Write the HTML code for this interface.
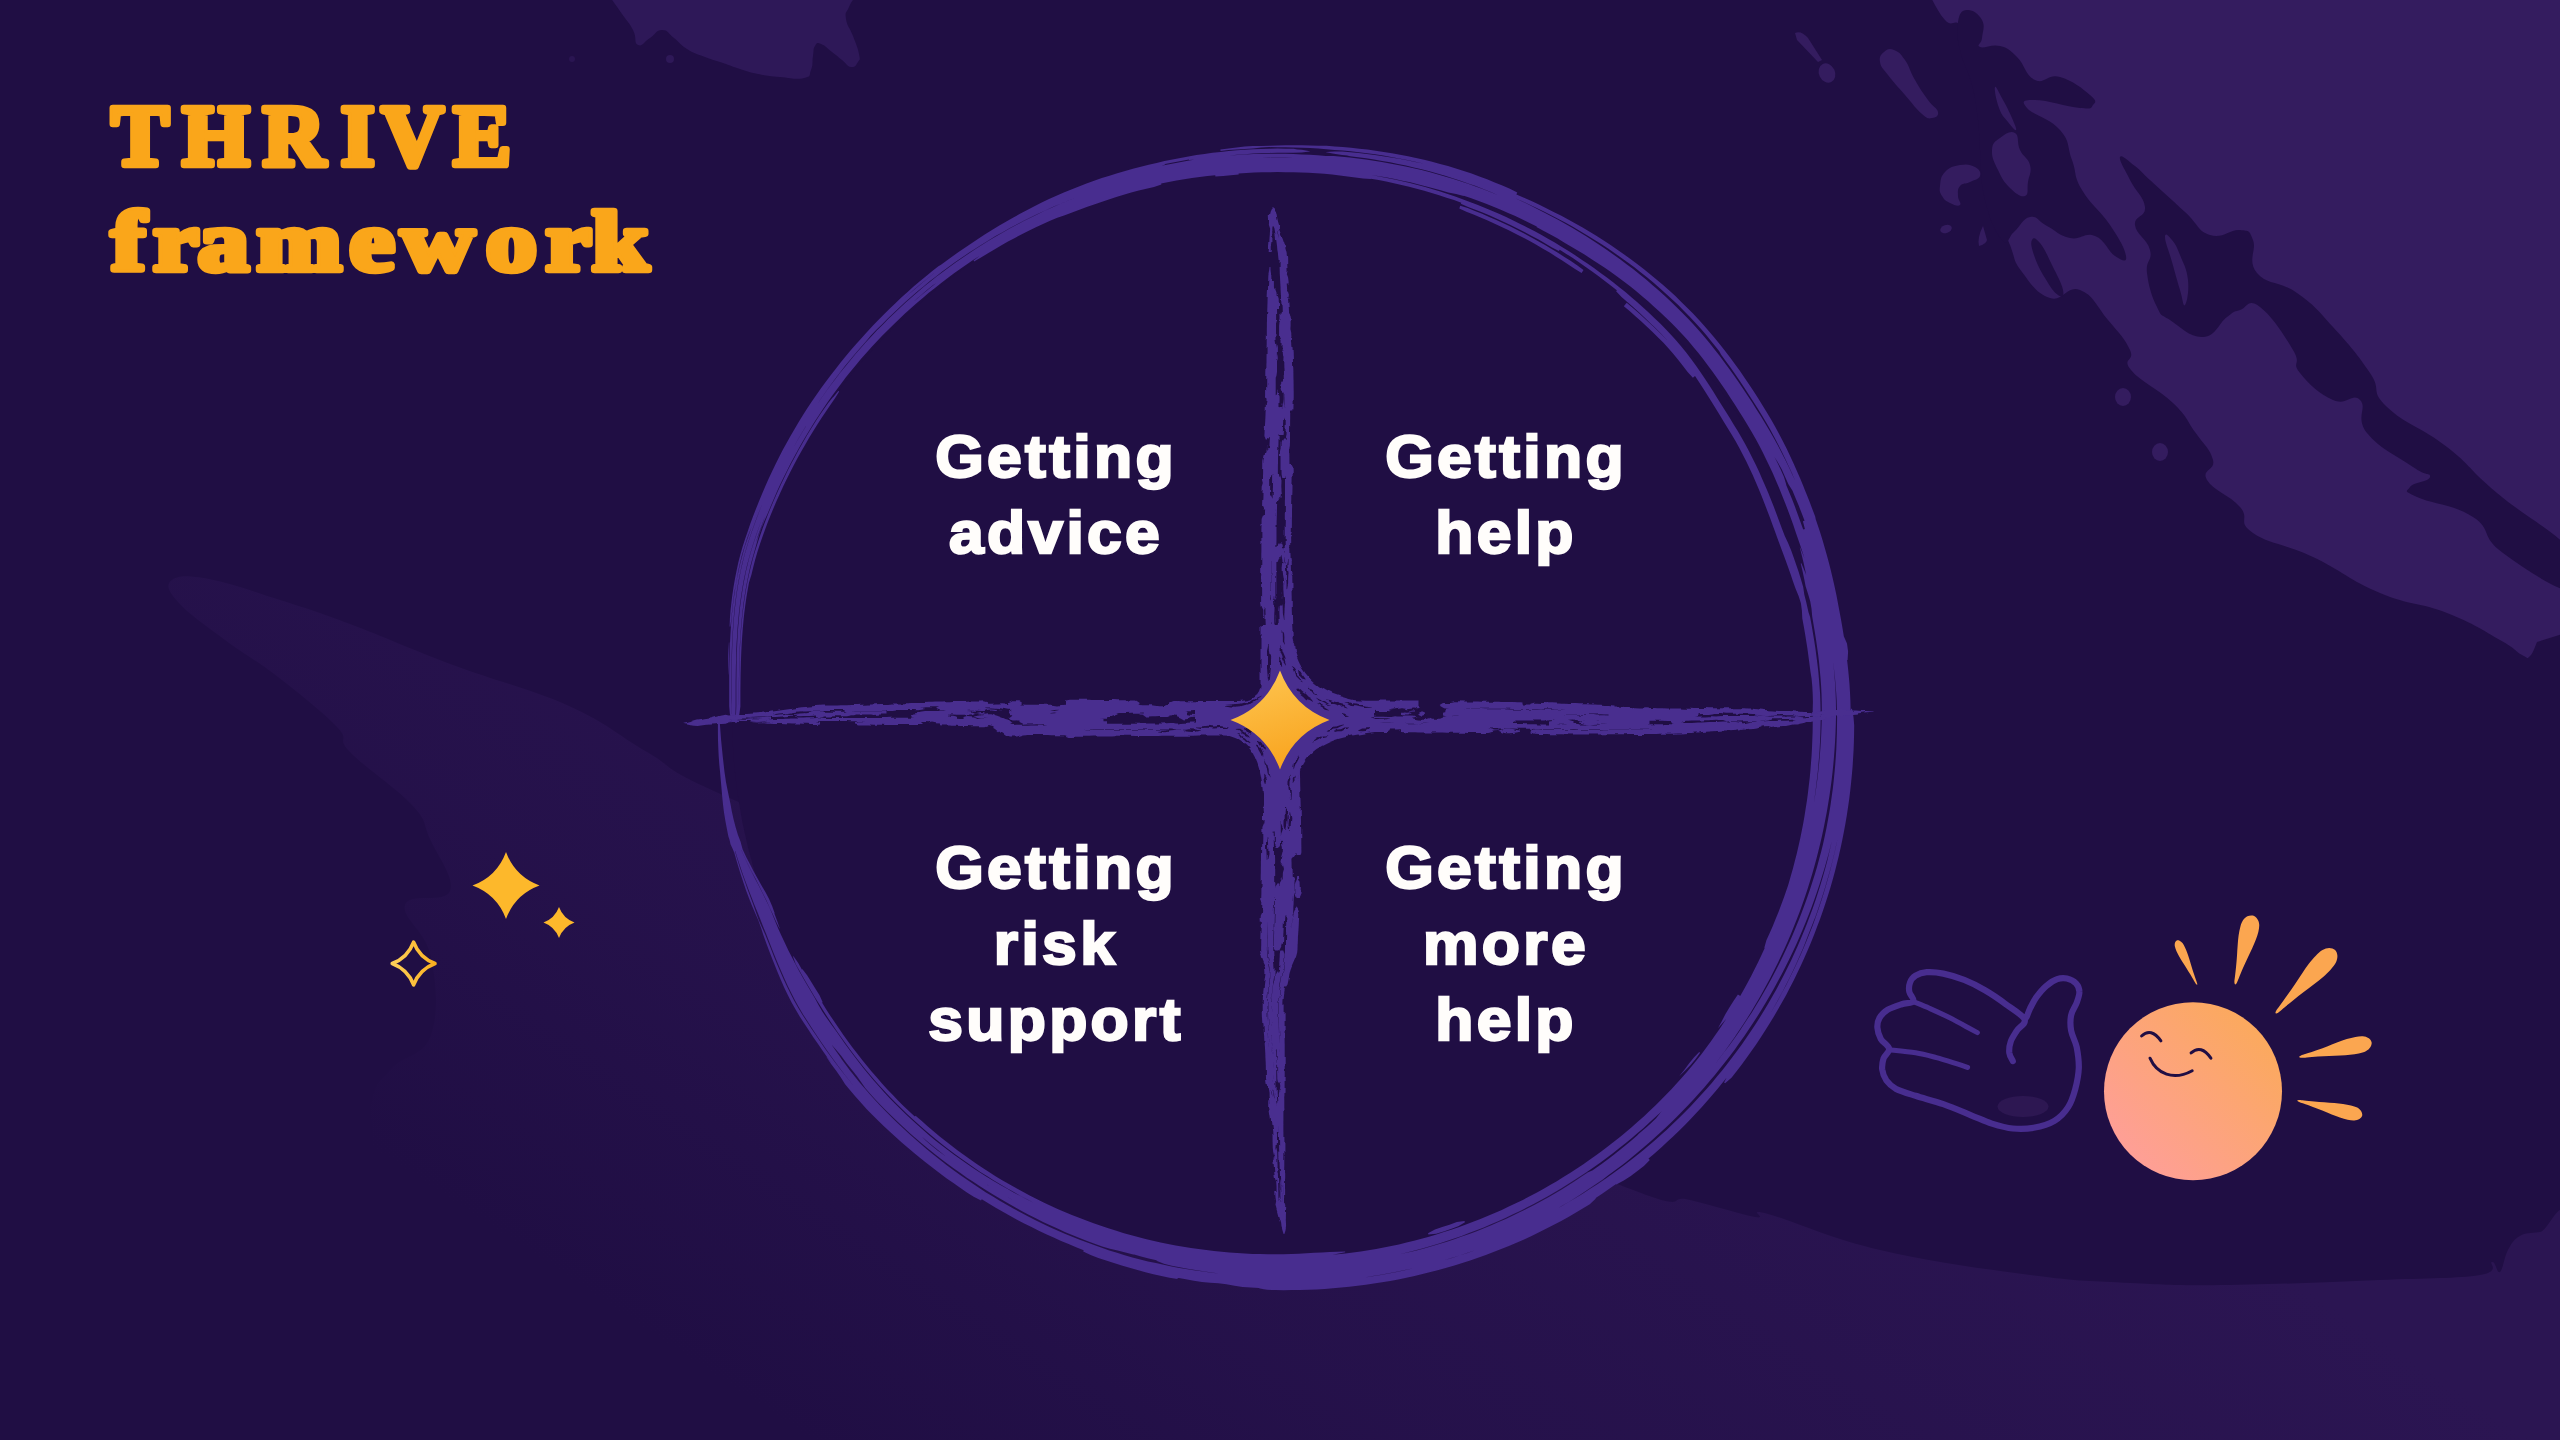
<!DOCTYPE html>
<html lang="en"><head><meta charset="utf-8"><title>THRIVE framework</title>
<style>
html,body{margin:0;padding:0;background:#200e44;}
body{width:2560px;height:1440px;position:relative;overflow:hidden;font-family:"Liberation Sans",sans-serif;}
svg{position:absolute;left:0;top:0;}
.q{position:absolute;width:500px;text-align:center;color:#fffdfb;font-weight:700;font-size:60px;line-height:76px;letter-spacing:3.2px;-webkit-text-stroke:2.4px #fffdfb;transform:scaleX(1.04);}
</style></head><body>
<svg width="2560" height="1440" viewBox="0 0 2560 1440">
<defs>
<filter id="rough" x="660" y="190" width="1240" height="1060" filterUnits="userSpaceOnUse"><feTurbulence type="fractalNoise" baseFrequency="0.09" numOctaves="2" seed="4" result="n"/><feDisplacementMap in="SourceGraphic" in2="n" scale="5" xChannelSelector="R" yChannelSelector="G"/></filter>
<linearGradient id="gbot" gradientUnits="userSpaceOnUse" x1="0" y1="900" x2="531" y2="104"><stop offset="0" stop-color="#2b1552" stop-opacity="0"/><stop offset="0.362" stop-color="#2b1552" stop-opacity="0.47"/><stop offset="1" stop-color="#2b1552" stop-opacity="1"/></linearGradient>
<linearGradient id="gstar" x1="0.3" y1="0" x2="0.6" y2="1"><stop offset="0" stop-color="#fdc44f"/><stop offset="1" stop-color="#f9a31d"/></linearGradient>
<linearGradient id="gspk" x1="0" y1="0" x2="1" y2="0"><stop offset="0" stop-color="#fdd05a"/><stop offset="1" stop-color="#fbb020"/></linearGradient>
<linearGradient id="gsun" x1="0.85" y1="0.15" x2="0.15" y2="0.85"><stop offset="0" stop-color="#fba95e"/><stop offset="1" stop-color="#fe9f96"/></linearGradient>
</defs>
<path d="M608,-6C611.7,-0.7 615.3,4.4 622,14C628.7,23.6 628.7,21.7 633,30C637.3,38.3 633.5,42.9 638,45C642.5,47.1 643.6,42 650,38C656.4,34 655.6,30 662,30C668.4,30 667.3,32.9 674,38C680.7,43.1 678.7,43.9 687,49C695.3,54.1 695.4,53.3 705,57C714.6,60.7 713.7,59.8 723,63C732.3,66.2 730.7,66.1 740,69C749.3,71.9 747.3,71.9 758,74C768.7,76.1 767.7,75.9 780,77C792.3,78.1 795.7,79.9 804,78C812.3,76.1 808.6,75.9 811,70C813.4,64.1 811.9,62.4 813,56C814.1,49.6 812.9,49.2 815,46C817.1,42.8 816.5,42.4 821,44C825.5,45.6 826.4,47.7 832,52C837.6,56.3 836.9,56 842,60C847.1,64 846.7,66.5 851,67C855.3,67.5 855.9,65.5 858,62C860.1,58.5 860.3,60.9 859,54C857.7,47.1 856.5,45.3 853,36C849.5,26.7 847.1,26.7 846,19C844.9,11.3 846.1,13.7 849,7C851.9,0.3 854.9,-2.5 857,-6 L860,-10 L606,-10 Z" fill="#2e1858"/>
<circle cx="670" cy="59" r="4" fill="#2e1858"/><circle cx="572" cy="59" r="3" fill="#2a1552"/>
<path d="M172,580C178.2,575.4 187.4,575 209,579C230.6,583 251.8,591 280,600C308.2,609 315.4,611 350,624C384.6,637 409.2,648.6 453,665C496.8,681.4 530.2,688.6 569,706C607.8,723.4 615.8,734 647,752C678.2,770 654.4,764.4 725,796C795.6,827.6 885,860.2 1000,910C1115,959.8 1176,990 1300,1045C1424,1100 1542,1154 1620,1185C1698,1216 1663,1193.6 1690,1200C1717,1206.4 1739.4,1214.2 1755,1217C1770.6,1219.8 1743,1207.4 1768,1214C1793,1220.6 1827.6,1237.8 1880,1250C1932.4,1262.2 1980,1268.4 2030,1275C2080,1281.6 2090,1281 2130,1283C2170,1285 2180,1285.6 2230,1285C2280,1284.4 2330,1282 2380,1280C2430,1278 2457.6,1278.6 2480,1275C2502.4,1271.4 2488,1262.6 2492,1262C2496,1261.4 2496.8,1274.4 2500,1272C2503.2,1269.6 2504,1257.2 2508,1250C2512,1242.8 2513.6,1239.6 2520,1236C2526.4,1232.4 2530,1233.6 2540,1232C2550,1230.4 2564,1184.4 2570,1228C2576,1271.6 3009.6,1405.6 2570,1450C2130.4,1494.4 811.6,1508.2 372,1450C-67.6,1391.8 372,1229 372,1159C372,1089 368,1118.2 372,1100C376,1081.8 380.2,1081 392,1068C403.8,1055 423.2,1057.2 431,1035C438.8,1012.8 436.2,983 431,957C425.8,931 401.2,918.2 405,905C408.8,891.8 445,904.2 450,891C455,877.8 437.6,856.2 430,839C422.4,821.8 428,822.4 412,805C396,787.6 365,767.6 350,752C335,736.4 351.4,742 337,727C322.6,712 300.4,694.4 278,677C255.6,659.6 245,655 225,640C205,625 188.6,614 178,602C167.4,590 165.8,584.6 172,580Z" fill="url(#gbot)"/>
<path d="M1927,-10C1931.2,-3 1937.3,11.8 1945,20C1952.7,28.2 1953.7,18 1960,25C1966.3,32 1966.2,36 1972,50C1977.8,64 1980.8,68.7 1985,85C1989.2,101.3 1988.4,104.8 1990,120C1991.6,135.2 1990.8,131.3 1992,150C1993.2,168.7 1990.8,177.8 1995,200C1999.2,222.2 2003.7,228.2 2010,245C2016.3,261.8 2012.7,259.6 2022,272C2031.3,284.4 2036.5,293.8 2050,298C2063.5,302.2 2066.5,284.9 2080,290C2093.5,295.1 2096.3,306 2108,320C2119.7,334 2124.6,338.3 2130,350C2135.4,361.7 2121,357.6 2131,370C2141,382.4 2158.1,388.5 2173,403C2187.9,417.5 2185.7,418.7 2195,432C2204.3,445.3 2210.2,448.8 2213,460C2215.8,471.2 2200.7,469 2207,480C2213.3,491 2229.3,494.6 2240,507C2250.7,519.4 2236,521.3 2253,533C2270,544.7 2283.4,543 2313,557C2342.6,571 2348.7,579.9 2380,593C2411.3,606.1 2419,602 2447,613C2475,624 2482.5,630.2 2500,640C2517.5,649.8 2515,651.3 2522,655C2529,658.7 2526.5,659 2530,656C2533.5,653 2535.4,645.3 2537,642 L2575,630 L2575,-10 L1927,-10 Z" fill="#341c5f"/>
<path d="M1958,22C1959.6,12.7 1961.4,10.5 1967,10C1972.6,9.5 1978.5,13.5 1982,20C1985.5,26.5 1982.5,31.7 1982,38C1981.5,44.3 1975.8,45.1 1980,47C1984.2,48.9 1991.4,43.7 2000,46C2008.6,48.3 2008.8,49.1 2017,57C2025.2,64.9 2025,75.3 2035,80C2045,84.7 2047.2,73.5 2060,77C2072.8,80.5 2082.3,88.5 2090,95C2097.7,101.5 2095.3,102 2093,105C2090.7,108 2093.5,109.2 2080,108C2066.5,106.8 2047.4,100 2035,100C2022.6,100 2021.2,101 2027,108C2032.8,115 2049.5,117.9 2060,130C2070.5,142.1 2066.9,146 2072,160C2077.1,174 2073.1,174.8 2082,190C2090.9,205.2 2099.7,209.6 2110,225C2120.3,240.4 2124.8,248.8 2126,256C2127.2,263.2 2122.2,260.7 2115,256C2107.8,251.3 2105.5,240.2 2095,236C2084.5,231.8 2081.2,240.3 2070,238C2058.8,235.7 2056.3,230.9 2047,226C2037.7,221.1 2037.7,215.6 2030,217C2022.3,218.4 2020.5,226.6 2014,232C2007.5,237.4 2008.8,247.5 2002,240C1995.2,232.5 1990.1,221 1985,200C1979.9,179 1981.6,168.7 1980,150C1978.4,131.3 1979.9,135.2 1978,120C1976.1,104.8 1976.2,101.3 1972,85C1967.8,68.7 1963.3,64.7 1960,50C1956.7,35.3 1956.4,31.3 1958,22Z" fill="#200e44"/>
<path d="M1995,87C1995.9,85.1 1999,92.8 2003,100C2007,107.2 2009,111 2012,118C2015,125 2016.9,129.1 2016,130C2015.1,130.9 2012,127.1 2008,122C2004,116.9 2002,116.2 1999,108C1996,99.8 1994.1,88.9 1995,87Z" fill="#341c5f"/>
<path d="M2015,133C2019.7,135.8 2016.5,142.5 2020,150C2023.5,157.5 2028.1,157.5 2030,165C2031.9,172.5 2029.2,174.8 2028,182C2026.8,189.2 2029.2,194.6 2025,196C2020.8,197.4 2016.3,194.1 2010,188C2003.7,181.9 2002.2,178.9 1998,170C1993.8,161.1 1991.5,157.5 1992,150C1992.5,142.5 1994.6,142 2000,138C2005.4,134 2010.3,130.2 2015,133Z" fill="#341c5f"/>
<path d="M2032,240C2033.4,237.2 2035.3,237.2 2040,243C2044.7,248.8 2046.6,254 2052,265C2057.4,276 2061.6,283 2063,290C2064.4,297 2062.2,297.8 2058,295C2053.8,292.2 2050.6,287.3 2045,278C2039.4,268.7 2037,263.9 2034,255C2031,246.1 2030.6,242.8 2032,240Z" fill="#200e44"/>
<path d="M1940,186C1940.7,180.4 1940.3,176.9 1945,172C1949.7,167.1 1953,166.2 1960,165C1967,163.8 1970.3,164.4 1975,167C1979.7,169.6 1981.2,172.5 1980,176C1978.8,179.5 1974.7,179.7 1970,182C1965.3,184.3 1962.8,182.7 1960,186C1957.2,189.3 1958,191.6 1958,196C1958,200.4 1961.9,203.4 1960,205C1958.1,206.6 1954.2,205.1 1950,203C1945.8,200.9 1944.3,200 1942,196C1939.7,192 1939.3,191.6 1940,186Z" fill="#341c5f"/>
<ellipse cx="1946" cy="229" rx="6" ry="4" fill="#341c5f" transform="rotate(-20 1946 229)"/>
<path d="M1983,226 Q1977,238 1979,246 Q1986,244 1987,240 Z" fill="#341c5f"/>
<path d="M1880,62C1879.1,56.6 1880.7,54.8 1884,52C1887.3,49.2 1889.1,48.1 1894,50C1898.9,51.9 1900.1,53 1905,60C1909.9,67 1909.6,70.7 1915,80C1920.4,89.3 1922.6,92.5 1928,100C1933.4,107.5 1937.1,107.8 1938,112C1938.9,116.2 1935.7,117.5 1932,118C1928.3,118.5 1928.3,119.4 1922,114C1915.7,108.6 1912.9,104.1 1905,95C1897.1,85.9 1893.8,82.7 1888,75C1882.2,67.3 1880.9,67.4 1880,62Z" fill="#341c5f"/>
<path d="M1795,33 Q1801,30 1808,38 L1822,60 L1818,62 L1797,40 Z" fill="#341c5f"/>
<ellipse cx="1827" cy="73" rx="8" ry="10" fill="#341c5f" transform="rotate(-25 1827 73)"/>
<path d="M2120,157C2121.2,153.7 2128,160.6 2135,166C2142,171.4 2138.3,169.3 2150,180C2161.7,190.7 2171,199.2 2185,212C2199,224.8 2197.2,230.8 2210,235C2222.8,239.2 2230,228.8 2240,230C2250,231.2 2249,230 2253,240C2257,250 2246.7,260.6 2257,273C2267.3,285.4 2279.3,280.4 2297,293C2314.7,305.6 2316,308.3 2333,327C2350,345.7 2357.4,354.3 2370,373C2382.6,391.7 2369,389.7 2387,407C2405,424.3 2421.3,426.9 2447,447C2472.7,467.1 2467.1,467.8 2497,493C2526.9,518.2 2556.8,531.9 2575,555C2593.2,578.1 2591.8,592.5 2575,592C2558.2,591.5 2526.8,570.5 2503,553C2479.2,535.5 2493.1,530.1 2473,517C2452.9,503.9 2431.7,504 2417,497C2402.3,490 2407,491.7 2410,487C2413,482.3 2429.3,481.7 2430,477C2430.7,472.3 2427.7,477.3 2413,467C2398.3,456.7 2379.4,448.6 2367,433C2354.6,417.4 2367.9,407.7 2360,400C2352.1,392.3 2347,406.3 2333,400C2319,393.7 2309.3,384.7 2300,373C2290.7,361.3 2302.3,365.4 2293,350C2283.7,334.6 2272.4,316.3 2260,307C2247.6,297.7 2247.7,307.7 2240,310C2232.3,312.3 2235.6,310.7 2227,317C2218.4,323.3 2216.3,336.3 2203,337C2189.7,337.7 2180.7,327 2170,320C2159.3,313 2162.4,318 2157,307C2151.6,296 2148.6,286.3 2147,273C2145.4,259.7 2152.8,261.2 2150,250C2147.2,238.8 2136.2,235 2135,225C2133.8,215 2146.2,217.5 2145,207C2143.8,196.5 2135.8,191.7 2130,180C2124.2,168.3 2118.8,160.3 2120,157Z" fill="#200e44"/>
<path d="M2165,237C2165,231.9 2168.5,235.8 2172,240C2175.5,244.2 2176.3,245.7 2180,255C2183.7,264.3 2186.8,268.3 2188,280C2189.2,291.7 2186.9,302.7 2185,305C2183.1,307.3 2183,300 2180,290C2177,280 2175.5,274.4 2172,262C2168.5,249.6 2165,242.1 2165,237Z" fill="#341c5f"/>
<ellipse cx="2123" cy="397" rx="8" ry="9" fill="#341c5f"/><ellipse cx="2160" cy="452" rx="8" ry="9" fill="#341c5f"/>
<circle cx="1280" cy="716" r="548" fill="#200e44"/>
<path d="M720,732.1L720.1,740.1L720.6,748.1L721.3,756.1L722.1,764.1L723,772.1L724,780L725.8,787.9L726.7,787.8L725.7,779.9L724.5,771.9L723.6,764L722.7,756L721.9,748L721.1,740.1L720.2,732.1ZM735.8,834.9L737.8,842.6L741.8,849.8L745.1,857.2L748.6,864.4L752.4,871.6L756.2,878.6L760,885.7L763.6,892.7L767.2,899.8L770.9,906.7L774.6,913.6L774.8,913.6L772.2,906.2L769.1,899.1L765.4,892.1L761.4,885.2L757.5,878.3L753.6,871.2L749.9,864.1L746.2,856.9L742.7,849.6L740.6,842L737.1,834.6ZM801.7,969.6L804.7,976.8L808.7,983.5L812.7,990.1L816.7,996.7L821.6,1002.8L822.7,1002.2L819.4,995.1L815.3,988.6L811.3,982L807.3,975.4L802.5,969.2ZM913.6,1117.8L919.2,1123.3L925,1128.5L931,1133.6L936.9,1138.6L943,1143.5L949.1,1148.3L955.4,1153L961.6,1157.7L968,1162.2L974.4,1166.7L980.9,1171L987.4,1175.3L994,1179.5L1000.7,1183.5L1007.4,1187.5L1014.2,1191.4L1021,1195.1L1027.9,1198.8L1034.9,1202.4L1041.9,1205.8L1048.9,1209.2L1056,1212.4L1063.2,1215.6L1070.4,1218.6L1077.6,1221.5L1084.9,1224.4L1092.2,1227.1L1099.6,1229.7L1107,1232.2L1114.4,1234.6L1121.8,1236.9L1129.3,1239L1136.9,1241.1L1144.4,1243L1152,1244.9L1159.6,1246.6L1167.2,1248.2L1174.9,1249.7L1182.6,1251.1L1190.3,1252.3L1198,1253.5L1205.7,1254.5L1213.4,1255.5L1221.2,1256.3L1229,1257L1236.7,1257.6L1244.5,1258L1252.3,1258.4L1260.1,1258.7L1267.8,1258.8L1275.6,1258.8L1283.4,1258.8L1291.2,1258.6L1299,1258.3L1306.7,1257.8L1314.5,1257.3L1322.2,1256.4L1329.9,1255.2L1337.6,1253.8L1345.2,1252.2L1345.1,1251.4L1337.3,1251.7L1329.6,1252.1L1321.9,1252.4L1314.2,1252.8L1306.5,1253.3L1298.8,1253.7L1291.1,1254L1283.4,1254.2L1275.7,1254.3L1267.9,1254.3L1260.2,1254.1L1252.5,1253.9L1244.8,1253.5L1237.1,1253.1L1229.4,1252.5L1221.7,1251.8L1214,1251L1206.3,1250.1L1198.6,1249.1L1191,1248L1183.4,1246.8L1175.7,1245.4L1168.1,1244L1160.6,1242.4L1153,1240.7L1145.5,1238.9L1138,1237L1130.5,1235L1123.1,1232.9L1115.6,1230.6L1108.3,1228.3L1100.9,1225.8L1093.6,1223.3L1086.3,1220.6L1079.1,1217.8L1071.9,1214.9L1064.7,1212L1057.6,1208.9L1050.6,1205.7L1043.6,1202.4L1036.6,1198.9L1029.7,1195.4L1022.8,1191.8L1016,1188.1L1009.3,1184.3L1002.6,1180.4L995.9,1176.4L989.4,1172.2L982.8,1168L976.4,1163.7L970,1159.3L963.7,1154.8L957.4,1150.2L951.3,1145.5L945.2,1140.8L939.1,1135.9L933.2,1130.9L927.3,1125.9L921.5,1120.7L915.6,1115.7ZM1428.4,1234.6L1436.2,1233.7L1443.6,1231.4L1450.9,1228.9L1458.3,1226.3L1465,1222.2L1464.5,1220.9L1456.8,1222.1L1449.5,1224.7L1442.2,1227.1L1434.9,1229.5L1428,1233.2ZM1679.7,1075.8L1685.2,1070.4L1690.6,1064.9L1695.6,1059L1700.1,1052.7L1699.2,1051.9L1693.9,1057.6L1689,1063.5L1684.4,1069.7L1679.5,1075.7ZM1718.4,1027.8L1723.5,1022L1728.6,1016.1L1733.2,1009.9L1737.4,1003.3L1741.1,996.5L1737.9,994.6L1733.5,1000.9L1729.4,1007.4L1725.5,1014L1721.9,1020.9L1718.2,1027.7ZM1766.2,948.6L1770.7,942.1L1773.9,935.1L1777,928L1780,920.9L1782.9,913.7L1785.7,906.5L1788.4,899.2L1791,891.9L1793.4,884.5L1795.8,877.2L1798.1,869.8L1800.3,862.3L1802.3,854.9L1804.3,847.4L1805.5,839.7L1805.9,831.8L1805,831.7L1801.9,838.9L1799.6,846.2L1797.6,853.6L1795.6,861L1793.5,868.4L1791.2,875.7L1788.9,883.1L1786.4,890.3L1783.9,897.6L1781.2,904.8L1778.5,911.9L1775.6,919.1L1772.7,926.2L1769.6,933.2L1766.4,940.2L1764.3,947.7ZM1812.9,801.7L1814.9,794.2L1816,786.5L1816.9,778.8L1817.8,771.1L1818.5,763.4L1819.2,755.7L1819.7,747.9L1820.1,740.2L1820.4,732.5L1820.6,724.7L1820.7,717L1820.6,709.2L1820.4,701.5L1820.1,693.7L1819.5,686L1818.9,678.3L1818.1,670.6L1817.2,662.9L1816.1,655.2L1815,647.5L1813.8,639.9L1812.4,632.3L1811,624.7L1809.5,617.1L1807.9,609.6L1806.2,602L1804.3,594.6L1802,587.2L1798.9,580L1795.8,580.8L1797.4,588.3L1799.5,595.7L1801.4,603.1L1803.1,610.5L1804.7,618L1806.2,625.5L1807.6,633.1L1808.9,640.6L1810.1,648.2L1811.3,655.8L1812.3,663.4L1813.2,671L1813.9,678.6L1814.6,686.3L1815.1,693.9L1815.4,701.6L1815.7,709.3L1815.7,716.9L1815.6,724.6L1815.4,732.3L1815.1,740L1814.7,747.6L1814.2,755.3L1813.6,763L1812.9,770.6L1812,778.2L1811.1,785.9L1810,793.5L1809.6,801.2ZM1695,376L1691.2,369.1L1686.6,362.9L1681.8,356.9L1676.8,350.9L1671.7,345.1L1666.4,339.5L1661,334L1655.4,328.6L1649.8,323.3L1644.1,318L1638.4,312.8L1632.6,307.8L1626.7,302.7L1623.8,306.2L1629.6,311.1L1635.4,316.2L1641.1,321.3L1646.7,326.6L1652.3,331.8L1657.8,337.2L1663.2,342.6L1668.4,348.3L1673.4,354L1678.3,360L1683,366L1687.6,372.1L1692.9,377.7ZM1583.5,270.1L1577.4,265.4L1570.9,261.1L1564.4,256.9L1557.9,252.8L1551.2,248.8L1544.6,244.8L1537.8,241L1531,237.2L1524.2,233.6L1517.3,230L1510.4,226.6L1503.4,223.3L1496.3,220L1489.2,216.9L1482.1,213.8L1474.9,210.9L1467.7,208.1L1460.2,205.8L1459.3,208.6L1466.3,211.8L1473.5,214.6L1480.6,217.5L1487.7,220.5L1494.7,223.7L1501.7,226.9L1508.7,230.2L1515.5,233.7L1522.4,237.2L1529.2,240.8L1535.9,244.6L1542.5,248.4L1549.2,252.3L1555.7,256.4L1562.2,260.5L1568.6,264.7L1575,268.9L1581.6,273ZM1238.6,173.2L1230.7,173.4L1222.9,173.9L1215.2,174.8L1215.4,176.5L1223.2,176L1230.9,175.2L1238.7,174.5ZM1161.1,183.3L1153.3,184L1145.6,185.8L1138,187.7L1130.4,189.8L1122.9,191.9L1115.4,194.2L1107.9,196.6L1100.5,199.1L1093.1,201.7L1085.7,204.3L1078.3,207.1L1071,210L1063.9,213.1L1056.9,216.8L1057.3,217.7L1064.8,215.3L1072.1,212.6L1079.4,209.8L1086.7,207.1L1094.1,204.4L1101.4,201.9L1108.8,199.4L1116.3,197L1123.7,194.7L1131.2,192.6L1138.8,190.6L1146.4,188.7L1154,187L1161.4,184.5ZM838.3,391L833.4,397.1L828.9,403.6L824.5,410.1L820.1,416.7L815.9,423.3L811.7,430L807.7,436.7L803.7,443.5L799.8,450.3L796,457.2L792.3,464.2L788.7,471.1L785.2,478.2L781.8,485.3L778.5,492.4L775.3,499.6L772.2,506.9L769.2,514.2L766.3,521.5L763.5,528.9L760.9,536.3L758.3,543.7L755.9,551.2L753.7,558.8L751.7,566.4L749.9,574.1L748.9,581.9L749.2,582L751.5,574.5L753.3,566.9L755.3,559.3L757.5,551.7L759.9,544.3L762.5,536.8L765.1,529.4L767.9,522.1L770.8,514.8L773.8,507.5L776.9,500.3L780.1,493.2L783.4,486L786.8,479L790.3,472L793.9,465L797.6,458.1L801.4,451.2L805.3,444.4L809.3,437.6L813.3,430.9L817.5,424.3L821.7,417.7L826.1,411.2L830.5,404.7L835,398.3L839.2,391.6ZM719.5,716L719.6,724L719.6,732.1L720,740.1L720.6,748.1L721.3,756.1L722,764.1L722.9,772.1L723.9,780.1L725.1,788L726.4,795.9L727.8,803.8L729.6,811.6L731,819.5L732.4,827.4L734.5,835.1L737,842.8L741.4,849.9L744.6,857.3L748.1,864.6L751.7,871.8L755.6,878.8L759.2,885.9L762.7,893.1L766.2,900.1L769.5,907.2L772.8,914.3L776,921.5L779.5,928.4L779.8,928.4L777.2,921L774.5,913.7L771.5,906.5L768.1,899.4L764.5,892.4L760.6,885.5L756.6,878.5L753,871.4L749.3,864.2L745.7,857L742.3,849.7L740.7,841.9L737.8,834.4L735.5,826.8L733.5,819L731.8,811.3L730.4,803.4L728.7,795.6L727.1,787.7L725.6,779.9L724.4,771.9L723.5,764L722.6,756L721.8,748L721.1,740.1L720.5,732L719.9,724L719.8,716ZM793,956.6L795.7,963.9L799.5,970.8L803.3,977.5L807.2,984.3L811.2,991L815.2,997.7L819.3,1004.3L823.5,1010.9L827.7,1017.4L832,1023.9L836.4,1030.4L840.8,1036.8L845.3,1043.1L850,1049.4L854.7,1055.7L859.4,1061.8L864.3,1067.9L869.3,1073.9L874.4,1079.9L879.5,1085.8L884.8,1091.5L890.2,1097.2L895.6,1102.8L901.2,1108.3L906.8,1113.7L912.5,1119.1L918.3,1124.3L924.2,1129.5L930.1,1134.5L936.2,1139.5L942.3,1144.4L948.4,1149.2L954.7,1153.9L961,1158.6L967.4,1163.1L973.8,1167.5L980.3,1171.9L986.9,1176.1L993.5,1180.3L1000.2,1184.3L1007,1188.3L1013.8,1192.1L1020.6,1195.9L1027.5,1199.5L1034.5,1203.1L1041.5,1206.6L1048.6,1209.9L1055.7,1213.2L1062.8,1216.3L1070,1219.4L1077.3,1222.3L1084.6,1225.2L1091.9,1227.9L1099.3,1230.5L1106.7,1233.1L1114.1,1235.5L1121.6,1237.8L1129.1,1240L1136.6,1242.1L1144.1,1244.1L1151.7,1246L1159.3,1247.8L1167,1249.5L1174.6,1251.1L1182.3,1252.5L1190,1253.9L1197.7,1255.1L1205.5,1256.3L1213.2,1257.3L1221,1258.2L1228.8,1259L1236.6,1259.7L1244.3,1260.3L1252.2,1260.8L1260,1261.2L1267.8,1261.4L1275.6,1261.6L1283.4,1261.6L1291.3,1261.6L1299.1,1261.4L1306.9,1261.1L1314.7,1260.7L1322.5,1260.2L1330.3,1259.6L1338.1,1258.8L1345.9,1258L1353.7,1257L1361.4,1255.9L1369.1,1254.7L1376.9,1253.4L1384.6,1252L1392.3,1250.5L1399.9,1248.9L1407.5,1247.1L1415.1,1245.3L1422.7,1243.3L1430.3,1241.2L1437.8,1239L1445.3,1236.7L1452.7,1234.3L1460.2,1231.8L1467.5,1229.2L1474.9,1226.4L1482.2,1223.6L1489.4,1220.7L1496.7,1217.6L1503.8,1214.5L1511,1211.2L1517.5,1206.8L1524.2,1202.7L1531.1,1199.1L1538.1,1195.6L1545.1,1192L1552.3,1188.9L1559.4,1185.5L1566.1,1181.4L1572.7,1177.3L1579.3,1173L1585.8,1168.6L1592.2,1164.2L1598.6,1159.6L1604.9,1155L1611.1,1150.2L1617.3,1145.4L1623.4,1140.5L1629.4,1135.5L1635.3,1130.4L1641.2,1125.2L1647,1119.9L1652.7,1114.6L1658.3,1109.2L1663.8,1103.6L1669.3,1098L1674.7,1092.4L1680,1086.6L1685.2,1080.8L1690.3,1074.8L1695.3,1068.8L1700.2,1062.8L1705,1056.6L1709.8,1050.4L1714.4,1044.1L1718.9,1037.8L1723.4,1031.4L1727.7,1024.9L1732,1018.4L1736.1,1011.8L1740.2,1005.1L1744.1,998.4L1748,991.6L1751.7,984.8L1755.3,977.9L1758.9,971L1762.3,964L1765.7,957L1768.9,949.9L1772,942.8L1775.1,935.6L1778,928.4L1780.8,921.2L1783.5,913.9L1786.1,906.6L1788.6,899.3L1791,891.9L1793.3,884.5L1795.5,877.1L1797.6,869.6L1799.6,862.1L1801.5,854.6L1803.2,847.1L1804.9,839.5L1806.5,832L1807.9,824.4L1809.3,816.8L1810.6,809.2L1811.7,801.5L1812.8,793.9L1813.7,786.2L1814.6,778.5L1815.3,770.9L1816,763.2L1816.5,755.5L1817,747.8L1817.3,740.1L1817.6,732.4L1817.7,724.7L1817.7,717L1817.7,709.2L1817,701.5L1816.4,693.9L1815.9,686.2L1815.3,678.5L1815.1,670.8L1814.3,663.2L1813.3,655.5L1812.2,647.9L1811.1,640.3L1809.8,632.7L1808.5,625.1L1807.1,617.6L1804.5,610.2L1802.3,602.9L1800.9,595.3L1799.8,587.7L1797.9,580.3L1795.5,573L1793,565.7L1790.5,558.5L1787.9,551.3L1785.2,544.1L1782.6,536.9L1780,529.7L1777.4,522.5L1774.7,515.3L1772,508.2L1769.2,501L1766.4,493.9L1763.4,486.8L1760.4,479.8L1757.3,472.7L1754,465.8L1750.7,458.8L1747.2,452L1743.6,445.2L1739.8,438.5L1735.9,431.8L1731.9,425.2L1727.9,418.7L1723.8,412.1L1719.8,405.5L1715.7,399L1711.6,392.4L1707.4,385.9L1703.1,379.4L1698.7,372.9L1694.2,366.6L1689.6,360.3L1684.9,354.1L1680,348L1674.9,342.1L1669.7,336.3L1664.3,330.6L1658.8,325.1L1653.2,319.6L1647.6,314.2L1641.8,308.9L1636,303.7L1630.2,298.6L1624.1,293.7L1617.5,289.4L1616.1,291.2L1621.5,296.9L1627.3,302L1633.1,307.1L1638.9,312.3L1644.5,317.6L1650.1,322.9L1655.7,328.3L1661.1,333.8L1666.5,339.4L1671.6,345.2L1676.6,351.1L1681.4,357.2L1686.1,363.4L1690.6,369.6L1695,376L1699.3,382.4L1703.5,388.9L1707.6,395.4L1711.7,401.9L1715.7,408.4L1719.7,415L1723.6,421.5L1727.6,428L1731.6,434.5L1735.5,441.1L1739.2,447.8L1742.7,454.5L1746.2,461.3L1749.5,468.2L1752.7,475.1L1755.7,482.1L1758.7,489.1L1761.6,496.1L1764.4,503.2L1767.1,510.2L1769.8,517.3L1772.4,524.4L1775,531.6L1777.6,538.7L1780.2,545.8L1782.9,552.9L1785.5,560L1788.1,567.2L1790.6,574.3L1793,581.6L1795.6,588.8L1798.6,595.9L1800.9,603.2L1801.9,610.8L1802.3,618.5L1803.7,626L1805,633.5L1806.2,641L1807.4,648.5L1808.4,656.1L1809.4,663.6L1810.4,671.2L1811.6,678.8L1812.3,686.4L1812.7,694L1812.9,701.7L1812.7,709.3L1812.8,716.9L1812.7,724.6L1812.6,732.2L1812.3,739.9L1812,747.5L1811.6,755.1L1811,762.7L1810.4,770.4L1809.7,778L1808.8,785.6L1807.9,793.2L1806.9,800.7L1805.7,808.3L1804.5,815.9L1803.2,823.4L1801.7,830.9L1800.2,838.4L1798.5,845.9L1796.8,853.4L1794.9,860.8L1793,868.3L1790.9,875.6L1788.8,883L1786.5,890.4L1784.2,897.7L1781.7,904.9L1779.1,912.2L1776.4,919.4L1773.7,926.6L1770.8,933.7L1767.8,940.8L1764.7,947.9L1761.5,954.9L1758.2,961.9L1754.8,968.8L1751.3,975.7L1747.7,982.5L1744,989.3L1740.2,996L1736.3,1002.7L1732.3,1009.3L1728.2,1015.8L1724,1022.3L1719.7,1028.8L1715.3,1035.1L1710.8,1041.4L1706.2,1047.7L1701.6,1053.9L1696.8,1059.9L1691.9,1066L1686.9,1071.9L1681.9,1077.8L1676.7,1083.6L1671.5,1089.3L1666.2,1094.9L1660.7,1100.5L1655.2,1106L1649.7,1111.4L1644,1116.7L1638.2,1121.9L1632.4,1127L1626.5,1132.1L1620.6,1137L1614.5,1141.9L1608.4,1146.7L1602.2,1151.4L1596,1156L1589.7,1160.5L1583.3,1164.9L1576.8,1169.3L1570.3,1173.5L1563.7,1177.6L1557.1,1181.7L1550.7,1186.2L1544.4,1190.8L1537.7,1194.7L1530.9,1198.6L1523.9,1202.1L1516.6,1204.8L1509.1,1207.1L1502,1210.4L1494.9,1213.5L1487.7,1216.5L1480.5,1219.4L1473.3,1222.3L1466,1225L1458.7,1227.6L1451.3,1230.1L1443.9,1232.4L1436.5,1234.7L1429,1236.9L1421.6,1238.9L1414,1240.9L1406.5,1242.7L1398.9,1244.5L1391.3,1246.1L1383.7,1247.6L1376.1,1249L1368.4,1250.3L1360.7,1251.5L1353,1252.5L1345.3,1253.5L1337.6,1254.3L1329.9,1255L1322.2,1255.7L1314.4,1256.2L1306.7,1256.6L1298.9,1256.9L1291.2,1257L1283.4,1257.1L1275.6,1257.1L1267.9,1256.9L1260.1,1256.6L1252.4,1256.3L1244.6,1255.8L1236.9,1255.2L1229.2,1254.6L1221.5,1253.8L1213.8,1252.9L1206.1,1251.9L1198.4,1250.7L1190.7,1249.5L1183.1,1248.2L1175.5,1246.8L1167.9,1245.2L1160.3,1243.6L1152.7,1241.9L1145.2,1240L1137.7,1238L1130.2,1236L1122.8,1233.8L1115.4,1231.5L1108,1229.2L1100.6,1226.7L1093.3,1224.1L1086,1221.4L1078.8,1218.6L1071.6,1215.7L1064.4,1212.7L1057.3,1209.6L1050.2,1206.4L1043.2,1203.1L1036.2,1199.7L1029.3,1196.2L1022.4,1192.6L1015.6,1188.9L1008.8,1185.1L1002.1,1181.2L995.4,1177.2L988.8,1173.1L982.3,1168.9L975.8,1164.6L969.4,1160.2L963.1,1155.7L956.8,1151.1L950.6,1146.5L944.4,1141.7L938.3,1136.9L932.4,1131.9L926.4,1126.9L920.6,1121.8L914.8,1116.5L909.1,1111.2L903.5,1105.9L898,1100.4L892.6,1094.8L887.2,1089.2L882,1083.5L876.9,1077.6L871.8,1071.7L866.9,1065.8L862,1059.7L857.2,1053.6L852.5,1047.4L847.9,1041.2L843.4,1034.9L839,1028.5L834.6,1022.1L830.3,1015.7L826.1,1009.2L822,1002.6L817.9,996L813.8,989.4L809.8,982.8L805.8,976.2L801.9,969.4L798.1,962.7L793.5,956.3ZM1560.6,248.2L1554.1,243.8L1547.3,239.9L1540.5,236L1533.7,232.3L1526.7,228.6L1519.7,225.1L1512.7,221.6L1505.6,218.3L1498.5,215L1491.3,211.9L1484.1,208.9L1476.8,206L1469.5,203.1L1462,200.8L1460.9,203.8L1468.1,206.9L1475.4,209.7L1482.6,212.6L1489.8,215.6L1496.9,218.7L1504,221.9L1511,225.2L1518,228.7L1524.9,232.2L1531.8,235.9L1538.6,239.6L1545.3,243.4L1552,247.4L1558.9,251.1ZM1371.1,177.4L1363.5,175.1L1355.8,173.9L1348,172.9L1340.2,171.9L1332.4,171.1L1324.6,170.4L1316.7,169.8L1308.9,169.3L1301.1,169L1293.2,168.7L1285.4,168.6L1277.5,168.9L1269.7,169.6L1261.9,170.3L1261.9,170.8L1269.7,171.1L1277.5,171.7L1285.3,172L1293.1,172.1L1300.9,172.4L1308.7,172.7L1316.5,173.2L1324.3,173.8L1332.1,174.6L1339.8,175.4L1347.5,176.4L1355.3,177.5L1363,178.6L1370.8,178.9ZM1153.2,183.9L1145.3,184.6L1137.7,186.6L1130.1,188.6L1122.6,190.8L1115,193.1L1107.6,195.5L1100.3,198.6L1092.8,201L1085.4,203.5L1078,206.4L1070.8,209.3L1063.4,212.2L1056.2,215.1L1049,218.3L1041.8,221.6L1034.7,225L1027.6,228.4L1020.6,232L1013.7,235.7L1006.8,239.5L999.9,243.4L993.1,247.4L986.4,251.5L979.7,255.7L973.5,260.5L974.1,261.4L981,257.6L987.6,253.5L994.4,249.4L1001.1,245.5L1008,241.6L1014.9,237.9L1021.8,234.3L1028.8,230.7L1035.9,227.3L1043,224L1050.1,220.8L1057.3,217.7L1064.5,214.5L1071.6,211.4L1079,208.7L1086.3,206L1093.6,203.1L1100.9,200.4L1108.5,198.3L1115.9,195.9L1123.4,193.6L1130.9,191.5L1138.5,189.4L1146,187.5L1153.4,184.5ZM833.1,396.9L828.2,403.1L823.6,409.5L819.1,416L814.9,422.6L810.7,429.3L806.6,436.1L802.6,442.9L798.7,449.7L795,456.7L791.3,463.6L787.7,470.6L784.2,477.7L780.8,484.8L777.5,492L774.3,499.2L771.2,506.5L768.2,513.8L765.4,521.1L762.6,528.5L760,536L757.5,543.4L755.1,551L752.9,558.5L750.9,566.2L749.1,573.9L747.5,581.6L746.1,589.3L744.8,597.1L743.7,604.9L742.7,612.7L741.9,620.5L741.2,628.4L740.6,636.2L740.2,644L739.8,651.8L739.5,659.6L739.3,667.4L739.1,675.2L739,683L738.9,690.8L738.9,698.6L738.9,706.3L738.2,714.1L734.8,721.9L736.9,721.9L739.4,714.1L740.4,706.4L740.4,698.6L740.4,690.9L740.5,683.1L740.6,675.3L740.8,667.6L741,659.8L741.3,652L741.7,644.2L742.2,636.4L742.8,628.6L743.5,620.8L744.3,613L745.3,605.2L746.4,597.5L747.7,589.7L749.1,582L750.7,574.3L752.5,566.6L754.5,559L756.7,551.5L759.1,544L761.6,536.5L764.2,529.1L767,521.7L769.8,514.4L772.8,507.1L775.9,499.9L779.1,492.7L782.4,485.6L785.8,478.5L789.3,471.4L792.9,464.5L796.6,457.5L800.4,450.6L804.3,443.8L808.2,437L812.3,430.3L816.5,423.7L820.7,417L824.9,410.4L829.1,403.8L833.3,397.1ZM719,716L719.1,724L719.3,732.1L719.7,740.1L720.2,748.1L720.8,756.2L721.6,764.2L722.4,772.1L723.4,780.1L724.5,788.1L725.7,796L727,803.9L728.3,811.9L729.8,819.8L731.4,827.6L733.4,835.4L735.7,843.1L739.9,850.3L742.9,857.8L746.1,865.1L749.4,872.4L752.9,879.7L756.3,886.9L759.7,894.1L763.1,901.2L766.3,908.4L769.4,915.7L772.3,923L775.3,930.2L778.4,937.5L781.6,944.6L784.9,951.8L788.3,958.9L791.8,965.9L795.4,972.9L799.1,979.9L802.9,986.7L806.8,993.6L810.8,1000.3L814.9,1007L819.1,1013.7L823.4,1020.3L827.7,1026.9L832.1,1033.4L836.6,1039.8L841.2,1046.2L845.9,1052.6L850.6,1058.9L855.4,1065.1L860.4,1071.3L865.4,1077.3L870.5,1083.3L875.8,1089.2L881.1,1095L886.5,1100.7L892.1,1106.4L897.7,1111.9L903.5,1117.3L909.3,1122.6L915.1,1127.9L921.1,1133.1L927.1,1138.2L933.2,1143.1L939.4,1148L945.7,1152.9L952,1157.6L958.4,1162.2L964.8,1166.7L971.4,1171.1L978,1175.5L984.6,1179.7L991.3,1183.8L998.1,1187.9L1004.9,1191.8L1011.8,1195.6L1018.7,1199.4L1025.7,1203L1032.8,1206.5L1039.9,1210L1047,1213.3L1054.2,1216.5L1061.4,1219.6L1068.7,1222.6L1076,1225.5L1083.4,1228.3L1090.8,1231L1098.2,1233.6L1105.7,1236L1113.2,1238.4L1120.7,1240.6L1128.3,1242.8L1135.8,1244.8L1143.5,1246.8L1151.1,1248.6L1158.8,1250.3L1166.5,1251.9L1174.2,1253.4L1181.9,1254.7L1189.7,1256L1197.4,1257.2L1205.2,1258.2L1213,1259.2L1220.8,1260L1228.6,1260.7L1236.4,1261.3L1244.3,1261.8L1252.1,1262.2L1259.9,1262.5L1267.8,1262.7L1275.6,1262.7L1283.4,1262.7L1291.3,1262.5L1299.1,1262.3L1306.9,1261.9L1314.8,1261.4L1322.6,1260.8L1330.4,1260.1L1338.2,1259.3L1345.9,1258.4L1353.7,1257.3L1361.4,1256.2L1369.2,1254.9L1376.9,1253.6L1384.6,1252.1L1392.3,1250.5L1399.9,1248.8L1407.5,1247L1415.1,1245.1L1422.7,1243.1L1430.2,1241L1437.7,1238.8L1445.2,1236.4L1452.6,1234L1460,1231.4L1467.4,1228.8L1474.7,1226L1482,1223.2L1489.3,1220.2L1496.5,1217.1L1503.6,1214L1510.7,1210.7L1517.8,1207.3L1524.8,1203.8L1531.8,1200.3L1538.7,1196.6L1545.5,1192.8L1552.3,1189L1559.1,1185L1565.7,1180.9L1572.4,1176.8L1578.9,1172.5L1585.4,1168.2L1591.9,1163.7L1598.3,1159.2L1604.6,1154.6L1610.8,1149.8L1617,1145L1623.1,1140.1L1629.1,1135.2L1635.1,1130.1L1640.9,1124.9L1646.7,1119.7L1652.5,1114.4L1658.1,1109L1663.7,1103.5L1669.2,1097.9L1674.6,1092.3L1679.9,1086.5L1685.1,1080.7L1690.3,1074.8L1695.3,1068.9L1700.3,1062.8L1705.1,1056.7L1709.9,1050.5L1714.6,1044.3L1719.2,1038L1723.7,1031.6L1728,1025.1L1732.3,1018.6L1736.5,1012L1740.6,1005.4L1744.6,998.7L1748.5,991.9L1752.4,985.1L1756.1,978.3L1759.7,971.4L1763.2,964.4L1766.6,957.4L1769.9,950.3L1773,943.2L1776.1,936.1L1779.1,928.9L1782,921.7L1784.8,914.4L1787.5,907.1L1790,899.8L1792.5,892.4L1794.9,885L1797.1,877.6L1799.3,870.1L1801.4,862.6L1803.3,855.1L1805.1,847.6L1806.9,840L1808.5,832.4L1810.1,824.8L1811.5,817.2L1812.8,809.6L1814,801.9L1815.1,794.2L1816.1,786.5L1817,778.8L1817.9,771.1L1818.5,763.4L1819.1,755.7L1819.6,747.9L1820,740.2L1820.3,732.5L1820.5,724.7L1820.6,717L1820.5,709.2L1820.3,701.5L1820,693.7L1819.5,686L1818.9,678.3L1818.2,670.6L1817.3,662.9L1816.3,655.2L1815.3,647.5L1814.1,639.9L1812.8,632.2L1811.5,624.6L1810.1,617L1807.6,609.6L1805.2,602.2L1804.3,594.6L1803.2,586.9L1801,579.5L1798.7,572.1L1796.2,564.8L1793.7,557.5L1791.1,550.2L1788.1,543.1L1784.8,536.1L1782.1,528.9L1779.4,521.7L1776.7,514.5L1774,507.3L1771.2,500.2L1768.3,493.1L1765.3,485.9L1762.2,478.9L1759.1,471.8L1755.8,464.8L1752.4,457.9L1748.9,451L1745.3,444.2L1741.5,437.5L1737.6,430.8L1733.5,424.2L1729.5,417.6L1725.4,411L1721.3,404.4L1717.2,397.9L1713.1,391.3L1708.9,384.7L1704.6,378.2L1700.2,371.7L1695.7,365.3L1691.1,359L1686.4,352.8L1681.5,346.7L1676.4,340.7L1671.2,334.9L1665.8,329.2L1660.2,323.6L1654.6,318.2L1648.9,312.8L1643.1,307.5L1637.3,302.3L1631.4,297.2L1625.4,292.1L1619.3,287.2L1613.1,282.3L1606.9,277.5L1600.6,272.9L1594.3,268.3L1587.8,263.8L1581.3,259.4L1574.8,255L1568.2,250.8L1561.5,246.7L1554.8,242.6L1548,238.7L1541.2,234.8L1534.3,231.1L1527.3,227.4L1520.3,223.9L1513.3,220.4L1506.2,217.1L1499,213.8L1491.8,210.7L1484.6,207.7L1477.3,204.8L1469.9,201.9L1462.6,199.2L1455.2,196.6L1447.7,194L1440.3,191.6L1432.7,189.3L1425.2,187.1L1417.6,185L1410,183.1L1402.3,181.2L1394.7,179.5L1387,177.9L1379.2,176.4L1371.5,175L1363.7,173.7L1356,172.5L1348.2,171.4L1340.4,170.5L1332.5,169.7L1324.7,168.9L1316.8,168.3L1309,167.8L1301.1,167.4L1293.3,167.2L1285.4,167L1277.5,167L1269.7,167L1261.8,167.2L1253.9,167.5L1246.1,168.2L1238.2,169.1L1230.4,170.2L1222.6,171.1L1222.7,171.4L1230.5,170.9L1238.4,170.8L1246.2,170.8L1254.1,170.8L1261.9,170.6L1269.7,170.4L1277.5,170.4L1285.4,170.4L1293.2,170.6L1301,170.9L1308.8,171.3L1316.6,171.8L1324.4,172.4L1332.2,173.1L1340,174L1347.7,175L1355.5,176L1363.2,177.2L1370.9,178.6L1378.6,180L1386.2,181.5L1393.9,183.2L1401.5,184.9L1409.1,186.8L1416.6,188.8L1424.2,190.8L1431.7,193L1439.1,195.3L1446.5,197.7L1454,200.1L1461.3,202.7L1468.7,205.3L1476,208.1L1483.2,211L1490.4,214L1497.6,217.1L1504.7,220.4L1511.7,223.7L1518.7,227.1L1525.7,230.6L1532.6,234.2L1539.5,238L1546.3,241.8L1553,245.7L1559.7,249.8L1566.3,253.9L1572.8,258.1L1579.3,262.5L1585.7,266.9L1592.1,271.4L1598.3,276L1604.5,280.7L1610.7,285.5L1616.8,290.3L1622.8,295.3L1628.7,300.3L1634.6,305.4L1640.4,310.6L1646.1,315.9L1651.8,321.2L1657.4,326.6L1662.9,332.1L1668.3,337.6L1673.5,343.4L1678.6,349.3L1683.5,355.3L1688.3,361.4L1693,367.6L1697.5,373.9L1701.9,380.3L1706.2,386.7L1710.5,393.2L1714.7,399.7L1718.8,406.2L1722.9,412.7L1727,419.3L1731,425.8L1735.1,432.3L1739,438.9L1742.8,445.6L1746.5,452.4L1750,459.2L1753.3,466.1L1756.6,473.1L1759.7,480.1L1762.8,487.1L1765.7,494.2L1768.6,501.3L1771.4,508.4L1774.1,515.6L1776.8,522.8L1779.4,529.9L1781.8,537.2L1783.8,544.6L1786.1,551.9L1788.7,559L1791.3,566.2L1793.8,573.5L1796.1,580.7L1798.4,588.1L1801.4,595.2L1804,602.5L1804.8,610.2L1805.3,617.9L1806.7,625.4L1808,633L1809.2,640.6L1810.4,648.1L1811.4,655.7L1812.4,663.3L1813.2,671L1814,678.6L1814.6,686.3L1815,693.9L1815.4,701.6L1815.6,709.3L1815.6,716.9L1815.5,724.6L1815.3,732.3L1815.1,740L1814.7,747.6L1814.2,755.3L1813.6,763L1812.9,770.6L1812.1,778.3L1811.2,785.9L1810.2,793.5L1809.2,801.1L1808,808.7L1806.7,816.3L1805.3,823.8L1803.8,831.4L1802.1,838.9L1800.4,846.4L1798.6,853.9L1796.7,861.3L1794.7,868.8L1792.6,876.2L1790.3,883.5L1788,890.9L1785.6,898.2L1783,905.5L1780.4,912.7L1777.7,919.9L1774.8,927.1L1771.9,934.2L1768.8,941.3L1765.7,948.3L1762.4,955.3L1759.1,962.3L1755.6,969.2L1752,976.1L1748.4,982.9L1744.6,989.6L1740.8,996.3L1736.8,1003L1732.7,1009.6L1728.6,1016.1L1724.3,1022.6L1720,1029L1715.6,1035.3L1711,1041.6L1706.4,1047.8L1701.7,1053.9L1696.8,1060L1691.9,1066L1686.9,1071.9L1681.8,1077.8L1676.6,1083.5L1671.4,1089.2L1666,1094.8L1660.6,1100.3L1655.1,1105.8L1649.5,1111.1L1643.8,1116.4L1638,1121.6L1632.2,1126.7L1626.3,1131.8L1620.3,1136.7L1614.2,1141.6L1608.1,1146.3L1601.9,1151L1595.7,1155.6L1589.3,1160.1L1583,1164.5L1576.5,1168.8L1570,1173L1563.4,1177.1L1556.8,1181.2L1550.1,1185.1L1543.3,1188.9L1536.5,1192.7L1529.7,1196.3L1522.8,1199.9L1515.8,1203.3L1508.8,1206.6L1501.8,1209.9L1494.7,1213L1487.5,1216.1L1480.4,1219L1473.1,1221.8L1465.9,1224.6L1458.6,1227.2L1451.2,1229.7L1443.8,1232.1L1436.4,1234.4L1429,1236.7L1421.5,1238.8L1414,1240.8L1406.5,1242.6L1398.9,1244.4L1391.3,1246.1L1383.7,1247.7L1376.1,1249.1L1368.4,1250.5L1360.8,1251.7L1353.1,1252.8L1345.4,1253.9L1337.7,1254.8L1329.9,1255.6L1322.2,1256.3L1314.5,1256.9L1306.7,1257.4L1298.9,1257.7L1291.2,1258L1283.4,1258.1L1275.6,1258.2L1267.9,1258.1L1260.1,1258L1252.3,1257.7L1244.5,1257.3L1236.8,1256.8L1229,1256.2L1221.3,1255.5L1213.5,1254.7L1205.8,1253.8L1198.1,1252.8L1190.4,1251.7L1182.7,1250.4L1175,1249.1L1167.4,1247.6L1159.7,1246.1L1152.1,1244.4L1144.5,1242.6L1137,1240.7L1129.4,1238.8L1121.9,1236.7L1114.4,1234.4L1107,1232.1L1099.5,1229.7L1092.2,1227.2L1084.8,1224.5L1077.5,1221.8L1070.2,1219L1063,1216L1055.8,1212.9L1048.6,1209.8L1041.5,1206.5L1034.5,1203.1L1027.5,1199.7L1020.5,1196.1L1013.6,1192.4L1006.8,1188.6L1000,1184.7L993.2,1180.7L986.6,1176.7L979.9,1172.5L973.4,1168.2L966.9,1163.8L960.5,1159.3L954.1,1154.8L947.8,1150.1L941.6,1145.3L935.4,1140.5L929.3,1135.5L923.3,1130.5L917.4,1125.3L911.6,1120.1L905.8,1114.8L900.1,1109.4L894.5,1103.9L889,1098.4L883.6,1092.7L878.2,1086.9L873,1081.1L867.9,1075.1L862.9,1069.1L858,1063L853.2,1056.8L848.4,1050.6L843.8,1044.3L839.2,1037.9L834.8,1031.5L830.4,1025L826,1018.5L821.8,1012L817.6,1005.4L813.5,998.7L809.4,992L805.5,985.3L801.6,978.5L797.8,971.6L794.2,964.7L790.6,957.7L787.1,950.7L783.7,943.7L780.5,936.6L777.3,929.4L774.3,922.2L771.4,914.9L768.3,907.7L765,900.5L761.6,893.4L758,886.3L754.4,879.2L750.8,872L747.3,864.8L744,857.5L740.8,850.1L739.4,842.2L736.7,834.7L734.4,827L732.7,819.2L731.2,811.4L729.6,803.5L728,795.7L726.4,787.8L725.1,779.9L723.9,772L723,764L722.2,756.1L721.4,748.1L720.8,740.1L720.3,732.1L719.9,724L719.8,716ZM1168.1,178.6L1160.2,179.2L1152.5,180.9L1144.8,182.7L1137.2,184.6L1129.5,186.7L1122,188.8L1114.4,191.1L1106.9,193.5L1099.4,196L1091.9,198.6L1084.5,201.3L1077.1,204.1L1069.8,206.9L1062.5,210L1055.2,213.1L1048.1,216.4L1040.9,219.8L1033.8,223.1L1026.6,226.4L1019.5,230L1012.5,233.7L1005.6,237.5L998.7,241.4L991.9,245.4L985.2,249.5L978.5,253.7L971.8,258.1L965.3,262.5L958.8,267L952.4,271.7L946,276.4L939.8,281.2L933.6,286.1L927.4,291.1L921.3,296.2L915.3,301.4L909.4,306.6L903.6,311.9L897.8,317.4L892.1,322.9L886.5,328.4L880.9,334.1L875.5,339.8L870.1,345.7L864.8,351.6L859.6,357.5L854.5,363.6L849.5,369.7L844.6,375.9L839.8,382.2L835,388.6L830.4,395L825.8,401.5L821.4,408L817,414.6L812.7,421.3L808.6,428L804.5,434.8L800.5,441.7L796.6,448.6L792.8,455.5L789.1,462.5L785.5,469.6L782,476.7L778.6,483.8L775.3,491L772.2,498.3L769.1,505.6L766.2,513L763.7,520.5L761.2,528L758.4,535.4L755.6,542.8L753,550.3L750.8,557.9L748.8,565.6L747,573.3L745.5,581.1L744.1,588.9L742.8,596.7L741.7,604.5L740.8,612.3L740,620.2L739.4,628.1L738.8,635.9L738.4,643.8L738,651.6L737.8,659.5L737.6,667.3L737.5,675.1L737.4,682.9L737.4,690.7L737.4,698.5L737.4,706.3L736.9,714.1L734.3,721.9L736.4,721.9L738.2,714.1L738.9,706.3L738.8,698.6L738.8,690.8L738.9,683L739,675.2L739.1,667.4L739.3,659.6L739.6,651.8L739.9,644L740.4,636.1L740.9,628.3L741.6,620.5L742.4,612.7L743.3,604.8L744.4,597L745.7,589.2L747.1,581.5L748.7,573.7L750.4,566L752.4,558.4L754.6,550.8L756.7,543.2L758.9,535.6L761.5,528.1L764.4,520.8L767.7,513.6L770.7,506.3L773.8,499L776.9,491.8L780.2,484.6L783.6,477.5L787.1,470.4L790.7,463.3L794.4,456.4L798.2,449.4L802.1,442.6L806.1,435.8L810.2,429L814.3,422.3L818.6,415.7L823,409.1L827.4,402.6L832,396.1L836.6,389.7L841.3,383.4L846.1,377.1L851,371L856,364.9L861.1,358.8L866.3,352.9L871.6,347L877,341.2L882.4,335.5L888,329.9L893.6,324.4L899.3,318.9L905,313.5L910.9,308.2L916.8,303L922.8,297.9L928.8,292.8L935,287.9L941.2,283L947.4,278.2L953.7,273.5L960.1,268.9L966.6,264.4L973.1,260L979.7,255.7L986.4,251.5L993.1,247.4L1000,243.5L1006.8,239.6L1013.7,235.8L1020.7,232.2L1027.8,228.7L1034.7,225L1041.8,221.6L1049,218.5L1056.3,215.4L1063.5,212.4L1070.9,209.6L1078.2,206.7L1085.6,204L1092.9,201.3L1100.4,198.8L1107.8,196.3L1115.3,193.9L1122.8,191.6L1130.4,189.5L1137.9,187.5L1145.6,185.6L1153.2,183.8L1160.9,182.1L1168.3,179.6ZM719.1,716L719.1,724L719.4,732.1L719.7,740.1L720.2,748.1L720.9,756.1L721.6,764.1L722.5,772.1L723.5,780.1L724.6,788.1L725.8,796L727.2,803.9L728.6,811.8L730,819.7L731.7,827.6L733.7,835.3L736.1,843L740.3,850.2L743.4,857.6L746.7,865L750.1,872.2L753.6,879.4L757.2,886.6L760.7,893.7L764.1,900.9L767.4,908L770.4,915.3L773.4,922.5L776.4,929.8L779.5,937L782.7,944.1L786.1,951.2L789.5,958.3L793,965.3L796.7,972.2L800.4,979.1L804.2,986L808.1,992.8L812.1,999.5L816.6,1005.9L821.1,1012.4L825.2,1019.1L829.1,1025.9L833.3,1032.6L837.7,1039L842.2,1045.5L846.8,1051.8L851.5,1058.1L856.3,1064.4L861.2,1070.6L866.2,1076.7L871.2,1082.7L876.4,1088.6L881.7,1094.5L887.1,1100.2L892.5,1105.9L898.1,1111.5L903.8,1117L909.5,1122.4L915.3,1127.7L921.2,1132.9L927.2,1138.1L933.3,1143.1L939.4,1148.1L945.6,1153L951.8,1157.8L958.2,1162.5L964.6,1167.1L971.1,1171.6L977.6,1176L984.2,1180.3L990.9,1184.6L997.6,1188.7L1004.4,1192.7L1011.2,1196.7L1018.1,1200.5L1025.2,1204L1032.4,1207.3L1039.5,1210.7L1046.6,1214.2L1053.6,1217.9L1060.6,1221.4L1067.9,1224.5L1075.2,1227.5L1082.6,1230.4L1089.9,1233.2L1097.4,1235.9L1104.8,1238.5L1112.3,1241L1119.9,1243.3L1127.5,1245.6L1135.1,1247.7L1142.7,1249.7L1150.4,1251.6L1158.1,1253.4L1165.8,1255.1L1173.5,1256.7L1181.3,1258.2L1189.1,1259.5L1196.9,1260.7L1204.7,1261.9L1212.5,1262.9L1220.4,1263.7L1228.2,1264.5L1236.1,1265.2L1244,1265.7L1251.9,1266.1L1259.8,1266.4L1267.7,1266.6L1275.6,1266.7L1283.5,1266.7L1291.4,1266.5L1299.2,1266.3L1307.1,1265.9L1315,1265.4L1322.9,1264.8L1330.7,1264L1338.6,1263.2L1346.4,1262.3L1354.2,1261.2L1362,1260L1369.8,1258.7L1377.6,1257.3L1385.3,1255.8L1393,1254.2L1400.7,1252.4L1408.4,1250.6L1416,1248.6L1423.6,1246.5L1431.2,1244.3L1438.7,1242.1L1446.2,1239.7L1453.7,1237.1L1461.1,1234.5L1468.5,1231.8L1475.9,1229L1483.2,1226.1L1490.4,1223L1497.6,1219.9L1504.8,1216.6L1511.9,1213.3L1519,1209.9L1526,1206.3L1533,1202.7L1539.9,1198.9L1546.8,1195.1L1553.6,1191.2L1560.3,1187.1L1567,1183L1573.7,1178.8L1580.2,1174.5L1586.7,1170.1L1593.2,1165.6L1599.5,1161L1605.9,1156.3L1612.1,1151.5L1618.3,1146.7L1624.4,1141.7L1630.4,1136.7L1636.4,1131.6L1642.3,1126.4L1648.1,1121.2L1653.8,1115.8L1659.5,1110.4L1665,1104.8L1670.5,1099.3L1676,1093.6L1681.3,1087.8L1686.5,1082L1691.7,1076.1L1696.8,1070.1L1701.8,1064.1L1706.7,1057.9L1711.5,1051.7L1716.2,1045.5L1720.8,1039.2L1725.3,1032.8L1729.8,1026.3L1734.1,1019.8L1738.4,1013.2L1742.6,1006.6L1746.6,999.9L1750.6,993.1L1754.5,986.3L1758.2,979.5L1761.9,972.6L1765.5,965.6L1769,958.6L1772.4,951.6L1775.7,944.4L1778.8,937.3L1781.9,930.1L1784.9,922.9L1787.8,915.6L1790.6,908.3L1793.3,901L1795.9,893.6L1798.4,886.2L1800.7,878.7L1803,871.2L1805.2,863.7L1807.3,856.2L1809.2,848.6L1811.1,841L1812.9,833.4L1814.5,825.7L1816.1,818.1L1817.5,810.4L1818.9,802.7L1820.1,795L1821.3,787.2L1822.3,779.4L1823.2,771.7L1824.1,763.9L1824.8,756.1L1825.4,748.3L1825.9,740.5L1826.3,732.6L1826.6,724.8L1826.7,717L1826.8,709.1L1826.7,701.3L1826.4,693.5L1826,685.6L1825.5,677.8L1824.8,670L1824,662.2L1823,654.4L1822,646.6L1820.9,638.9L1819.7,631.2L1818.4,623.4L1817,615.7L1814.8,608.2L1812.9,600.6L1811.6,592.9L1810,585.2L1807.3,577.8L1804.4,570.5L1801.4,563.3L1800.7,563.5L1802.5,571L1804.1,578.6L1805.6,586.3L1808,593.7L1810.2,601.2L1811.5,608.8L1812.2,616.6L1813.5,624.3L1814.8,631.9L1816,639.6L1817.1,647.3L1818.2,655L1819.1,662.7L1819.8,670.4L1820.5,678.1L1821.1,685.9L1821.5,693.7L1821.7,701.4L1821.8,709.2L1821.8,717L1821.6,724.7L1821.3,732.5L1820.9,740.2L1820.4,748L1819.8,755.7L1819.1,763.5L1818.3,771.2L1817.4,778.9L1816.4,786.6L1815.3,794.2L1814,801.9L1812.7,809.5L1811.3,817.2L1809.7,824.8L1808.1,832.3L1806.4,839.9L1804.5,847.4L1802.6,854.9L1800.6,862.4L1798.4,869.9L1796.2,877.3L1793.8,884.7L1791.4,892L1788.8,899.3L1786.2,906.6L1783.4,913.9L1780.6,921.1L1777.6,928.3L1774.6,935.4L1771.4,942.5L1768.2,949.5L1764.8,956.5L1761.4,963.5L1757.9,970.4L1754.2,977.3L1750.5,984.1L1746.7,990.8L1742.7,997.5L1738.7,1004.2L1734.6,1010.8L1730.4,1017.3L1726.1,1023.8L1721.7,1030.2L1717.2,1036.5L1712.6,1042.8L1708,1049L1703.2,1055.2L1698.3,1061.2L1693.4,1067.2L1688.4,1073.2L1683.3,1079L1678.1,1084.8L1672.8,1090.5L1667.4,1096.2L1661.9,1101.7L1656.4,1107.2L1650.8,1112.6L1645.1,1117.9L1639.3,1123.1L1633.5,1128.3L1627.6,1133.3L1621.6,1138.3L1615.5,1143.2L1609.4,1148L1603.2,1152.7L1597,1157.4L1590.6,1161.9L1584.2,1166.4L1577.8,1170.8L1571.3,1175L1564.7,1179.2L1558.1,1183.3L1551.4,1187.3L1544.6,1191.2L1537.8,1195L1530.9,1198.7L1524,1202.3L1517.1,1205.8L1510,1209.3L1503,1212.6L1495.9,1215.8L1488.7,1218.9L1481.5,1221.9L1474.3,1224.8L1467,1227.6L1459.6,1230.3L1452.3,1232.9L1444.9,1235.4L1437.4,1237.7L1429.9,1240L1422.4,1242.2L1414.9,1244.2L1407.3,1246.2L1399.7,1248L1392.1,1249.7L1384.4,1251.4L1376.8,1252.9L1369.1,1254.3L1361.4,1255.5L1353.6,1256.7L1345.9,1257.8L1338.1,1258.7L1330.3,1259.5L1322.5,1260.3L1314.7,1260.9L1306.9,1261.3L1299.1,1261.7L1291.3,1262L1283.4,1262.1L1275.6,1262.2L1267.8,1262.1L1259.9,1261.9L1252.1,1261.6L1244.3,1261.2L1236.5,1260.7L1228.7,1260L1220.9,1259.3L1213.1,1258.4L1205.3,1257.5L1197.5,1256.4L1189.8,1255.2L1182.1,1253.9L1174.4,1252.4L1166.7,1250.9L1159,1249.2L1151.4,1247.5L1143.8,1245.6L1136.2,1243.6L1128.6,1241.5L1121.1,1239.3L1113.6,1237L1106.1,1234.6L1098.7,1232.1L1091.3,1229.4L1084,1226.7L1076.7,1223.8L1069.4,1220.9L1062.2,1217.8L1054.9,1214.9L1047.6,1212L1040.5,1208.7L1033.5,1205.1L1026.7,1201.2L1019.9,1197.2L1013,1193.4L1006.2,1189.6L999.5,1185.6L992.8,1181.5L986.1,1177.3L979.6,1173L973.1,1168.7L966.6,1164.2L960.2,1159.6L953.9,1155L947.7,1150.2L941.5,1145.4L935.4,1140.4L929.4,1135.4L923.5,1130.3L917.6,1125.1L911.8,1119.8L906.1,1114.5L900.5,1109L894.9,1103.5L889.5,1097.9L884.1,1092.2L878.9,1086.3L873.7,1080.4L868.7,1074.5L863.7,1068.4L858.9,1062.3L854.1,1056.1L849.4,1049.8L844.8,1043.5L840.3,1037.1L835.9,1030.7L831.3,1024.4L826.7,1018.1L822.3,1011.6L818.4,1004.8L814.8,997.9L810.8,991.2L806.8,984.5L802.9,977.7L799.1,970.9L795.4,964.1L791.8,957.1L788.3,950.2L784.9,943.1L781.6,936.1L778.4,928.9L775.4,921.7L772.5,914.5L769.4,907.3L766,900.2L762.5,893.1L758.9,886L755.2,879L751.5,871.8L747.9,864.6L744.5,857.3L741.3,850L739.7,842.2L737,834.6L734.7,826.9L733,819.2L731.4,811.3L729.8,803.5L728.1,795.7L726.6,787.8L725.2,779.9L724,772L723.1,764L722.3,756L721.5,748.1L720.8,740.1L720.3,732.1L719.9,724L719.8,716ZM1394,182.4L1386.4,180.7L1378.7,179.1L1371,177.6L1363.3,176.2L1355.6,175L1347.9,173.8L1340.1,172.8L1332.3,171.8L1324.5,171L1316.7,170.3L1308.9,169.7L1301.1,169.2L1293.2,168.9L1285.4,168.7L1277.5,168.7L1269.7,168.8L1261.8,169L1254,169.2L1246.2,169.6L1238.3,170L1230.5,170.6L1222.7,171.3L1214.8,172L1207,172.9L1199.2,173.9L1191.5,175L1183.7,176.2L1175.9,177.5L1168.2,178.9L1160.5,180.5L1152.8,182.1L1145.1,183.9L1137.5,185.7L1129.9,187.7L1122.3,189.8L1114.7,192.1L1107.2,194.4L1099.7,196.8L1092.2,199.4L1084.8,202L1077.4,204.7L1070,207.5L1062.7,210.4L1055.4,213.5L1048.1,216.6L1040.9,219.8L1033.8,223.1L1026.7,226.5L1019.6,230.1L1012.6,233.7L1005.6,237.5L998.7,241.3L991.8,245.3L985.1,249.4L978.3,253.5L971.7,257.8L965.1,262.2L958.6,266.7L952.1,271.3L945.7,276L939.4,280.8L933.1,285.6L927,290.6L920.8,295.6L914.8,300.8L908.8,306L902.9,311.3L897.1,316.7L891.4,322.2L885.7,327.7L880.2,333.4L874.7,339.1L869.3,344.9L864,350.8L858.7,356.8L853.6,362.8L848.5,369L843.6,375.2L838.7,381.4L834,387.8L829.3,394.2L824.7,400.7L820.2,407.2L815.8,413.9L811.5,420.5L807.3,427.3L803.2,434.1L799.2,440.9L795.3,447.8L791.5,454.8L787.8,461.8L784.2,468.9L780.7,476L777.3,483.2L774,490.5L770.8,497.7L767.7,505L764.8,512.4L761.9,519.8L759.2,527.3L756.5,534.8L754,542.3L751.6,549.9L749.4,557.5L747.5,565.2L745.7,572.9L744.1,580.7L742.7,588.5L741.5,596.4L740.5,604.2L739.6,612.1L738.8,620L738.1,627.9L737.6,635.7L737.2,643.6L736.9,651.5L736.7,659.3L736.5,667.2L736.4,675L736.3,682.9L736.3,690.7L736.4,698.5L736.4,706.3L736.1,714.1L734,721.9L736.1,721.9L737.3,714.1L737.9,706.3L737.8,698.5L737.8,690.7L737.8,682.9L737.9,675.1L738,667.3L738.2,659.5L738.4,651.7L738.7,643.8L739.2,636L739.7,628.1L740.4,620.3L741.1,612.4L742.1,604.6L743.1,596.7L744.4,588.9L745.8,581.1L747.3,573.4L749.1,565.7L751.1,558L753.2,550.4L755.6,542.8L758.1,535.3L760.8,527.9L763.5,520.4L766.4,513.1L769.3,505.7L772.4,498.4L775.6,491.2L778.9,484L782.3,476.8L785.8,469.7L789.4,462.7L793.1,455.7L796.9,448.7L800.8,441.9L804.8,435L808.9,428.3L813.1,421.5L817.4,414.9L821.8,408.3L826.3,401.8L830.9,395.3L835.5,388.9L840.3,382.6L845.1,376.4L850.1,370.2L855.1,364.1L860.2,358.1L865.5,352.1L870.8,346.3L876.2,340.5L881.7,334.8L887.2,329.2L892.9,323.7L898.6,318.2L904.4,312.9L910.3,307.6L916.3,302.4L922.3,297.3L928.4,292.3L934.5,287.4L940.8,282.5L947.1,277.8L953.4,273.1L959.9,268.5L966.4,264.1L972.9,259.7L979.6,255.5L986.3,251.3L993.1,247.3L999.9,243.4L1006.8,239.6L1013.8,235.9L1020.8,232.3L1027.8,228.8L1034.9,225.5L1042.1,222.2L1049.3,219L1056.5,216L1063.8,213L1071.1,210.2L1078.5,207.4L1085.8,204.7L1093.2,202.1L1100.7,199.6L1108.1,197.2L1115.6,194.9L1123.1,192.7L1130.7,190.6L1138.2,188.6L1145.9,186.8L1153.5,185L1161.1,183.4L1168.8,181.9L1176.5,180.5L1184.2,179.3L1192,178.1L1199.7,177.1L1207.5,176.1L1215.2,175.3L1223,174.5L1230.8,173.9L1238.6,173.4L1246.4,172.9L1254.2,172.6L1262,172.3L1269.7,172.2L1277.5,172.1L1285.3,172.2L1293.1,172.3L1300.9,172.5L1308.7,172.7L1316.5,173.1L1324.3,173.6L1332.1,174.2L1339.9,174.8L1347.6,175.6L1355.4,176.5L1363.1,177.5L1370.9,178.7L1378.6,179.9L1386.3,181.2L1394,182.6ZM719,716L719,724L719.3,732.1L719.6,740.1L720.1,748.1L720.7,756.2L721.5,764.2L722.3,772.2L723.3,780.1L724.4,788.1L725.6,796L726.9,804L728.2,811.9L729.7,819.8L731.3,827.6L733.3,835.4L735.6,843.1L739.8,850.3L742.8,857.8L746,865.2L749.4,872.5L752.8,879.7L756.2,886.9L759.7,894.1L763,901.3L766.3,908.5L769.3,915.7L772.2,923L775.2,930.3L778.3,937.5L781.5,944.7L784.8,951.8L788.1,959L791.6,966L795.2,973L798.8,980L802.6,986.9L806.5,993.8L810.4,1000.6L814.5,1007.3L818.9,1013.8L823.8,1020L828.1,1026.6L831.5,1033.8L836,1040.3L840.5,1046.8L845.1,1053.2L849.8,1059.5L854.6,1065.8L859.5,1072L864.4,1078.2L869.5,1084.2L874.7,1090.2L880,1096.1L885.4,1101.9L890.9,1107.6L896.5,1113.2L902.1,1118.7L907.9,1124.1L913.7,1129.5L919.7,1134.7L925.7,1139.9L931.7,1145L937.9,1150L944.1,1154.9L950.4,1159.8L956.7,1164.5L963.2,1169.1L969.7,1173.7L976.2,1178.1L982.8,1182.5L989.9,1186.2L997.1,1189.5L1003.9,1193.5L1010.8,1197.5L1017.7,1201.3L1024.7,1205.1L1031.6,1208.8L1038.7,1212.4L1045.7,1216L1052.7,1219.8L1059.6,1223.8L1066.9,1226.9L1074.3,1229.9L1081.6,1232.8L1089.1,1235.6L1096.5,1238.3L1104,1240.9L1111.6,1243.4L1119.2,1245.7L1126.8,1248L1134.4,1250.1L1142.1,1252.1L1149.8,1254L1157.5,1255.8L1165.3,1257.5L1173.1,1259L1180.9,1260.5L1188.7,1261.8L1196.5,1263L1204.4,1264.1L1212.3,1265.1L1220.1,1265.9L1228,1266.7L1235.9,1267.3L1243.9,1267.8L1251.8,1268.2L1259.7,1268.5L1267.6,1268.6L1275.5,1268.7L1283.5,1268.6L1291.4,1268.4L1299.3,1268.1L1307.2,1267.7L1315.1,1267.2L1323,1266.5L1330.9,1265.8L1338.8,1264.9L1346.6,1263.9L1354.4,1262.8L1362.3,1261.6L1370.1,1260.3L1377.8,1258.9L1385.6,1257.3L1393.3,1255.7L1401,1253.9L1408.7,1252L1416.4,1250L1424,1247.9L1431.6,1245.7L1439.1,1243.4L1446.6,1241L1454.1,1238.5L1461.6,1235.9L1469,1233.1L1476.4,1230.3L1483.7,1227.4L1491,1224.3L1498.2,1221.2L1505.4,1217.9L1512.5,1214.6L1519.6,1211.2L1526.7,1207.6L1533.7,1204L1540.6,1200.2L1547.5,1196.4L1554.3,1192.5L1561.1,1188.5L1567.8,1184.3L1574.5,1180.1L1581.1,1175.8L1587.6,1171.4L1594.1,1166.9L1600.5,1162.4L1606.9,1157.7L1613.2,1152.9L1619.4,1148.1L1625.5,1143.2L1631.6,1138.2L1637.6,1133.1L1643.6,1127.9L1649.4,1122.6L1655.2,1117.3L1660.9,1111.9L1666.6,1106.4L1672.1,1100.8L1677.6,1095.1L1683,1089.4L1688.3,1083.6L1693.5,1077.7L1698.7,1071.7L1703.7,1065.7L1708.7,1059.6L1713.5,1053.4L1718.3,1047.1L1723,1040.8L1727.6,1034.4L1732.2,1027.9L1736.6,1021.4L1740.9,1014.9L1745.1,1008.2L1749.3,1001.5L1753.3,994.8L1757.3,987.9L1761.1,981.1L1764.9,974.1L1768.5,967.2L1772.1,960.1L1775.5,953.1L1778.9,945.9L1782.2,938.8L1785.3,931.6L1788.4,924.3L1791.3,917L1794.2,909.7L1796.9,902.3L1799.6,894.9L1802.1,887.4L1804.6,879.9L1806.9,872.4L1809.1,864.8L1811.2,857.2L1813.3,849.6L1815.2,842L1817,834.3L1818.7,826.6L1820.3,818.9L1821.7,811.1L1823.1,803.4L1824.4,795.6L1825.5,787.8L1826.5,779.9L1827.5,772.1L1828.3,764.3L1829,756.4L1829.1,748.5L1829.4,740.6L1830.5,732.8L1830.7,724.9L1830.9,717L1830.9,709.1L1830.8,701.2L1830.4,693.3L1830,685.4L1829.4,677.5L1828.6,669.7L1827.8,661.8L1826.8,654L1825.7,646.2L1824.5,638.4L1823.2,630.6L1821.8,622.8L1820.4,615.1L1818.9,607.4L1817.2,599.6L1813.1,592.5L1812.9,592.6L1812.4,600.7L1814.1,608.3L1815.6,616L1817,623.7L1818.4,631.4L1819.6,639.1L1820.8,646.8L1821.9,654.5L1822.9,662.3L1823.7,670.1L1824.4,677.9L1825,685.7L1825.5,693.5L1825.8,701.3L1825.9,709.1L1825.9,717L1825.7,724.8L1825.5,732.6L1825.8,740.5L1825.1,748.3L1824,756L1823.4,763.8L1822.5,771.6L1821.6,779.4L1820.6,787.1L1819.5,794.9L1818.2,802.6L1816.9,810.3L1815.4,817.9L1813.9,825.6L1812.2,833.2L1810.4,840.8L1808.6,848.4L1806.6,856L1804.5,863.5L1802.3,871L1800,878.5L1797.6,885.9L1795.1,893.3L1792.5,900.7L1789.8,908L1786.9,915.3L1784,922.5L1781,929.7L1777.9,936.9L1774.7,944L1771.4,951.1L1767.9,958.1L1764.4,965.1L1760.8,972L1757.1,978.9L1753.3,985.7L1749.4,992.4L1745.4,999.1L1741.3,1005.8L1737.1,1012.4L1732.8,1018.9L1728.4,1025.4L1724,1031.8L1719.4,1038.1L1714.8,1044.4L1710,1050.6L1705.2,1056.8L1700.3,1062.8L1695.3,1068.8L1690.2,1074.8L1685,1080.6L1679.7,1086.4L1674.4,1092.1L1669,1097.7L1663.4,1103.2L1657.9,1108.7L1652.2,1114.1L1646.4,1119.4L1640.6,1124.6L1634.7,1129.7L1628.8,1134.8L1622.8,1139.7L1616.7,1144.6L1610.5,1149.4L1604.3,1154.1L1598,1158.8L1591.6,1163.3L1585.2,1167.7L1578.7,1172.1L1572.1,1176.4L1565.5,1180.5L1558.8,1184.6L1552.1,1188.6L1545.3,1192.5L1538.5,1196.3L1531.6,1200L1524.7,1203.6L1517.7,1207.1L1510.6,1210.5L1503.6,1213.9L1496.4,1217.1L1489.2,1220.2L1482,1223.2L1474.8,1226.1L1467.4,1228.9L1460.1,1231.6L1452.7,1234.2L1445.3,1236.7L1437.8,1239.1L1430.3,1241.4L1422.8,1243.6L1415.3,1245.7L1407.7,1247.6L1400,1249.5L1392.4,1251.2L1384.7,1252.9L1377,1254.4L1369.3,1255.8L1361.6,1257.1L1353.8,1258.3L1346.1,1259.4L1338.3,1260.4L1330.5,1261.3L1322.7,1262L1314.8,1262.7L1307,1263.2L1299.2,1263.6L1291.3,1263.9L1283.4,1264.1L1275.6,1264.2L1267.7,1264.1L1259.9,1264L1252,1263.7L1244.2,1263.3L1236.3,1262.8L1228.5,1262.2L1220.6,1261.5L1212.8,1260.7L1205,1259.7L1197.2,1258.6L1189.4,1257.5L1181.7,1256.2L1173.9,1254.8L1166.2,1253.2L1158.5,1251.6L1150.8,1249.9L1143.1,1248L1135.5,1246L1127.9,1243.9L1120.4,1241.7L1112.8,1239.4L1105.3,1237L1097.9,1234.5L1090.5,1231.8L1083.1,1229.1L1075.7,1226.2L1068.4,1223.2L1061.2,1220.1L1053.7,1217.6L1046.3,1214.8L1039.1,1211.6L1032,1208.1L1024.9,1204.6L1017.9,1200.9L1011,1197.1L1004.1,1193.2L997.3,1189.1L991.1,1184.2L984.8,1179.4L978.2,1175.1L971.7,1170.7L965.2,1166.2L958.8,1161.6L952.5,1156.9L946.2,1152.2L940,1147.3L933.9,1142.3L927.9,1137.3L921.9,1132.1L916,1126.9L910.2,1121.6L904.5,1116.2L898.8,1110.7L893.3,1105.2L887.8,1099.5L882.4,1093.8L877.2,1087.9L872,1082L867,1076L862,1069.9L857.1,1063.7L852.4,1057.5L847.7,1051.2L843.1,1044.8L838.6,1038.4L834.2,1031.9L828.9,1026.1L824.6,1019.5L821,1012.4L817.2,1005.6L813.1,998.9L809.1,992.2L805.2,985.4L801.4,978.6L797.6,971.7L794,964.8L790.4,957.8L787,950.8L783.6,943.7L780.4,936.6L777.2,929.4L774.2,922.2L771.3,914.9L768.2,907.7L764.9,900.6L761.5,893.5L757.9,886.4L754.3,879.2L750.8,872.1L747.3,864.8L743.9,857.5L740.8,850.1L739.3,842.3L736.6,834.7L734.4,827L732.6,819.2L731.1,811.4L729.5,803.6L727.9,795.7L726.3,787.8L725,779.9L723.9,772L723,764L722.1,756.1L721.4,748.1L720.7,740.1L720.2,732.1L719.8,724L719.7,716ZM1348,172.5L1340.2,171.5L1332.4,170.6L1324.6,169.8L1316.8,169.1L1309,168.4L1301.1,167.9L1293.3,167.6L1285.4,166.2L1277.5,166.1L1269.6,166.1L1261.7,166.3L1253.9,166.5L1246,166.8L1238.1,167.2L1230.2,167.8L1222.4,168.4L1214.5,169.2L1206.7,170L1198.8,171L1191,172.1L1183.2,173.3L1175.4,174.6L1167.6,176L1159.8,177.6L1152.1,179.2L1144.4,181L1136.7,182.9L1129,184.9L1121.4,187L1113.8,189.2L1106.3,191.6L1098.7,194L1091.2,196.6L1083.7,199.2L1076.3,202L1068.9,204.8L1061.6,207.8L1054.3,210.9L1047,214.1L1039.8,217.4L1032.6,220.8L1025.5,224.3L1018.4,227.9L1011.4,231.6L1004.4,235.4L997.5,239.3L990.7,243.3L983.9,247.5L977.1,251.7L970.5,256L963.9,260.5L957.4,265L950.9,269.7L944.5,274.4L938.2,279.2L932.4,284.8L926.4,289.9L920.3,295L914,299.9L907.7,304.7L901.8,310.1L896,315.6L890.3,321.1L884.7,326.7L879.2,332.4L873.7,338.2L868.3,344.1L863,350L857.8,356L852.7,362.1L847.7,368.3L842.8,374.5L837.9,380.8L833.2,387.2L828.6,393.7L824,400.2L819.5,406.8L815.2,413.4L810.9,420.2L806.7,426.9L802.7,433.7L798.7,440.6L794.8,447.6L791,454.6L787.4,461.6L783.8,468.7L780.3,475.9L777,483.1L773.7,490.3L770.5,497.6L767.5,504.9L764.6,512.3L761.7,519.8L759,527.2L756.4,534.7L753.9,542.3L751.5,549.8L749.3,557.5L747.4,565.2L745.6,572.9L744.1,580.7L742.7,588.5L741.5,596.4L740.4,604.2L739.5,612.1L738.8,620L738.1,627.9L737.6,635.7L737.2,643.6L736.9,651.5L736.6,659.3L736.5,667.2L736.4,675L736.3,682.9L736.3,690.7L736.3,698.5L736.3,706.3L736,714.1L734,721.9L736.1,721.9L737.3,714.1L737.8,706.3L737.8,698.5L737.8,690.7L737.8,682.9L737.9,675.1L738,667.3L738.2,659.5L738.4,651.7L738.7,643.8L739.2,636L739.7,628.1L740.3,620.3L741.1,612.4L742,604.6L743.1,596.7L744.3,588.9L745.7,581.1L747.3,573.4L749,565.6L751,558L753.1,550.3L755.5,542.8L758,535.3L760.6,527.8L763.3,520.4L766.2,513L769.1,505.6L772.2,498.3L775.3,491L778.6,483.8L781.9,476.6L785.4,469.5L789,462.5L792.7,455.4L796.4,448.5L800.3,441.6L804.3,434.7L808.4,427.9L812.5,421.2L816.8,414.5L821.1,407.9L825.6,401.3L830.1,394.8L834.8,388.4L839.5,382L844.3,375.7L849.2,369.5L854.2,363.4L859.3,357.3L864.5,351.3L869.8,345.4L875.2,339.6L880.7,333.8L886.2,328.2L891.8,322.6L897.5,317.1L903.3,311.7L909.2,306.3L914.7,300.7L920.5,295.2L926.6,290.1L932.9,285.3L939.6,281L945.9,276.2L952.3,271.5L958.7,266.9L965.2,262.4L971.8,257.9L978.4,253.6L985.1,249.5L991.9,245.4L998.7,241.4L1005.6,237.5L1012.6,233.8L1019.6,230.1L1026.7,226.5L1033.8,223.1L1040.9,219.8L1048.1,216.5L1055.4,213.4L1062.7,210.4L1070,207.5L1077.4,204.7L1084.8,201.9L1092.2,199.3L1099.7,196.8L1107.2,194.4L1114.7,192L1122.3,189.8L1129.9,187.7L1137.5,185.8L1145.1,183.9L1152.8,182.2L1160.5,180.6L1168.2,179.1L1176,177.7L1183.7,176.4L1191.5,175.2L1199.3,174.2L1207.1,173.2L1214.9,172.4L1222.7,171.7L1230.5,171.1L1238.4,170.6L1246.2,170.2L1254,169.9L1261.9,169.6L1269.7,169.5L1277.5,169.5L1285.4,169.6L1293.2,168.7L1301.1,168.9L1308.9,169.2L1316.8,169.7L1324.6,170.3L1332.4,170.9L1340.2,171.8L1348,172.7ZM718.8,716L718.8,724L719,732.1L719.3,740.1L719.8,748.2L720.4,756.2L721.1,764.2L722,772.2L722.9,780.2L723.9,788.2L725.5,796L727.4,803.9L727.7,803.8L726.8,795.9L725.9,787.9L724.6,780L723.5,772L722.6,764.1L721.8,756.1L721,748.1L720.4,740.1L719.9,732.1L719.6,724L719.5,716ZM732,827.5L733.6,835.3L735.3,843.2L738.9,850.6L741.8,858.1L744.9,865.5L748.1,872.8L751.5,880.1L754.8,887.4L758.2,894.6L761.5,901.8L764.8,909L767.8,916.3L770.8,923.6L773.8,930.9L776.9,938.1L780.1,945.3L783.4,952.5L786.8,959.6L790.3,966.7L793.9,973.7L797.6,980.7L801.8,987.4L805.8,994.1L809.5,1001.1L813.5,1007.9L817.7,1014.6L822.2,1021.1L826.6,1027.6L830.8,1034.3L835.3,1040.8L839.9,1047.2L844.6,1053.6L849.3,1059.9L854.2,1066.1L859.1,1072.3L864.1,1078.4L869.3,1084.5L874.5,1090.4L879.8,1096.2L885.3,1102L890.8,1107.6L896.5,1113.2L902.2,1118.7L908.4,1123.6L909.8,1122.1L904.5,1116.2L898.8,1110.7L893.2,1105.2L887.7,1099.6L882.3,1093.9L877,1088.1L871.8,1082.2L866.7,1076.2L861.7,1070.2L856.7,1064L851.9,1057.8L847.2,1051.6L842.5,1045.3L837.9,1038.9L833.4,1032.5L828.7,1026.2L824.5,1019.5L820.4,1012.9L816.1,1006.3L811.8,999.7L807.4,993.2L803.6,986.3L800.1,979.3L796.4,972.4L792.7,965.5L789.1,958.5L785.6,951.4L782.3,944.3L779,937.2L775.9,930L772.8,922.8L769.8,915.5L766.7,908.3L763.4,901.1L760,894L756.5,886.8L753,879.6L749.5,872.4L746.1,865.1L742.9,857.8L739.9,850.3L738,842.6L734.8,835.1L732.3,827.4ZM964.3,1167.5L970.2,1172.9L976.4,1177.8L983.1,1182.1L989.7,1186.4L996.5,1190.6L1003.3,1194.6L1010.2,1198.6L1017.1,1202.4L1024,1206.2L1031.1,1209.9L1038.1,1213.5L1045.3,1217L1052.5,1220.3L1059.7,1223.6L1066.9,1226.8L1074.3,1229.9L1081.6,1232.8L1089,1235.7L1096.5,1238.5L1104,1241.1L1111.5,1243.7L1119,1246.1L1126.6,1248.5L1134.3,1250.7L1141.9,1252.8L1149.6,1254.8L1157.3,1256.7L1165.1,1258.5L1172.8,1260.2L1180.6,1261.7L1188.5,1263.2L1196.3,1264.5L1204.2,1265.8L1212,1266.9L1219.9,1267.9L1227.8,1268.7L1235.8,1269.5L1243.7,1270.1L1251.7,1270.7L1259.6,1271.1L1267.6,1271.4L1275.5,1271.6L1283.5,1271.6L1291.5,1271.6L1299.4,1271.4L1307.4,1271.1L1315.3,1270.7L1323.3,1270.2L1331.2,1269.5L1339.2,1268.8L1347.1,1267.9L1355,1266.9L1362.9,1265.8L1370.8,1264.6L1378.6,1263.2L1386.5,1261.8L1394.3,1260.2L1402.1,1258.5L1409.8,1256.7L1417.6,1254.8L1425.3,1252.7L1433,1250.6L1440.6,1248.3L1448.2,1246L1455.8,1243.5L1463.3,1240.9L1470.8,1238.2L1478.3,1235.3L1485.7,1232.4L1493.1,1229.4L1500.4,1226.2L1507.7,1223L1514.9,1219.6L1522.1,1216.2L1529.2,1212.6L1536.2,1208.9L1543.3,1205.1L1550.2,1201.2L1557.1,1197.3L1563.9,1193.2L1570.7,1189L1577.4,1184.7L1584.1,1180.3L1590.6,1175.8L1596.3,1170.1L1595.5,1168.9L1588.2,1172.2L1581.6,1176.6L1575,1181L1568.4,1185.2L1561.7,1189.4L1554.9,1193.4L1548,1197.4L1541.1,1201.2L1534.2,1205L1527.2,1208.6L1520.1,1212.1L1513,1215.6L1505.8,1218.9L1498.6,1222.1L1491.3,1225.2L1484,1228.3L1476.7,1231.2L1469.3,1234L1461.8,1236.6L1454.4,1239.2L1446.9,1241.7L1439.3,1244L1431.7,1246.3L1424.1,1248.4L1416.5,1250.4L1408.8,1252.3L1401.1,1254.1L1393.4,1255.8L1385.6,1257.3L1377.8,1258.8L1370,1260.1L1362.2,1261.3L1354.4,1262.4L1346.5,1263.4L1338.7,1264.3L1330.8,1265L1322.9,1265.6L1315.1,1266.2L1307.2,1266.6L1299.3,1266.9L1291.4,1267L1283.5,1267.1L1275.6,1267L1267.7,1266.8L1259.8,1266.6L1251.9,1266.2L1244,1265.6L1236.1,1265L1228.3,1264.3L1220.4,1263.4L1212.6,1262.4L1204.8,1261.4L1197,1260.2L1189.2,1258.8L1181.4,1257.4L1173.7,1255.9L1166,1254.3L1158.3,1252.5L1150.6,1250.6L1143,1248.7L1135.4,1246.6L1127.8,1244.4L1120.2,1242.1L1112.7,1239.7L1105.3,1237.2L1097.8,1234.6L1090.4,1231.9L1083.1,1229.1L1075.7,1226.2L1068.5,1223.1L1061.2,1220L1054.1,1216.8L1046.9,1213.5L1039.8,1210L1032.8,1206.5L1025.8,1202.9L1018.8,1199.2L1012,1195.3L1005.1,1191.4L998.4,1187.4L991.7,1183.3L985,1179.1L978.4,1174.8L971.6,1170.9L964.5,1167.3ZM1633.4,1140.4L1640.1,1136L1646,1130.7L1651.6,1125L1657.5,1119.8L1664,1115L1669.6,1109.5L1675.1,1103.8L1680.6,1098L1685.9,1092.1L1691.2,1086.2L1696.4,1080.2L1701.5,1074.1L1706.5,1067.9L1711.4,1061.7L1716.2,1055.4L1720.9,1049L1725.5,1042.6L1730,1036.1L1734.5,1029.5L1738.8,1022.9L1743,1016.2L1747.2,1009.5L1751.2,1002.7L1755.2,995.8L1759,988.9L1762.8,982L1766.4,975L1770,967.9L1773.4,960.8L1776.8,953.6L1780,946.5L1783.2,939.2L1786.2,931.9L1788.9,924.5L1791.3,917L1793.5,909.4L1796.2,902L1799.3,894.7L1802.3,887.5L1804.7,879.9L1806.9,872.4L1809.1,864.8L1811.1,857.2L1813,849.5L1814.8,841.9L1816.6,834.2L1818.2,826.5L1819.7,818.8L1821.1,811L1822.4,803.2L1823.5,795.4L1823.4,787.5L1824,779.6L1824.5,771.8L1825.2,764L1825.8,756.2L1825.4,756.1L1824.6,763.9L1823.7,771.7L1822.5,779.5L1821.1,787.2L1818.8,794.8L1817.5,802.5L1816.3,810.2L1814.9,817.8L1813.4,825.5L1811.8,833.1L1810.1,840.8L1808.3,848.4L1806.4,855.9L1804.4,863.5L1802.3,871L1800.1,878.5L1797.8,886L1796.1,893.6L1794.1,901.3L1791.5,908.6L1788.3,915.8L1785,922.9L1781.9,930.1L1778.9,937.3L1775.8,944.5L1772.6,951.6L1769.3,958.7L1765.9,965.8L1762.3,972.8L1758.7,979.8L1755,986.7L1751.2,993.5L1747.3,1000.3L1743.3,1007.1L1739.2,1013.8L1735,1020.4L1730.8,1027L1726.4,1033.5L1721.9,1040L1717.3,1046.3L1712.6,1052.7L1707.9,1058.9L1703,1065.1L1698.1,1071.2L1693,1077.3L1687.9,1083.2L1682.7,1089.1L1677.4,1094.9L1672,1100.7L1666.5,1106.3L1661,1112L1656.1,1118.2L1650.5,1123.9L1644.4,1128.9L1638.5,1134.1L1633.2,1140.1ZM1827.7,724.8L1828.2,717L1828.6,709.1L1829.2,701.2L1829.5,693.3L1828.3,685.5L1825.2,685.7L1824.7,693.5L1825.6,701.3L1826.5,709.1L1826.7,717L1826.9,724.8ZM1825,662.1L1826.1,654.1L1825.2,646.2L1824.1,638.4L1822.9,630.7L1821.6,622.9L1820.2,615.1L1818.8,607.4L1817.3,599.6L1815.6,591.9L1813.7,584.3L1811.6,576.7L1808.9,569.3L1806,561.9L1803,554.6L1800,547.3L1799.8,547.4L1801.7,555L1803.5,562.6L1805.2,570.3L1806.8,577.9L1808.9,585.5L1810.8,593.1L1812.5,600.7L1814,608.3L1815.4,616L1816.8,623.7L1818,631.4L1819.2,639.1L1820.3,646.9L1821.4,654.6L1824.3,662.2ZM1623.9,281.3L1617.7,276.4L1611.3,271.6L1604.9,266.9L1598.5,262.2L1592,257.7L1585.4,253.3L1578.7,248.9L1572,244.7L1565.1,240.7L1558.1,237L1551.2,233L1544.2,229.2L1537,225.9L1536.5,226.9L1543.3,230.8L1550.4,234.5L1557.3,238.3L1564.1,242.4L1570.9,246.4L1577.7,250.5L1584.5,254.6L1591.2,258.9L1597.8,263.2L1604.4,267.6L1610.9,272.1L1617.4,276.8L1623.8,281.5ZM1463.9,195.4L1456.5,192.6L1449.3,189.2L1441.7,186.8L1434.1,184.6L1426.4,182.5L1418.7,180.6L1411,179L1403.3,177.1L1395.5,175.5L1387.7,174L1379.9,172.6L1372.1,171.4L1364.3,170.2L1356.4,169.2L1348.6,168.2L1340.7,167.4L1332.8,166.7L1324.9,166L1317,165.5L1309.1,165.1L1301.2,164.8L1293.3,164.7L1285.4,164.6L1277.5,164.6L1269.6,164.7L1261.7,165L1253.8,165.3L1245.9,165.8L1238,166.3L1230.2,167L1222.3,167.7L1214.4,168.6L1206.6,169.6L1198.8,170.6L1190.9,171.8L1183.1,173.1L1175.4,174.5L1167.6,176L1159.9,177.6L1152.1,179.4L1144.4,181.2L1136.8,183.1L1129.1,185.2L1121.5,187.4L1113.9,189.6L1106.4,192L1098.9,194.5L1091.4,197.1L1084,199.8L1076.5,202.6L1069.2,205.5L1061.8,208.4L1054.5,211.5L1047.3,214.7L1040.1,218L1032.9,221.4L1025.8,224.9L1018.7,228.5L1011.7,232.1L1004.7,235.9L997.8,239.8L991,243.9L984.2,248L977.4,252.2L970.8,256.5L964.2,260.9L957.6,265.4L951.2,270.1L945.1,275.2L945.7,276L952.5,271.8L959,267.3L965.5,262.8L972.1,258.4L978.7,254.1L985.4,249.9L992.2,245.9L999,241.9L1005.9,238.1L1012.9,234.3L1019.9,230.7L1027,227.2L1034.1,223.7L1041.2,220.4L1048.4,217.2L1055.7,214L1062.9,211L1070.3,208.1L1077.6,205.2L1085,202.5L1092.4,199.9L1099.9,197.3L1107.3,194.8L1114.8,192.5L1122.4,190.2L1129.9,188L1137.5,186L1145.2,184.1L1152.8,182.3L1160.5,180.6L1168.2,179L1175.9,177.6L1183.7,176.2L1191.5,174.9L1199.2,173.8L1207,172.8L1214.8,171.8L1222.6,171L1230.5,170.3L1238.3,169.6L1246.1,169.1L1254,168.7L1261.8,168.4L1269.7,168.1L1277.5,168L1285.4,168L1293.2,168.1L1301.1,168.3L1309,168.6L1316.8,169L1324.6,169.5L1332.5,170.1L1340.3,170.9L1348.1,171.7L1355.9,172.7L1363.7,173.8L1371.5,174.9L1379.3,176.2L1387,177.6L1394.7,179.1L1402.4,180.8L1410.2,182.3L1417.8,184.3L1425.4,186.2L1433,188.3L1440.6,190.3L1448.2,192.4L1456.1,193.9L1463.7,196ZM908.4,305.5L902,310.3L896.1,315.6L890.3,321.1L884.6,326.6L879.1,332.3L873.5,338.1L868.1,343.9L862.8,349.8L857.5,355.8L852.4,361.8L847.3,368L842.3,374.2L837.4,380.5L832.6,386.8L827.9,393.2L823.3,399.7L818.8,406.3L814.4,412.9L810,419.6L805.8,426.4L801.7,433.2L797.7,440L793.7,447L789.9,453.9L786.2,461L782.5,468.1L779,475.2L775.6,482.4L772.3,489.7L769.1,497L766,504.3L763,511.7L760.1,519.1L757.3,526.6L754.6,534.1L752.1,541.7L749.7,549.3L747.5,556.9L745.5,564.6L743.7,572.4L742.1,580.2L740.7,588.1L739.4,595.9L738.4,603.8L737.5,611.7L736.7,619.6L736,627.5L735.5,635.4L735.1,643.3L734.8,651.2L734.6,659.1L734.4,667L734.3,674.9L734.2,682.7L734.2,690.6L734.2,698.4L734.3,706.2L734.3,714.1L733.3,721.9L735.4,721.9L735.5,714.1L735.7,706.3L735.7,698.5L735.7,690.6L735.7,682.8L735.8,675L735.9,667.1L736.1,659.3L736.3,651.4L736.6,643.5L737.1,635.7L737.6,627.8L738.3,619.9L739,612L740,604.1L741.1,596.3L742.3,588.4L743.7,580.6L745.3,572.8L747.1,565.1L749.1,557.4L751.3,549.8L753.7,542.2L756.2,534.7L758.9,527.2L761.7,519.7L764.6,512.3L767.6,505L770.7,497.7L773.9,490.4L777.2,483.2L780.6,476L784.1,468.9L787.8,461.8L791.5,454.8L795.3,447.9L799.3,441L803.3,434.1L807.4,427.3L811.7,420.6L816,414L820.4,407.4L824.9,400.8L829.5,394.4L834.2,388L839,381.6L843.9,375.4L848.8,369.2L853.9,363.1L859.1,357.1L864.3,351.1L869.6,345.2L875,339.4L880.5,333.7L886.1,328.1L891.8,322.6L897.5,317.1L903.3,311.6L908.6,305.7ZM718.8,716L718.8,724L719,732.1L719.3,740.1L719.8,748.2L720.4,756.2L721.1,764.2L722,772.2L722.9,780.2L723.9,788.2L725.4,796.1L727.4,803.9L727.6,803.8L726.9,795.8L725.9,787.9L724.6,780L723.5,772L722.6,764.1L721.8,756.1L721,748.1L720.4,740.1L719.9,732.1L719.6,724L719.5,716ZM732,827.5L733.3,835.4L734.7,843.3L738.7,850.6L741.6,858.1L744.6,865.6L747.8,872.9L751.1,880.2L754.4,887.5L757.7,894.8L760.9,902L764.1,909.3L767.1,916.5L770.1,923.9L773,931.2L776.1,938.5L779.2,945.7L782.4,953L785.7,960.1L789.1,967.3L792.6,974.4L796.2,981.4L800,988.4L803.8,995.3L807.7,1002.2L811.8,1009L816,1015.7L820.3,1022.4L824.6,1029L829,1035.6L833.5,1042.2L838,1048.6L842.6,1055.1L847.4,1061.5L852.2,1067.8L857.1,1074.1L862.1,1080.2L867.2,1086.3L872.4,1092.4L877.7,1098.3L883.1,1104.1L888.7,1109.8L894.3,1115.4L900,1121L905.8,1126.4L911.7,1131.8L917.8,1136.9L924.1,1141.7L930.3,1146.7L936.5,1151.8L942.6,1156.9L948.6,1162.1L954.9,1167L961.3,1171.7L967.9,1176.3L974.5,1180.8L981.1,1185.2L987.8,1189.5L994.6,1193.7L1001.4,1197.8L1008.3,1201.9L1015.3,1205.8L1022.3,1209.6L1029.4,1213.3L1036.5,1216.9L1043.7,1220.4L1050.9,1223.8L1058.1,1227.1L1065.5,1230.3L1072.8,1233.4L1080.2,1236.4L1087.7,1239.3L1095.2,1242.1L1102.7,1244.7L1110.3,1247.3L1117.9,1249.7L1125.6,1252.1L1133.3,1254.3L1141,1256.4L1148.7,1258.4L1156.5,1260.3L1164.3,1262L1172.2,1263.7L1180,1265.2L1187.9,1266.6L1195.8,1267.9L1203.7,1269.1L1211.6,1270.1L1219.6,1271.1L1227.5,1271.9L1235.5,1272.6L1243.5,1273.2L1251.5,1273.6L1259.5,1274L1267.5,1274.2L1275.5,1274.3L1283.5,1274.3L1291.5,1274.2L1299.5,1273.9L1307.5,1273.6L1315.5,1273.1L1323.5,1272.5L1331.4,1271.8L1339.4,1270.9L1347.4,1270L1355.3,1268.9L1363.2,1267.8L1371.1,1266.5L1379,1265.1L1386.8,1263.5L1394.6,1261.9L1402.4,1260.1L1410.2,1258.3L1418,1256.3L1425.7,1254.2L1433.4,1252L1441,1249.7L1448.6,1247.3L1456.2,1244.8L1463.8,1242.1L1471.3,1239.4L1478.7,1236.5L1486.1,1233.5L1493.5,1230.5L1500.8,1227.3L1508.1,1224L1515.3,1220.6L1522.5,1217.1L1529.6,1213.5L1536.7,1209.8L1543.7,1206L1550.7,1202.1L1557.6,1198.1L1564.5,1194L1571.2,1189.9L1578,1185.6L1584.6,1181.2L1591.2,1176.7L1597.7,1172.1L1604.2,1167.5L1610.6,1162.7L1616.9,1157.9L1623.2,1152.9L1629.4,1147.9L1635.5,1142.8L1641.5,1137.6L1647.5,1132.3L1653.3,1127L1659.2,1121.5L1664.9,1116L1670.5,1110.4L1676.1,1104.7L1681.6,1098.9L1687,1093.1L1692.3,1087.1L1697.5,1081.1L1702.6,1075.1L1707.6,1068.9L1712.6,1062.7L1717.5,1056.4L1722.2,1050.1L1726.9,1043.6L1731.5,1037.1L1736,1030.6L1740.4,1024L1744.7,1017.3L1748.9,1010.6L1753,1003.8L1757,996.9L1760.9,990L1764.7,983L1768.4,976L1772,969L1775.5,961.9L1779,954.7L1782.3,947.5L1785.5,940.3L1788.6,933L1791.6,925.6L1794.5,918.3L1797.3,910.8L1800,903.4L1802.6,895.9L1805.1,888.4L1807.5,880.8L1809.8,873.3L1812,865.6L1814.1,858L1816.1,850.3L1818,842.6L1819.7,834.9L1821.4,827.2L1823,819.4L1824.4,811.6L1825.8,803.8L1827,796L1828.2,788.1L1829.2,780.3L1830.1,772.4L1830.9,764.5L1831.7,756.6L1832.3,748.7L1832.7,740.8L1833.1,732.8L1833.4,724.9L1833.6,717L1833.7,709L1833.5,701.1L1833.3,693.2L1832.8,685.2L1830.9,677.4L1829.7,669.6L1830.3,661.6L1829.8,653.6L1828.7,645.8L1827.6,637.9L1826.4,630.1L1825.1,622.3L1823.7,614.5L1822.2,606.7L1820.7,598.9L1819,591.2L1817.1,583.5L1815.1,575.8L1812.9,568.2L1810.6,560.6L1808.3,553L1805.8,545.5L1803.3,537.9L1800.6,530.5L1797.9,523L1795.2,515.6L1792.4,508.2L1789.6,500.8L1786.6,493.4L1783.6,486L1780.5,478.7L1777.3,471.5L1773.9,464.3L1770.5,457.1L1766.9,450L1763.2,443L1759.3,436L1755.4,429.1L1751.2,422.3L1746.9,415.6L1742.7,408.8L1738.4,402.1L1734,395.5L1729.6,388.8L1725.2,382.2L1720.7,375.6L1716,369.1L1711.3,362.6L1706.5,356.2L1701.6,349.9L1696.6,343.6L1691.4,337.5L1686,331.6L1680.5,325.7L1674.9,320L1669.1,314.4L1663.3,308.9L1657.4,303.5L1651.4,298.2L1645.3,293L1639.1,287.9L1632.9,282.9L1626.6,277.9L1620.2,273.1L1613.7,268.4L1607.2,263.7L1600.6,259.2L1594,254.7L1587.2,250.4L1580.5,246.2L1573.6,242L1566.7,238L1559.8,234L1552.8,230.2L1545.7,226.5L1538.6,222.8L1531.5,219.3L1524.3,215.8L1517,212.5L1509.7,209.2L1502.4,206.1L1495,203L1487.6,200.1L1480.2,197.3L1472.7,194.5L1465.1,191.9L1457.6,189.4L1450,187.1L1442.3,184.8L1434.7,182.6L1427,180.6L1419.2,178.7L1411.5,176.9L1403.7,175.2L1395.9,173.6L1388.1,172.1L1380.3,170.7L1372.4,169.4L1364.6,168.3L1356.7,167.3L1348.8,166.3L1340.9,165.5L1333,164.8L1325.1,164.2L1317.2,163.7L1309.2,163.3L1301.3,163L1293.4,162.8L1285.4,162.7L1277.5,162.7L1269.6,162.9L1261.6,163.1L1253.7,163.5L1245.8,163.9L1237.9,164.5L1230,165.1L1222.1,165.9L1214.2,166.8L1206.3,167.8L1198.5,168.9L1190.7,170.1L1182.8,171.4L1175,172.8L1167.2,174.4L1159.5,176L1151.8,177.7L1144,179.6L1136.4,181.6L1128.7,183.6L1121.1,185.8L1113.5,188.1L1105.9,190.5L1098.4,193L1090.9,195.6L1083.4,198.4L1076,201.2L1068.6,204.1L1061.3,207.1L1054,210.2L1046.7,213.4L1039.5,216.7L1032.3,220.2L1025.2,223.7L1018.1,227.3L1011.1,231.1L1004.1,234.9L997.2,238.8L990.4,242.9L983.6,247L976.8,251.2L970.2,255.6L963.6,260L957,264.5L950.5,269.2L944.1,273.9L937.8,278.7L931.5,283.6L925.3,288.6L919.2,293.7L913.1,298.8L907.1,304.1L901.2,309.4L895.4,314.9L889.7,320.4L884,326L878.4,331.7L872.9,337.4L867.5,343.3L862.1,349.2L856.9,355.2L851.7,361.3L846.7,367.4L841.7,373.7L836.8,380L832,386.3L827.3,392.8L822.6,399.3L818.1,405.8L813.7,412.5L809.7,419.4L805.8,426.3L806,426.5L810.6,420L815.3,413.5L819.7,406.9L824.2,400.4L828.8,393.9L833.5,387.5L838.3,381.1L843.2,374.9L848.2,368.7L853.2,362.5L858.4,356.5L863.6,350.5L869,344.6L874.4,338.8L879.9,333.1L885.5,327.5L891.1,321.9L896.9,316.4L902.7,311L908.6,305.7L914.6,300.5L920.6,295.4L926.7,290.3L932.9,285.3L939.2,280.5L945.5,275.7L951.9,271L958.3,266.4L964.9,261.9L971.4,257.5L978.1,253.2L984.8,249L991.6,244.9L998.4,240.9L1005.3,237L1012.3,233.2L1019.3,229.6L1026.4,226L1033.5,222.5L1040.6,219.2L1047.8,215.9L1055.1,212.7L1062.4,209.7L1069.7,206.7L1077.1,203.8L1084.4,201.1L1091.9,198.4L1099.3,195.8L1106.8,193.3L1114.4,190.9L1121.9,188.7L1129.5,186.5L1137.1,184.4L1144.8,182.5L1152.5,180.7L1160.2,179L1167.9,177.4L1175.6,175.9L1183.4,174.5L1191.2,173.2L1199,172L1206.8,171L1214.6,170L1222.4,169.2L1230.3,168.4L1238.1,167.8L1246,167.3L1253.9,166.8L1261.8,166.5L1269.6,166.3L1277.5,166.1L1285.4,166.1L1293.3,166.2L1301.2,166.4L1309.1,166.7L1316.9,167.1L1324.8,167.6L1332.7,168.2L1340.5,169L1348.4,169.8L1356.2,170.8L1364,171.9L1371.8,173L1379.6,174.3L1387.4,175.7L1395.1,177.2L1402.9,178.8L1410.6,180.5L1418.3,182.4L1425.9,184.3L1433.6,186.4L1441.2,188.5L1448.8,190.8L1456.3,193.2L1463.8,195.7L1471.3,198.3L1478.7,201L1486.1,203.8L1493.5,206.7L1500.8,209.7L1508.1,212.9L1515.3,216.1L1522.5,219.4L1529.6,222.9L1536.7,226.4L1543.8,230L1550.8,233.8L1557.7,237.6L1564.6,241.6L1571.4,245.6L1578.2,249.7L1584.9,254L1591.6,258.3L1598.1,262.7L1604.7,267.2L1611.1,271.9L1617.5,276.6L1623.8,281.4L1630.1,286.3L1636.3,291.3L1642.4,296.4L1648.4,301.6L1654.3,306.9L1660.2,312.2L1666,317.7L1671.7,323.2L1677.3,328.9L1682.7,334.7L1688,340.6L1693.1,346.7L1698.2,352.8L1703.1,359.1L1707.9,365.4L1712.6,371.8L1717.2,378.2L1721.7,384.8L1726.2,391.3L1730.5,397.9L1734.8,404.6L1739,411.3L1743.3,417.9L1747.4,424.7L1751.4,431.5L1755.3,438.3L1759.1,445.3L1762.7,452.3L1766.2,459.4L1769.6,466.5L1772.9,473.6L1776,480.8L1779.1,488.1L1782.1,495.4L1785,502.7L1787.8,510L1790.6,517.4L1793.2,524.8L1795.7,532.2L1798.3,539.7L1800.8,547.1L1803.3,554.5L1805.7,562L1808,569.5L1810.2,577.1L1812.3,584.6L1814.2,592.3L1815.9,599.9L1817.5,607.6L1818.9,615.4L1820.3,623.1L1821.5,630.9L1822.8,638.6L1823.9,646.4L1824.9,654.2L1826.3,662L1828.4,669.7L1828.7,677.6L1827.9,685.5L1828.3,693.4L1828.6,701.2L1828.7,709.1L1828.6,717L1828.4,724.8L1828.2,732.7L1827.9,740.6L1827.3,748.4L1826.7,756.2L1826,764.1L1825.2,771.9L1824.3,779.7L1823.3,787.5L1822.1,795.2L1820.9,803L1819.6,810.7L1818.2,818.5L1816.6,826.2L1815,833.9L1813.2,841.5L1811.4,849.1L1809.4,856.7L1807.4,864.3L1805.2,871.9L1803,879.4L1800.6,886.9L1798.1,894.4L1795.6,901.8L1792.9,909.2L1790.1,916.5L1787.3,923.8L1784.3,931.1L1781.2,938.4L1778,945.6L1774.8,952.7L1771.4,959.8L1767.9,966.9L1764.4,973.9L1760.7,980.8L1756.9,987.7L1753,994.6L1749.1,1001.4L1745,1008.1L1740.9,1014.8L1736.6,1021.5L1732.3,1028L1727.8,1034.5L1723.3,1041L1718.7,1047.4L1713.9,1053.7L1709.1,1059.9L1704.2,1066.1L1699.2,1072.2L1694.1,1078.2L1689,1084.2L1683.7,1090.1L1678.4,1095.9L1672.9,1101.6L1667.4,1107.2L1661.8,1112.8L1656.1,1118.3L1650.4,1123.7L1644.5,1129L1638.6,1134.3L1632.6,1139.4L1626.6,1144.5L1620.4,1149.5L1614.2,1154.4L1608,1159.2L1601.6,1163.9L1595.2,1168.5L1588.7,1173L1582.2,1177.5L1575.6,1181.8L1568.9,1186.1L1562.2,1190.2L1555.4,1194.3L1548.5,1198.2L1541.6,1202.1L1534.7,1205.9L1527.6,1209.5L1520.6,1213.1L1513.5,1216.6L1506.3,1219.9L1499.1,1223.2L1491.8,1226.3L1484.5,1229.4L1477.1,1232.3L1469.7,1235.1L1462.3,1237.9L1454.8,1240.5L1447.3,1243L1439.7,1245.4L1432.1,1247.7L1424.5,1249.9L1416.9,1251.9L1409.2,1253.9L1401.5,1255.7L1393.7,1257.5L1386,1259.1L1378.2,1260.6L1370.4,1262L1362.5,1263.3L1354.7,1264.5L1346.8,1265.5L1338.9,1266.4L1331,1267.3L1323.1,1268L1315.2,1268.6L1307.3,1269L1299.4,1269.4L1291.4,1269.6L1283.5,1269.8L1275.5,1269.8L1267.6,1269.7L1259.7,1269.5L1251.7,1269.1L1243.8,1268.7L1235.9,1268.1L1228,1267.4L1220.1,1266.6L1212.2,1265.7L1204.3,1264.7L1196.5,1263.5L1188.6,1262.3L1180.8,1260.9L1173,1259.4L1165.2,1257.8L1157.5,1256L1149.7,1254.2L1142.1,1252.3L1134.4,1250.2L1126.7,1248L1119.1,1245.7L1111.6,1243.3L1104,1240.8L1096.6,1238.2L1089.1,1235.5L1081.7,1232.7L1074.3,1229.7L1067,1226.7L1059.7,1223.5L1052.5,1220.3L1045.3,1216.9L1038.2,1213.5L1031.1,1209.9L1024,1206.2L1017.1,1202.5L1010.1,1198.6L1003.3,1194.6L996.5,1190.6L989.7,1186.4L983,1182.2L976.4,1177.9L969.9,1173.4L963.4,1168.8L956.9,1164.2L950.5,1159.6L943.9,1155.1L937.6,1150.4L931.4,1145.4L925.4,1140.2L919.8,1134.6L914,1129.2L908.1,1123.9L902.4,1118.5L896.7,1113L891.1,1107.4L885.6,1101.7L880.2,1095.9L874.9,1090.1L869.7,1084.1L864.6,1078L859.6,1071.9L854.7,1065.7L849.9,1059.4L845.2,1053.1L840.6,1046.7L836.1,1040.3L831.6,1033.8L827.2,1027.2L822.9,1020.6L818.7,1014L814.5,1007.3L810.4,1000.6L806.4,993.8L802.5,987L798.8,980L795.1,973.1L791.5,966.1L788,959L784.6,951.9L781.4,944.8L778.2,937.6L775.1,930.3L772.1,923.1L769.1,915.8L766.1,908.5L762.9,901.3L759.5,894.1L756.1,887L752.6,879.8L749.2,872.5L745.9,865.2L742.7,857.8L739.7,850.4L738.4,842.5L734.9,835.1L732.2,827.5ZM789.7,453.9L785.4,460.6L781.8,467.7L778.3,474.9L774.8,482.1L771.5,489.3L768.3,496.6L765.2,504L762.2,511.4L759.3,518.8L756.5,526.3L753.8,533.8L751.3,541.4L748.8,549L746.6,556.7L744.6,564.4L742.8,572.2L741.2,580L739.8,587.8L738.6,595.7L737.5,603.6L736.6,611.5L735.8,619.4L735.1,627.4L734.6,635.3L734.2,643.2L733.9,651.1L733.6,659L733.5,666.9L733.3,674.8L733.3,682.7L733.3,690.5L733.3,698.4L733.3,706.2L733.4,714.1L733,721.9L735.1,721.9L734.7,714.1L734.8,706.3L734.7,698.4L734.7,690.6L734.8,682.8L734.8,674.9L735,667.1L735.1,659.2L735.4,651.3L735.7,643.4L736.2,635.5L736.7,627.6L737.4,619.7L738.1,611.8L739.1,603.9L740.2,596.1L741.4,588.2L742.8,580.4L744.4,572.6L746.2,564.9L748.2,557.1L750.4,549.5L752.9,541.9L755.4,534.4L758.1,526.9L760.9,519.4L763.8,512L766.8,504.7L769.9,497.3L773.1,490.1L776.4,482.8L779.9,475.6L783.4,468.5L787,461.4L790.2,454.1ZM718.7,716L718.7,724L718.9,732.1L719.2,740.1L719.6,748.2L720.2,756.2L720.9,764.2L721.7,772.2L722.6,780.2L723.6,788.2L724.7,796.2L725.8,804.1L727.1,812.1L728.5,820L730.1,827.9L732,835.7L734.2,843.5L738.1,850.7L740.9,858.3L743.9,865.8L747,873.2L750.1,880.5L753.4,887.8L756.6,895.1L759.8,902.4L763,909.7L766,917L769,924.3L771.9,931.7L775,939L778.1,946.3L781.3,953.5L784.5,960.7L787.9,967.9L791.4,975L794.9,982.1L798.6,989.1L802.5,996.1L806.4,1003L810.5,1009.8L814.7,1016.5L819,1023.2L823.4,1029.8L827.8,1036.4L832.3,1043L836.9,1049.5L841.5,1056L846.3,1062.4L851.1,1068.7L856,1075L861,1081.2L866.1,1087.3L871.4,1093.3L876.7,1099.2L882.1,1105L887.7,1110.8L893.4,1116.4L899.1,1121.9L904.9,1127.4L910.8,1132.8L916.8,1138.1L922.8,1143.3L928.9,1148.5L935.1,1153.5L941.4,1158.5L947.7,1163.4L954.1,1168.1L960.6,1172.8L967.1,1177.5L973.7,1182L980.3,1186.4L987.1,1190.7L993.9,1195L1000.7,1199.1L1007.6,1203.1L1014.6,1207.1L1021.6,1210.9L1028.7,1214.7L1035.8,1218.3L1043,1221.9L1050.2,1225.3L1057.5,1228.6L1064.8,1231.9L1072.2,1235L1079.6,1238L1087.1,1241L1094.6,1243.8L1102.2,1246.5L1109.9,1248.7L1117.7,1250.5L1125.4,1252.6L1133.2,1254.4L1133.4,1253.9L1125.8,1251.2L1118.3,1248.6L1110.9,1245.5L1103.5,1242.6L1096,1239.9L1088.5,1237.1L1081.1,1234.3L1073.7,1231.3L1066.4,1228.2L1059.1,1225L1051.8,1221.8L1044.6,1218.4L1037.5,1214.9L1030.4,1211.3L1023.3,1207.6L1016.4,1203.8L1009.4,1199.9L1002.6,1195.9L995.7,1191.8L989,1187.6L982.3,1183.3L975.7,1179L969.1,1174.5L962.6,1169.9L956.2,1165.3L949.8,1160.5L943.5,1155.7L937.3,1150.8L931.1,1145.8L925,1140.7L919,1135.5L913.1,1130.2L907.2,1124.9L901.4,1119.5L895.7,1113.9L890.1,1108.3L884.6,1102.7L879.2,1096.9L873.8,1091L868.6,1085L863.5,1079L858.5,1072.8L853.6,1066.6L848.8,1060.3L844.1,1054L839.5,1047.6L834.9,1041.1L830.4,1034.6L826,1028L821.7,1021.4L817.4,1014.8L813.2,1008.1L809.1,1001.4L805.1,994.5L801.2,987.7L797.5,980.7L793.8,973.7L790.3,966.7L786.8,959.6L783.5,952.5L780.2,945.3L777.1,938.1L774,930.8L771,923.5L768,916.2L765,908.9L761.8,901.7L758.4,894.5L755.1,887.3L751.7,880L748.4,872.8L745.1,865.4L742,858L739.1,850.5L737.8,842.6L735.3,835L733.1,827.3L731.5,819.4L729.9,811.6L728.4,803.7L726.9,795.8L725.6,787.9L724.3,780L723.2,772.1L722.3,764.1L721.5,756.1L720.8,748.1L720.2,740.1L719.8,732.1L719.5,724L719.4,716ZM1156.4,1260.8L1163.9,1263.8L1171.7,1265.7L1179.6,1267.3L1187.5,1268.8L1195.4,1270.1L1203.4,1271.3L1211.4,1272.4L1219.3,1273.4L1227.3,1274.2L1235.3,1275L1243.3,1275.6L1251.4,1276.1L1259.4,1276.5L1267.4,1276.7L1275.5,1276.9L1283.5,1276.9L1291.6,1276.8L1299.6,1276.5L1307.6,1276.2L1315.7,1275.7L1323.7,1275.2L1331.7,1274.5L1339.7,1273.6L1347.7,1272.7L1355.7,1271.7L1363.6,1270.5L1371.5,1269.2L1379.5,1267.8L1387.4,1266.3L1395.2,1264.7L1403.1,1262.9L1410.9,1261.1L1418.7,1259.1L1426.4,1257L1434.2,1254.8L1441.9,1252.5L1449.5,1250.1L1457.1,1247.5L1464.7,1244.9L1472.3,1242.1L1479.8,1239.3L1487.2,1236.3L1494.6,1233.2L1502,1230L1509.3,1226.7L1516.6,1223.3L1523.8,1219.8L1531,1216.2L1538.1,1212.5L1545.1,1208.7L1552.1,1204.7L1559.1,1200.7L1566,1196.6L1572.8,1192.4L1579.5,1188.1L1586.2,1183.7L1592.9,1179.1L1599.4,1174.5L1605.9,1169.8L1612.3,1165.1L1618.7,1160.2L1625,1155.2L1631.2,1150.2L1637.3,1145L1643.4,1139.8L1649.4,1134.5L1655.3,1129.1L1661.1,1123.6L1666.8,1118L1672.5,1112.4L1678.1,1106.6L1683.6,1100.8L1689,1094.9L1694.3,1089L1699.5,1082.9L1704.7,1076.8L1709.7,1070.6L1714.7,1064.4L1719.6,1058.1L1724.4,1051.7L1729,1045.2L1733.6,1038.7L1738.1,1032.1L1742.5,1025.4L1746.9,1018.7L1751.1,1011.9L1755.2,1005.1L1759.2,998.2L1763.1,991.3L1766.9,984.3L1770.7,977.2L1774.3,970.1L1777.8,963L1781.2,955.8L1784.6,948.6L1787.8,941.3L1790.9,933.9L1793.9,926.6L1796.8,919.2L1799.7,911.7L1802.4,904.2L1805,896.7L1807.5,889.2L1809.9,881.6L1812.2,873.9L1814.4,866.3L1816.5,858.6L1818.4,850.9L1820.3,843.2L1822.1,835.4L1823.8,827.6L1825.3,819.8L1826.8,812L1828.1,804.2L1829.4,796.3L1830.5,788.4L1831.6,780.5L1832.5,772.6L1833.3,764.7L1834,756.8L1834.6,748.8L1835.1,740.9L1835.5,732.9L1835.8,725L1836,717L1836,709L1835.9,701L1835.6,693.1L1835.2,685.1L1834.6,677.2L1833.9,669.2L1833.1,661.3L1832.1,653.4L1831.1,645.5L1829.9,637.6L1828.7,629.7L1827.4,621.9L1826,614L1824.5,606.2L1823,598.4L1821.3,590.6L1819.4,582.9L1817.4,575.2L1815.3,567.5L1813.1,559.8L1810.7,552.2L1808.3,544.7L1805.8,537.1L1803.2,529.6L1800.5,522.1L1797.8,514.6L1795.1,507.1L1792.2,499.6L1789.2,492.2L1786.2,484.9L1783.1,477.5L1779.8,470.2L1776.5,463L1773,455.8L1769.4,448.6L1765.7,441.5L1761.9,434.5L1757.9,427.6L1753.8,420.7L1749.5,413.9L1745.3,407.1L1740.9,400.4L1736.6,393.7L1732.1,387L1727.6,380.4L1723,373.8L1718.3,367.3L1713.5,360.8L1708.6,354.4L1703.6,348.1L1698.5,341.9L1693.2,335.8L1687.9,329.8L1682.4,323.9L1676.7,318.2L1670.9,312.6L1665.1,307.1L1659.1,301.6L1653.1,296.3L1647,291.1L1640.8,285.9L1634.5,280.9L1628.2,275.9L1621.7,271.1L1615.2,266.3L1608.7,261.7L1602.1,257.2L1595.4,252.7L1588.6,248.4L1581.8,244.1L1574.9,240L1568,235.9L1561,232L1553.9,228.1L1546.8,224.4L1539.7,220.7L1532.5,217.2L1525.3,213.7L1518,210.4L1510.7,207.1L1503.3,204L1495.9,200.9L1488.5,198L1481,195.1L1473.5,192.4L1465.9,189.8L1458.3,187.3L1450.7,184.9L1443,182.6L1435.3,180.5L1427.5,178.5L1419.8,176.6L1412,174.7L1404.2,173.1L1396.4,171.5L1388.5,170L1380.7,168.7L1372.8,167.4L1364.9,166.3L1357,165.2L1349.1,164.3L1341.1,163.5L1333.2,162.8L1325.2,162.2L1317.3,161.7L1309.3,161.3L1301.4,161.1L1293.4,160.9L1285.5,160.8L1277.5,160.8L1269.5,161L1261.6,161.2L1253.6,161.6L1245.7,162.1L1237.8,162.6L1229.8,163.3L1221.9,164.1L1214,165L1206.1,166L1198.2,167.1L1190.4,168.4L1182.5,169.7L1174.7,171.1L1166.9,172.7L1159.1,174.4L1151.4,176.1L1143.6,178L1135.9,180L1128.2,182.1L1120.6,184.3L1113,186.6L1105.4,189L1097.8,191.5L1090.3,194.1L1082.9,196.9L1075.4,199.7L1068,202.6L1060.6,205.7L1053.3,208.8L1046.1,212.1L1038.8,215.4L1031.7,218.9L1024.5,222.4L1017.4,226.1L1010.4,229.9L1003.4,233.7L996.5,237.7L989.7,241.7L982.9,245.9L976.1,250.2L969.4,254.5L962.8,259L956.3,263.5L949.8,268.1L943.4,272.9L937,277.7L930.7,282.6L924.5,287.6L918.4,292.7L912.3,297.9L906.3,303.2L900.4,308.6L894.6,314L888.8,319.5L883.1,325.2L877.6,330.9L872,336.7L866.6,342.5L861.3,348.5L856,354.5L850.9,360.6L845.8,366.7L840.8,373L835.9,379.3L831.1,385.7L826.4,392.1L821.7,398.6L817.2,405.2L812.8,411.9L808.4,418.6L804.2,425.4L800,432.2L796,439.1L792.1,446.1L788.2,453.1L784.5,460.1L780.9,467.3L777.3,474.4L773.9,481.7L770.6,488.9L767.4,496.3L764.3,503.6L761.3,511L758.4,518.5L755.6,526L752.9,533.5L750.4,541.1L747.9,548.7L745.7,556.4L743.7,564.1L741.9,571.9L740.3,579.8L738.9,587.6L737.7,595.5L736.6,603.4L735.7,611.4L734.9,619.3L734.3,627.2L733.8,635.2L733.3,643.1L733,651L732.8,658.9L732.6,666.8L732.5,674.7L732.5,682.6L732.5,690.5L732.5,698.4L732.5,706.2L732.7,714.1L732.8,721.9L734.9,721.9L734,714.1L734,706.2L734,698.4L734,690.6L734,682.7L734,674.9L734.1,667L734.3,659.1L734.6,651.2L734.9,643.3L735.3,635.4L735.8,627.5L736.5,619.6L737.3,611.7L738.2,603.8L739.3,595.9L740.5,588L741.9,580.2L743.5,572.4L745.3,564.6L747.3,556.9L749.5,549.2L752,541.6L754.5,534.1L757.2,526.6L760,519.1L762.9,511.7L765.9,504.3L769,496.9L772.2,489.7L775.5,482.4L779,475.2L782.5,468.1L786.1,461L789.9,453.9L793.7,446.9L797.6,440L801.7,433.1L805.8,426.3L810,419.6L814.4,412.9L818.8,406.3L823.3,399.7L827.9,393.2L832.6,386.8L837.4,380.5L842.3,374.2L847.3,368L852.4,361.8L857.5,355.8L862.8,349.8L868.1,343.9L873.5,338.1L879,332.3L884.6,326.6L890.3,321.1L896,315.5L901.9,310.1L907.8,304.8L913.7,299.6L919.8,294.4L925.9,289.3L932.1,284.4L938.4,279.5L944.7,274.7L951.1,270L957.6,265.4L964.1,260.8L970.7,256.4L977.4,252.1L984.1,247.9L990.9,243.8L997.8,239.8L1004.7,235.8L1011.6,232L1018.6,228.3L1025.7,224.7L1032.8,221.2L1040,217.8L1047.2,214.5L1054.5,211.3L1061.8,208.3L1069.1,205.3L1076.5,202.4L1083.9,199.6L1091.3,196.9L1098.8,194.3L1106.3,191.8L1113.9,189.4L1121.4,187.1L1129.1,184.9L1136.7,182.9L1144.4,180.9L1152.1,179.1L1159.8,177.3L1167.5,175.7L1175.3,174.2L1183.1,172.8L1190.9,171.5L1198.7,170.3L1206.5,169.2L1214.4,168.2L1222.3,167.4L1230.1,166.6L1238,166L1245.9,165.4L1253.8,165L1261.7,164.6L1269.6,164.4L1277.5,164.2L1285.4,164.2L1293.3,164.3L1301.2,164.5L1309.2,164.8L1317.1,165.2L1325,165.7L1332.9,166.3L1340.7,167L1348.6,167.8L1356.5,168.8L1364.3,169.8L1372.2,171L1380,172.3L1387.8,173.6L1395.6,175.1L1403.4,176.7L1411.1,178.4L1418.8,180.3L1426.5,182.2L1434.2,184.2L1441.8,186.4L1449.5,188.6L1457,191L1464.6,193.5L1472.1,196.1L1479.6,198.8L1487,201.7L1494.4,204.6L1501.7,207.6L1509,210.8L1516.3,214L1523.5,217.3L1530.7,220.8L1537.8,224.3L1544.9,228L1551.9,231.7L1558.9,235.5L1565.8,239.5L1572.7,243.5L1579.5,247.7L1586.3,251.9L1592.9,256.2L1599.6,260.7L1606.1,265.2L1612.6,269.9L1619.1,274.6L1625.4,279.4L1631.7,284.3L1637.9,289.3L1644,294.5L1650.1,299.7L1656.1,305L1662,310.4L1667.8,315.8L1673.5,321.4L1679.1,327.1L1684.6,333L1689.9,338.9L1695,345L1700.1,351.2L1705,357.5L1709.8,363.8L1714.5,370.3L1719.1,376.8L1723.6,383.3L1728.1,389.9L1732.4,396.6L1736.8,403.3L1741,409.9L1745.3,416.7L1749.5,423.4L1753.5,430.2L1757.4,437.1L1761.2,444.1L1764.9,451.1L1768.4,458.2L1771.8,465.3L1775.1,472.5L1778.3,479.8L1781.4,487L1784.4,494.4L1787.3,501.7L1790.1,509.1L1792.9,516.5L1795.6,523.9L1798.2,531.3L1800.8,538.8L1803.3,546.3L1805.7,553.8L1808.1,561.3L1810.4,568.8L1812.6,576.4L1814.6,584.1L1816.5,591.7L1818.2,599.4L1819.8,607.2L1821.2,614.9L1822.6,622.7L1823.9,630.5L1825.1,638.3L1826.2,646.1L1827.2,653.9L1828.2,661.8L1829,669.6L1829.7,677.5L1830.2,685.4L1830.6,693.3L1830.9,701.2L1831,709.1L1831,717L1830.8,724.9L1830.5,732.8L1830.2,740.7L1829.7,748.5L1829.1,756.4L1828.4,764.3L1827.6,772.1L1826.6,780L1825.6,787.8L1824.5,795.6L1823.3,803.4L1822,811.2L1820.5,818.9L1819,826.7L1817.3,834.4L1815.6,842.1L1813.7,849.7L1811.8,857.4L1809.7,865L1807.6,872.6L1805.3,880.1L1802.9,887.7L1800.5,895.2L1797.9,902.6L1795.2,910L1792.4,917.4L1789.6,924.8L1786.6,932.1L1783.5,939.4L1780.3,946.6L1777.1,953.8L1773.7,960.9L1770.2,968L1766.6,975.1L1762.9,982.1L1759.2,989L1755.3,995.9L1751.3,1002.7L1747.2,1009.5L1743.1,1016.3L1738.8,1022.9L1734.4,1029.5L1730,1036.1L1725.4,1042.6L1720.8,1049L1716.1,1055.3L1711.2,1061.6L1706.3,1067.8L1701.3,1074L1696.2,1080L1691,1086L1685.7,1091.9L1680.4,1097.8L1674.9,1103.5L1669.4,1109.2L1663.8,1114.8L1658.1,1120.3L1652.3,1125.8L1646.4,1131.1L1640.5,1136.4L1634.5,1141.6L1628.4,1146.7L1622.2,1151.7L1616,1156.7L1609.7,1161.5L1603.3,1166.2L1596.9,1170.9L1590.4,1175.5L1583.8,1179.9L1577.2,1184.3L1570.5,1188.6L1563.7,1192.8L1556.9,1196.9L1550,1200.8L1543,1204.7L1536,1208.5L1529,1212.2L1521.9,1215.8L1514.7,1219.3L1507.5,1222.6L1500.2,1225.9L1492.9,1229.1L1485.6,1232.1L1478.2,1235.1L1470.7,1237.9L1463.3,1240.7L1455.7,1243.3L1448.2,1245.8L1440.6,1248.2L1432.9,1250.5L1425.3,1252.7L1417.6,1254.7L1409.8,1256.7L1402.1,1258.5L1394.3,1260.3L1386.5,1261.9L1378.7,1263.4L1370.8,1264.8L1362.9,1266L1355,1267.2L1347.1,1268.2L1339.2,1269.1L1331.3,1269.9L1323.3,1270.6L1315.4,1271.2L1307.4,1271.7L1299.4,1272L1291.5,1272.2L1283.5,1272.3L1275.5,1272.3L1267.5,1272.2L1259.6,1271.9L1251.6,1271.6L1243.6,1271.1L1235.7,1270.5L1227.7,1269.8L1219.8,1268.9L1211.9,1268L1204,1266.9L1196.1,1265.7L1188.3,1264.4L1180.4,1263L1172.6,1261.5L1164.7,1260.1L1156.7,1259.5ZM718.6,716L718.6,724L718.8,732.1L719,740.1L719.4,748.2L720,756.2L720.7,764.2L721.5,772.2L722.4,780.2L723.3,788.2L724.4,796.2L725.5,804.2L726.7,812.1L728.1,820.1L729.7,828L731.6,835.8L733.6,843.6L737.5,850.9L740.2,858.5L743.1,866L746.1,873.4L749.2,880.8L752.3,888.2L755.5,895.5L758.6,902.8L761.7,910.2L764.7,917.5L767.7,924.9L770.7,932.2L773.7,939.5L776.8,946.9L779.9,954.2L783.1,961.4L786.5,968.6L789.9,975.8L793.4,982.9L797.1,990L800.9,997L804.9,1003.9L809,1010.7L813.3,1017.4L817.6,1024.1L822,1030.8L826.5,1037.4L831,1043.9L836.3,1050L841.3,1056.1L846,1062.6L851,1068.8L856.1,1074.9L860.7,1081.4L865.2,1088.1L870.4,1094.1L875.8,1100L881.3,1105.8L887,1111.5L892.7,1117.1L898.4,1122.6L904.3,1128.1L910.2,1133.4L916.3,1138.7L922.4,1143.9L928.5,1149L934.7,1154L941.1,1158.9L947.4,1163.7L953.9,1168.5L960.4,1173.1L966.9,1177.7L973.6,1182.1L980.3,1186.5L987,1190.8L993.9,1195L1000.7,1199.1L1007.7,1203L1014.7,1206.9L1021.7,1210.7L1028.8,1214.4L1036,1218L1043.2,1221.5L1050.4,1224.9L1057.7,1228.2L1065.1,1231.3L1072.4,1234.4L1079.9,1237.4L1087.4,1240.2L1094.9,1243L1102.4,1245.7L1110.4,1247.1L1110.9,1245.4L1103.7,1241.8L1096.2,1239.2L1088.8,1236.4L1081.3,1233.6L1073.9,1230.7L1066.6,1227.7L1059.3,1224.5L1052,1221.3L1044.8,1218L1037.6,1214.5L1030.5,1211L1023.5,1207.4L1016.4,1203.6L1009.5,1199.8L1002.6,1195.9L995.7,1191.8L988.9,1187.7L982.2,1183.5L975.5,1179.1L968.9,1174.7L962.4,1170.2L955.9,1165.6L949.5,1160.9L943.2,1156.1L936.9,1151.3L930.7,1146.3L924.6,1141.2L918.5,1136.1L912.5,1130.9L906.6,1125.6L900.8,1120.2L895,1114.7L889.3,1109.1L883.8,1103.5L878.3,1097.7L872.9,1091.8L867.7,1085.9L861.8,1080.5L856.3,1074.7L851.5,1068.4L846.8,1061.9L841.9,1055.6L837.6,1049L833.6,1042L829.1,1035.5L824.7,1029L820.3,1022.4L816,1015.7L811.7,1009L807.6,1002.3L803.6,995.4L799.7,988.5L796,981.5L792.4,974.5L788.8,967.4L785.4,960.3L782.1,953.1L778.9,945.9L775.8,938.6L772.7,931.3L769.7,924L766.7,916.7L763.7,909.4L760.5,902.1L757.3,894.9L754,887.6L750.7,880.4L747.5,873L744.3,865.6L741.3,858.2L738.5,850.7L737.3,842.7L734.8,835.1L732.7,827.3L731,819.5L729.5,811.7L728.1,803.8L726.6,795.9L725.3,788L724.1,780L723,772.1L722.2,764.1L721.4,756.1L720.7,748.1L720.1,740.1L719.7,732.1L719.4,724L719.3,716ZM1156.6,1259.8L1164.2,1262.8L1172,1264.6L1179.8,1266.2L1187.7,1267.6L1195.6,1269L1203.5,1270.2L1211.5,1271.3L1219.5,1272.3L1227.4,1273.2L1235.4,1273.9L1243.4,1274.6L1251.4,1275.1L1259.4,1275.5L1267.5,1275.8L1275.5,1276L1283.5,1276.1L1291.5,1276L1299.6,1275.8L1307.6,1275.6L1315.6,1275.2L1323.6,1274.7L1331.7,1274.1L1339.7,1273.3L1347.7,1272.5L1355.6,1271.5L1363.6,1270.5L1371.6,1269.3L1379.5,1268L1387.4,1266.6L1395.3,1265.1L1403.2,1263.4L1411,1261.7L1418.9,1259.8L1426.7,1257.9L1434.4,1255.8L1442.2,1253.6L1449.9,1251.3L1457.6,1248.9L1465.2,1246.3L1472.8,1243.7L1480.4,1241L1488,1238.1L1495.5,1235.1L1502.9,1232.1L1510.3,1228.9L1517.7,1225.6L1525,1222.2L1532.3,1218.7L1539.5,1215.1L1546.6,1211.4L1553.7,1207.6L1560.8,1203.7L1567.8,1199.7L1574.7,1195.6L1581.6,1191.3L1588.4,1187L1595.2,1182.6L1601.9,1178.1L1608.5,1173.5L1615.1,1168.8L1621.6,1164L1628,1159.1L1634.3,1154.1L1640.6,1149L1646.8,1143.8L1652.9,1138.5L1659,1133.2L1665,1127.7L1670.8,1122.2L1676.6,1116.6L1682.4,1110.9L1688,1105.1L1693.6,1099.2L1699,1093.2L1704.4,1087.2L1709.7,1081.1L1714.9,1074.9L1720,1068.6L1725,1062.3L1729.9,1055.9L1734.7,1049.4L1739.5,1042.8L1744.1,1036.2L1748.6,1029.5L1753.1,1022.7L1757.4,1015.9L1761.6,1009L1765.8,1002.1L1768.8,994.5L1772,987.1L1771.4,986.7L1766.8,993.4L1761.8,999.8L1757.7,1006.7L1753.6,1013.5L1749.3,1020.3L1744.9,1027L1740.4,1033.6L1735.8,1040.2L1731.1,1046.7L1726.4,1053.2L1721.5,1059.5L1716.5,1065.8L1711.5,1072.1L1706.3,1078.2L1701.1,1084.3L1695.7,1090.3L1690.3,1096.2L1684.8,1102L1679.2,1107.8L1673.5,1113.4L1667.8,1119L1661.9,1124.5L1656,1129.9L1650,1135.2L1643.9,1140.4L1637.8,1145.6L1631.5,1150.6L1625.2,1155.6L1618.9,1160.4L1612.4,1165.2L1605.9,1169.9L1599.4,1174.4L1592.7,1178.9L1586,1183.3L1579.2,1187.6L1572.4,1191.8L1565.5,1195.8L1558.6,1199.8L1551.6,1203.7L1544.5,1207.5L1537.4,1211.2L1530.3,1214.7L1523,1218.2L1515.8,1221.6L1508.5,1224.8L1501.1,1228L1493.7,1231L1486.3,1233.9L1478.8,1236.8L1471.3,1239.5L1463.8,1242.1L1456.2,1244.6L1448.5,1247L1440.9,1249.3L1433.2,1251.4L1425.5,1253.5L1417.8,1255.5L1410,1257.3L1402.2,1259L1394.4,1260.6L1386.5,1262.1L1378.7,1263.5L1370.8,1264.8L1362.9,1266L1355,1267.1L1347.1,1268L1339.2,1268.8L1331.2,1269.6L1323.3,1270.2L1315.3,1270.7L1307.4,1271L1299.4,1271.3L1291.5,1271.5L1283.5,1271.5L1275.5,1271.5L1267.6,1271.3L1259.6,1271L1251.7,1270.6L1243.7,1270.1L1235.8,1269.4L1227.9,1268.7L1219.9,1267.8L1212,1266.9L1204.2,1265.8L1196.3,1264.6L1188.4,1263.3L1180.6,1261.9L1172.8,1260.4L1165,1258.9L1156.9,1258.4ZM1783.5,965.8L1788.4,959.2L1791.8,951.9L1795.1,944.5L1798.2,937.1L1801.3,929.6L1804.3,922.1L1807.1,914.5L1809.9,906.9L1812.5,899.3L1815.1,891.6L1817.5,883.9L1819.8,876.2L1822,868.4L1824,860.6L1826,852.8L1827.9,845L1829.6,837.1L1831.2,829.2L1832.7,821.2L1834.1,813.3L1835.4,805.3L1836.6,797.4L1837.7,789.4L1838.6,781.4L1839.4,773.3L1840.1,765.3L1840.7,757.3L1841.2,749.2L1841.6,741.2L1841.9,733.1L1842,725.1L1842,717L1841.9,708.9L1841.7,700.9L1841.2,692.8L1840.6,684.8L1839.9,676.8L1839,668.8L1838,660.8L1836.8,652.8L1835.6,644.9L1834.3,637L1832.9,629.1L1831.4,621.2L1829.8,613.3L1828.2,605.5L1826.5,597.6L1824.6,589.8L1822.6,582.1L1820.5,574.4L1818.2,566.7L1815.9,559L1813.4,551.4L1810.8,543.8L1808.1,536.3L1804.8,529L1801,530.3L1803.1,538L1805.8,545.5L1808.4,552.9L1810.9,560.5L1813.3,568L1815.6,575.6L1817.8,583.3L1819.8,591L1821.7,598.7L1823.4,606.4L1825,614.2L1826.6,622L1828,629.8L1829.4,637.7L1830.7,645.5L1832,653.4L1833.1,661.3L1834,669.2L1834.9,677.1L1835.6,685.1L1836.2,693L1836.7,701L1836.9,709L1837.1,717L1837,725L1836.9,733L1836.6,740.9L1836.3,748.9L1835.8,756.9L1835.2,764.9L1834.5,772.8L1833.7,780.8L1832.8,788.7L1831.7,796.6L1830.6,804.6L1829.3,812.4L1827.9,820.3L1826.4,828.2L1824.8,836L1823.1,843.8L1821.3,851.6L1819.4,859.4L1817.3,867.1L1815.2,874.8L1812.9,882.5L1810.5,890.1L1808,897.8L1805.4,905.3L1802.7,912.9L1799.9,920.4L1797,927.8L1793.9,935.2L1790.8,942.6L1787.5,949.9L1784.2,957.2L1782.1,965.1ZM1786.3,484.8L1784,477.1L1780.8,469.7L1777.3,462.5L1773.7,455.4L1770,448.3L1766.2,441.3L1762.2,434.3L1758.2,427.4L1754,420.6L1749.6,413.8L1745.3,407.1L1740.8,400.5L1736.4,393.8L1731.9,387.2L1727.3,380.6L1722.6,374.1L1717.9,367.6L1713.1,361.2L1708.2,354.8L1703.1,348.6L1698,342.4L1692.7,336.3L1687.3,330.4L1681.8,324.5L1676.1,318.8L1670.3,313.2L1664.5,307.7L1658.5,302.3L1652.5,297L1646.4,291.8L1640.2,286.6L1633.9,281.6L1627.6,276.7L1621.2,271.8L1614.7,267.1L1608.2,262.4L1601.6,257.8L1594.9,253.4L1588.2,249L1581.4,244.7L1574.5,240.6L1567.6,236.5L1560.7,232.5L1553.7,228.6L1546.6,224.8L1539.5,221.1L1532.3,217.6L1525.1,214.1L1517.9,210.7L1510.6,207.4L1503.2,204.2L1495.8,201.1L1488.4,198.1L1481,195.2L1473.5,192.4L1465.9,189.7L1458.3,187.1L1450.7,184.7L1443.1,182.4L1435.4,180.2L1427.7,178.1L1419.9,176.1L1412.1,174.2L1404.3,172.5L1396.5,170.8L1388.7,169.3L1380.8,167.9L1372.9,166.6L1365,165.4L1357.1,164.3L1349.2,163.3L1341.2,162.5L1333.3,161.7L1325.3,161.1L1317.4,160.5L1309.4,160.1L1301.4,159.8L1293.4,159.5L1285.5,159.4L1277.5,159.4L1269.5,159.5L1261.5,159.7L1253.6,160L1245.6,160.5L1237.6,161L1229.7,161.7L1221.7,162.4L1213.8,163.3L1205.9,164.3L1198,165.4L1190.1,166.6L1182.2,168L1174.4,169.4L1166.5,171L1158.7,172.6L1151,174.4L1143.2,176.3L1135.5,178.3L1127.8,180.4L1120.1,182.6L1112.4,184.9L1104.8,187.3L1097.3,189.8L1089.7,192.5L1082.2,195.2L1074.8,198.1L1067.4,201L1060,204.1L1052.7,207.3L1045.4,210.6L1038.1,214L1031,217.5L1023.8,221.1L1016.8,224.8L1009.7,228.6L1002.8,232.5L995.8,236.5L989,240.6L982.2,244.8L975.5,249.1L968.8,253.5L962.2,258L955.6,262.6L949.1,267.2L942.7,272L936.3,276.8L930.1,281.8L923.8,286.8L917.7,292L911.7,297.2L905.7,302.5L899.8,307.9L894,313.4L888.2,319L882.7,324.8L877,330.3L871.5,336.2L866.1,342L860.8,348L855.5,354.1L850.4,360.2L845.3,366.4L840.3,372.6L835.4,378.9L830.6,385.3L825.9,391.8L821.3,398.3L816.8,404.9L812.4,411.6L808,418.3L803.8,425.1L799.7,432L795.6,438.9L791.7,445.8L787.9,452.9L784.1,459.9L780.5,467.1L777,474.3L773.6,481.5L770.3,488.8L767,496.1L763.9,503.5L760.9,510.9L758,518.4L755.3,525.9L752.6,533.4L750,541L747.5,548.6L745.3,556.3L743.3,564L741.5,571.8L739.9,579.7L738.5,587.5L737.2,595.4L736.1,603.3L735.2,611.3L734.4,619.2L733.8,627.1L733.2,635.1L732.8,643L732.5,651L732.2,658.9L732,666.8L731.9,674.7L731.9,682.6L731.8,690.5L731.8,698.3L731.8,706.2L732.1,714.1L732.5,721.9L734.6,721.9L733.4,714.1L733.3,706.2L733.3,698.4L733.3,690.5L733.3,682.7L733.4,674.8L733.5,666.9L733.7,659L734,651.1L734.3,643.2L734.8,635.3L735.3,627.4L736,619.5L736.8,611.6L737.7,603.7L738.8,595.8L740.1,587.9L741.5,580.1L743.1,572.3L744.9,564.5L746.9,556.8L749.2,549.1L751.6,541.5L754.2,534L756.9,526.4L759.6,519L762.5,511.5L765.5,504.1L768.7,496.8L771.9,489.5L775.2,482.2L778.6,475L782.1,467.9L785.8,460.8L789.5,453.7L793.3,446.7L797.2,439.8L801.3,432.9L805.4,426.1L809.6,419.3L814,412.6L818.4,406L822.9,399.4L827.5,392.9L832.2,386.5L837,380.1L841.9,373.8L846.8,367.6L851.9,361.4L857,355.3L862.3,349.3L867.6,343.4L873,337.5L878.5,331.8L883.9,325.9L889.7,320.4L895.4,314.9L901.2,309.5L907.1,304.1L913.1,298.8L919.2,293.6L925.3,288.5L931.5,283.5L937.7,278.6L944.1,273.8L950.5,269.1L956.9,264.4L963.5,259.9L970.1,255.4L976.7,251.1L983.4,246.8L990.2,242.6L997.1,238.6L1004,234.6L1010.9,230.8L1018,227L1025,223.4L1032.1,219.8L1039.3,216.4L1046.5,213.1L1053.8,209.8L1061.1,206.7L1068.4,203.7L1075.8,200.7L1083.3,197.9L1090.7,195.2L1098.2,192.6L1105.8,190.1L1113.3,187.7L1120.9,185.4L1128.6,183.2L1136.2,181.2L1143.9,179.2L1151.7,177.3L1159.4,175.6L1167.2,174L1175,172.5L1182.8,171.1L1190.6,169.8L1198.5,168.6L1206.3,167.5L1214.2,166.6L1222.1,165.7L1230,165L1237.9,164.3L1245.8,163.8L1253.7,163.4L1261.6,163.1L1269.6,162.9L1277.5,162.8L1285.4,162.8L1293.4,162.9L1301.3,163.2L1309.2,163.5L1317.1,164L1325.1,164.5L1333,165.2L1340.9,166L1348.7,166.9L1356.6,167.9L1364.5,169L1372.3,170.2L1380.1,171.5L1387.9,172.9L1395.7,174.5L1403.5,176.1L1411.2,177.9L1418.9,179.8L1426.6,181.8L1434.3,183.9L1441.9,186.1L1449.5,188.4L1457.1,190.9L1464.6,193.4L1472.1,196.1L1479.5,198.9L1486.9,201.7L1494.3,204.7L1501.6,207.8L1508.9,211L1516.2,214.3L1523.3,217.7L1530.5,221.2L1537.6,224.7L1544.6,228.4L1551.6,232.2L1558.6,236.1L1565.5,240.1L1572.3,244.1L1579.1,248.3L1585.8,252.6L1592.5,256.9L1599.1,261.4L1605.6,265.9L1612.1,270.6L1618.5,275.3L1624.9,280.1L1631.1,285L1637.3,290.1L1643.4,295.2L1649.5,300.4L1655.5,305.6L1661.4,311L1667.2,316.5L1672.9,322L1678.5,327.7L1684,333.5L1689.3,339.4L1694.5,345.5L1699.6,351.6L1704.5,357.9L1709.4,364.2L1714.1,370.6L1718.8,377.1L1723.3,383.6L1727.8,390.1L1732.3,396.7L1736.7,403.3L1741,410L1745.3,416.6L1749.6,423.3L1753.8,430L1757.8,436.9L1761.7,443.8L1765.5,450.8L1769.1,457.8L1772.7,464.9L1776.1,472L1779.6,479.2L1783.8,485.9ZM718.5,716L718.6,724L718.7,732.1L719,740.1L719.4,748.2L719.9,756.2L720.6,764.2L721.4,772.2L722.3,780.2L723.2,788.2L724.2,796.2L725.3,804.2L726.5,812.2L727.9,820.1L729.5,828L731.3,835.9L733.3,843.7L737.2,851L739.8,858.6L742.6,866.1L745.5,873.6L748.5,881.1L751.5,888.5L754.6,895.8L757.6,903.2L760.7,910.5L763.7,917.9L766.6,925.3L769.5,932.7L772.4,940.1L775.4,947.5L778.5,954.9L781.6,962.2L784.8,969.5L788.1,976.8L791.5,984L795.1,991.2L798.8,998.2L802.7,1005.2L806.7,1012.1L811,1018.9L815.2,1025.7L819.6,1032.4L824,1039.1L828.5,1045.8L833,1052.4L837.7,1058.9L842.8,1065.1L848.4,1070.9L848.6,1070.7L844.5,1063.7L840.2,1057L835.6,1050.4L831.1,1043.9L826.6,1037.3L822.2,1030.6L817.9,1023.9L813.6,1017.2L809.4,1010.5L805.4,1003.6L801.5,996.7L797.7,989.7L794.1,982.6L790.6,975.5L787.2,968.3L783.9,961.1L780.7,953.8L777.5,946.5L774.5,939.2L771.5,931.9L768.6,924.5L765.7,917.1L762.7,909.8L759.6,902.5L756.4,895.2L753.2,887.9L750,880.6L746.9,873.2L743.8,865.8L740.9,858.3L738.1,850.8L737,842.8L734.6,835.1L732.5,827.4L730.8,819.6L729.3,811.7L727.9,803.8L726.5,795.9L725.2,788L724,780.1L722.9,772.1L722.1,764.1L721.3,756.1L720.6,748.1L720.1,740.1L719.6,732.1L719.4,724L719.3,716ZM863.4,1089.7L868.2,1096.2L873,1102.7L878.4,1108.8L884,1114.5L889.7,1120.2L895.4,1125.8L901.3,1131.4L907.2,1136.8L913.2,1142.2L919.3,1147.5L925.5,1152.7L931.7,1157.8L938,1162.8L944.4,1167.8L950.9,1172.6L957.4,1177.4L964,1182.1L970.6,1186.6L977.3,1191.1L984.1,1195.5L991,1199.8L997.9,1204L1004.9,1208L1011.9,1212L1019,1215.9L1026.1,1219.7L1033.3,1223.4L1040.6,1227L1047.9,1230.4L1055.3,1233.8L1062.7,1237L1070.1,1240.2L1077.6,1243.2L1085.2,1246.1L1092.8,1249L1100.4,1251.6L1108.2,1254.1L1116.2,1255.6L1124,1257.4L1131.8,1259.6L1139.5,1262.1L1147.1,1265.2L1154.9,1267.3L1162.8,1269L1170.8,1270.7L1178.7,1272.2L1186.7,1273.6L1194.7,1274.9L1202.7,1276L1210.8,1277.1L1218.8,1278L1226.9,1278.8L1235,1279.4L1243.1,1280L1251.2,1280.4L1259.3,1280.7L1267.3,1280.9L1275.5,1280.9L1283.5,1280.8L1291.6,1280.7L1299.7,1280.3L1307.8,1279.9L1315.9,1279.4L1324,1278.6L1332,1277.4L1340.1,1277L1348.1,1276L1356.1,1274.9L1364.1,1273.7L1372.1,1272.3L1380,1270.9L1387.9,1269.3L1395.8,1267.6L1403.7,1265.8L1411.6,1263.9L1419.4,1261.8L1427.2,1259.7L1434.9,1257.4L1442.6,1255.1L1450.3,1252.6L1458,1250L1465.6,1247.4L1473.2,1244.6L1480.7,1241.7L1488.2,1238.7L1495.6,1235.6L1503,1232.4L1510.4,1229L1517.7,1225.6L1524.9,1222.1L1532.1,1218.5L1539.3,1214.8L1546.4,1211L1553.4,1207L1560.4,1203L1567.3,1198.9L1574.2,1194.7L1581,1190.4L1587.8,1186L1594.5,1181.5L1601.1,1176.9L1607.6,1172.2L1614.1,1167.5L1620.5,1162.6L1626.9,1157.7L1633.2,1152.6L1639.4,1147.5L1645.5,1142.3L1651.6,1137L1657.6,1131.6L1663.5,1126.2L1669.3,1120.6L1675.1,1115L1680.8,1109.3L1686.4,1103.5L1691.9,1097.6L1697.3,1091.7L1702.7,1085.7L1707.9,1079.6L1713.1,1073.4L1718.2,1067.2L1723.2,1060.9L1728.1,1054.5L1732.9,1048L1737.6,1041.5L1742.3,1034.9L1746.8,1028.3L1751.2,1021.6L1755.6,1014.8L1759.8,1007.9L1764,1001L1768.1,994.1L1772,987.1L1775.9,980L1779.7,972.9L1783.3,965.7L1786.9,958.5L1790.4,951.2L1793.7,943.9L1797,936.5L1800.1,929.1L1803.2,921.7L1806.1,914.2L1809,906.6L1811.7,899L1814.4,891.4L1816.9,883.8L1819.3,876.1L1821.6,868.3L1823.8,860.6L1825.9,852.8L1827.9,845L1829.8,837.1L1831.5,829.2L1833.2,821.3L1834.7,813.4L1836.1,805.4L1837.4,797.5L1838.6,789.5L1839.7,781.5L1840.7,773.5L1841.5,765.4L1842.3,757.4L1842.9,749.3L1843.4,741.2L1843.8,733.2L1844,725.1L1842.8,717L1843,708.9L1843.8,700.8L1843.8,692.7L1843.3,684.7L1842.7,676.6L1841.9,668.5L1841,660.5L1840,652.5L1838.8,644.5L1837.6,636.5L1836.3,628.5L1834.9,620.6L1833.4,612.7L1831.9,604.7L1830.2,596.8L1828.5,589L1826.6,581.1L1824.5,573.3L1822.4,565.5L1820.1,557.8L1817.7,550.1L1815.2,542.4L1812.6,534.8L1809.9,527.2L1806.4,519.9L1802.9,521.2L1804.9,528.9L1807.6,536.5L1810.2,544L1812.7,551.6L1815.2,559.2L1817.5,566.9L1819.7,574.6L1821.7,582.3L1823.7,590.1L1825.5,597.9L1827.1,605.7L1828.6,613.6L1830.1,621.4L1831.5,629.3L1832.8,637.2L1834,645.1L1835.1,653L1836.1,661L1837,669L1837.7,676.9L1838.4,684.9L1838.8,692.9L1839.5,700.9L1840.6,709L1840.7,717L1839.2,725L1838.8,733L1838.4,741L1837.9,749L1837.3,757L1836.6,765L1835.8,773L1834.8,780.9L1833.7,788.8L1832.5,796.8L1831.3,804.7L1829.9,812.5L1828.3,820.4L1826.7,828.2L1825,836.1L1823.1,843.8L1821.2,851.6L1819.1,859.3L1817,867L1814.7,874.7L1812.3,882.3L1809.8,889.9L1807.2,897.5L1804.5,905L1801.7,912.5L1798.8,919.9L1795.8,927.3L1792.7,934.7L1789.5,942L1786.1,949.3L1782.7,956.5L1779.2,963.7L1775.6,970.8L1771.8,977.9L1768,984.9L1764.1,991.8L1760.1,998.7L1756,1005.6L1751.8,1012.4L1747.4,1019.1L1743,1025.8L1738.6,1032.4L1734,1038.9L1729.3,1045.4L1724.5,1051.8L1719.7,1058.1L1714.7,1064.4L1709.7,1070.6L1704.5,1076.7L1699.3,1082.8L1694,1088.7L1688.6,1094.6L1683.2,1100.5L1677.6,1106.2L1672,1111.9L1666.3,1117.4L1660.5,1122.9L1654.6,1128.4L1648.7,1133.7L1642.6,1138.9L1636.6,1144.1L1630.4,1149.2L1624.2,1154.2L1617.9,1159.1L1611.5,1163.9L1605,1168.6L1598.5,1173.3L1592,1177.8L1585.3,1182.3L1578.6,1186.6L1571.9,1190.9L1565.1,1195.1L1558.2,1199.2L1551.3,1203.1L1544.3,1207L1537.2,1210.8L1530.1,1214.5L1523,1218.1L1515.8,1221.6L1508.6,1225L1501.3,1228.3L1493.9,1231.4L1486.5,1234.5L1479.1,1237.5L1471.6,1240.4L1464.1,1243.1L1456.6,1245.8L1449,1248.3L1441.3,1250.8L1433.7,1253.1L1426,1255.3L1418.3,1257.5L1410.5,1259.5L1402.7,1261.4L1394.9,1263.2L1387.1,1264.8L1379.2,1266.4L1371.3,1267.9L1363.4,1269.2L1355.5,1270.4L1347.5,1271.5L1339.6,1272.6L1331.7,1274L1323.6,1274.3L1315.6,1274.8L1307.6,1275.4L1299.6,1275.8L1291.6,1276.1L1283.5,1276.3L1275.5,1276.4L1267.5,1276.3L1259.4,1276.2L1251.4,1275.9L1243.4,1275.5L1235.3,1275L1227.3,1274.3L1219.3,1273.5L1211.3,1272.7L1203.3,1271.6L1195.4,1270.5L1187.4,1269.3L1179.5,1267.9L1171.6,1266.4L1163.7,1264.8L1155.9,1263.1L1148,1261.5L1139.9,1260.6L1132,1258.9L1124.3,1256.6L1116.7,1253.8L1109.3,1250.4L1101.7,1247.7L1094.1,1245.1L1086.6,1242.3L1079.1,1239.5L1071.6,1236.5L1064.2,1233.4L1056.8,1230.2L1049.5,1226.9L1042.2,1223.5L1035,1219.9L1027.8,1216.3L1020.7,1212.6L1013.7,1208.7L1006.7,1204.8L999.7,1200.8L992.9,1196.6L986,1192.4L979.3,1188.1L972.6,1183.6L966,1179.1L959.4,1174.5L952.9,1169.8L946.5,1165L940.1,1160.1L933.9,1155.1L927.7,1150L921.5,1144.9L915.5,1139.6L909.5,1134.3L903.6,1128.9L897.8,1123.4L892,1117.8L886.4,1112.1L880.8,1106.4L875.2,1100.7L869.3,1095.2L863.7,1089.5ZM1793,490.6L1790.9,482.7L1787.7,475.3L1784.2,468.1L1781.1,460.6L1778.1,453.1L1774.4,445.9L1770.5,438.8L1766.5,431.8L1762.4,424.9L1758.1,418L1753.7,411.2L1749.3,404.5L1744.8,397.7L1740.3,391.1L1735.7,384.4L1731,377.8L1726.2,371.3L1721.4,364.8L1716.4,358.4L1711.4,352.1L1706.3,345.8L1701,339.7L1695.7,333.6L1690.2,327.6L1684.6,321.8L1678.8,316.1L1673,310.5L1667,305L1661,299.6L1654.9,294.3L1648.7,289.1L1642.4,284L1636.1,279L1629.7,274L1623.2,269.2L1616.6,264.5L1610,259.9L1603.3,255.3L1596.6,250.9L1589.8,246.6L1582.9,242.3L1576,238.2L1569,234.2L1562,230.2L1554.9,226.4L1547.8,222.6L1540.6,219L1533.4,215.4L1526.2,211.9L1518.8,208.6L1511.5,205.3L1504.1,202.1L1496.7,199L1489.2,196L1481.7,193.1L1474.2,190.4L1466.6,187.7L1459,185.2L1451.4,182.7L1443.7,180.4L1435.9,178.2L1428.2,176.1L1420.4,174.2L1412.6,172.3L1404.8,170.6L1396.9,168.9L1389,167.4L1381.1,166L1373.2,164.7L1365.3,163.5L1357.4,162.4L1349.4,161.4L1341.4,160.6L1333.5,159.8L1325.5,159.1L1317.5,158.6L1309.5,158.1L1301.5,157.8L1293.5,157.5L1285.5,157.4L1277.5,157.3L1269.5,157.4L1261.5,157.5L1253.5,157.8L1245.5,158.2L1237.5,158.7L1229.5,159.4L1221.5,160.1L1213.5,161L1205.6,162L1197.6,163.1L1189.7,164.3L1181.8,165.6L1173.9,167L1166,168.5L1158.2,170.2L1150.4,171.9L1142.6,173.8L1134.8,175.7L1127,177.8L1119.3,180L1111.6,182.3L1104,184.6L1096.3,187.1L1088.7,189.8L1081.2,192.5L1073.7,195.3L1066.2,198.3L1058.8,201.4L1051.4,204.6L1044.1,207.9L1036.9,211.3L1029.7,214.9L1022.5,218.5L1015.4,222.2L1008.3,226.1L1001.3,230L994.4,234.1L987.5,238.2L980.7,242.4L973.9,246.8L967.2,251.2L960.6,255.7L954,260.3L947.4,265L941,269.7L934.6,274.6L928.3,279.6L922,284.7L915.9,289.8L909.8,295.1L903.8,300.4L897.9,305.9L892.1,311.4L886.3,317L880.7,322.8L875.3,328.7L869.8,334.6L864.2,340.4L858.9,346.4L853.7,352.5L848.5,358.6L843.5,364.9L838.5,371.2L833.6,377.6L828.8,384L824.1,390.5L819.5,397.1L815,403.7L810.6,410.4L806.2,417.2L802,424L797.9,430.9L793.9,437.9L790,444.9L786.3,452L782.6,459.1L779,466.3L775.5,473.5L772.1,480.8L768.9,488.2L765.7,495.5L762.6,502.9L759.7,510.4L756.8,517.9L754.1,525.4L751.4,533L748.9,540.6L746.5,548.3L744.3,556L742.4,563.8L740.6,571.6L739.1,579.4L737.7,587.3L736.5,595.3L735.5,603.2L734.6,611.2L733.9,619.1L733.3,627.1L732.8,635L732.4,643L732.1,650.9L731.9,658.9L731.8,666.8L731.8,674.7L731.7,682.6L731.7,690.5L731.8,698.3L731.8,706.2L732.2,714.1L732.5,721.9L734.6,721.9L733.4,714.1L733.3,706.2L733.3,698.4L733.2,690.5L733.2,682.7L733.3,674.8L733.3,666.9L733.5,659L733.7,651.1L734,643.2L734.3,635.3L734.8,627.3L735.4,619.4L736.2,611.5L737.1,603.5L738.1,595.6L739.3,587.7L740.7,579.9L742.2,572L744,564.2L745.9,556.5L748.1,548.8L750.5,541.1L753,533.6L755.7,526L758.4,518.5L761.3,511L764.2,503.6L767.3,496.2L770.5,488.9L773.7,481.6L777.1,474.3L780.6,467.1L784.2,460L787.9,452.9L791.7,445.8L795.6,438.8L799.6,431.9L803.7,425L807.9,418.2L812.2,411.5L816.6,404.8L821.1,398.2L825.7,391.6L830.4,385.1L835.1,378.7L840,372.4L845,366.1L850,359.9L855.2,353.8L860.4,347.7L865.7,341.7L870.9,335.6L876.4,329.8L882.2,324.2L887.8,318.5L893.6,313L899.4,307.5L905.3,302.1L911.3,296.7L917.3,291.5L923.5,286.4L929.7,281.3L936,276.4L942.3,271.5L948.8,266.8L955.3,262.1L961.9,257.6L968.5,253.1L975.2,248.7L981.9,244.4L988.8,240.2L995.6,236.1L1002.6,232.2L1009.5,228.3L1016.6,224.5L1023.7,220.8L1030.8,217.2L1038,213.8L1045.3,210.4L1052.6,207.1L1059.9,204L1067.3,200.9L1074.7,198L1082.2,195.2L1089.7,192.5L1097.3,189.9L1104.9,187.4L1112.5,185.1L1120.2,182.8L1127.8,180.7L1135.6,178.6L1143.3,176.7L1151.1,174.9L1158.9,173.1L1166.7,171.5L1174.5,170L1182.3,168.6L1190.2,167.4L1198.1,166.2L1206,165.2L1213.9,164.2L1221.8,163.4L1229.8,162.7L1237.7,162.1L1245.7,161.6L1253.6,161.2L1261.6,160.9L1269.5,160.8L1277.5,160.7L1285.5,160.8L1293.4,160.9L1301.4,161.2L1309.3,161.5L1317.3,162L1325.2,162.6L1333.1,163.3L1341.1,164.1L1349,165L1356.9,166L1364.8,167.1L1372.6,168.3L1380.5,169.6L1388.3,171L1396.1,172.6L1403.9,174.2L1411.7,176L1419.4,177.9L1427.2,179.9L1434.9,181.9L1442.5,184.2L1450.2,186.5L1457.7,188.9L1465.3,191.4L1472.8,194.1L1480.3,196.8L1487.8,199.7L1495.2,202.7L1502.5,205.8L1509.9,208.9L1517.1,212.2L1524.4,215.6L1531.6,219L1538.7,222.6L1545.9,226.2L1552.9,230L1559.9,233.8L1566.9,237.7L1573.8,241.8L1580.6,245.9L1587.4,250.1L1594.2,254.5L1600.8,258.9L1607.5,263.4L1614,268L1620.5,272.7L1626.9,277.5L1633.3,282.4L1639.6,287.4L1645.8,292.5L1651.9,297.7L1657.9,302.9L1663.9,308.3L1669.8,313.8L1675.6,319.3L1681.3,325L1686.9,330.8L1692.3,336.7L1697.6,342.7L1702.7,348.9L1707.8,355.1L1712.8,361.4L1717.6,367.8L1722.4,374.3L1727,380.8L1731.6,387.4L1736.2,394L1740.6,400.6L1745.1,407.3L1749.4,414L1753.8,420.7L1758,427.5L1762.1,434.4L1766,441.4L1769.8,448.4L1773.5,455.5L1777.8,462.3L1781.7,469.3L1784.9,476.6L1788.3,483.9L1792.5,490.8ZM718.3,716L718.3,724.1L718.5,732.1L718.7,740.2L719,748.2L719.5,756.2L720.2,764.3L721,772.3L721.9,780.3L722.7,788.3L723.6,796.3L724.6,804.3L725.8,812.3L727.2,820.2L728.8,828.1L730.6,836L732.5,843.8L736.3,851.2L738.8,858.8L741.5,866.4L744.3,873.9L747.3,881.4L750.3,888.9L753.3,896.3L756.4,903.6L759.4,911L762.4,918.4L765.4,925.8L768.4,933.2L771.4,940.6L774.4,948L777.5,955.3L780.6,962.7L783.9,970L787.2,977.2L790.7,984.5L794.3,991.6L798.1,998.7L802,1005.6L806.1,1012.5L810.4,1019.3L814.8,1026L819.2,1032.7L823.7,1039.4L828.2,1046L832.8,1052.6L837.5,1059.1L842.2,1065.6L847.1,1072L852,1078.3L857.1,1084.6L862.3,1090.7L867.5,1096.8L872.9,1102.8L878.4,1108.7L884,1114.5L889.7,1120.2L895.5,1125.8L901.4,1131.3L907.3,1136.7L913.3,1142.1L919.4,1147.4L925.6,1152.6L931.8,1157.7L938.1,1162.8L944.4,1167.7L950.9,1172.6L957.4,1177.4L964,1182.1L970.6,1186.7L977.3,1191.2L984,1195.6L990.9,1200L997.8,1204.2L1004.7,1208.3L1011.7,1212.4L1018.8,1216.3L1025.9,1220.2L1033.1,1223.9L1040.3,1227.6L1047.6,1231.1L1054.9,1234.5L1062.3,1237.9L1069.8,1241.1L1077.3,1244.2L1084.8,1247.2L1092.4,1250.2L1100,1252.9L1107.7,1255.6L1115.4,1258.2L1123.1,1260.7L1130.9,1263L1138.7,1265.2L1146.6,1267.3L1154.5,1269.3L1162.4,1271.2L1170.3,1272.9L1178.3,1274.5L1186.3,1276.1L1194.3,1277.4L1202.4,1278.7L1210.4,1279.8L1218.5,1280.8L1226.6,1281.7L1234.7,1282.4L1242.9,1283.1L1251,1283.6L1259.1,1283.9L1267.3,1284.2L1275.4,1284.3L1283.6,1284.3L1291.7,1284.1L1299.9,1283.9L1308,1283.5L1316.1,1283L1324.2,1282.3L1332.4,1281.6L1340.5,1280.7L1348.5,1279.7L1356.6,1278.6L1364.7,1277.4L1372.7,1276.1L1380.7,1274.6L1388.7,1273L1396.6,1271.3L1404.6,1269.5L1412.5,1267.6L1420.3,1265.5L1428.2,1263.4L1436,1261.1L1443.7,1258.7L1451.5,1256.2L1459.2,1253.6L1466.8,1250.9L1474.4,1248L1482,1245.1L1489.5,1242.1L1497,1238.9L1504.4,1235.6L1511.8,1232.3L1519.2,1228.8L1526.4,1225.2L1533.7,1221.5L1540.8,1217.8L1548,1213.9L1555,1209.9L1562,1205.8L1569,1201.7L1575.9,1197.4L1582.7,1193L1589.4,1188.6L1596.1,1184L1602.8,1179.4L1609.3,1174.6L1615.8,1169.8L1622.3,1164.9L1628.6,1159.9L1634.9,1154.8L1641.1,1149.6L1647.3,1144.3L1653.3,1139L1659.3,1133.6L1665.3,1128L1671.1,1122.5L1676.9,1116.8L1682.5,1111L1688.1,1105.2L1693.7,1099.3L1699.1,1093.3L1704.5,1087.2L1709.7,1081.1L1714.9,1074.9L1720,1068.6L1725,1062.3L1729.9,1055.9L1734.8,1049.4L1739.5,1042.8L1744.2,1036.2L1748.7,1029.6L1753.2,1022.8L1757.6,1016L1761.8,1009.2L1766,1002.2L1770.1,995.3L1774.1,988.2L1778,981.1L1781.8,974L1785.5,966.8L1789.1,959.6L1792.6,952.3L1796,944.9L1799.3,937.5L1802.5,930.1L1805.6,922.6L1808.6,915.1L1811.5,907.5L1814.2,899.9L1816.9,892.3L1819.5,884.6L1821.9,876.8L1824.3,869.1L1826.5,861.3L1828.7,853.5L1830.7,845.6L1832.6,837.7L1834.4,829.8L1836.1,821.9L1837.6,813.9L1839.1,805.9L1840.4,797.9L1841.7,789.9L1842.8,781.8L1843.8,773.8L1844.6,765.7L1845.4,757.6L1846,749.5L1846.6,741.4L1847,733.3L1847.2,725.1L1847.4,717L1847.4,708.9L1847.3,700.7L1846.9,692.6L1846.4,684.5L1845.8,676.4L1845,668.3L1844,660.2L1843,652.2L1841.8,644.1L1840.5,636.1L1839.2,628.1L1837.7,620.1L1836.2,612.1L1834.6,604.2L1832.9,596.2L1831.1,588.3L1829.2,580.5L1827.2,572.6L1825,564.8L1822.7,557L1820.3,549.3L1817.8,541.6L1815.1,533.9L1812.4,526.3L1809.5,518.7L1806.6,511.2L1803.6,503.6L1800.5,496.1L1797.3,488.7L1794,481.3L1790.6,473.9L1787.1,466.6L1783.5,459.4L1779.8,452.2L1776,445L1772,438L1768,430.9L1763.8,424L1759.5,417.2L1755,410.4L1750.5,403.6L1746,396.9L1741.4,390.3L1736.7,383.7L1732,377.1L1727.2,370.6L1722.3,364.1L1717.3,357.7L1712.2,351.4L1707,345.2L1701.7,339L1696.3,333L1690.8,327L1685.2,321.2L1679.4,315.5L1673.5,309.9L1667.6,304.4L1661.6,299L1655.4,293.7L1649.2,288.4L1643,283.3L1636.6,278.3L1630.2,273.4L1623.7,268.5L1617.2,263.8L1610.6,259.1L1603.9,254.6L1597.1,250.1L1590.3,245.7L1583.5,241.5L1576.6,237.3L1569.6,233.2L1562.6,229.2L1555.5,225.3L1548.4,221.5L1541.2,217.8L1534,214.2L1526.8,210.6L1519.5,207.2L1512.2,203.9L1504.8,200.6L1497.4,197.4L1489.9,194.4L1482.4,191.4L1474.9,188.5L1467.3,185.8L1459.7,183.1L1452,180.6L1444.3,178.2L1436.6,175.9L1428.8,173.8L1421,171.7L1413.2,169.8L1405.4,168L1397.5,166.3L1389.6,164.7L1381.7,163.2L1373.7,161.8L1365.8,160.6L1357.8,159.4L1349.8,158.4L1341.8,157.4L1333.8,156.6L1325.8,155.9L1317.7,155.3L1309.7,154.8L1301.6,154.4L1293.6,154L1285.5,153.8L1277.5,153.7L1269.4,153.7L1261.3,153.9L1253.3,154.1L1245.2,154.5L1237.2,155L1229.1,155.6L1221.1,156.4L1213.1,157.2L1205.1,158.2L1197.1,159.3L1189.1,160.6L1181.1,161.9L1173.2,163.4L1165.3,164.9L1157.4,166.6L1149.5,168.4L1141.7,170.3L1133.9,172.3L1126.1,174.4L1118.3,176.7L1110.6,179L1102.9,181.4L1095.2,184L1087.6,186.6L1080,189.4L1072.5,192.4L1065,195.4L1057.6,198.6L1050.3,201.9L1042.9,205.4L1035.7,208.9L1028.5,212.5L1021.3,216.3L1014.2,220.1L1007.2,224.1L1000.2,228.1L993.3,232.3L986.5,236.5L979.7,240.8L972.9,245.3L966.3,249.8L959.6,254.4L953.1,259L946.6,263.8L940.1,268.6L933.8,273.6L927.5,278.6L921.3,283.8L915.2,289L909.2,294.4L903.2,299.8L897.4,305.3L891.6,310.9L885.9,316.6L880.3,322.4L874.8,328.2L869.3,334.1L864,340.1L858.7,346.2L853.5,352.3L848.4,358.5L843.4,364.8L838.5,371.2L833.6,377.6L828.9,384L824.2,390.6L819.6,397.2L815.2,403.9L810.8,410.6L806.5,417.4L802.4,424.2L798.3,431.2L794.3,438.1L790.5,445.2L786.7,452.2L783,459.4L779.5,466.6L776,473.8L772.6,481.1L769.4,488.4L766.2,495.8L763.2,503.2L760.2,510.6L757.4,518.1L754.6,525.6L752,533.2L749.4,540.8L747,548.4L744.8,556.1L742.8,563.9L741.1,571.7L739.5,579.6L738.1,587.4L736.9,595.3L735.8,603.3L734.9,611.2L734.1,619.2L733.5,627.1L733,635.1L732.6,643L732.2,650.9L732,658.9L731.8,666.8L731.7,674.7L731.6,682.6L731.6,690.5L731.6,698.3L731.5,706.2L731.9,714.1L732.4,721.9L734.5,721.9L733.1,714.1L733,706.2L733,698.4L733.1,690.5L733.1,682.7L733.2,674.8L733.3,666.9L733.5,659L733.8,651.1L734.1,643.2L734.5,635.3L735.1,627.4L735.7,619.4L736.5,611.5L737.4,603.6L738.5,595.7L739.7,587.8L741.1,580L742.7,572.1L744.5,564.4L746.4,556.6L748.6,548.9L751,541.3L753.6,533.7L756.2,526.2L759,518.7L761.8,511.2L764.8,503.8L767.8,496.4L771,489.1L774.2,481.8L777.6,474.6L781.1,467.4L784.6,460.2L788.3,453.1L792.1,446.1L795.9,439.1L799.9,432.1L804,425.2L808.1,418.4L812.4,411.6L816.8,404.9L821.2,398.3L825.8,391.7L830.4,385.2L835.2,378.7L840,372.4L844.9,366L849.9,359.8L855,353.6L860.2,347.5L865.5,341.5L870.8,335.5L876.3,329.6L881.8,323.8L887.4,318.1L893.1,312.4L898.8,306.9L904.7,301.4L910.6,296L916.6,290.7L922.7,285.5L928.9,280.4L935.2,275.4L941.5,270.4L947.9,265.6L954.4,260.9L960.9,256.2L967.5,251.7L974.2,247.2L980.9,242.8L987.7,238.5L994.6,234.4L1001.5,230.3L1008.4,226.3L1015.4,222.4L1022.5,218.6L1029.7,214.9L1036.8,211.3L1044.1,207.8L1051.4,204.5L1058.7,201.2L1066.1,198.1L1073.6,195.1L1081.1,192.2L1088.6,189.4L1096.2,186.7L1103.8,184.2L1111.5,181.8L1119.2,179.5L1126.9,177.3L1134.6,175.2L1142.4,173.2L1150.2,171.3L1158.1,169.6L1165.9,167.9L1173.8,166.4L1181.7,165L1189.6,163.7L1197.5,162.5L1205.5,161.4L1213.5,160.5L1221.4,159.6L1229.4,158.9L1237.4,158.3L1245.4,157.8L1253.4,157.5L1261.5,157.2L1269.5,157.1L1277.5,157.1L1285.5,157.2L1293.5,157.5L1301.5,157.8L1309.5,158.2L1317.5,158.7L1325.5,159.4L1333.4,160.1L1341.4,160.9L1349.4,161.9L1357.3,163L1365.2,164.1L1373.1,165.4L1381,166.8L1388.9,168.3L1396.7,169.9L1404.5,171.6L1412.3,173.5L1420.1,175.4L1427.8,177.5L1435.5,179.7L1443.2,182L1450.8,184.4L1458.4,186.9L1466,189.5L1473.5,192.2L1481,195.1L1488.4,198L1495.8,201.1L1503.2,204.2L1510.5,207.5L1517.8,210.8L1525,214.2L1532.2,217.8L1539.4,221.4L1546.5,225.1L1553.5,228.9L1560.5,232.8L1567.5,236.8L1574.4,240.8L1581.2,245L1588,249.3L1594.7,253.6L1601.4,258.1L1608,262.6L1614.6,267.3L1621,272L1627.5,276.8L1633.8,281.7L1640.1,286.7L1646.3,291.8L1652.4,297L1658.5,302.3L1664.5,307.7L1670.4,313.1L1676.2,318.7L1681.9,324.4L1687.5,330.2L1693,336.1L1698.3,342.1L1703.5,348.2L1708.6,354.5L1713.6,360.8L1718.5,367.1L1723.3,373.6L1728,380.1L1732.7,386.6L1737.3,393.2L1741.8,399.8L1746.3,406.5L1750.7,413.1L1755.1,419.9L1759.4,426.7L1763.5,433.5L1767.6,440.5L1771.4,447.5L1775.2,454.6L1778.9,461.7L1782.4,468.9L1785.9,476.2L1789.2,483.5L1792.5,490.8L1795.6,498.2L1798.7,505.6L1801.6,513.1L1804.5,520.6L1807.4,528.1L1810.1,535.6L1812.8,543.2L1815.3,550.8L1817.8,558.5L1820.1,566.2L1822.3,573.9L1824.4,581.6L1826.4,589.4L1828.2,597.3L1829.8,605.1L1831.4,613L1832.9,620.9L1834.3,628.9L1835.7,636.8L1836.9,644.7L1838.1,652.7L1839.1,660.7L1840,668.7L1840.8,676.7L1841.5,684.8L1842,692.8L1842.3,700.9L1842.4,708.9L1842.4,717L1842.3,725.1L1842,733.1L1841.6,741.2L1841.1,749.2L1840.4,757.2L1839.7,765.3L1838.8,773.3L1837.8,781.3L1836.8,789.2L1835.5,797.2L1834.2,805.1L1832.8,813.1L1831.2,821L1829.6,828.8L1827.8,836.7L1825.9,844.5L1823.9,852.3L1821.8,860L1819.6,867.8L1817.3,875.5L1814.9,883.1L1812.4,890.8L1809.7,898.3L1807,905.9L1804.1,913.4L1801.2,920.9L1798.1,928.3L1795,935.7L1791.7,943L1788.4,950.3L1784.9,957.6L1781.4,964.7L1777.7,971.9L1773.9,979L1770.1,986L1766.1,993L1762.1,999.9L1758,1006.8L1753.7,1013.6L1749.4,1020.4L1745,1027.1L1740.5,1033.7L1735.9,1040.2L1731.2,1046.7L1726.4,1053.2L1721.5,1059.6L1716.5,1065.9L1711.5,1072.1L1706.3,1078.2L1701.1,1084.3L1695.8,1090.3L1690.4,1096.3L1684.9,1102.1L1679.4,1107.9L1673.8,1113.6L1668,1119.3L1662.2,1124.8L1656.4,1130.3L1650.4,1135.7L1644.4,1141L1638.3,1146.2L1632.1,1151.3L1625.9,1156.4L1619.6,1161.4L1613.2,1166.2L1606.8,1171L1600.2,1175.7L1593.7,1180.3L1587,1184.8L1580.3,1189.3L1573.5,1193.6L1566.7,1197.8L1559.8,1202L1552.9,1206L1545.9,1210L1538.8,1213.8L1531.7,1217.6L1524.5,1221.2L1517.3,1224.7L1510,1228.2L1502.7,1231.5L1495.3,1234.8L1487.9,1237.9L1480.4,1240.9L1472.9,1243.8L1465.3,1246.6L1457.7,1249.3L1450.1,1251.9L1442.4,1254.4L1434.7,1256.8L1427,1259L1419.2,1261.2L1411.4,1263.2L1403.6,1265.1L1395.7,1266.9L1387.8,1268.6L1379.9,1270.2L1371.9,1271.6L1364,1272.9L1356,1274.2L1348,1275.3L1340,1276.2L1331.9,1277.1L1323.9,1277.8L1315.8,1278.4L1307.8,1279L1299.7,1279.3L1291.6,1279.6L1283.5,1279.7L1275.5,1279.7L1267.4,1279.6L1259.3,1279.4L1251.2,1279.1L1243.2,1278.6L1235.1,1278L1227,1277.2L1219,1276.4L1211,1275.4L1203,1274.3L1195,1273.1L1187,1271.7L1179.1,1270.2L1171.2,1268.6L1163.3,1266.9L1155.4,1265.1L1147.6,1263.2L1139.8,1261.1L1132,1258.9L1124.3,1256.6L1116.6,1254.2L1108.9,1251.7L1101.3,1249L1093.7,1246.3L1086.2,1243.4L1078.7,1240.5L1071.2,1237.4L1063.9,1234.2L1056.5,1230.9L1049.2,1227.6L1042,1224.1L1034.8,1220.5L1027.6,1216.8L1020.5,1213L1013.5,1209.1L1006.5,1205.1L999.6,1201L992.8,1196.8L986,1192.5L979.2,1188.2L972.6,1183.7L966,1179.1L959.4,1174.5L952.9,1169.7L946.5,1164.9L940.2,1160L933.9,1155L927.7,1149.9L921.6,1144.8L915.6,1139.5L909.6,1134.2L903.7,1128.8L897.8,1123.3L892.1,1117.7L886.4,1112.1L880.8,1106.3L875.4,1100.5L870,1094.5L864.8,1088.5L859.6,1082.4L854.6,1076.2L849.6,1069.9L844.8,1063.5L840,1057.1L835.4,1050.6L830.8,1044.1L826.3,1037.5L821.8,1030.9L817.4,1024.3L813.1,1017.6L808.8,1010.8L804.7,1004L800.7,997.1L796.9,990.1L793.2,983.1L789.7,975.9L786.2,968.8L782.9,961.5L779.7,954.3L776.5,947L773.4,939.7L770.4,932.3L767.4,925L764.4,917.6L761.4,910.3L758.3,903L755.1,895.6L752,888.3L748.8,880.9L745.7,873.5L742.8,866.1L739.9,858.6L737.3,851L736.2,843L733.9,835.3L731.8,827.5L730.1,819.7L728.7,811.8L727.2,803.9L725.9,796L724.7,788.1L723.5,780.1L722.5,772.1L721.7,764.1L720.9,756.1L720.3,748.1L719.7,740.1L719.4,732.1L719.1,724L719.1,716ZM718.2,716L718.3,724.1L718.4,732.1L718.6,740.2L718.9,748.2L719.4,756.3L720,764.3L720.9,772.3L721.7,780.3L722.5,788.3L723.4,796.4L724.3,804.4L725.5,812.4L726.8,820.3L728.4,828.2L730.2,836.1L732.1,843.9L735.7,851.3L738.2,859L740.8,866.6L743.5,874.2L746.3,881.7L749.2,889.2L752.1,896.7L755.1,904.1L758.1,911.5L761.1,918.9L764,926.3L767,933.8L769.9,941.2L772.9,948.6L775.9,956.1L779,963.5L782.2,970.8L785.5,978.2L788.9,985.4L792.5,992.6L796.2,999.8L800.2,1006.8L804.3,1013.7L808.6,1020.5L813,1027.2L817.4,1033.9L821.9,1040.6L826.5,1047.2L831.2,1053.8L835.9,1060.3L840.7,1066.8L845.6,1073.2L850.6,1079.5L855.7,1085.8L860.9,1091.9L866.2,1098L871.7,1104L877.3,1109.8L882.9,1115.6L888.7,1121.2L894.6,1126.8L900.5,1132.3L906.5,1137.7L912.6,1143L918.7,1148.2L924.9,1153.4L931.2,1158.4L937.6,1163.4L944,1168.3L950.5,1173.1L957.1,1177.8L963.7,1182.4L970.4,1187L977.2,1191.4L984,1195.7L990.9,1200L997.8,1204.1L1004.8,1208.2L1011.8,1212.1L1018.9,1216L1026.1,1219.8L1033.3,1223.4L1040.6,1227L1047.9,1230.4L1055.3,1233.8L1062.7,1237L1070.1,1240.2L1077.6,1243.2L1085.2,1246.1L1092.8,1249L1100.4,1251.7L1108.1,1254.3L1115.8,1256.8L1123.5,1259.2L1131.3,1261.5L1139.1,1263.6L1147,1265.7L1154.8,1267.6L1162.7,1269.5L1170.7,1271.2L1178.6,1272.8L1186.6,1274.3L1194.6,1275.6L1202.6,1276.9L1210.7,1278L1218.7,1279.1L1226.8,1280L1234.9,1280.7L1243,1281.4L1251.1,1281.9L1259.2,1282.4L1267.3,1282.7L1275.4,1282.9L1283.6,1282.9L1291.7,1282.9L1299.8,1282.7L1307.9,1282.4L1316.1,1282L1324.2,1281.5L1332.3,1280.9L1340.4,1280.2L1348.5,1279.3L1356.6,1278.3L1364.6,1277.3L1372.7,1276.1L1380.7,1274.8L1388.7,1273.3L1396.7,1271.8L1404.7,1270.1L1412.6,1268.4L1420.6,1266.5L1428.5,1264.5L1436.3,1262.4L1444.2,1260.2L1452,1257.8L1459.8,1255.4L1467.5,1252.8L1475.2,1250.2L1482.9,1247.4L1490.5,1244.5L1498.1,1241.5L1505.6,1238.4L1513.1,1235.2L1520.6,1231.9L1528,1228.5L1535.4,1224.9L1542.7,1221.3L1549.9,1217.5L1557.1,1213.7L1564.3,1209.7L1571.4,1205.7L1578.4,1201.5L1585.4,1197.2L1592.3,1192.9L1599.1,1188.4L1605.9,1183.8L1612.6,1179.2L1619.2,1174.4L1625.8,1169.5L1632.3,1164.6L1638.8,1159.5L1645.1,1154.4L1651.4,1149.1L1657.6,1143.8L1663.7,1138.4L1669.8,1132.9L1675.7,1127.3L1681.6,1121.6L1687.4,1115.8L1693.2,1110L1698.8,1104L1704.3,1098L1709.8,1091.9L1715.2,1085.7L1720.4,1079.5L1725.6,1073.1L1730.7,1066.7L1735.7,1060.2L1740.6,1053.7L1745.4,1047.1L1750.1,1040.4L1754.7,1033.6L1759.3,1026.8L1763.7,1019.9L1768,1012.9L1772.2,1005.9L1776.3,998.8L1780.3,991.6L1784.2,984.4L1788,977.2L1791.7,969.9L1795.3,962.5L1798.7,955.1L1802.1,947.6L1805.3,940.1L1808.5,932.5L1811.5,924.9L1814.5,917.3L1817.3,909.6L1820,901.9L1822.6,894.1L1825,886.3L1827.4,878.5L1829.6,870.6L1831.8,862.7L1833.8,854.8L1835.7,846.8L1837.5,838.8L1839.1,830.8L1840.7,822.8L1842.1,814.7L1843.5,806.6L1844.7,798.5L1845.8,790.4L1846.7,782.3L1847.6,774.2L1848.3,766L1848.9,757.9L1849.4,749.7L1849.8,741.5L1850.1,733.4L1850.2,725.2L1850.2,717L1850.1,708.8L1849.8,700.7L1849.4,692.5L1848.7,684.4L1848,676.2L1847.1,668.1L1846,660L1844.9,651.9L1843.6,643.9L1842.2,635.9L1840.8,627.8L1839.2,619.8L1837.6,611.9L1836,603.9L1834.3,596L1832.4,588L1830.5,580.1L1828.4,572.3L1826.2,564.5L1823.9,556.7L1821.4,548.9L1818.9,541.2L1816.3,533.5L1813.5,525.9L1810.7,518.3L1807.7,510.7L1804.7,503.2L1801.6,495.7L1798.4,488.2L1795.2,480.8L1791.8,473.4L1788.3,466L1784.7,458.8L1781,451.5L1777.2,444.3L1773.3,437.2L1769.3,430.2L1765.1,423.2L1760.9,416.3L1756.5,409.5L1752,402.7L1747.5,395.9L1742.9,389.2L1738.3,382.5L1733.6,375.9L1728.8,369.3L1723.9,362.8L1718.9,356.4L1713.9,350L1708.7,343.7L1703.4,337.5L1698,331.4L1692.5,325.4L1686.9,319.5L1681.2,313.7L1675.3,308.1L1669.4,302.5L1663.3,297L1657.2,291.7L1651,286.4L1644.7,281.2L1638.4,276.2L1631.9,271.2L1625.4,266.3L1618.8,261.5L1612.2,256.8L1605.5,252.3L1598.7,247.8L1591.9,243.4L1585,239.1L1578,234.9L1571,230.8L1564,226.8L1556.8,223L1549.7,219.2L1542.5,215.5L1535.2,211.8L1527.9,208.3L1520.6,204.9L1513.2,201.6L1505.8,198.4L1498.3,195.2L1490.8,192.2L1483.2,189.3L1475.7,186.4L1468,183.7L1460.4,181.2L1452.6,178.7L1444.9,176.4L1437.1,174.2L1429.3,172.1L1421.5,170.1L1413.6,168.3L1405.7,166.5L1397.8,164.9L1389.8,163.4L1381.9,162L1373.9,160.8L1365.9,159.6L1357.9,158.5L1349.9,157.6L1341.9,156.7L1333.8,156L1325.7,156.1L1317.7,156L1309.6,155.6L1301.6,154.7L1293.6,153.9L1285.5,153.8L1277.5,153.7L1269.4,153.8L1261.3,154L1253.3,154.4L1245.2,154.8L1237.2,155.4L1229.2,156.1L1221.2,156.9L1213.1,157.8L1205.2,158.9L1197.2,160.1L1189.2,161.3L1181.3,162.7L1173.4,164.2L1165.5,165.8L1157.6,167.5L1149.7,169.3L1141.9,171.3L1134.1,173.3L1126.4,175.4L1118.6,177.6L1110.9,180L1103.2,182.4L1095.6,185L1088,187.6L1080.4,190.4L1072.9,193.3L1065.4,196.4L1058,199.5L1050.6,202.8L1043.3,206.2L1036.1,209.7L1028.9,213.3L1021.7,217L1014.6,220.8L1007.5,224.7L1000.6,228.7L993.6,232.8L986.7,237L979.9,241.2L973.1,245.6L966.4,250L959.8,254.6L953.2,259.2L946.6,263.9L940.2,268.7L933.8,273.6L927.5,278.6L921.2,283.7L915.1,288.9L909,294.1L903,299.5L897.1,305L891.2,310.5L885.5,316.2L879.8,321.9L874.2,327.7L868.7,333.6L863.3,339.5L858,345.6L852.7,351.7L847.5,357.8L842.5,364.1L837.5,370.4L832.6,376.8L827.7,383.2L823,389.7L818.3,396.3L813.8,402.9L809.3,409.6L805,416.4L800.8,423.3L796.6,430.2L792.6,437.1L788.7,444.2L784.8,451.2L781.1,458.4L777.5,465.6L774,472.8L770.6,480.1L767.3,487.4L764.1,494.8L761,502.3L758,509.7L755.1,517.2L752.3,524.8L749.6,532.4L747,540L744.5,547.6L742.3,555.4L740.3,563.2L738.5,571L736.9,578.9L735.5,586.8L734.3,594.8L733.2,602.7L732.3,610.7L731.5,618.7L730.9,626.7L730.4,634.7L730,642.7L729.7,650.6L729.5,658.6L729.3,666.5L729.2,674.5L729.2,682.4L729.2,690.3L729.2,698.2L729.2,706.2L729.9,714.1L731.7,721.9L733.8,721.9L731.1,714.1L730.7,706.2L730.7,698.3L730.7,690.4L730.7,682.5L730.7,674.6L730.8,666.7L731,658.8L731.2,650.8L731.6,642.9L732,634.9L732.5,626.9L733.1,619L733.9,611L734.8,603.1L735.9,595.1L737.1,587.2L738.5,579.3L740.1,571.5L741.9,563.6L743.9,555.9L746.2,548.2L748.6,540.5L751.2,532.9L753.9,525.4L756.7,517.8L759.6,510.4L762.6,502.9L765.7,495.5L768.9,488.2L772.2,480.9L775.6,473.6L779.1,466.4L782.7,459.2L786.5,452.1L790.3,445.1L794.2,438.1L798.2,431.1L802.4,424.2L806.6,417.4L810.9,410.7L815.4,404L819.9,397.4L824.5,390.8L829.3,384.3L834.1,377.9L839,371.6L844,365.3L849.1,359.1L854.2,352.9L859.5,346.9L864.8,340.9L870.2,335L875.7,329.1L881.3,323.3L887,317.7L892.7,312.1L898.5,306.6L904.4,301.1L910.4,295.8L916.5,290.5L922.6,285.4L928.9,280.3L935.2,275.4L941.5,270.5L948,265.7L954.5,261L961.1,256.4L967.7,251.9L974.4,247.5L981.2,243.2L988,239L994.8,234.8L1001.8,230.8L1008.8,226.9L1015.8,223L1022.9,219.3L1030,215.6L1037.2,212.1L1044.5,208.7L1051.8,205.3L1059.1,202.1L1066.5,199L1074,196L1081.4,193.1L1089,190.4L1096.5,187.7L1104.1,185.2L1111.8,182.8L1119.5,180.5L1127.2,178.3L1134.9,176.2L1142.7,174.2L1150.4,172.3L1158.3,170.5L1166.1,168.8L1174,167.2L1181.8,165.8L1189.7,164.4L1197.7,163.2L1205.6,162.1L1213.5,161.1L1221.5,160.2L1229.5,159.4L1237.5,158.7L1245.4,158.2L1253.4,157.7L1261.5,157.4L1269.5,157.2L1277.5,157.1L1285.5,157.2L1293.5,157.3L1301.5,157L1309.6,156.7L1317.6,157.2L1325.6,158.2L1333.5,159.5L1341.5,160.2L1349.5,161.1L1357.4,162.1L1365.4,163.2L1373.3,164.3L1381.2,165.6L1389.1,167.1L1397,168.6L1404.8,170.2L1412.7,172L1420.5,173.8L1428.3,175.8L1436,177.9L1443.8,180.1L1451.4,182.5L1459.1,184.9L1466.7,187.5L1474.3,190.2L1481.8,193L1489.3,195.9L1496.8,198.9L1504.2,202L1511.5,205.2L1518.9,208.5L1526.1,212L1533.4,215.5L1540.6,219L1547.7,222.7L1554.8,226.5L1561.9,230.4L1568.9,234.4L1575.8,238.5L1582.7,242.7L1589.5,246.9L1596.3,251.3L1603,255.8L1609.6,260.4L1616.2,265L1622.7,269.8L1629.2,274.7L1635.6,279.6L1641.8,284.7L1648.1,289.8L1654.2,295L1660.3,300.4L1666.3,305.8L1672.1,311.3L1678,317L1683.7,322.7L1689.2,328.5L1694.7,334.5L1700,340.6L1705.2,346.8L1710.3,353L1715.2,359.4L1720.1,365.8L1724.9,372.3L1729.6,378.9L1734.2,385.5L1738.8,392.1L1743.3,398.8L1747.8,405.5L1752.2,412.2L1756.5,419L1760.8,425.8L1764.9,432.8L1768.9,439.7L1772.7,446.8L1776.5,453.9L1780.1,461.1L1783.6,468.4L1787,475.6L1790.4,483L1793.6,490.3L1796.7,497.7L1799.8,505.2L1802.8,512.6L1805.7,520.1L1808.5,527.7L1811.2,535.2L1813.9,542.8L1816.5,550.5L1818.9,558.1L1821.3,565.8L1823.5,573.6L1825.6,581.3L1827.6,589.1L1829.5,597L1831.2,604.9L1832.9,612.8L1834.4,620.7L1835.9,628.6L1837.4,636.5L1838.7,644.5L1840,652.5L1841.1,660.5L1842.1,668.5L1843,676.6L1843.8,684.6L1844.4,692.7L1844.9,700.8L1845.2,708.9L1845.3,717L1845.2,725.1L1845.1,733.2L1844.8,741.3L1844.5,749.4L1844,757.5L1843.4,765.6L1842.6,773.7L1841.8,781.7L1840.8,789.8L1839.8,797.8L1838.6,805.8L1837.3,813.9L1835.9,821.8L1834.4,829.8L1832.7,837.8L1830.9,845.7L1829.1,853.6L1827.1,861.4L1825,869.3L1822.8,877.1L1820.4,884.9L1818,892.6L1815.5,900.3L1812.8,908L1810,915.6L1807.1,923.2L1804.1,930.8L1801,938.3L1797.8,945.7L1794.5,953.1L1791.1,960.5L1787.5,967.8L1783.9,975.1L1780.1,982.3L1776.3,989.4L1772.3,996.5L1768.3,1003.6L1764.1,1010.5L1759.8,1017.4L1755.5,1024.3L1751,1031.1L1746.4,1037.8L1741.8,1044.5L1737,1051L1732.1,1057.5L1727.2,1064L1722.1,1070.4L1717,1076.6L1711.8,1082.9L1706.5,1089L1701,1095.1L1695.5,1101L1690,1106.9L1684.3,1112.7L1678.5,1118.5L1672.7,1124.1L1666.8,1129.7L1660.8,1135.1L1654.7,1140.5L1648.5,1145.8L1642.3,1151L1636,1156.1L1629.6,1161.1L1623.1,1166L1616.6,1170.8L1610,1175.6L1603.3,1180.2L1596.6,1184.7L1589.8,1189.1L1583,1193.5L1576.1,1197.7L1569.1,1201.8L1562,1205.9L1555,1209.8L1547.8,1213.6L1540.6,1217.3L1533.4,1220.9L1526.1,1224.4L1518.7,1227.8L1511.3,1231.1L1503.9,1234.3L1496.4,1237.4L1488.9,1240.4L1481.3,1243.2L1473.7,1246L1466,1248.6L1458.3,1251.1L1450.6,1253.6L1442.9,1255.9L1435.1,1258.1L1427.3,1260.2L1419.5,1262.1L1411.6,1264L1403.7,1265.7L1395.8,1267.4L1387.9,1268.9L1379.9,1270.3L1371.9,1271.6L1364,1272.8L1356,1273.9L1347.9,1274.8L1339.9,1275.7L1331.9,1276.4L1323.8,1277L1315.8,1277.5L1307.7,1277.9L1299.7,1278.2L1291.6,1278.3L1283.5,1278.4L1275.5,1278.3L1267.4,1278.1L1259.4,1277.8L1251.3,1277.4L1243.3,1276.9L1235.2,1276.2L1227.2,1275.5L1219.2,1274.6L1211.2,1273.6L1203.2,1272.5L1195.3,1271.3L1187.3,1269.9L1179.4,1268.5L1171.5,1266.9L1163.6,1265.2L1155.8,1263.4L1148,1261.5L1140.2,1259.5L1132.4,1257.4L1124.7,1255.2L1117,1252.8L1109.3,1250.4L1101.7,1247.8L1094.1,1245.1L1086.6,1242.3L1079.1,1239.5L1071.6,1236.5L1064.2,1233.4L1056.8,1230.2L1049.5,1226.9L1042.2,1223.5L1035,1220L1027.8,1216.4L1020.7,1212.7L1013.6,1208.9L1006.6,1204.9L999.6,1200.9L992.7,1196.8L985.9,1192.6L979.1,1188.4L972.4,1184L965.7,1179.5L959.1,1174.9L952.6,1170.2L946.1,1165.5L939.7,1160.6L933.4,1155.7L927.1,1150.7L920.9,1145.6L914.8,1140.4L908.8,1135.1L902.8,1129.7L896.9,1124.3L891.1,1118.8L885.3,1113.2L879.7,1107.5L874.1,1101.6L868.7,1095.7L863.4,1089.7L858.2,1083.6L853.1,1077.4L848.1,1071.1L843.3,1064.8L838.5,1058.3L833.7,1051.9L829.1,1045.3L824.6,1038.7L820.1,1032.1L815.7,1025.4L811.3,1018.7L807,1012L802.8,1005.1L798.9,998.2L795.1,991.2L791.5,984L787.9,976.9L784.6,969.6L781.3,962.3L778.1,955L775,947.7L772,940.3L769,932.9L766,925.5L763.1,918.1L760.1,910.8L757,903.4L753.9,896L750.9,888.7L747.8,881.3L744.9,873.8L742,866.3L739.3,858.7L736.7,851.1L735.8,843.1L733.4,835.4L731.4,827.6L729.8,819.8L728.3,811.9L726.9,804L725.6,796L724.5,788.1L723.4,780.1L722.4,772.2L721.5,764.2L720.8,756.2L720.1,748.1L719.6,740.1L719.3,732.1L719.1,724L719,716ZM718.2,716L718.2,724.1L718.3,732.1L718.5,740.2L718.8,748.2L719.2,756.3L719.9,764.3L720.7,772.3L721.5,780.3L722.3,788.4L723.2,796.4L724.1,804.4L725.2,812.4L726.6,820.4L728.1,828.3L729.9,836.2L731.7,844L735.4,851.4L737.7,859.1L740.3,866.8L742.9,874.4L745.7,881.9L748.5,889.4L751.4,896.9L754.3,904.4L757.3,911.8L760.3,919.2L763.2,926.7L766.2,934.1L769.1,941.6L772,949L775,956.5L778.1,963.9L781.2,971.3L784.5,978.7L787.8,986L791.4,993.3L795.1,1000.4L799,1007.5L803.1,1014.4L807.5,1021.2L811.8,1028L816.3,1034.7L820.8,1041.4L825.3,1048.1L830,1054.7L834.7,1061.3L839.5,1067.8L844.4,1074.2L849.4,1080.6L854.5,1086.9L859.7,1093.1L865,1099.2L870.4,1105.2L876,1111.1L881.7,1116.8L887.4,1122.5L893.3,1128.1L899.2,1133.7L905.2,1139.1L911.3,1144.5L917.4,1149.7L923.7,1154.9L929.9,1160.1L936.3,1165.1L942.7,1170L949.2,1174.9L955.8,1179.7L962.4,1184.3L969.1,1188.9L975.9,1193.4L982.7,1197.8L989.6,1202.1L996.5,1206.4L1003.5,1210.5L1010.6,1214.5L1017.7,1218.4L1024.8,1222.3L1032.1,1226L1039.3,1229.6L1046.7,1233.2L1054,1236.6L1061.5,1239.9L1069,1243.1L1076.5,1246.2L1084,1249.3L1091.7,1252.2L1099.3,1255L1107,1257.6L1114.8,1260.2L1122.5,1262.7L1130.3,1265L1138.2,1267.3L1146.1,1269.4L1154,1271.4L1161.9,1273.3L1169.9,1275.1L1177.9,1276.8L1185.9,1278.3L1194,1279.8L1202,1281.1L1210.1,1282.3L1218.3,1283.3L1226.4,1284.3L1234.5,1285.1L1242.7,1285.8L1250.8,1286.4L1259,1286.9L1267.2,1287.2L1275.4,1287.4L1283.6,1287.5L1291.8,1287.5L1300,1287.3L1308.2,1287L1316.4,1286.7L1324.5,1286.2L1332.7,1285.5L1340.9,1284.8L1349,1283.9L1357.2,1283L1365.3,1281.9L1373.4,1280.7L1381.5,1279.4L1389.6,1277.9L1397.7,1276.4L1405.7,1274.7L1413.7,1272.9L1421.7,1271L1429.7,1269L1437.6,1266.8L1445.5,1264.6L1453.4,1262.2L1461.2,1259.7L1469,1257.1L1476.8,1254.4L1484.5,1251.6L1492.1,1248.6L1499.8,1245.6L1507.4,1242.4L1514.9,1239.1L1522.4,1235.8L1529.9,1232.3L1537.2,1228.7L1544.6,1225L1551.9,1221.1L1559.1,1217.2L1566.3,1213.2L1573.4,1209.1L1580.4,1204.8L1587.4,1200.5L1594.3,1196L1601.2,1191.5L1608,1186.8L1614.7,1182.1L1621.4,1177.3L1627.9,1172.3L1634.4,1167.3L1640.9,1162.1L1647.2,1156.9L1653.5,1151.6L1659.7,1146.2L1665.8,1140.7L1671.8,1135.1L1677.8,1129.4L1683.7,1123.6L1689.4,1117.8L1695.1,1111.9L1700.7,1105.8L1706.3,1099.7L1711.7,1093.6L1717,1087.3L1722.3,1081L1727.4,1074.6L1732.5,1068.1L1737.4,1061.5L1742.3,1054.9L1747,1048.2L1751.7,1041.4L1756.3,1034.6L1760.7,1027.7L1765.1,1020.7L1769.3,1013.7L1773.5,1006.6L1777.5,999.5L1781.5,992.3L1785.3,985L1789,977.7L1792.7,970.4L1796.2,962.9L1799.6,955.5L1802.9,948L1806.1,940.4L1809.1,932.8L1812.1,925.2L1815,917.5L1817.7,909.8L1820.3,902L1822.8,894.2L1825.3,886.4L1827.5,878.5L1829.7,870.6L1831.8,862.7L1833.7,854.7L1835.6,846.8L1837.3,838.8L1838.9,830.7L1840.4,822.7L1841.7,814.6L1843,806.6L1844.1,798.5L1845.2,790.4L1846.1,782.2L1846.9,774.1L1847.6,766L1848.1,757.8L1848.6,749.7L1848.9,741.5L1849.2,733.3L1849.3,725.2L1849.3,717L1849.1,708.8L1848.8,700.7L1848.3,692.5L1847.6,684.4L1846.9,676.3L1845.9,668.2L1844.9,660.1L1843.7,652.1L1842.4,644L1841.1,636L1839.6,628L1838.1,620L1836.5,612.1L1834.9,604.1L1833.2,596.2L1831.3,588.3L1829.4,580.4L1827.3,572.6L1825.1,564.8L1822.8,557L1820.4,549.2L1817.9,541.5L1815.3,533.9L1812.6,526.2L1809.8,518.6L1806.9,511L1803.9,503.5L1800.9,496L1797.8,488.5L1794.5,481.1L1791.2,473.6L1787.8,466.3L1784.3,459L1780.7,451.7L1777,444.5L1773.1,437.3L1769.2,430.2L1765.1,423.2L1760.9,416.3L1756.5,409.4L1752.2,402.6L1747.7,395.7L1743.2,389L1738.7,382.2L1734,375.6L1729.3,368.9L1724.5,362.4L1719.6,355.8L1714.6,349.4L1709.5,343L1704.3,336.8L1698.9,330.6L1693.5,324.5L1687.9,318.5L1682.2,312.7L1676.4,306.9L1670.5,301.3L1664.6,295.7L1658.5,290.2L1652.3,284.9L1646.1,279.6L1639.8,274.4L1633.4,269.3L1626.9,264.4L1620.4,259.5L1613.7,254.7L1607,250L1600.3,245.5L1593.5,241L1586.6,236.6L1579.6,232.3L1572.6,228.1L1565.6,224L1558.5,220L1551.3,216.2L1544.1,212.4L1536.8,208.7L1529.5,205L1522.2,201.5L1514.8,198.1L1507.3,194.8L1499.8,191.6L1492.3,188.4L1484.8,185.4L1477.1,182.4L1469.5,179.6L1461.8,177L1454,174.4L1446.2,172L1438.4,169.8L1430.5,167.6L1422.6,165.6L1414.7,163.7L1406.8,161.9L1398.8,160.2L1390.8,158.7L1382.8,157.2L1374.7,155.9L1366.7,154.7L1358.6,153.7L1350.5,152.7L1342.3,152.9L1342.1,154.3L1350.1,156.2L1358.1,157.2L1366.1,158.3L1374.1,159.5L1382.1,160.9L1390.1,162.3L1398,163.9L1405.9,165.6L1413.8,167.4L1421.7,169.3L1429.5,171.3L1437.3,173.5L1445.1,175.8L1452.8,178.2L1460.5,180.7L1468.2,183.4L1475.8,186.1L1483.3,189.1L1490.8,192.1L1498.3,195.2L1505.7,198.4L1513.1,201.7L1520.5,205.2L1527.8,208.7L1535,212.3L1542.2,216L1549.4,219.7L1556.5,223.6L1563.5,227.6L1570.5,231.7L1577.4,235.9L1584.3,240.2L1591.1,244.5L1597.9,249L1604.6,253.6L1611.2,258.2L1617.7,263L1624.2,267.9L1630.6,272.8L1637,277.9L1643.2,283L1649.4,288.3L1655.5,293.6L1661.5,299L1667.4,304.6L1673.3,310.2L1679,315.9L1684.7,321.7L1690.2,327.6L1695.6,333.7L1700.8,339.8L1705.9,346.1L1711,352.4L1715.9,358.9L1720.7,365.4L1725.4,371.9L1730.1,378.5L1734.6,385.2L1739.1,391.9L1743.6,398.6L1747.9,405.4L1752.3,412.2L1756.5,419L1760.7,425.9L1764.7,432.8L1768.7,439.9L1772.4,447L1776.1,454.1L1779.7,461.3L1783.1,468.6L1786.5,475.9L1789.8,483.2L1792.9,490.6L1796,498L1799,505.5L1801.9,513L1804.8,520.5L1807.6,528L1810.3,535.6L1812.9,543.2L1815.4,550.8L1817.9,558.4L1820.2,566.1L1822.4,573.8L1824.5,581.6L1826.5,589.4L1828.4,597.2L1830.1,605.1L1831.7,613L1833.3,620.9L1834.8,628.8L1836.2,636.7L1837.6,644.7L1838.8,652.6L1840,660.6L1841,668.6L1841.9,676.7L1842.7,684.7L1843.3,692.8L1843.8,700.8L1844.1,708.9L1844.3,717L1844.3,725.1L1844.2,733.2L1844,741.3L1843.6,749.4L1843.2,757.4L1842.6,765.5L1842,773.6L1841.2,781.7L1840.3,789.7L1839.3,797.7L1838.1,805.8L1836.9,813.8L1835.6,821.8L1834.1,829.8L1832.5,837.7L1830.8,845.6L1829,853.6L1827.1,861.4L1825.1,869.3L1822.9,877.1L1820.7,884.9L1818.3,892.7L1815.8,900.4L1813.2,908.1L1810.5,915.8L1807.7,923.4L1804.8,931L1801.8,938.6L1798.6,946.1L1795.4,953.5L1792,960.9L1788.5,968.3L1784.9,975.6L1781.2,982.9L1777.5,990.1L1773.6,997.2L1769.6,1004.3L1765.4,1011.4L1761.2,1018.3L1756.9,1025.2L1752.5,1032.1L1748,1038.9L1743.4,1045.6L1738.7,1052.2L1733.8,1058.8L1728.9,1065.3L1723.9,1071.8L1718.8,1078.1L1713.6,1084.4L1708.3,1090.6L1703,1096.8L1697.5,1102.8L1691.9,1108.8L1686.3,1114.7L1680.6,1120.5L1674.7,1126.2L1668.8,1131.9L1662.8,1137.4L1656.8,1142.9L1650.6,1148.2L1644.4,1153.5L1638.1,1158.7L1631.7,1163.8L1625.3,1168.8L1618.7,1173.7L1612.1,1178.5L1605.5,1183.2L1598.7,1187.8L1591.9,1192.3L1585,1196.7L1578.1,1201L1571.1,1205.2L1564,1209.3L1556.9,1213.3L1549.8,1217.2L1542.5,1221L1535.2,1224.7L1527.9,1228.2L1520.5,1231.7L1513.1,1235.1L1505.6,1238.3L1498.1,1241.4L1490.5,1244.5L1482.9,1247.4L1475.2,1250.2L1467.5,1252.9L1459.8,1255.4L1452,1257.9L1444.2,1260.3L1436.4,1262.5L1428.5,1264.6L1420.6,1266.6L1412.7,1268.5L1404.7,1270.3L1396.8,1271.9L1388.8,1273.5L1380.7,1274.9L1372.7,1276.2L1364.7,1277.4L1356.6,1278.5L1348.5,1279.5L1340.4,1280.3L1332.3,1281L1324.2,1281.6L1316.1,1282.1L1307.9,1282.5L1299.8,1282.8L1291.7,1282.9L1283.6,1283L1275.4,1282.9L1267.3,1282.7L1259.2,1282.3L1251.1,1281.9L1243,1281.3L1234.9,1280.6L1226.8,1279.8L1218.7,1278.9L1210.7,1277.8L1202.7,1276.7L1194.6,1275.4L1186.7,1274L1178.7,1272.5L1170.7,1270.8L1162.8,1269.1L1154.9,1267.2L1147.1,1265.2L1139.2,1263.2L1131.5,1261L1123.7,1258.6L1116,1256.2L1108.3,1253.7L1100.6,1251.1L1093,1248.3L1085.4,1245.5L1077.9,1242.5L1070.4,1239.4L1063,1236.3L1055.6,1233L1048.3,1229.6L1041,1226.1L1033.7,1222.5L1026.6,1218.9L1019.4,1215.1L1012.3,1211.2L1005.3,1207.2L998.4,1203.2L991.4,1199L984.6,1194.7L977.8,1190.4L971.1,1185.9L964.4,1181.4L957.8,1176.8L951.3,1172L944.8,1167.2L938.4,1162.3L932.1,1157.3L925.8,1152.3L919.6,1147.1L913.5,1141.9L907.5,1136.5L901.5,1131.1L895.6,1125.6L889.8,1120.1L884.1,1114.4L878.4,1108.7L872.9,1102.8L867.5,1096.9L862.2,1090.8L857,1084.7L851.9,1078.4L846.9,1072.1L842,1065.7L837.2,1059.3L832.5,1052.8L827.9,1046.2L823.4,1039.6L818.9,1032.9L814.5,1026.2L810.1,1019.5L805.8,1012.7L801.7,1005.8L797.8,998.9L794,991.8L790.4,984.6L786.9,977.4L783.6,970.1L780.4,962.8L777.2,955.4L774.2,948.1L771.2,940.7L768.2,933.3L765.2,925.9L762.3,918.5L759.3,911.1L756.2,903.7L753.2,896.3L750.2,888.9L747.2,881.4L744.3,874L741.5,866.4L738.8,858.8L736.3,851.2L735.4,843.2L733.1,835.5L731.2,827.7L729.5,819.8L728.1,811.9L726.7,804L725.4,796.1L724.3,788.1L723.2,780.1L722.2,772.2L721.4,764.2L720.6,756.2L720,748.1L719.5,740.1L719.2,732.1L719,724L718.9,716ZM1301.8,150.5L1293.7,148.8L1285.6,148.7L1277.4,148.6L1269.3,148.7L1261.2,148.9L1253,149.2L1244.9,149.7L1236.8,150.3L1228.7,151L1220.6,151.9L1212.5,152.8L1204.5,153.9L1196.4,155.1L1188.4,156.4L1180.4,157.9L1172.4,159.4L1164.5,161.1L1156.6,162.9L1148.7,164.8L1140.8,166.7L1132.9,168.8L1125.1,171L1117.3,173.3L1109.5,175.7L1101.8,178.1L1094.1,180.8L1086.5,183.5L1078.9,186.4L1071.3,189.4L1063.8,192.5L1056.4,195.8L1049,199.1L1041.7,202.6L1034.4,206.2L1027.2,210L1020,213.8L1012.9,217.7L1005.9,221.7L998.9,225.8L992,230L985.1,234.3L978.3,238.7L971.6,243.2L964.9,247.7L958.2,252.3L951.6,257L945.1,261.8L938.6,266.6L932.2,271.6L925.9,276.7L919.7,281.8L913.6,287.1L907.5,292.5L901.5,297.9L895.6,303.4L889.8,309.1L884.1,314.8L878.5,320.6L872.9,326.5L867.5,332.4L862.1,338.4L856.8,344.5L851.6,350.7L846.5,356.9L841.4,363.2L836.5,369.6L831.6,376L826.8,382.5L822.1,389.1L817.5,395.7L813,402.4L808.6,409.1L804.3,416L800.1,422.9L796,429.8L792,436.8L788.1,443.9L784.4,451L780.7,458.2L777.1,465.4L773.7,472.7L770.3,480L767,487.3L763.9,494.7L760.8,502.2L757.9,509.7L755,517.2L752.3,524.8L749.6,532.4L747.1,540L744.7,547.7L742.5,555.4L740.5,563.2L738.7,571.1L737.2,579L735.8,586.9L734.6,594.8L733.6,602.8L732.7,610.8L732,618.8L731.4,626.8L730.9,634.7L730.6,642.7L730.3,650.7L730.1,658.7L730,666.6L729.9,674.5L729.9,682.5L729.9,690.4L729.9,698.3L729.9,706.2L730.5,714.1L731.9,721.9L734,721.9L731.8,714.1L731.4,706.2L731.3,698.3L731.3,690.4L731.3,682.6L731.4,674.7L731.5,666.7L731.6,658.8L731.8,650.9L732.1,642.9L732.5,635L733,627L733.6,619.1L734.3,611.1L735.2,603.1L736.2,595.2L737.4,587.3L738.8,579.4L740.4,571.5L742.1,563.7L744.1,555.9L746.3,548.2L748.7,540.5L751.2,532.9L753.9,525.4L756.6,517.8L759.5,510.3L762.4,502.9L765.5,495.4L768.6,488.1L771.9,480.7L775.3,473.4L778.7,466.2L782.3,459L786,451.9L789.8,444.8L793.6,437.7L797.6,430.8L801.7,423.8L805.9,417L810.2,410.2L814.6,403.5L819.1,396.8L823.7,390.2L828.4,383.7L833.1,377.2L838,370.8L842.9,364.5L848,358.2L853.1,352L858.3,345.8L863.6,339.8L869,333.8L874.4,327.9L880,322L885.6,316.3L891.3,310.6L897.1,305L903,299.5L908.9,294.1L915,288.8L921.1,283.5L927.3,278.4L933.6,273.4L940,268.4L946.4,263.6L952.9,258.8L959.5,254.2L966.1,249.6L972.8,245.1L979.6,240.7L986.4,236.3L993.2,232.1L1000.1,228L1007.1,223.9L1014.1,219.9L1021.2,216.1L1028.4,212.3L1035.6,208.7L1042.8,205.1L1050.1,201.7L1057.5,198.4L1064.9,195.1L1072.4,192.1L1079.9,189.1L1087.5,186.2L1095.1,183.5L1102.7,180.9L1110.4,178.5L1118.2,176.1L1125.9,173.9L1133.7,171.7L1141.5,169.7L1149.4,167.7L1157.2,165.9L1165.1,164.1L1173,162.5L1181,161L1188.9,159.6L1196.9,158.3L1204.9,157.1L1212.9,156.1L1221,155.1L1229,154.3L1237.1,153.6L1245.1,153L1253.2,152.6L1261.3,152.3L1269.4,152.1L1277.5,152L1285.5,152.1L1293.6,152.2L1301.8,151.1ZM718,716L718,724.1L718,732.1L718.2,740.2L718.4,748.2L718.9,756.3L719.5,764.3L720.3,772.4L721,780.4L721.7,788.4L722.5,796.5L723.3,804.5L724.3,812.6L725.6,820.5L727.2,828.5L728.8,836.4L730.5,844.3L734,851.8L736.2,859.5L738.5,867.3L740.9,875L743.4,882.6L746,890.2L748.8,897.8L751.8,905.3L755,912.7L758.2,920.1L760.9,927.6L763.4,935.3L766.2,942.9L769,950.4L771.9,958L774.9,965.5L777.9,973L781.1,980.5L784.4,987.9L787.9,995.2L791.6,1002.4L795.6,1009.6L799.7,1016.5L804.1,1023.3L808.6,1030.1L813.1,1036.9L817.7,1043.6L822.3,1050.3L827,1056.9L831.8,1063.5L836.7,1070L841.7,1076.4L846.8,1082.8L851.9,1089.1L857.2,1095.2L862.6,1101.3L868.2,1107.3L873.8,1113.2L879.6,1118.9L885.5,1124.6L891.4,1130.1L897.4,1135.6L903.5,1141L909.7,1146.3L915.9,1151.6L922.2,1156.7L928.6,1161.8L935,1166.8L941.5,1171.7L948.1,1176.5L954.7,1181.2L961.4,1185.9L968.1,1190.4L974.9,1194.9L981.8,1199.2L988.7,1203.5L995.7,1207.7L1002.8,1211.8L1009.9,1215.8L1017,1219.7L1024.2,1223.5L1031.5,1227.1L1038.8,1230.7L1046.2,1234.2L1053.6,1237.6L1061.1,1240.9L1068.6,1244.1L1076.1,1247.2L1083.7,1250.2L1091.3,1253.1L1099,1255.9L1106.7,1258.6L1114.5,1261.1L1122.3,1263.6L1130.1,1265.9L1138,1268.2L1145.8,1270.3L1153.8,1272.3L1161.7,1274.2L1169.7,1276L1177.7,1277.7L1185.8,1279.3L1193.8,1280.8L1201.9,1282.1L1210.1,1282.8L1218.3,1283.2L1226.4,1284.3L1234.5,1285.7L1242.6,1287L1250.8,1287.6L1259,1288.1L1267.2,1288.5L1275.4,1288.8L1283.6,1288.9L1291.8,1288.9L1300,1288.8L1308.2,1288.6L1316.5,1288.2L1324.7,1287.8L1332.9,1287.2L1341.1,1286.5L1349.3,1285.7L1357.4,1284.8L1365.6,1283.7L1373.8,1282.6L1381.9,1281.3L1390,1279.9L1398.1,1278.4L1406.2,1276.7L1414.2,1275L1422.3,1273.1L1430.3,1271.1L1438.2,1269L1446.2,1266.8L1454.1,1264.4L1461.9,1261.9L1469.8,1259.4L1477.6,1256.7L1485.3,1253.8L1493.1,1250.9L1500.7,1247.9L1508.4,1244.7L1515.9,1241.4L1523.3,1237.7L1530.4,1233.5L1537.9,1230L1545.7,1227.2L1553.1,1223.3L1560.3,1219.4L1567.5,1215.3L1574.6,1211.2L1581.7,1206.9L1588.7,1202.5L1595.7,1198L1602.5,1193.4L1609.3,1188.8L1616.1,1184L1622.7,1179.1L1629.3,1174.1L1635.8,1169L1642.2,1163.8L1648.6,1158.5L1654.8,1153.2L1661,1147.7L1667.1,1142.1L1673.1,1136.5L1679.1,1130.7L1684.9,1124.9L1690.7,1119L1696.3,1113L1701.9,1106.9L1707.4,1100.8L1712.8,1094.5L1718.1,1088.2L1723.3,1081.8L1728.4,1075.4L1733.4,1068.8L1738.3,1062.2L1743.2,1055.6L1747.9,1048.8L1752.5,1042L1757,1035.1L1761.4,1028.2L1765.8,1021.2L1770,1014.1L1774.1,1007L1778.1,999.8L1782,992.6L1785.8,985.3L1789.5,977.9L1793.1,970.6L1796.6,963.1L1799.9,955.6L1803.2,948.1L1806.1,940.4L1808.5,932.5L1811.8,925.1L1815.2,917.6L1817.9,909.8L1820.5,902.1L1823,894.3L1825.4,886.4L1827.7,878.6L1829.9,870.7L1832,862.7L1834,854.8L1835.8,846.8L1837.6,838.8L1839.2,830.8L1840.7,822.8L1842.2,814.7L1843.5,806.6L1844.7,798.5L1845.8,790.4L1846.7,782.3L1847.6,774.2L1848.4,766L1849,757.9L1849.6,749.7L1850,741.5L1850.3,733.4L1850.5,725.2L1850.6,717L1850.6,708.8L1850.4,700.7L1850,692.5L1849.5,684.3L1848.8,676.2L1848,668L1847.1,659.9L1846.1,651.8L1844.9,643.7L1843.7,635.6L1842.4,627.6L1841,619.5L1839.5,611.5L1838,603.5L1836.5,595.5L1834.8,587.5L1833,579.5L1831.1,571.6L1829.1,563.6L1827,555.7L1824.8,547.9L1822.5,540L1820.1,532.2L1817.5,524.5L1814.9,516.7L1812.1,509L1809.3,501.3L1806.3,493.7L1803.3,486.1L1800.2,478.5L1796.9,470.9L1793.6,463.5L1790.1,456L1786.6,448.6L1782.9,441.3L1779.1,434L1775.2,426.7L1771.1,419.6L1766.9,412.5L1762.6,405.5L1758.3,398.5L1753.8,391.6L1749.3,384.7L1744.7,377.9L1740,371.1L1735.2,364.4L1730.3,357.8L1725.3,351.2L1720.2,344.7L1714.9,338.3L1709.6,332L1704.2,325.7L1698.6,319.6L1693,313.6L1687.2,307.7L1681.3,301.9L1675.4,296.1L1669.3,290.6L1663.1,285.1L1656.8,279.7L1650.4,274.4L1644,269.2L1637.5,264.2L1630.8,259.2L1624.2,254.4L1617.4,249.7L1610.6,245L1603.7,240.5L1596.7,236.1L1589.7,231.8L1582.6,227.6L1575.4,223.5L1568.2,219.5L1560.9,215.6L1553.6,211.9L1546.3,208.2L1538.9,204.6L1531.5,201.1L1524,197.7L1516.4,194.4L1508.9,191.2L1501.3,188.1L1493.7,185.1L1486,182.2L1478.3,179.4L1470.5,176.7L1462.7,174.2L1454.9,171.8L1447,169.6L1439.1,167.5L1431.1,165.5L1423.1,163.6L1415.1,161.9L1407.1,160.3L1399.1,158.8L1391,157.4L1383,156.2L1374.9,155L1366.8,154L1358.7,153L1350.6,152.2L1342.5,151.5L1334.3,151.4L1326.1,152L1326.1,152.3L1334,153.8L1342.1,155L1350.1,155.7L1358.2,156.6L1366.2,157.5L1374.3,158.6L1382.3,159.8L1390.3,161L1398.3,162.4L1406.3,164L1414.2,165.6L1422.2,167.3L1430.1,169.2L1438,171.2L1445.8,173.3L1453.7,175.6L1461.4,178L1469.2,180.5L1476.9,183.1L1484.6,185.9L1492.2,188.8L1499.8,191.8L1507.3,194.8L1514.8,198L1522.3,201.3L1529.7,204.7L1537.1,208.2L1544.4,211.8L1551.7,215.4L1558.9,219.2L1566.1,223.1L1573.3,227.1L1580.3,231.2L1587.4,235.4L1594.3,239.7L1601.2,244.1L1608.1,248.6L1614.8,253.2L1621.5,257.9L1628.2,262.7L1634.7,267.6L1641.2,272.7L1647.6,277.8L1653.9,283.1L1660.1,288.4L1666.2,293.9L1672.2,299.4L1678.2,305.1L1684,310.9L1689.7,316.8L1695.3,322.7L1700.8,328.8L1706.2,335.1L1711.4,341.4L1716.5,347.7L1721.6,354.2L1726.5,360.8L1731.3,367.4L1736,374.1L1740.6,380.8L1745.2,387.6L1749.6,394.4L1754,401.3L1758.4,408.2L1762.6,415.2L1766.7,422.2L1770.7,429.3L1774.6,436.5L1778.4,443.7L1782,451L1785.5,458.4L1788.9,465.8L1792.2,473.2L1795.4,480.7L1798.5,488.2L1801.4,495.7L1804.3,503.3L1807.1,510.9L1809.9,518.6L1812.5,526.2L1815.1,533.9L1817.5,541.7L1819.9,549.4L1822.1,557.2L1824.3,565L1826.3,572.8L1828.2,580.7L1830,588.6L1831.7,596.5L1833.3,604.5L1834.8,612.4L1836.2,620.4L1837.6,628.3L1838.8,636.3L1840.1,644.3L1841.2,652.4L1842.2,660.4L1843.1,668.4L1843.9,676.5L1844.5,684.6L1845.1,692.7L1845.4,700.8L1845.6,708.9L1845.7,717L1845.6,725.1L1845.3,733.2L1845,741.3L1844.6,749.4L1844.1,757.5L1843.4,765.6L1842.7,773.7L1841.8,781.7L1840.9,789.8L1839.8,797.8L1838.6,805.8L1837.3,813.9L1835.9,821.8L1834.4,829.8L1832.8,837.8L1831.1,845.7L1829.3,853.6L1827.3,861.5L1825.3,869.4L1823.1,877.2L1820.9,885L1818.5,892.8L1816,900.5L1813.4,908.2L1810.8,915.9L1808.5,923.7L1806,931.5L1802.3,938.8L1798.9,946.2L1795.7,953.7L1792.4,961.1L1788.9,968.5L1785.4,975.8L1781.7,983.1L1778,990.4L1774.1,997.5L1770.2,1004.7L1766.1,1011.7L1761.9,1018.8L1757.7,1025.7L1753.3,1032.6L1748.8,1039.4L1744.2,1046.2L1739.6,1052.9L1734.8,1059.5L1729.9,1066.1L1724.9,1072.6L1719.9,1079L1714.7,1085.4L1709.5,1091.6L1704.1,1097.8L1698.7,1103.9L1693.1,1110L1687.5,1115.9L1681.8,1121.8L1676,1127.6L1670.1,1133.3L1664.2,1138.9L1658.1,1144.4L1652,1149.8L1645.7,1155.1L1639.4,1160.4L1633.1,1165.5L1626.6,1170.6L1620.1,1175.5L1613.5,1180.4L1606.8,1185.1L1600,1189.8L1593.2,1194.3L1586.3,1198.8L1579.4,1203.1L1572.4,1207.3L1565.3,1211.5L1558.1,1215.5L1550.9,1219.4L1543.7,1223.2L1536.8,1227.8L1529.5,1231.5L1521.7,1234.3L1514.1,1237.3L1506.6,1240.6L1499,1243.7L1491.4,1246.7L1483.7,1249.6L1476,1252.4L1468.3,1255.1L1460.5,1257.7L1452.7,1260.1L1444.9,1262.4L1437,1264.7L1429.1,1266.8L1421.1,1268.7L1413.2,1270.6L1405.2,1272.3L1397.2,1274L1389.1,1275.5L1381.1,1276.8L1373,1278.1L1364.9,1279.3L1356.8,1280.3L1348.7,1281.2L1340.6,1282L1332.5,1282.7L1324.3,1283.3L1316.2,1283.7L1308,1284.1L1299.9,1284.3L1291.7,1284.4L1283.6,1284.4L1275.4,1284.2L1267.3,1284L1259.1,1283.6L1251,1283.1L1242.9,1282.5L1234.7,1282.4L1226.6,1282L1218.5,1281.2L1210.5,1279.4L1202.5,1277.7L1194.5,1276.4L1186.5,1275L1178.5,1273.4L1170.6,1271.8L1162.6,1270L1154.7,1268.1L1146.9,1266.1L1139,1264.1L1131.2,1261.9L1123.4,1259.5L1115.7,1257.1L1108,1254.6L1100.3,1252L1092.7,1249.2L1085.1,1246.4L1077.5,1243.5L1070,1240.4L1062.6,1237.3L1055.2,1234L1047.8,1230.7L1040.5,1227.2L1033.2,1223.7L1026,1220.1L1018.8,1216.3L1011.7,1212.5L1004.6,1208.5L997.6,1204.5L990.6,1200.4L983.7,1196.2L976.9,1191.8L970.1,1187.4L963.4,1182.9L956.7,1178.3L950.1,1173.7L943.6,1168.9L937.1,1164L930.7,1159.1L924.4,1154.1L918.1,1148.9L911.9,1143.7L905.8,1138.5L899.7,1133.1L893.8,1127.6L887.8,1122.1L882,1116.5L876.3,1110.8L870.6,1105L865.1,1099L859.7,1093L854.5,1086.9L849.3,1080.6L844.2,1074.3L839.3,1067.9L834.4,1061.5L829.6,1054.9L824.9,1048.4L820.3,1041.7L815.8,1035.1L811.3,1028.4L806.8,1021.6L802.4,1014.8L798.3,1007.9L794.3,1000.9L790.6,993.7L787,986.5L783.6,979.2L780.3,971.8L777.2,964.4L774.1,956.9L771.2,949.4L768.2,942L765.2,934.5L761.9,927.2L758.7,919.9L755.9,912.3L753.3,904.8L750.5,897.2L747.7,889.7L745,882.1L742.3,874.6L739.7,866.9L737.3,859.3L735,851.5L734.2,843.4L732.1,835.7L730.2,827.9L728.6,820L727.2,812.1L725.9,804.1L724.7,796.2L723.7,788.2L722.7,780.2L721.8,772.2L721,764.2L720.2,756.2L719.7,748.2L719.3,740.1L719,732.1L718.8,724L718.7,716ZM1309.9,151.2L1301.8,149.7L1293.7,149.3L1285.6,149.3L1277.4,149.3L1269.3,149.5L1261.2,149.8L1253.1,150.3L1245,150.8L1236.9,151.5L1228.8,152.3L1220.8,153.2L1212.7,154.2L1204.7,155.4L1196.7,157L1188.8,159L1189,160.1L1197.1,159.5L1205.1,158.6L1213.1,157.5L1221.1,156.5L1229.1,155.6L1237.2,154.8L1245.2,154.2L1253.3,153.6L1261.3,153.2L1269.4,152.9L1277.5,152.7L1285.5,152.7L1293.6,152.7L1301.7,152.6L1309.9,151.5ZM1165.1,164L1157,164.9L1149.1,166.4L1141.2,168.4L1133.4,170.5L1125.6,172.7L1117.8,175L1110.1,177.3L1102.4,179.8L1094.7,182.4L1087,185.1L1079.5,187.9L1071.9,190.9L1064.4,194L1057,197.2L1049.6,200.5L1042.3,203.9L1035,207.5L1027.8,211.1L1020.6,214.9L1013.5,218.7L1006.4,222.7L999.4,226.7L992.5,230.8L985.6,235L978.7,239.3L971.9,243.7L965.2,248.2L958.5,252.7L951.9,257.4L945.3,262.1L938.8,266.9L932.4,271.8L926,276.8L919.7,281.9L913.5,287.1L907.4,292.4L901.4,297.8L895.5,303.3L889.6,308.8L883.8,314.5L878.1,320.2L872.5,326.1L867,332L861.6,337.9L856.2,344L850.9,350.1L845.7,356.3L840.6,362.6L835.6,368.9L830.7,375.3L825.8,381.8L821,388.3L816.3,394.9L811.8,401.6L807.3,408.3L803,415.1L798.7,422L794.6,428.9L790.5,435.9L786.6,443L782.7,450.1L779,457.3L775.4,464.5L771.9,471.8L768.5,479.1L765.2,486.5L762,493.9L758.9,501.4L755.9,508.9L753,516.5L750.2,524L747.6,531.7L745,539.3L742.5,547L740.3,554.8L738.3,562.6L736.6,570.5L735,578.4L733.6,586.4L732.4,594.4L731.4,602.4L730.5,610.4L729.9,618.4L729.6,626.5L730.4,626.6L731.3,618.7L732.1,610.7L733,602.7L734,594.7L735.2,586.8L736.6,578.8L738.2,570.9L740,563.1L741.9,555.3L744.2,547.5L746.6,539.9L749.2,532.2L751.9,524.6L754.6,517.1L757.5,509.5L760.5,502.1L763.6,494.6L766.8,487.2L770.1,479.9L773.5,472.6L777,465.3L780.6,458.1L784.4,451L788.2,443.9L792.1,436.9L796.2,429.9L800.3,423L804.6,416.1L808.9,409.4L813.4,402.6L817.9,396L822.6,389.4L827.4,382.9L832.2,376.5L837.1,370.1L842.1,363.8L847.2,357.6L852.4,351.4L857.7,345.3L863.1,339.3L868.5,333.4L874,327.5L879.6,321.7L885.3,316L891.1,310.4L896.9,304.8L902.9,299.4L908.9,294L915,288.8L921.2,283.6L927.4,278.5L933.7,273.5L940.2,268.7L946.6,263.9L953.2,259.2L959.8,254.6L966.5,250.1L973.2,245.7L980,241.3L986.8,237.1L993.7,232.9L1000.6,228.8L1007.6,224.8L1014.7,221L1021.8,217.2L1029,213.5L1036.2,209.9L1043.4,206.4L1050.7,203L1058.1,199.8L1065.5,196.6L1073,193.6L1080.5,190.7L1088,187.9L1095.6,185.2L1103.3,182.6L1111,180.2L1118.7,177.8L1126.4,175.5L1134.2,173.4L1141.9,171.3L1149.8,169.4L1157.5,167.1L1165.2,164.5ZM717.9,716L717.9,724.1L717.9,732.1L718,740.2L718.3,748.2L718.7,756.3L719.3,764.4L720.1,772.4L720.8,780.4L721.5,788.5L722.2,796.5L723,804.6L724,812.6L725.3,820.6L726.8,828.6L728.4,836.5L731,844.2L733.8,851.8L734.1,851.8L732.8,843.8L731.7,835.8L729.8,827.9L728.2,820L726.8,812.1L725.6,804.2L724.5,796.2L723.4,788.2L722.5,780.2L721.6,772.2L720.8,764.2L720.1,756.2L719.5,748.2L719.1,740.1L718.8,732.1L718.7,724L718.6,716ZM826.6,1057.3L831.1,1064L836,1070.6L840.7,1077.2L845.1,1084.2L850.3,1090.5L855.6,1096.7L861,1102.8L866.5,1108.9L872.2,1114.8L878,1120.5L883.9,1126.2L889.9,1131.8L895.9,1137.3L902,1142.7L908.2,1148.1L914.4,1153.3L920.8,1158.5L927.1,1163.6L933.6,1168.6L940.1,1173.6L946.7,1178.4L953.4,1183.1L960.1,1187.8L966.9,1192.4L973.7,1196.8L981,1200.6L982.1,1198.8L975.6,1193.8L968.8,1189.4L962.1,1184.8L955.4,1180.2L948.8,1175.5L942.2,1170.7L935.7,1165.9L929.3,1160.9L922.9,1155.8L916.6,1150.7L910.4,1145.5L904.3,1140.2L898.2,1134.8L892.2,1129.3L886.3,1123.7L880.4,1118.1L874.6,1112.4L869,1106.5L863.5,1100.6L858.1,1094.5L852.8,1088.3L847.6,1082L841.9,1076.2L836.7,1070L831.8,1063.5L826.8,1057.1ZM1083.2,1251.5L1090.6,1255.1L1098.3,1257.9L1106.1,1260.5L1113.9,1263.1L1121.7,1265.5L1129.6,1267.8L1137.5,1270.1L1145.4,1272.2L1153.4,1274.2L1161.4,1276L1169.4,1277.8L1177.5,1279.1L1178.1,1275.5L1170.2,1273.5L1162.2,1271.8L1154.3,1270L1146.4,1268L1138.5,1265.9L1130.7,1263.8L1122.9,1261.5L1115.1,1259.1L1107.4,1256.6L1099.7,1254L1092,1251.2L1084.1,1249.1ZM1259,1288.5L1267.1,1289.8L1275.4,1290.1L1283.6,1290.2L1291.8,1290.1L1300.1,1290L1308.3,1289.8L1316.5,1289.4L1324.8,1288.9L1333,1288.3L1341.2,1287.6L1349.4,1286.8L1357.6,1285.8L1365.8,1284.8L1373.9,1283.6L1382.1,1282.3L1390.2,1280.9L1398.3,1279.4L1406.4,1277.7L1414.5,1276L1422.5,1274.1L1430.5,1272.1L1438.5,1270L1446.5,1267.8L1454.4,1265.5L1462.3,1263L1470.2,1260.5L1478,1257.8L1485.8,1255L1493.5,1252.1L1501.2,1249.1L1508.9,1246L1516.5,1242.7L1524.1,1239.4L1531.6,1235.9L1539.1,1232.3L1546.5,1228.6L1553.9,1224.8L1561.2,1220.9L1568.4,1216.9L1575.6,1212.8L1582.7,1208.6L1589.8,1204.2L1595.9,1198.4L1595.3,1197.5L1587.4,1200.5L1580.4,1204.8L1573.3,1209L1566.2,1213.1L1559,1217L1551.8,1220.9L1544.4,1224.7L1537.1,1228.3L1529.7,1231.9L1522.2,1235.3L1514.7,1238.6L1507.1,1241.9L1499.5,1245L1491.9,1247.9L1484.2,1250.8L1476.5,1253.6L1468.7,1256.2L1460.9,1258.8L1453.1,1261.2L1445.2,1263.5L1437.3,1265.7L1429.4,1267.8L1421.4,1269.8L1413.4,1271.6L1405.4,1273.3L1397.4,1275L1389.3,1276.5L1381.3,1277.9L1373.2,1279.1L1365.1,1280.3L1357,1281.3L1348.8,1282.3L1340.7,1283.1L1332.6,1283.8L1324.4,1284.4L1316.2,1284.9L1308.1,1285.2L1299.9,1285.5L1291.7,1285.6L1283.6,1285.6L1275.4,1285.5L1267.3,1285.3L1259.1,1286ZM1616.3,1184.4L1623.8,1180.6L1630.8,1176.1L1637.4,1171L1643.9,1165.9L1649.8,1160L1648.1,1157.9L1641.1,1162.5L1634.7,1167.6L1628.1,1172.6L1621.8,1177.9L1615.9,1183.8ZM1725.1,1083.3L1731.5,1077.8L1736.6,1071.3L1741.6,1064.7L1746.5,1058L1751.3,1051.3L1756.1,1044.4L1760.7,1037.5L1765.2,1030.6L1769.6,1023.6L1773.9,1016.5L1778.1,1009.3L1782.2,1002.1L1786.2,994.9L1790,987.5L1793.8,980.2L1797.4,972.7L1801,965.2L1804.4,957.7L1807.8,950.1L1811,942.5L1814.1,934.8L1817,927.1L1819.9,919.4L1822.7,911.6L1825.3,903.7L1827.9,895.8L1830.3,887.9L1832.6,880L1834.8,872L1836.8,864L1838.8,856L1840.6,848L1842.3,839.9L1843.9,831.8L1845.4,823.7L1846.8,815.5L1848,807.4L1849.2,799.2L1850.2,791L1851.1,782.8L1851.9,774.6L1852.6,766.4L1853.1,758.2L1853.6,749.9L1853.9,741.7L1854.1,733.5L1854.2,725.3L1853.5,717L1852,708.8L1851.1,708.8L1849.9,717L1849.2,725.2L1849.1,733.3L1848.9,741.5L1848.6,749.7L1848.2,757.8L1847.6,766L1847,774.1L1846.2,782.2L1845.3,790.4L1844.3,798.5L1843.2,806.6L1841.9,814.7L1840.6,822.7L1839.1,830.8L1837.6,838.8L1835.9,846.8L1834.1,854.8L1832.1,862.8L1830.1,870.7L1828,878.6L1825.7,886.5L1823.3,894.4L1820.8,902.2L1818.2,909.9L1815.5,917.7L1812.7,925.4L1809.7,933L1806.6,940.7L1803.5,948.2L1800.2,955.8L1796.8,963.2L1793.3,970.7L1789.7,978.1L1786,985.4L1782.1,992.6L1778.2,999.9L1774.2,1007L1770,1014.1L1765.7,1021.2L1761.4,1028.1L1756.9,1035L1752.4,1041.9L1747.7,1048.7L1742.9,1055.4L1738,1062L1733.1,1068.6L1728,1075L1724.1,1082.5ZM1847.6,659.9L1848.1,651.6L1847,643.4L1843.6,635.7L1843.3,635.7L1842.6,644L1844.1,652L1846.9,659.9ZM1816.8,524.7L1815.2,516.6L1812.3,508.9L1809.4,501.3L1806.4,493.7L1803.2,486.1L1800,478.6L1796.7,471.1L1793.3,463.6L1789.8,456.2L1786.2,448.8L1782.4,441.5L1778.6,434.3L1774.6,427.1L1770.5,419.9L1766.3,412.9L1762,405.9L1757.6,398.9L1753.2,392L1748.7,385.1L1744,378.3L1739.4,371.6L1734.6,364.8L1729.7,358.2L1724.7,351.6L1718.5,346.1L1717.2,347.2L1721,354.6L1725.9,361.2L1730.7,367.8L1735.4,374.5L1740,381.3L1744.5,388L1749,394.9L1753.4,401.7L1757.7,408.6L1762,415.6L1766.2,422.6L1770.2,429.6L1774.1,436.8L1777.9,444L1781.6,451.2L1785.1,458.5L1788.6,465.9L1792,473.3L1795.2,480.7L1798.4,488.2L1801.5,495.7L1804.5,503.3L1807.4,510.9L1810.2,518.5L1814.1,525.7ZM1629.9,260.5L1623.3,255.5L1616.8,250.5L1610,245.8L1609.6,246.4L1616.3,251.1L1623.2,255.7L1629.8,260.7ZM1517.3,192.6L1509.9,188.8L1502.4,185.5L1494.7,182.4L1487.1,179.3L1479.4,176.4L1471.6,173.6L1463.8,171L1455.9,168.5L1448,166.1L1440.1,163.9L1432.1,161.8L1424.1,159.8L1416.1,158L1408,156.3L1400,154.7L1391.9,153.3L1383.7,151.9L1375.6,150.7L1367.4,149.6L1359.3,148.7L1351.1,147.8L1342.9,147L1334.8,146.4L1326.6,145.8L1318.4,145.7L1310.2,145.4L1302,145.2L1293.8,145.2L1285.6,145.3L1277.4,145.4L1269.3,145.8L1261.1,146L1252.9,146L1244.7,146.6L1236.6,147.6L1228.5,148.5L1220.4,149.6L1220.5,150.9L1228.6,150.1L1236.7,149.4L1244.9,149L1253,148.4L1261.1,147.5L1269.3,147.1L1277.4,147.2L1285.6,147.3L1293.7,147.5L1301.9,147.8L1310,148.1L1318.2,148.6L1326.3,149.3L1334.4,149.9L1342.6,150.5L1350.7,151.3L1358.8,152.2L1366.9,153.2L1375,154.3L1383.1,155.5L1391.1,156.9L1399.2,158.4L1407.2,160L1415.2,161.7L1423.2,163.5L1431.1,165.5L1439,167.6L1446.9,169.8L1454.7,172.2L1462.5,174.7L1470.3,177.3L1478,180.1L1485.7,183L1493.3,186.1L1500.8,189.2L1508.3,192.4L1516,195.3ZM945.4,262.2L938.4,266.3L932,271.3L925.7,276.4L919.5,281.6L913.3,286.8L907.3,292.2L901.3,297.6L895.4,303.2L889.6,308.8L883.9,314.5L878.2,320.3L872.7,326.2L867.2,332.1L861.8,338.2L856.5,344.2L851.3,350.4L846.1,356.6L841,362.9L836.1,369.3L831.1,375.7L826.3,382.2L821.6,388.7L816.9,395.3L812.4,402L808,408.7L803.6,415.5L799.4,422.4L795.2,429.4L791.2,436.3L787.3,443.4L783.5,450.5L779.7,457.7L776.1,464.9L772.6,472.2L769.2,479.5L765.9,486.8L762.7,494.2L759.5,501.7L756.5,509.2L753.6,516.7L750.8,524.3L748.4,532L746,539.7L743.6,547.3L741.2,555.1L739.2,562.9L737.2,570.7L735.4,578.5L734,586.5L732.9,594.5L732.2,602.5L732.5,602.6L733.9,594.7L735.4,586.8L736.8,578.9L738.2,570.9L739.9,563.1L741.9,555.3L744.1,547.5L746.6,539.8L749.4,532.3L752.4,524.8L755.2,517.3L758.1,509.8L761.1,502.3L764.3,494.9L767.5,487.5L770.8,480.2L774.2,472.9L777.7,465.7L781.3,458.5L785.1,451.4L788.9,444.3L792.8,437.3L796.9,430.3L801,423.4L805.2,416.6L809.6,409.8L814,403.1L818.5,396.4L823.1,389.8L827.9,383.3L832.7,376.9L837.6,370.5L842.6,364.1L847.6,357.9L852.8,351.7L858,345.6L863.3,339.5L868.7,333.5L874.2,327.6L879.7,321.8L885.3,316L891.1,310.4L896.9,304.8L902.8,299.3L908.7,293.8L914.8,288.5L920.9,283.3L927.1,278.1L933.4,273.1L939.7,268.1L945.6,262.5ZM728.9,642.5L728.4,650.5L728.1,658.4L728,666.4L728.1,674.4L728.3,674.4L728.6,666.5L728.9,658.5L729.1,650.6L729.3,642.6Z" fill="#482d8f"/>
<g filter="url(#rough)">
<path d="M690.5,722.9L694,722.5L697.5,721.9L701,721.4L704.5,720.9L708,720.3L711.5,719.7L715,719.2L718.5,718.6L722,718.1L725.5,717.6L729,715.9L732.5,715.6L736,715.4L739.5,715.4L743,715.3L746.5,715.2L750,715.1L753.5,714.9L757,714.6L760.5,714.4L764,714.1L767.5,713.6L771,712.7L771,712.2L767.5,712.1L764,712.4L760.5,712.8L757,713.2L753.5,713.4L750,713.7L746.5,713.9L743,714L739.5,714.1L736,714.1L732.5,714.3L729,714.6L725.5,713.8L722,714.5L718.5,715.3L715,716.1L711.5,716.9L708,717.7L704.5,718.3L701,718.9L697.5,719.5L694,720.5L690.5,721.9ZM778,711.7L781.5,711.3L785,711L788.5,711.4L792,711L795.5,710.6L799,710.3L802.5,709.9L806,709.6L809.5,709.3L813,709.1L816.5,708.8L820,708.7L823.5,708.5L827,708.4L830.5,708.4L834,708.1L837.5,708.2L841,708.3L844.5,707.5L848,707.2L851.5,708.1L855,708L858.5,707.9L862,707.8L865.5,707.7L869,707.6L872.5,707.5L876,707.4L879.5,707.3L883,707.2L886.5,707.1L890,707L893.5,706.9L897,706.8L900.5,706.7L904,706.6L907.5,706.5L911,706.4L914.5,706.4L918,706.3L921.5,706.3L925,706.2L928.5,706.1L932,706.1L935.5,706L939,705.9L942.5,705.9L946,705.8L949.5,705.7L953,705.6L956.5,705.5L960,705.5L963.5,705.4L967,705.3L970.5,705.3L974,705.2L977.5,705.1L981,705.1L984.5,705L988,704.1L988,702.2L984.5,701.3L981,701.4L977.5,701.5L974,701.5L970.5,701.6L967,701.7L963.5,701.8L960,701.9L956.5,702L953,702.1L949.5,702.2L946,702.3L942.5,702.4L939,702.5L935.5,702.6L932,702.7L928.5,702.8L925,702.9L921.5,702.9L918,703L914.5,703L911,703.1L907.5,703.2L904,703.3L900.5,703.4L897,703.5L893.5,703.6L890,703.7L886.5,703.9L883,704L879.5,704.1L876,704.3L872.5,704.4L869,704.5L865.5,704.7L862,704.8L858.5,704.9L855,705L851.5,705.1L848,706.2L844.5,706L841,705.3L837.5,705.5L834,705.7L830.5,705.5L827,705.6L823.5,705.6L820,705.8L816.5,706L813,706.2L809.5,706.6L806,706.9L802.5,707.3L799,707.7L795.5,708.2L792,708.7L788.5,709.2L785,710.4L781.5,711L778,711.5ZM1009,703.6L1012.5,705.8L1016,705.8L1019.5,705.8L1023,703.2L1023,702.7L1019.5,700.2L1016,700.2L1012.5,700.2L1009,702ZM1065,704.9L1068.5,705.5L1072,705.5L1075.5,705.5L1079,705.5L1082.5,705.5L1086,705.5L1089.5,705.6L1093,705.6L1096.5,705.6L1100,705.7L1103.5,705.7L1107,705.8L1110.5,705.8L1114,705.9L1117.5,705.9L1121,706L1124.5,706.1L1128,706.2L1131.5,706.3L1135,706.3L1138.5,704.3L1138.5,702.7L1135,700.5L1131.5,700.5L1128,700.4L1124.5,700.3L1121,700.2L1117.5,700.2L1114,700.1L1110.5,700L1107,700L1103.5,699.9L1100,699.9L1096.5,699.9L1093,699.9L1089.5,699.8L1086,699.8L1082.5,699.8L1079,699.8L1075.5,699.8L1072,699.8L1068.5,699.8L1065,700.5ZM1170,705.5L1173.5,706.9L1177,707L1180.5,707L1184,707L1187.5,707.1L1191,707.1L1194.5,707.1L1198,707.1L1201.5,707.1L1205,707.1L1208.5,707.2L1212,707.2L1215.5,707.2L1219,707.2L1222.5,707.2L1226,707.2L1229.5,707.1L1233,707.1L1236.5,707.1L1240,707.1L1243.5,707.1L1247,707.1L1250.5,707.1L1254,707L1257.5,707L1261,707L1264.5,707L1268,706.9L1271.5,706.9L1275,706.9L1278.5,706.8L1282,706.8L1285.5,706.7L1289,706.7L1292.5,706.6L1296,706.5L1299.5,706.4L1303,706.3L1306.5,706.2L1310,706L1313.5,705.9L1317,705.8L1320.5,705.8L1324,705.7L1327.5,705.6L1331,705.6L1334.5,705.6L1338,703.4L1341.5,703L1341.5,702.8L1338,702.2L1334.5,700L1331,700L1327.5,699.9L1324,699.9L1320.5,699.9L1317,700L1313.5,700.1L1310,700.2L1306.5,700.3L1303,700.4L1299.5,700.5L1296,700.6L1292.5,700.7L1289,700.8L1285.5,700.9L1282,700.9L1278.5,701L1275,701L1271.5,701L1268,701.1L1264.5,701.1L1261,701.1L1257.5,701.1L1254,701.2L1250.5,701.2L1247,701.2L1243.5,701.2L1240,701.2L1236.5,701.3L1233,701.3L1229.5,701.3L1226,701.3L1222.5,701.3L1219,701.3L1215.5,701.3L1212,701.3L1208.5,701.3L1205,701.3L1201.5,701.3L1198,701.3L1194.5,701.3L1191,701.2L1187.5,701.2L1184,701.2L1180.5,701.2L1177,701.1L1173.5,701.1L1170,702.5ZM1348.5,703.7L1352,705.6L1355.5,705.6L1359,705.7L1362.5,705.7L1366,705.7L1369.5,705.6L1373,705.6L1376.5,705.6L1380,705.5L1383.5,705.4L1387,705.4L1390.5,705.3L1394,705.3L1397.5,705.3L1401,705.3L1404.5,705.3L1408,705.3L1411.5,705.3L1415,705.3L1418.5,705.4L1418.5,700.6L1415,700.5L1411.5,700.5L1408,700.5L1404.5,700.4L1401,700.4L1397.5,700.4L1394,700.4L1390.5,700.5L1387,700.5L1383.5,700.5L1380,700.6L1376.5,700.7L1373,700.7L1369.5,700.7L1366,700.7L1362.5,700.6L1359,700.6L1355.5,700.5L1352,700.4L1348.5,702.2ZM1450,705L1453.5,705.8L1457,705.9L1460.5,705.9L1464,706L1467.5,706L1471,706.1L1474.5,706.1L1478,706.2L1481.5,706.2L1485,706.3L1488.5,706.3L1492,706.3L1495.5,706.3L1499,706.4L1502.5,706.4L1506,706.5L1509.5,706.5L1513,706.6L1516.5,706.7L1520,706.8L1523.5,706.9L1523.5,702.4L1520,702.3L1516.5,702.2L1513,702.1L1509.5,702L1506,701.9L1502.5,701.9L1499,701.8L1495.5,701.8L1492,701.7L1488.5,701.7L1485,701.7L1481.5,701.7L1478,701.6L1474.5,701.6L1471,701.5L1467.5,701.5L1464,701.4L1460.5,701.3L1457,701.3L1453.5,701.2L1450,701.9ZM1530.5,706.1L1534,707.3L1537.5,707.4L1541,707.5L1544.5,707.6L1548,707.8L1551.5,707.9L1555,708L1558.5,708.1L1562,708.2L1565.5,708.3L1569,708.5L1572.5,708.5L1576,708.6L1579.5,708.7L1583,708.8L1586.5,708.9L1590,709L1593.5,709.1L1597,709.2L1600.5,709.3L1604,709.5L1607.5,709.6L1611,709.8L1614.5,709.9L1614.5,705.5L1611,705.3L1607.5,705.1L1604,705L1600.5,704.8L1597,704.7L1593.5,704.5L1590,704.4L1586.5,704.3L1583,704.2L1579.5,704.2L1576,704.1L1572.5,704L1569,703.9L1565.5,703.8L1562,703.7L1558.5,703.6L1555,703.5L1551.5,703.3L1548,703.2L1544.5,703.1L1541,703L1537.5,702.8L1534,702.7L1530.5,703.7ZM1639,709.2L1642.5,710.5L1646,711.1L1649.5,710.8L1653,709.8L1653,709L1649.5,707.8L1646,707.2L1642.5,707.6L1639,708.6ZM1695,712L1698.5,712L1702,712L1705.5,712L1709,712L1712.5,712L1716,712L1719.5,712L1723,711.9L1726.5,711.9L1730,711.9L1733.5,711.9L1737,711.9L1740.5,711.8L1744,711.8L1747.5,711.9L1751,712L1754.5,712.2L1758,712.4L1761.5,712.6L1765,712.8L1768.5,713L1772,713.2L1775.5,713.4L1779,713.5L1782.5,713.6L1786,713.6L1789.5,713.5L1793,713.6L1796.5,713.7L1800,713.7L1803.5,713.8L1807,713.8L1810.5,713.7L1814,713L1817.5,713.2L1821,712.9L1824.5,713.8L1828,713.2L1831.5,712.7L1835,712.3L1838.5,712L1842,711.9L1845.5,711.8L1849,711.8L1852.5,711.8L1856,711.7L1859.5,711.7L1863,711.6L1866.5,711.6L1870,711.5L1873.5,711.6L1873.5,711.3L1870,711.3L1866.5,711.1L1863,710.9L1859.5,710.7L1856,710.5L1852.5,710.4L1849,710.2L1845.5,710.1L1842,710.1L1838.5,710.1L1835,710.1L1831.5,710.1L1828,710.1L1824.5,710.1L1821,711.6L1817.5,711.8L1814,712.5L1810.5,712.1L1807,712.1L1803.5,712L1800,711.8L1796.5,711.5L1793,711.3L1789.5,711.1L1786,711.1L1782.5,711.1L1779,710.9L1775.5,710.7L1772,710.5L1768.5,710.2L1765,709.9L1761.5,709.5L1758,709.2L1754.5,708.9L1751,708.6L1747.5,708.4L1744,708.3L1740.5,708.3L1737,708.3L1733.5,708.3L1730,708.3L1726.5,708.3L1723,708.3L1719.5,708.3L1716,708.2L1712.5,708.2L1709,708.2L1705.5,708.1L1702,708.1L1698.5,708L1695,708ZM683.5,723.9L687,723.7L690.5,723.3L694,722.8L697.5,722.3L701,721.8L704.5,720.9L708,719.8L711.5,719.1L715,718.6L718.5,719L722,718.5L725.5,718L729,716.3L732.5,715.9L736,715.7L739.5,715.7L743,715.6L746.5,715.5L750,715.3L753.5,715.1L757,714.9L760.5,714.6L764,714.2L767.5,713.9L771,713.5L774.5,713.1L778,712.7L781.5,712.3L785,711.9L788.5,711.5L792,711.1L795.5,710.7L799,710.3L802.5,709.9L806,709.6L809.5,709.3L813,709L816.5,708.8L820,708.6L823.5,708.5L827,708.4L830.5,708.4L834,708.4L837.5,708.3L841,708.3L844.5,708.2L848,708.2L851.5,708.1L855,708.1L858.5,708L862,708L865.5,707.9L869,707.8L872.5,707.8L876,707.7L879.5,707.6L883,707.6L886.5,707.5L890,707.5L893.5,707.4L897,707.4L900.5,707.3L904,707.3L907.5,707.3L911,707.3L914.5,707.3L918,707.3L921.5,707.3L925,707.3L928.5,707.3L932,707.3L935.5,707.3L939,707.3L942.5,707.3L946,707.3L949.5,707.3L953,707.3L956.5,707.3L960,707.3L963.5,707.4L967,707.4L970.5,707.4L974,707.4L977.5,707.4L981,707.4L984.5,707.5L988,707.5L991.5,707.5L995,707.7L998.5,707.9L1002,708.4L1005.5,709L1009,709.8L1012.5,710.1L1016,710.1L1019.5,710.2L1023,710.2L1026.5,710.3L1030,710.3L1033.5,710.3L1037,710.3L1040.5,710.4L1044,710.4L1047.5,710.4L1051,710.4L1054.5,710.1L1058,709.7L1061.5,710.4L1065,710.5L1068.5,710.5L1072,710.5L1075.5,710.5L1079,710.5L1082.5,710.6L1086,710.6L1089.5,710.6L1093,710.6L1096.5,710.6L1100,710.6L1103.5,710.7L1107,710.7L1110.5,710.7L1114,710.7L1117.5,710.8L1121,710.8L1124.5,710.8L1128,710.9L1131.5,710.9L1135,710.9L1138.5,710.9L1142,710.9L1145.5,711L1149,711L1152.5,711L1156,710.3L1159.5,709.8L1163,709.6L1166.5,710.9L1170,710.9L1173.5,710.9L1177,710.9L1180.5,710.8L1184,710.8L1187.5,710.8L1191,710.8L1194.5,710.7L1198,710.7L1201.5,710.6L1205,710.6L1208.5,710.6L1212,710.5L1215.5,710.5L1219,710.4L1222.5,710.1L1226,710.3L1229.5,710.3L1233,710.2L1236.5,710.2L1240,710.1L1243.5,710.1L1247,710L1250.5,710L1254,709.9L1257.5,709.9L1261,709.8L1264.5,709.8L1268,709.8L1271.5,709.7L1275,709.7L1278.5,709.6L1282,709.6L1285.5,709.5L1289,709.5L1292.5,709.4L1296,709.3L1299.5,709.2L1303,709.1L1306.5,709L1310,708.9L1313.5,708.8L1317,708.7L1320.5,708.6L1324,708.6L1327.5,708.5L1331,708.5L1334.5,708.4L1338,708.2L1341.5,708.4L1345,708.4L1348.5,708.4L1352,708.4L1355.5,708.4L1359,708.4L1362.5,708.4L1366,708.1L1369.5,708.4L1373,708.3L1376.5,708.3L1380,708.3L1383.5,708.2L1387,708.2L1390.5,708.2L1394,708.2L1397.5,708.2L1401,708.2L1404.5,708.2L1408,708.2L1411.5,708.2L1415,708.2L1418.5,708.2L1418.5,703.4L1415,703.4L1411.5,703.4L1408,703.3L1404.5,703.3L1401,703.3L1397.5,703.3L1394,703.3L1390.5,703.3L1387,703.3L1383.5,703.3L1380,703.4L1376.5,703.4L1373,703.4L1369.5,703.4L1366,703.6L1362.5,703.4L1359,703.3L1355.5,703.2L1352,703.2L1348.5,703.1L1345,703L1341.5,703L1338,703.1L1334.5,702.9L1331,702.8L1327.5,702.8L1324,702.8L1320.5,702.8L1317,702.8L1313.5,702.9L1310,703L1306.5,703.1L1303,703.2L1299.5,703.3L1296,703.4L1292.5,703.5L1289,703.6L1285.5,703.7L1282,703.7L1278.5,703.8L1275,703.8L1271.5,703.8L1268,703.9L1264.5,703.9L1261,704L1257.5,704L1254,704.1L1250.5,704.1L1247,704.2L1243.5,704.2L1240,704.3L1236.5,704.3L1233,704.4L1229.5,704.4L1226,704.5L1222.5,704.8L1219,704.6L1215.5,704.6L1212,704.7L1208.5,704.7L1205,704.8L1201.5,704.8L1198,704.8L1194.5,704.9L1191,704.9L1187.5,705L1184,705L1180.5,705L1177,705.1L1173.5,705.1L1170,705.1L1166.5,705.1L1163,706.5L1159.5,706.3L1156,705.8L1152.5,705.2L1149,705.2L1145.5,705.2L1142,705.2L1138.5,705.1L1135,705.1L1131.5,705.1L1128,705.1L1124.5,705.1L1121,705L1117.5,705L1114,705L1110.5,704.9L1107,704.9L1103.5,704.9L1100,704.9L1096.5,704.9L1093,704.9L1089.5,704.8L1086,704.8L1082.5,704.8L1079,704.8L1075.5,704.8L1072,704.8L1068.5,704.8L1065,704.8L1061.5,704.9L1058,705.6L1054.5,705.1L1051,704.8L1047.5,704.8L1044,704.8L1040.5,704.8L1037,704.7L1033.5,704.7L1030,704.7L1026.5,704.7L1023,704.6L1019.5,704.6L1016,704.6L1012.5,704.5L1009,704.2L1005.5,703.5L1002,703.3L998.5,703.4L995,703.6L991.5,703.8L988,703.8L984.5,703.8L981,703.7L977.5,703.7L974,703.7L970.5,703.7L967,703.7L963.5,703.8L960,703.8L956.5,703.8L953,703.8L949.5,703.8L946,703.9L942.5,703.9L939,703.9L935.5,703.9L932,703.9L928.5,703.9L925,703.9L921.5,703.9L918,703.9L914.5,703.9L911,703.9L907.5,704L904,704L900.5,704L897,704.1L893.5,704.2L890,704.2L886.5,704.3L883,704.4L879.5,704.5L876,704.6L872.5,704.6L869,704.7L865.5,704.8L862,704.9L858.5,705L855,705.1L851.5,705.1L848,705.2L844.5,705.3L841,705.3L837.5,705.4L834,705.4L830.5,705.4L827,705.5L823.5,705.5L820,705.7L816.5,705.9L813,706.2L809.5,706.5L806,706.9L802.5,707.3L799,707.8L795.5,708.2L792,708.7L788.5,709.2L785,709.7L781.5,710.2L778,710.7L774.5,711.2L771,711.7L767.5,712.2L764,712.6L760.5,713L757,713.4L753.5,713.7L750,713.9L746.5,714.2L743,714.3L739.5,714.4L736,714.4L732.5,714.6L729,715L725.5,714.2L722,714.9L718.5,715.6L715,717.3L711.5,718.2L708,718.8L704.5,719.1L701,719.3L697.5,719.9L694,720.9L690.5,721.9L687,722.9L683.5,723.7ZM1439.5,706.3L1443,708.2L1446.5,708.5L1450,708.6L1453.5,708.6L1457,708.6L1460.5,708.7L1464,708.7L1467.5,708.7L1471,708.8L1474.5,708.8L1478,708.8L1481.5,708.8L1485,708.8L1488.5,708.8L1492,708.8L1495.5,708.8L1499,708.8L1502.5,708.8L1506,708.8L1509.5,708.8L1513,708.9L1516.5,708.9L1520,709L1523.5,709L1527,709.1L1530.5,709.2L1534,709.3L1537.5,709.3L1541,709.4L1544.5,709.5L1548,709.5L1551.5,709.6L1555,709.7L1558.5,709.8L1562,709.8L1565.5,709.9L1569,709.9L1572.5,710L1576,710L1579.5,710L1583,710.1L1586.5,710.1L1590,710.2L1593.5,710.2L1597,710.3L1600.5,710.4L1604,710.5L1607.5,710.6L1611,710.7L1614.5,710.8L1618,711L1621.5,711.1L1625,711.2L1628.5,711.4L1632,711.5L1635.5,711.6L1639,711.8L1642.5,711.9L1646,712L1649.5,712.1L1653,712.3L1656.5,712.4L1660,712.4L1663.5,712.5L1667,712.6L1670.5,712.6L1674,712.7L1677.5,712.7L1681,712.8L1684.5,712.8L1688,712.8L1691.5,712.9L1695,712.9L1698.5,712.9L1702,713L1705.5,713L1709,713L1712.5,713.1L1716,713.1L1719.5,713.1L1723,713.1L1726.5,713.2L1730,713.2L1733.5,713.2L1737,713.3L1740.5,713.3L1744,713.3L1747.5,713.5L1751,713.6L1754.5,713.8L1758,714L1761.5,714.2L1765,714.4L1768.5,714.6L1772,714.8L1775.5,714.9L1779,715.1L1782.5,715.1L1786,715.2L1789.5,715.2L1793,715.2L1796.5,715.2L1800,715.2L1803.5,715.1L1807,715.1L1810.5,715.1L1814,714.9L1817.5,714.5L1821,714.1L1824.5,714.8L1828,714.1L1831.5,713.4L1835,712.9L1838.5,712.5L1842,712.4L1845.5,712.4L1849,712.3L1852.5,712.2L1856,712.1L1859.5,712L1863,711.9L1866.5,711.7L1870,711.6L1873.5,711.6L1873.5,711.4L1870,711.4L1866.5,711.3L1863,711.2L1859.5,711L1856,710.9L1852.5,710.8L1849,710.7L1845.5,710.6L1842,710.6L1838.5,710.7L1835,710.7L1831.5,710.8L1828,711L1824.5,711.1L1821,712.7L1817.5,713L1814,713.3L1810.5,713.4L1807,713.4L1803.5,713.4L1800,713.2L1796.5,713.1L1793,712.9L1789.5,712.8L1786,712.7L1782.5,712.7L1779,712.5L1775.5,712.3L1772,712.1L1768.5,711.8L1765,711.4L1761.5,711.1L1758,710.8L1754.5,710.5L1751,710.2L1747.5,710L1744,709.8L1740.5,709.7L1737,709.7L1733.5,709.7L1730,709.6L1726.5,709.5L1723,709.5L1719.5,709.4L1716,709.4L1712.5,709.3L1709,709.2L1705.5,709.1L1702,709.1L1698.5,709L1695,708.9L1691.5,708.8L1688,708.8L1684.5,708.7L1681,708.6L1677.5,708.6L1674,708.5L1670.5,708.5L1667,708.4L1663.5,708.3L1660,708.3L1656.5,708.2L1653,708L1649.5,707.9L1646,707.8L1642.5,707.6L1639,707.5L1635.5,707.3L1632,707.2L1628.5,707L1625,706.9L1621.5,706.7L1618,706.6L1614.5,706.4L1611,706.3L1607.5,706.1L1604,706L1600.5,705.9L1597,705.8L1593.5,705.7L1590,705.6L1586.5,705.6L1583,705.5L1579.5,705.5L1576,705.5L1572.5,705.4L1569,705.4L1565.5,705.3L1562,705.3L1558.5,705.2L1555,705.1L1551.5,705.1L1548,705L1544.5,704.9L1541,704.8L1537.5,704.8L1534,704.7L1530.5,704.6L1527,704.6L1523.5,704.5L1520,704.4L1516.5,704.4L1513,704.3L1509.5,704.3L1506,704.3L1502.5,704.2L1499,704.2L1495.5,704.2L1492,704.2L1488.5,704.2L1485,704.2L1481.5,704.2L1478,704.2L1474.5,704.2L1471,704.2L1467.5,704.1L1464,704.1L1460.5,704.1L1457,704L1453.5,704L1450,703.9L1446.5,703.9L1443,704.1L1439.5,705.9ZM683.5,724L687,723.7L690.5,723.4L694,723L697.5,722.6L701,722.1L704.5,721.6L708,721L711.5,720.4L715,719.9L718.5,719.4L722,718.9L725.5,718.5L729,716.7L732.5,716.4L736,716.2L739.5,716.2L743,716.1L746.5,716L750,715.9L753.5,715.7L757,715.5L760.5,715.2L764,714.9L767.5,714.6L771,714.3L774.5,713.9L778,713.6L781.5,713.2L785,712.9L788.5,712.5L792,712.2L795.5,711.8L799,711.5L802.5,711.2L806,711L809.5,710.7L813,710.5L816.5,710.3L820,710.2L823.5,710.1L827,710.1L830.5,710.1L834,710.1L837.5,710.1L841,710.1L844.5,710.1L848,710.1L851.5,710.1L855,710.1L858.5,710.1L862,710.1L865.5,710.1L869,710.1L872.5,710.1L876,710L879.5,710L883,710L886.5,710L890,710L893.5,710L897,710L900.5,710L904,710.1L907.5,710.1L911,710.1L914.5,710.1L918,710.2L921.5,709.7L925,709L925,708.1L921.5,707.4L918,706.8L914.5,706.8L911,706.8L907.5,706.7L904,706.7L900.5,706.7L897,706.7L893.5,706.8L890,706.8L886.5,706.8L883,706.8L879.5,706.9L876,706.9L872.5,706.9L869,707L865.5,707L862,707L858.5,707.1L855,707.1L851.5,707.1L848,707.2L844.5,707.2L841,707.2L837.5,707.2L834,707.2L830.5,707.2L827,707.1L823.5,707.2L820,707.3L816.5,707.5L813,707.7L809.5,708L806,708.3L802.5,708.6L799,709L795.5,709.4L792,709.8L788.5,710.3L785,710.7L781.5,711.2L778,711.6L774.5,712.1L771,712.5L767.5,712.9L764,713.3L760.5,713.6L757,714L753.5,714.3L750,714.5L746.5,714.7L743,714.8L739.5,714.9L736,714.9L732.5,715.1L729,715.5L725.5,714.6L722,715.3L718.5,716L715,716.8L711.5,717.6L708,718.3L704.5,719L701,719.6L697.5,720.2L694,721.1L690.5,722.1L687,723L683.5,723.7ZM935.5,709.1L939,710.4L942.5,710.5L946,710.5L949.5,710.5L953,710.6L956.5,710.6L960,710.7L963.5,710.7L967,710.7L970.5,710.8L974,710.8L977.5,710.8L981,710.9L984.5,710.9L988,709.8L991.5,709.6L995,709.9L998.5,709.9L1002,710.5L1002,710.3L998.5,709.7L995,708.8L991.5,708.6L988,708.3L984.5,707.2L981,707.2L977.5,707.1L974,707.1L970.5,707.1L967,707.1L963.5,707.1L960,707.1L956.5,707.1L953,707.1L949.5,707.1L946,707L942.5,707L939,707L935.5,708.3ZM1009,712.3L1012.5,715L1016,715L1019.5,715L1023,715L1026.5,715L1030,714.9L1033.5,714.9L1037,714.9L1040.5,714.8L1044,714.8L1047.5,714.7L1051,712.9L1054.5,712.6L1058,713.2L1061.5,714.5L1065,714.4L1068.5,714.3L1072,714.3L1075.5,714.2L1079,714.1L1082.5,714L1086,713.9L1089.5,713.8L1093,713.7L1096.5,713.7L1100,713.6L1103.5,713.5L1107,713.4L1110.5,713.3L1114,713.2L1117.5,713.2L1121,713.1L1124.5,713L1128,712.9L1131.5,712.8L1135,712.8L1138.5,712.7L1142,712.6L1145.5,712.5L1149,712.4L1152.5,712.3L1156,712.2L1159.5,712.1L1163,712L1166.5,711.9L1170,711.8L1173.5,711.7L1177,711.6L1180.5,711.5L1184,711.4L1187.5,711.3L1191,711.2L1194.5,711.1L1198,711L1201.5,710.9L1205,710.8L1208.5,710.7L1212,710.6L1215.5,710.5L1219,710.4L1222.5,710.4L1226,710.3L1229.5,710.2L1233,710.1L1236.5,710.1L1240,710L1243.5,710L1247,709.9L1250.5,709.9L1254,709.9L1257.5,709.9L1261,709.8L1264.5,709.8L1268,709.8L1271.5,709.8L1275,709.8L1278.5,708.8L1282,707.5L1285.5,707.4L1289,707.7L1292.5,709L1296,709.7L1299.5,709.7L1303,709.7L1306.5,709.8L1310,709.7L1313.5,709.4L1317,708.2L1320.5,709.6L1324,709.8L1327.5,709.8L1331,708.5L1331,705.6L1327.5,704.1L1324,704L1320.5,704.1L1317,705.4L1313.5,704.2L1310,703.9L1306.5,703.9L1303,704L1299.5,704.1L1296,704.1L1292.5,704.8L1289,706.1L1285.5,706.4L1282,706.3L1278.5,704.9L1275,703.9L1271.5,703.9L1268,703.9L1264.5,703.9L1261,704L1257.5,704L1254,704L1250.5,704L1247,704.1L1243.5,704.1L1240,704.2L1236.5,704.2L1233,704.3L1229.5,704.3L1226,704.4L1222.5,704.5L1219,704.6L1215.5,704.7L1212,704.7L1208.5,704.8L1205,704.9L1201.5,705L1198,705.1L1194.5,705.2L1191,705.3L1187.5,705.4L1184,705.5L1180.5,705.6L1177,705.7L1173.5,705.9L1170,706L1166.5,706.1L1163,706.2L1159.5,706.3L1156,706.4L1152.5,706.5L1149,706.6L1145.5,706.7L1142,706.8L1138.5,706.9L1135,707L1131.5,707.1L1128,707.1L1124.5,707.2L1121,707.3L1117.5,707.4L1114,707.5L1110.5,707.5L1107,707.6L1103.5,707.7L1100,707.8L1096.5,707.9L1093,708L1089.5,708.1L1086,708.2L1082.5,708.3L1079,708.4L1075.5,708.5L1072,708.6L1068.5,708.6L1065,708.7L1061.5,708.8L1058,710.2L1054.5,711L1051,710.8L1047.5,709.1L1044,709.2L1040.5,709.2L1037,709.3L1033.5,709.3L1030,709.3L1026.5,709.4L1023,709.4L1019.5,709.4L1016,709.4L1012.5,709.4L1009,711.5ZM1345,708.1L1348.5,710.3L1352,710.3L1355.5,710.4L1359,710.5L1362.5,710.6L1366,710.7L1369.5,710.8L1373,710.8L1376.5,710.9L1380,711L1383.5,711L1387,711.1L1390.5,711.2L1394,710.1L1397.5,709.6L1401,710L1404.5,711.6L1408,711.7L1411.5,711.8L1415,711.5L1415,707.6L1411.5,707L1408,706.9L1404.5,706.8L1401,708.2L1397.5,708.3L1394,707.6L1390.5,706.3L1387,706.2L1383.5,706.1L1380,706.1L1376.5,706L1373,705.9L1369.5,705.8L1366,705.7L1362.5,705.6L1359,705.4L1355.5,705.3L1352,705.1L1348.5,705L1345,706.8ZM1446.5,712.4L1450,713.1L1453.5,713.1L1457,713.2L1460.5,713.3L1464,713.4L1467.5,713.5L1471,713.5L1474.5,713.6L1478,713.7L1481.5,713.7L1485,713.7L1488.5,713.8L1492,713.8L1495.5,713.8L1499,713.8L1502.5,713.9L1506,713.9L1509.5,713.9L1513,714L1516.5,714L1520,714.1L1523.5,714.1L1527,714.2L1530.5,714.2L1534,714.3L1537.5,714.3L1541,714.4L1544.5,714.4L1548,714.5L1551.5,714.5L1555,714.5L1558.5,714.6L1562,714.6L1565.5,714.6L1569,714.6L1572.5,714.6L1576,714.5L1579.5,714.5L1583,714.5L1586.5,714.4L1590,714.4L1593.5,714.4L1597,714.4L1600.5,714.3L1604,714.4L1607.5,714.4L1611,714.4L1614.5,714.4L1618,714.4L1621.5,714.5L1625,714.5L1628.5,714.5L1632,714.5L1635.5,714.6L1639,714.6L1642.5,714.6L1646,714.6L1649.5,714.7L1653,714.7L1656.5,714.7L1660,714.7L1663.5,714.6L1667,714.6L1670.5,714.6L1674,714.5L1677.5,714.5L1681,714.4L1684.5,714.4L1688,714.3L1691.5,714.3L1695,714.2L1698.5,714.2L1702,714.1L1705.5,714.1L1709,714L1712.5,713.5L1716,712.6L1719.5,712.5L1723,713.4L1726.5,713.8L1730,713.8L1733.5,713.8L1737,713.8L1740.5,713.7L1744,713.8L1747.5,713.8L1751,713.9L1754.5,714.1L1758,714.2L1761.5,714.4L1765,714.6L1768.5,714.8L1772,714.9L1775.5,715.1L1779,715.2L1782.5,714.6L1786,714.2L1789.5,714.3L1793,714.8L1796.5,715.3L1800,715.3L1803.5,715.2L1807,715.2L1810.5,715.2L1814,715L1817.5,714.6L1821,714.2L1824.5,714.9L1828,714.2L1831.5,713.5L1835,713L1838.5,712.6L1842,712.4L1845.5,712.4L1849,711.7L1849,711.4L1845.5,710.7L1842,710.7L1838.5,710.7L1835,710.8L1831.5,710.9L1828,711.1L1824.5,711.2L1821,712.8L1817.5,713.1L1814,713.4L1810.5,713.5L1807,713.5L1803.5,713.5L1800,713.3L1796.5,713.2L1793,713.5L1789.5,713.9L1786,713.9L1782.5,713.4L1779,712.6L1775.5,712.5L1772,712.2L1768.5,711.9L1765,711.7L1761.5,711.4L1758,711.1L1754.5,710.8L1751,710.5L1747.5,710.4L1744,710.2L1740.5,710.2L1737,710.2L1733.5,710.2L1730,710.2L1726.5,710.2L1723,710.6L1719.5,711.6L1716,711.5L1712.5,710.6L1709,710.2L1705.5,710.2L1702,710.2L1698.5,710.2L1695,710.2L1691.5,710.2L1688,710.2L1684.5,710.3L1681,710.3L1677.5,710.3L1674,710.4L1670.5,710.4L1667,710.4L1663.5,710.5L1660,710.5L1656.5,710.5L1653,710.5L1649.5,710.4L1646,710.4L1642.5,710.4L1639,710.3L1635.5,710.3L1632,710.2L1628.5,710.2L1625,710.1L1621.5,710.1L1618,710L1614.5,710L1611,709.9L1607.5,709.9L1604,709.9L1600.5,709.8L1597,709.8L1593.5,709.8L1590,709.8L1586.5,709.9L1583,709.9L1579.5,710L1576,710L1572.5,710L1569,710L1565.5,710L1562,710L1558.5,710L1555,710L1551.5,710L1548,709.9L1544.5,709.9L1541,709.8L1537.5,709.8L1534,709.7L1530.5,709.7L1527,709.6L1523.5,709.6L1520,709.5L1516.5,709.5L1513,709.4L1509.5,709.4L1506,709.3L1502.5,709.3L1499,709.3L1495.5,709.2L1492,709.2L1488.5,709.2L1485,709.2L1481.5,709.1L1478,709.1L1474.5,709L1471,709L1467.5,708.9L1464,708.8L1460.5,708.7L1457,708.6L1453.5,708.5L1450,708.4L1446.5,708.9ZM1856,711.7L1859.5,711.7L1863,711.8L1866.5,711.8L1870,711.6L1873.5,711.6L1873.5,711.4L1870,711.4L1866.5,711.3L1863,711.3L1859.5,711.4L1856,711.4ZM683.5,724L687,723.8L690.5,723.8L694,723.5L697.5,723.2L701,722.1L704.5,722.1L708,721.7L711.5,721.1L715,720.6L718.5,718.8L718.5,718.1L715,717.6L711.5,718.3L708,719L704.5,719.6L701,720.8L697.5,720.8L694,721.6L690.5,722.4L687,723.3L683.5,723.8ZM725.5,718.7L729,717.6L732.5,717.4L736,717.2L739.5,717.2L743,717.1L746.5,717L750,716.9L753.5,716.7L757,716.5L760.5,716.3L764,716L767.5,715.7L771,715.4L774.5,714.4L774.5,714L771,713.6L767.5,714L764,714.4L760.5,714.7L757,715L753.5,715.3L750,715.5L746.5,715.6L743,715.8L739.5,715.8L736,715.9L732.5,716.1L729,716.4L725.5,716.2ZM785,713.4L788.5,712.9L792,712.5L792,712.2L788.5,712.6L785,712.8ZM802.5,711.5L806,711.4L809.5,711.3L813,711.8L816.5,711.8L820,711.6L823.5,711.5L823.5,708.6L820,708.7L816.5,708.9L813,709.3L809.5,710.2L806,710.7L802.5,711.2ZM844.5,711L848,711.4L851.5,711.4L855,711.3L858.5,711.3L862,711.3L865.5,711.3L869,711.2L872.5,711.2L876,711.2L879.5,711.2L883,711.2L886.5,711.1L890,711.1L893.5,711.1L897,710.5L897,708.5L893.5,707.9L890,707.9L886.5,707.9L883,708L879.5,708L876,708L872.5,708.1L869,708.1L865.5,708.2L862,708.2L858.5,708.3L855,708.3L851.5,708.4L848,708.4L844.5,708.8ZM942.5,710.2L946,711.1L949.5,711.1L953,711.1L956.5,711.9L960,711.9L963.5,712L967,710.9L970.5,710.6L974,710.7L974,710L970.5,710L967,709.5L963.5,708.4L960,708.4L956.5,708.3L953,709L949.5,708.9L946,708.8L942.5,709.5ZM1012.5,717.5L1016,717.6L1019.5,717.6L1023,717.7L1026.5,717.7L1030,717.7L1033.5,717.7L1037,717.8L1040.5,717.8L1044,717.8L1047.5,717.8L1051,716.5L1054.5,716.6L1058,717.1L1061.5,717.7L1065,717.7L1068.5,717.7L1072,717.6L1075.5,717.6L1079,717.6L1082.5,717.5L1086,717.5L1089.5,717.5L1093,717.4L1096.5,717.4L1100,717.3L1103.5,717.3L1107,717.2L1110.5,716.9L1114,715.8L1117.5,714.5L1117.5,713.8L1114,712.6L1110.5,711.7L1107,711.4L1103.5,711.5L1100,711.6L1096.5,711.6L1093,711.7L1089.5,711.7L1086,711.8L1082.5,711.8L1079,711.9L1075.5,711.9L1072,712L1068.5,712L1065,712L1061.5,712.1L1058,712.7L1054.5,713.3L1051,713.4L1047.5,712.1L1044,712.2L1040.5,712.2L1037,712.2L1033.5,712.1L1030,712.1L1026.5,712.1L1023,712.1L1019.5,712L1016,712L1012.5,712ZM1138.5,713.9L1142,714.1L1145.5,716.4L1149,716.4L1152.5,716.3L1156,716.2L1159.5,716.1L1163,716L1166.5,715.9L1170,714.5L1173.5,714.3L1177,714.7L1180.5,714.6L1184,714.5L1187.5,712.7L1187.5,711.9L1184,710.3L1180.5,710.5L1177,710.6L1173.5,711.2L1170,711.3L1166.5,710.1L1163,710.2L1159.5,710.3L1156,710.4L1152.5,710.5L1149,710.6L1145.5,710.8L1142,713.3L1138.5,713.6ZM1222.5,712.2L1226,714L1229.5,713.9L1233,713.7L1236.5,712.6L1240,712.3L1243.5,712.9L1247,713.5L1250.5,713.4L1254,713.3L1257.5,713.2L1261,713.2L1264.5,713.1L1268,711.7L1268,708.6L1264.5,707.3L1261,707.3L1257.5,707.4L1254,707.4L1250.5,707.5L1247,707.6L1243.5,708.3L1240,709.1L1236.5,709L1233,708L1229.5,708L1226,708.1L1222.5,710.1ZM1303,710.4L1306.5,712.7L1310,712.6L1313.5,712.6L1317,712.5L1320.5,712.5L1324,712.5L1327.5,712.4L1331,710.4L1331,708.9L1327.5,706.8L1324,706.7L1320.5,706.7L1317,706.7L1313.5,706.7L1310,706.7L1306.5,706.8L1303,709.2ZM1450,714.6L1453.5,715.3L1457,715.4L1460.5,715.5L1464,715.6L1467.5,715.7L1471,715.7L1474.5,715.8L1478,715.9L1481.5,715.3L1481.5,712L1478,711.3L1474.5,711.2L1471,711.2L1467.5,711.1L1464,711L1460.5,710.9L1457,710.8L1453.5,710.6L1450,711.1ZM1523.5,716.1L1527,716.7L1530.5,716.7L1534,716L1537.5,715.1L1537.5,714.1L1534,713L1530.5,712.2L1527,712.1L1523.5,712.5ZM1558.5,715.3L1562,715.8L1565.5,715.2L1565.5,714.6L1562,714L1558.5,714.4ZM1607.5,715.5L1611,716.7L1614.5,717L1618,717L1621.5,717.1L1625,717.1L1628.5,717.1L1632,717.1L1635.5,717.1L1639,717.1L1642.5,717.1L1646,717.1L1649.5,717.1L1653,717.1L1656.5,717.1L1660,717.1L1663.5,717.1L1667,717.1L1670.5,717L1674,717L1677.5,716.9L1681,716.8L1684.5,716.7L1688,716.7L1691.5,716.6L1695,716.5L1698.5,716.1L1698.5,712.8L1695,712.5L1691.5,712.5L1688,712.6L1684.5,712.6L1681,712.7L1677.5,712.7L1674,712.8L1670.5,712.8L1667,712.9L1663.5,712.9L1660,712.9L1656.5,712.9L1653,712.9L1649.5,712.9L1646,712.9L1642.5,712.9L1639,712.8L1635.5,712.8L1632,712.8L1628.5,712.7L1625,712.7L1621.5,712.7L1618,712.6L1614.5,712.6L1611,712.9L1607.5,714.1ZM1754.5,715.5L1758,715.9L1761.5,716.1L1765,716.2L1768.5,716.3L1772,715.7L1775.5,715.4L1775.5,714.9L1772,714.3L1768.5,713.4L1765,713.2L1761.5,713L1758,712.8L1754.5,712.9ZM1793,715.5L1796.5,716.4L1800,716.3L1803.5,716.2L1807,716.1L1810.5,716.1L1814,715.7L1817.5,715.4L1821,714.8L1824.5,715L1828,714L1831.5,713.9L1835,713.3L1838.5,712.9L1842,712.7L1845.5,712.7L1849,712.6L1852.5,712.5L1856,712.4L1859.5,712.2L1863,712L1866.5,711.8L1870,711.7L1873.5,711.6L1873.5,711.4L1870,711.4L1866.5,711.4L1863,711.3L1859.5,711.2L1856,711.2L1852.5,711.1L1849,711L1845.5,711L1842,711L1838.5,711L1835,711.1L1831.5,711.3L1828,712.2L1824.5,712.4L1821,713.5L1817.5,713.9L1814,714.4L1810.5,714.4L1807,714.4L1803.5,714.4L1800,714.3L1796.5,714.3L1793,715.2ZM722,718.7L725.5,720L729,718.4L732.5,718.2L736,718L739.5,718L743,718L746.5,718L750,717.9L753.5,717.8L757,717.6L760.5,717.5L764,717.3L767.5,717.2L771,717L774.5,716.8L778,716.6L781.5,716.4L785,716.2L788.5,715.9L792,715L795.5,714.7L799,714.9L802.5,714.6L806,714L809.5,714.6L813,714.8L816.5,714.7L820,714.7L823.5,714.6L827,714.6L830.5,714.6L834,714.6L837.5,714.6L841,714.6L844.5,714.6L848,714.6L851.5,714.6L855,714.6L858.5,714.6L862,714.6L865.5,714.6L869,714.6L872.5,714.6L876,714.6L879.5,714.6L883,714.6L886.5,714.5L886.5,711.3L883,711.4L879.5,711.4L876,711.4L872.5,711.5L869,711.5L865.5,711.5L862,711.6L858.5,711.6L855,711.6L851.5,711.6L848,711.6L844.5,711.7L841,711.7L837.5,711.7L834,711.7L830.5,711.7L827,711.7L823.5,711.7L820,711.8L816.5,711.9L813,712L809.5,712.6L806,713.5L802.5,713.3L799,713.4L795.5,714L792,714.2L788.5,713.7L785,714L781.5,714.3L778,714.6L774.5,714.9L771,715.2L767.5,715.4L764,715.7L760.5,715.9L757,716.2L753.5,716.3L750,716.5L746.5,716.6L743,716.7L739.5,716.7L736,716.7L732.5,716.9L729,717.2L725.5,716.2L722,718.4ZM918,713.4L921.5,714L925,714.5L928.5,714.5L932,714.5L935.5,714.5L939,714.5L942.5,714.6L946,714.6L949.5,714.6L953,714.6L956.5,714.7L960,714.7L963.5,714.7L967,714.7L970.5,714.5L974,713L977.5,713L981,713.7L984.5,713.5L984.5,712.3L981,712.1L977.5,712.8L974,712.8L970.5,711.3L967,711.1L963.5,711.1L960,711.1L956.5,711.1L953,711.1L949.5,711.1L946,711.1L942.5,711.1L939,711.1L935.5,711.1L932,711.1L928.5,711.1L925,711.1L921.5,711.5L918,712.2ZM1009,717.5L1012.5,720.4L1016,720.4L1019.5,720.3L1023,720.3L1026.5,720.2L1030,720.2L1033.5,720.1L1037,720.1L1040.5,720L1044,720L1047.5,719.9L1051,719.8L1054.5,719.8L1058,719.7L1061.5,719.6L1065,719.6L1068.5,719.5L1072,719.4L1075.5,719.4L1079,719.3L1082.5,719.2L1086,719.2L1089.5,719.1L1093,719L1096.5,719L1100,718.9L1103.5,718.8L1107,718.8L1107,713L1103.5,713.1L1100,713.1L1096.5,713.2L1093,713.3L1089.5,713.3L1086,713.4L1082.5,713.5L1079,713.6L1075.5,713.7L1072,713.7L1068.5,713.8L1065,713.9L1061.5,714L1058,714L1054.5,714.1L1051,714.2L1047.5,714.3L1044,714.3L1040.5,714.4L1037,714.5L1033.5,714.5L1030,714.6L1026.5,714.6L1023,714.7L1019.5,714.7L1016,714.8L1012.5,714.8L1009,717.2ZM1177,716.3L1180.5,717.5L1184,717.4L1187.5,716L1187.5,712.9L1184,711.6L1180.5,711.7L1177,712.9ZM1226,715.7L1229.5,716.6L1233,716.5L1236.5,716.5L1240,716.4L1243.5,716.4L1247,716.3L1250.5,716.3L1254,716.2L1257.5,716.2L1261,716.2L1264.5,716.2L1268,716.1L1271.5,716.1L1275,716.1L1278.5,716.1L1282,716.1L1285.5,716.1L1289,716L1292.5,716L1296,716L1299.5,715.9L1303,715.9L1306.5,715.8L1310,715.7L1313.5,715.7L1317,715.6L1320.5,715.6L1324,715.5L1327.5,715.5L1331,715.4L1334.5,715.4L1338,715.3L1341.5,715.3L1345,715.3L1348.5,715.2L1352,714.2L1355.5,712.8L1355.5,712.4L1352,711L1348.5,709.9L1345,709.9L1341.5,709.8L1338,709.8L1334.5,709.8L1331,709.8L1327.5,709.7L1324,709.7L1320.5,709.8L1317,709.8L1313.5,709.8L1310,709.9L1306.5,709.9L1303,710L1299.5,710L1296,710.1L1292.5,710.1L1289,710.2L1285.5,710.2L1282,710.2L1278.5,710.2L1275,710.2L1271.5,710.2L1268,710.3L1264.5,710.3L1261,710.3L1257.5,710.3L1254,710.4L1250.5,710.4L1247,710.4L1243.5,710.5L1240,710.5L1236.5,710.6L1233,710.6L1229.5,710.7L1226,711.7ZM1401,714.3L1404.5,714.6L1408,714.6L1411.5,713.4L1411.5,713.2L1408,711.8L1404.5,711.7L1401,711.8ZM1418.5,714L1422,715.8L1425.5,714.5L1425.5,712.8L1422,711.3L1418.5,712.9ZM1443,715.4L1446.5,716.5L1450,716.6L1453.5,716.7L1457,716.8L1460.5,716.8L1464,716.9L1467.5,717L1471,717L1474.5,717.1L1478,717.2L1481.5,717.2L1485,717.3L1488.5,717.3L1492,717.2L1495.5,717.4L1499,717.5L1502.5,717.5L1506,717.6L1509.5,717.7L1513,717.8L1516.5,717.8L1520,717.9L1523.5,718L1527,718.1L1530.5,718.2L1534,718.4L1537.5,718.5L1541,718.6L1544.5,718.7L1548,718.8L1551.5,718.9L1555,719L1558.5,719L1562,719.1L1565.5,719.2L1569,719.3L1572.5,719.3L1576,719.4L1579.5,719.4L1583,719.5L1586.5,719.5L1590,719.5L1593.5,719.6L1597,719.2L1600.5,719.7L1604,719.8L1607.5,719.8L1611,719.9L1614.5,720L1618,720L1621.5,720.1L1625,720.2L1628.5,720.3L1632,720.3L1635.5,720.4L1639,720.5L1642.5,720.6L1646,720.6L1649.5,720.7L1653,720.7L1656.5,720.8L1660,720.8L1663.5,720.8L1667,720.9L1670.5,720.9L1674,720.9L1677.5,720.9L1681,720.8L1684.5,720.8L1688,720.7L1691.5,720.6L1695,720.5L1698.5,720.5L1702,720.4L1705.5,720.3L1709,720.1L1712.5,720L1716,719.8L1719.5,719.9L1723,719.8L1726.5,719.7L1730,719.6L1733.5,719.6L1737,719.5L1740.5,719.5L1744,719.5L1747.5,719.5L1751,719.4L1754.5,719.4L1758,719.4L1761.5,719.3L1765,719.3L1768.5,719.2L1772,719.2L1775.5,719.2L1779,719.2L1782.5,719.1L1786,719.1L1789.5,719L1793,718.8L1796.5,718.3L1800,717.5L1803.5,717.1L1803.5,716.9L1800,716.8L1796.5,716.4L1793,716.5L1789.5,716.6L1786,716.6L1782.5,716.6L1779,716.6L1775.5,716.6L1772,716.5L1768.5,716.4L1765,716.3L1761.5,716.3L1758,716.2L1754.5,716.1L1751,716L1747.5,716L1744,716L1740.5,716L1737,716L1733.5,716L1730,716L1726.5,716.1L1723,716.1L1719.5,716.2L1716,716.4L1712.5,716.3L1709,716.3L1705.5,716.4L1702,716.4L1698.5,716.5L1695,716.5L1691.5,716.6L1688,716.6L1684.5,716.7L1681,716.7L1677.5,716.7L1674,716.7L1670.5,716.7L1667,716.7L1663.5,716.7L1660,716.6L1656.5,716.6L1653,716.5L1649.5,716.4L1646,716.4L1642.5,716.3L1639,716.2L1635.5,716.1L1632,716L1628.5,715.9L1625,715.8L1621.5,715.7L1618,715.6L1614.5,715.5L1611,715.4L1607.5,715.4L1604,715.3L1600.5,715.2L1597,715.5L1593.5,715L1590,715L1586.5,714.9L1583,714.9L1579.5,714.9L1576,714.8L1572.5,714.8L1569,714.7L1565.5,714.7L1562,714.6L1558.5,714.5L1555,714.4L1551.5,714.3L1548,714.2L1544.5,714.1L1541,714L1537.5,713.9L1534,713.8L1530.5,713.7L1527,713.6L1523.5,713.5L1520,713.4L1516.5,713.3L1513,713.2L1509.5,713.1L1506,713L1502.5,713L1499,712.9L1495.5,712.8L1492,713L1488.5,712.8L1485,712.7L1481.5,712.7L1478,712.6L1474.5,712.5L1471,712.5L1467.5,712.4L1464,712.3L1460.5,712.2L1457,712.1L1453.5,712L1450,711.9L1446.5,711.8L1443,712.8ZM1821,715.6L1824.5,715.3L1828,714.1L1828,713.8L1824.5,714L1821,715.1ZM1859.5,712.2L1863,712.1L1866.5,711.9L1870,711.7L1873.5,711.7L1873.5,711.4L1870,711.5L1866.5,711.5L1863,711.4L1859.5,711.6ZM722,719.3L725.5,718.7L729,718.2L732.5,718L736,718.1L736,717.2L732.5,717.6L729,717.9L725.5,718.1L722,718.4ZM767.5,716.6L771,717.1L774.5,717L778,716.8L781.5,716.6L785,716.3L788.5,715.2L788.5,714.9L785,714.3L781.5,714.5L778,714.8L774.5,715.1L771,715.5L767.5,716.4ZM816.5,714.1L820,715L823.5,715L827,715L830.5,715L834,715L837.5,715.1L841,715.1L844.5,715.1L848,715.2L851.5,715.2L855,715.2L858.5,713.9L858.5,713.6L855,712.2L851.5,712.2L848,712.2L844.5,712.2L841,712.2L837.5,712.1L834,712.1L830.5,712.1L827,712L823.5,712.1L820,712.1L816.5,713.2ZM869,714.3L872.5,714.9L876,714.7L879.5,714.5L879.5,713.3L876,713L872.5,712.8L869,713.3ZM981,715.2L984.5,716.5L988,716.9L991.5,717L995,717.1L995,714.7L991.5,713.3L988,713.2L984.5,713.7L981,714.9ZM1019.5,722L1023,723.7L1026.5,723.6L1030,723.6L1033.5,723.5L1037,723.3L1040.5,723.4L1044,723.3L1047.5,723.2L1051,723.2L1054.5,723.1L1058,723L1061.5,722.9L1065,722.8L1068.5,722.7L1072,722.6L1075.5,722.5L1079,722.4L1082.5,722.3L1086,722.2L1089.5,722.1L1093,722L1096.5,721.9L1100,721.9L1103.5,721.8L1103.5,716L1100,716.1L1096.5,716.2L1093,716.3L1089.5,716.4L1086,716.5L1082.5,716.6L1079,716.7L1075.5,716.8L1072,716.9L1068.5,717L1065,717.1L1061.5,717.2L1058,717.3L1054.5,717.4L1051,717.5L1047.5,717.6L1044,717.7L1040.5,717.8L1037,718L1033.5,717.9L1030,718L1026.5,718L1023,718.1L1019.5,719.9ZM1180.5,717.5L1184,719.6L1187.5,718.9L1191,718.1L1194.5,717.8L1198,717.3L1198,716.4L1194.5,716L1191,715.8L1187.5,715.1L1184,714.6L1180.5,716.8ZM1226,717.9L1229.5,719.5L1233,719.5L1236.5,719.5L1240,719.5L1243.5,719.5L1247,719.6L1250.5,719.6L1254,719.6L1257.5,719.6L1261,719.7L1264.5,719.7L1268,719.8L1271.5,719.8L1275,719.9L1278.5,719.9L1282,720L1285.5,720.1L1289,720.1L1292.5,720.2L1296,720.2L1299.5,720.2L1303,720.3L1306.5,720.3L1310,720.3L1313.5,720.3L1317,720.3L1320.5,720.3L1324,720.3L1327.5,718.8L1327.5,716L1324,714.5L1320.5,714.5L1317,714.5L1313.5,714.4L1310,714.4L1306.5,714.4L1303,714.4L1299.5,714.4L1296,714.3L1292.5,714.3L1289,714.3L1285.5,714.2L1282,714.1L1278.5,714.1L1275,714L1271.5,713.9L1268,713.9L1264.5,713.8L1261,713.8L1257.5,713.8L1254,713.7L1250.5,713.7L1247,713.7L1243.5,713.7L1240,713.7L1236.5,713.6L1233,713.6L1229.5,713.7L1226,715.3ZM1387,717.8L1390.5,719.5L1394,720.2L1397.5,720.3L1401,720.3L1404.5,720.4L1408,720.4L1411.5,720.5L1415,720.5L1418.5,719.6L1422,718.3L1425.5,718.7L1429,718.7L1429,717.9L1425.5,717.9L1422,718.1L1418.5,716.7L1415,715.7L1411.5,715.6L1408,715.6L1404.5,715.5L1401,715.4L1397.5,715.4L1394,715.3L1390.5,715.9L1387,717.5ZM1443,720.2L1446.5,720.9L1450,720.4L1453.5,720L1457,720.1L1460.5,720.9L1464,720.9L1467.5,720.9L1471,720.9L1474.5,720.9L1478,720.9L1481.5,720.8L1485,720.8L1488.5,720.8L1492,720.7L1495.5,720.7L1499,720.7L1502.5,720.6L1506,720.6L1509.5,720.6L1513,720.6L1516.5,720.6L1520,720.6L1523.5,720.6L1527,720.6L1530.5,720.6L1534,720.6L1537.5,720.6L1541,720.6L1544.5,720.6L1548,719.3L1551.5,719.3L1555,719.9L1558.5,720.6L1562,720.6L1565.5,720.6L1569,719.7L1572.5,719.5L1576,720L1579.5,720.4L1583,720.4L1586.5,720.3L1590,720.3L1593.5,720.2L1597,720.2L1600.5,720.2L1604,720.2L1607.5,720.2L1611,720L1614.5,720.2L1618,720.2L1621.5,720.2L1625,720.3L1628.5,720.3L1632,718.9L1635.5,719.2L1639,719.6L1642.5,718.4L1642.5,718.2L1639,717L1635.5,717.2L1632,717.4L1628.5,716L1625,715.9L1621.5,715.9L1618,715.8L1614.5,715.8L1611,715.9L1607.5,715.7L1604,715.7L1600.5,715.7L1597,715.7L1593.5,715.7L1590,715.7L1586.5,715.8L1583,715.8L1579.5,715.9L1576,716.4L1572.5,716.9L1569,716.8L1565.5,716L1562,716L1558.5,716L1555,716.8L1551.5,717.4L1548,717.3L1544.5,716.1L1541,716L1537.5,716L1534,716L1530.5,716L1527,716L1523.5,716L1520,716L1516.5,716L1513,716L1509.5,716L1506,716.1L1502.5,716.1L1499,716.1L1495.5,716.1L1492,716.2L1488.5,716.2L1485,716.2L1481.5,716.3L1478,716.3L1474.5,716.3L1471,716.3L1467.5,716.3L1464,716.3L1460.5,716.3L1457,717.1L1453.5,717.1L1450,716.6L1446.5,716.2L1443,716.8ZM1667,719.7L1670.5,720.6L1674,720.7L1677.5,720.7L1681,720.6L1684.5,720.6L1688,718.9L1691.5,720.5L1695,720.5L1698.5,720.4L1702,720.3L1705.5,720.3L1709,720.2L1712.5,719.7L1716,718.5L1719.5,719.7L1723,720L1726.5,720L1730,720L1733.5,720L1737,720L1740.5,720L1744,720L1747.5,720.1L1751,720.1L1754.5,720.1L1758,720.1L1761.5,720.1L1765,720.1L1768.5,720L1772,719.2L1772,718.2L1768.5,717.2L1765,717.1L1761.5,717L1758,716.9L1754.5,716.8L1751,716.7L1747.5,716.6L1744,716.5L1740.5,716.5L1737,716.4L1733.5,716.4L1730,716.4L1726.5,716.3L1723,716.3L1719.5,716.7L1716,717.9L1712.5,716.8L1709,716.4L1705.5,716.4L1702,716.4L1698.5,716.4L1695,716.5L1691.5,716.5L1688,718.1L1684.5,716.5L1681,716.5L1677.5,716.5L1674,716.5L1670.5,716.6L1667,717.5ZM1803.5,718L1807,718.6L1810.5,718.5L1814,718.1L1817.5,717.5L1821,716.8L1824.5,716.2L1824.5,714.5L1821,715.4L1817.5,716.1L1814,716.5L1810.5,716.8L1807,716.9L1803.5,717.7ZM1866.5,712L1870,711.8L1873.5,711.7L1873.5,711.4L1870,711.5L1866.5,711.6ZM683.5,724.1L687,724.3L690.5,724.5L694,724.4L697.5,724.5L701,724.1L704.5,723.4L708,722.5L711.5,722.7L715,722.3L718.5,722L722,721.7L725.5,721.4L729,719.9L732.5,719.7L736,719.5L739.5,719.5L743,719.1L746.5,719L750,719.1L753.5,718.7L753.5,718.4L750,718.2L746.5,718.4L743,718.5L739.5,718.2L736,718.2L732.5,718.4L729,718.6L725.5,717.6L722,718.1L718.5,718.7L715,719.2L711.5,719.8L708,721.1L704.5,721.2L701,721.6L697.5,722.1L694,722.8L690.5,723.1L687,723.6L683.5,723.9ZM795.5,717L799,717.3L802.5,717.1L806,717L809.5,716.9L813,716.7L816.5,716.6L820,716.5L823.5,716.4L827,716.4L830.5,716.4L834,716.3L837.5,716.3L841,716.3L844.5,716.3L848,716.2L851.5,715.4L851.5,714L848,713.3L844.5,713.3L841,713.3L837.5,713.4L834,713.4L830.5,713.4L827,713.5L823.5,713.5L820,713.6L816.5,713.8L813,713.9L809.5,714.1L806,714.3L802.5,714.5L799,714.8L795.5,715.5ZM911,714.9L914.5,715.6L918,716.2L921.5,716.3L925,716.3L928.5,716.4L932,716.4L935.5,716.5L939,716.6L942.5,716.7L946,716.7L949.5,716.8L949.5,713.4L946,713.3L942.5,713.2L939,713.2L935.5,713.1L932,713L928.5,713L925,713L921.5,712.9L918,712.9L914.5,713.5L911,714.2ZM974,715.8L977.5,716.9L981,717.5L984.5,717.6L988,717.8L991.5,718L995,719L998.5,720.8L1002,722.7L1005.5,724.4L1009,725.5L1012.5,723.2L1012.5,722.9L1009,719.9L1005.5,718.9L1002,717.6L998.5,716.2L995,715L991.5,714.3L988,714.1L984.5,714.2L981,714.2L977.5,714.7L974,715.6ZM1044,723.9L1047.5,724.4L1051,725.1L1054.5,725.8L1058,726.2L1061.5,726.6L1065,726.6L1068.5,726.6L1072,726.7L1075.5,726.7L1079,726.7L1082.5,726.7L1086,726.7L1089.5,726.7L1093,726.7L1096.5,726.7L1100,726.7L1103.5,726.7L1107,726.3L1107,721.3L1103.5,720.9L1100,720.9L1096.5,721L1093,721L1089.5,721L1086,721L1082.5,721L1079,721L1075.5,721L1072,721L1068.5,721L1065,721L1061.5,720.9L1058,721.3L1054.5,721.6L1051,722.3L1047.5,722.8L1044,723.3ZM1229.5,721.3L1233,722.8L1236.5,723.6L1240,723.5L1243.5,723.4L1247,723.3L1250.5,723.2L1254,723.1L1257.5,723L1261,722.9L1264.5,722.9L1268,722.8L1271.5,722.7L1275,722.7L1278.5,722.6L1282,722.6L1285.5,722.5L1289,722.5L1292.5,722.4L1296,722.3L1299.5,722.3L1303,722.2L1306.5,722.1L1310,722L1313.5,721.9L1317,721.8L1320.5,721.7L1324,721.6L1327.5,721.5L1331,721L1334.5,719.5L1338,719.2L1338,717.7L1334.5,717.5L1331,716.1L1327.5,715.8L1324,715.9L1320.5,715.9L1317,716L1313.5,716.1L1310,716.2L1306.5,716.2L1303,716.3L1299.5,716.4L1296,716.5L1292.5,716.5L1289,716.6L1285.5,716.7L1282,716.7L1278.5,716.8L1275,716.8L1271.5,716.9L1268,716.9L1264.5,717L1261,717.1L1257.5,717.2L1254,717.2L1250.5,717.3L1247,717.4L1243.5,717.5L1240,717.6L1236.5,717.7L1233,718.8L1229.5,720.4ZM1348.5,718.4L1352,719.2L1355.5,720L1359,720.6L1362.5,720.6L1366,720.6L1369.5,720.5L1373,720.6L1376.5,720.6L1380,720.6L1383.5,720.7L1387,720.8L1390.5,720.8L1394,720.9L1397.5,721L1401,721.1L1404.5,721.2L1408,721.3L1411.5,721.3L1415,721.4L1418.5,721.5L1422,721.6L1425.5,721.7L1429,721.8L1432.5,720L1432.5,719.1L1429,717.1L1425.5,717L1422,716.9L1418.5,716.7L1415,716.6L1411.5,716.5L1408,716.4L1404.5,716.3L1401,716.2L1397.5,716.1L1394,716L1390.5,715.9L1387,715.9L1383.5,715.8L1380,715.7L1376.5,715.7L1373,715.6L1369.5,715.6L1366,715.6L1362.5,715.6L1359,715.6L1355.5,716.3L1352,717.2L1348.5,718.1ZM1439.5,720.3L1443,722.2L1446.5,722.3L1450,721.8L1453.5,721.6L1457,721.5L1460.5,721.8L1464,722.1L1467.5,722.8L1471,722.9L1474.5,723L1478,723L1481.5,723.1L1485,723.2L1488.5,723.2L1492,723.3L1495.5,723.3L1499,723.4L1502.5,723.4L1506,723.5L1509.5,723.6L1513,723.6L1516.5,722L1516.5,720.8L1513,719.1L1509.5,719L1506,718.9L1502.5,718.9L1499,718.8L1495.5,718.7L1492,718.7L1488.5,718.7L1485,718.6L1481.5,718.5L1478,718.5L1474.5,718.4L1471,718.3L1467.5,718.2L1464,718.8L1460.5,718.9L1457,719L1453.5,718.8L1450,718.4L1446.5,717.6L1443,717.5L1439.5,719.2ZM1548,723.7L1551.5,724.4L1555,724.5L1558.5,724.5L1562,724.5L1565.5,724.5L1569,724.6L1572.5,723.5L1572.5,721.1L1569,720L1565.5,720L1562,720L1558.5,720L1555,719.9L1551.5,719.9L1548,720.4ZM1579.5,722.4L1583,723.3L1586.5,724.3L1590,724.4L1593.5,724.1L1597,723.7L1600.5,724.2L1604,724.3L1607.5,724.3L1611,724.3L1614.5,724.3L1618,724.2L1621.5,724.2L1625,724.2L1628.5,724.2L1632,724.2L1635.5,724.1L1639,724.1L1642.5,724.1L1646,724.1L1649.5,724L1649.5,719.8L1646,719.8L1642.5,719.8L1639,719.8L1635.5,719.8L1632,719.8L1628.5,719.8L1625,719.8L1621.5,719.8L1618,719.8L1614.5,719.8L1611,719.8L1607.5,719.8L1604,719.8L1600.5,720L1597,720.6L1593.5,720.1L1590,719.9L1586.5,720.1L1583,721.1L1579.5,722.1ZM1670.5,723L1674,723.7L1677.5,723.6L1681,723.3L1684.5,722.1L1684.5,720.6L1681,719.6L1677.5,719.5L1674,719.5L1670.5,720.4ZM1723,720L1726.5,721.3L1730,721.5L1733.5,721.5L1737,721.4L1740.5,721.4L1744,721.3L1747.5,721.3L1751,721.2L1754.5,721.1L1758,721.1L1761.5,721L1765,720.9L1768.5,720.4L1772,719.6L1772,719.1L1768.5,718.4L1765,717.9L1761.5,717.9L1758,717.9L1754.5,717.8L1751,717.8L1747.5,717.8L1744,717.8L1740.5,717.8L1737,717.8L1733.5,717.9L1730,717.9L1726.5,718.3L1723,719.8ZM1793,719.3L1796.5,719.4L1800,719.3L1803.5,719L1807,718.9L1810.5,718.8L1814,718.4L1817.5,717.8L1821,717L1824.5,717.4L1828,714.9L1831.5,714.1L1835,713.4L1838.5,713.2L1842,713.2L1845.5,712.8L1845.5,712.6L1842,712.3L1838.5,712.6L1835,713.2L1831.5,713.8L1828,714.5L1824.5,713.7L1821,715.7L1817.5,716.3L1814,716.8L1810.5,717.1L1807,717.2L1803.5,717.3L1800,717.5L1796.5,718L1793,718.8ZM1856,712.5L1859.5,712.3L1863,712.1L1863,711.9L1859.5,712.1L1856,712.2ZM683.5,724.1L687,724.3L690.5,724.6L694,724.7L697.5,724.6L701,724.2L704.5,722.9L704.5,722.1L701,721.7L697.5,722.2L694,722.8L690.5,723.2L687,723.6L683.5,723.9ZM715,722.2L718.5,721.8L722,721L725.5,720.9L729,719.8L729,719.3L725.5,718.7L722,719.3L718.5,719.3L715,719.8ZM746.5,719.2L750,719.5L753.5,719.3L757,719.3L760.5,719.5L764,719.4L767.5,719.3L771,719L771,717.6L767.5,717.6L764,717.7L760.5,717.9L757,718.3L753.5,718.5L750,718.5L746.5,718.9ZM816.5,717.3L820,717.8L823.5,717.3L823.5,715.3L820,714.9L816.5,715.6ZM911,717.7L914.5,718.4L918,718.4L921.5,718.5L925,718.5L928.5,718.6L932,718.7L935.5,718.8L939,718.9L942.5,719L946,719.1L949.5,719.2L953,719.3L956.5,718.8L956.5,716.4L953,715.8L949.5,715.7L946,715.6L942.5,715.5L939,715.5L935.5,715.4L932,715.3L928.5,715.2L925,715.2L921.5,715.1L918,715.1L914.5,715.1L911,715.7ZM963.5,718.7L967,719.7L970.5,719.8L974,719.6L977.5,718.4L977.5,718L974,716.6L970.5,716.2L967,716.1L963.5,717ZM1054.5,728L1058,729.3L1061.5,729.2L1065,728.9L1068.5,727.1L1068.5,726.8L1065,724.9L1061.5,724.6L1058,724.5L1054.5,725.8ZM1096.5,728.8L1100,729.3L1103.5,728.1L1103.5,725.7L1100,724.5L1096.5,725ZM1138.5,729.5L1142,729.5L1145.5,729.4L1149,729.4L1152.5,729.3L1156,729.2L1159.5,729.2L1163,728.8L1166.5,729L1170,729L1173.5,728.9L1177,728L1180.5,728.6L1184,728.6L1187.5,728.5L1191,728.5L1194.5,728.4L1198,727.2L1198,723.5L1194.5,722.5L1191,722.6L1187.5,722.7L1184,722.8L1180.5,723L1177,723.8L1173.5,723.1L1170,723.1L1166.5,723.2L1163,723.6L1159.5,723.4L1156,723.4L1152.5,723.5L1149,723.6L1145.5,723.6L1142,723.7L1138.5,723.7ZM1250.5,724.3L1254,726.1L1257.5,726L1261,725.8L1264.5,726.1L1268,726.5L1271.5,726.4L1275,726.3L1278.5,726.3L1282,725.8L1285.5,725.8L1289,726.1L1292.5,726L1296,725.9L1299.5,725.8L1303,725.4L1306.5,723.1L1306.5,722.2L1303,720.1L1299.5,719.9L1296,720L1292.5,720.1L1289,720.2L1285.5,720.6L1282,720.7L1278.5,720.4L1275,720.5L1271.5,720.5L1268,720.6L1264.5,721.1L1261,721.6L1257.5,721.5L1254,721.6L1250.5,723.6ZM1355.5,721.4L1359,722.3L1362.5,723L1366,722.9L1369.5,722.8L1373,722.8L1376.5,722.8L1380,722.8L1383.5,722.8L1387,722.8L1390.5,722.8L1394,722.9L1397.5,722.9L1401,722.9L1404.5,723L1408,723L1411.5,723.1L1415,723.1L1418.5,723.2L1422,723.2L1425.5,723.3L1429,723.4L1432.5,723.4L1436,723.5L1439.5,723.5L1443,723.6L1446.5,723.7L1450,723.7L1453.5,723.8L1457,723.9L1460.5,724L1464,724L1467.5,724.1L1471,724.2L1474.5,724.2L1478,724.3L1481.5,724.3L1485,724.4L1488.5,724.5L1492,724.5L1495.5,724.6L1499,724.6L1502.5,724.7L1506,724.8L1509.5,724.9L1513,723.9L1513,721.5L1509.5,720.3L1506,720.2L1502.5,720.2L1499,720.1L1495.5,720L1492,719.9L1488.5,719.9L1485,719.8L1481.5,719.8L1478,719.7L1474.5,719.6L1471,719.6L1467.5,719.5L1464,719.4L1460.5,719.3L1457,719.3L1453.5,719.2L1450,719.1L1446.5,719L1443,718.9L1439.5,718.8L1436,718.8L1432.5,718.7L1429,718.6L1425.5,718.5L1422,718.4L1418.5,718.4L1415,718.3L1411.5,718.2L1408,718.2L1404.5,718.1L1401,718.1L1397.5,718L1394,718L1390.5,717.9L1387,717.9L1383.5,717.9L1380,717.9L1376.5,717.9L1373,717.9L1369.5,717.9L1366,717.9L1362.5,718L1359,718.8L1355.5,720ZM1548,724.9L1551.5,725.3L1555,725.3L1558.5,724.7L1558.5,723.6L1555,722.8L1551.5,722.6L1548,722.8ZM1565.5,725.3L1569,726.7L1572.5,726.1L1576,725.3L1579.5,724.9L1579.5,724.3L1576,723.8L1572.5,722.9L1569,722.2L1565.5,723.4ZM1625,726.8L1628.5,727.4L1632,727.4L1635.5,727.4L1639,727.5L1642.5,727.5L1646,727.1L1649.5,725.6L1649.5,725.2L1646,723.6L1642.5,723.2L1639,723.2L1635.5,723.1L1632,723.1L1628.5,723L1625,723.5ZM1670.5,726.4L1674,727.5L1677.5,727.4L1681,727.3L1684.5,727.2L1688,727.1L1691.5,726.9L1695,726.7L1698.5,726.6L1702,726.4L1705.5,726.2L1709,726L1712.5,725.8L1716,725.5L1719.5,725.4L1723,725.2L1726.5,724.9L1730,724.1L1733.5,723.3L1733.5,722.8L1730,722.2L1726.5,721.6L1723,721.6L1719.5,721.7L1716,721.9L1712.5,722L1709,722.1L1705.5,722.3L1702,722.4L1698.5,722.6L1695,722.7L1691.5,722.9L1688,723L1684.5,723.1L1681,723.2L1677.5,723.3L1674,723.3L1670.5,724.4ZM1754.5,723.2L1758,723.9L1761.5,723L1761.5,721.2L1758,720.7L1754.5,721.8ZM1793,721.3L1796.5,721.3L1800,720.7L1803.5,720.3L1807,720L1810.5,719.9L1814,719.4L1817.5,718.7L1821,717.7L1824.5,718L1828,716.8L1831.5,715.7L1835,714.5L1838.5,713.8L1842,713.7L1845.5,713.1L1845.5,712.7L1842,712.2L1838.5,712.5L1835,712.8L1831.5,713.1L1828,713.7L1824.5,714.3L1821,716.4L1817.5,717.2L1814,717.8L1810.5,718.2L1807,718.3L1803.5,718.5L1800,718.8L1796.5,719.2L1793,720.1ZM1856,712.6L1859.5,712.5L1863,712.4L1866.5,712.1L1870,711.8L1873.5,711.7L1873.5,711.5L1870,711.6L1866.5,711.7L1863,711.8L1859.5,712.1L1856,712.4ZM683.5,724.2L687,724.5L690.5,724.9L694,725.2L697.5,725.2L701,724.9L704.5,724.4L708,724L711.5,723.7L715,723.4L718.5,723.2L722,723L725.5,722.8L729,721.3L732.5,721.2L736,721.1L739.5,721.1L743,721.1L746.5,721.1L750,721.1L753.5,721.1L757,721.1L760.5,721.1L764,721.1L767.5,721.1L771,721.1L774.5,721.1L778,720.8L781.5,721.1L785,721.1L788.5,721.1L792,721.1L795.5,721.1L799,721.1L802.5,721.1L806,721L809.5,721L813,721L816.5,721L820,721L823.5,721L827,721L830.5,721L834,721L837.5,721L841,721L844.5,721L848,721L851.5,721L855,721L858.5,721L862,721L865.5,721L869,721L872.5,721L876,721.1L879.5,721.1L883,721.1L886.5,721.1L890,721.1L893.5,721.1L897,721.1L900.5,721.1L904,721.1L907.5,721L911,721L914.5,721L918,721L921.5,721L925,720.9L928.5,721L932,721L935.5,721L939,721L942.5,721.1L946,721.1L949.5,721.2L953,720.7L956.5,720.2L960,720.1L963.5,720.1L967,720.7L970.5,721.4L974,721.5L977.5,721.5L981,721.5L984.5,721.5L988,721.5L991.5,721.6L995,722.9L998.5,725L1002,727.3L1005.5,729.2L1009,730.2L1012.5,730.4L1016,730.4L1019.5,730.4L1023,730.3L1026.5,730.3L1030,730.2L1033.5,730.2L1037,730.1L1040.5,730.1L1044,730.1L1047.5,730L1051,730L1054.5,729.9L1058,729.9L1061.5,729.9L1065,729.8L1068.5,729.8L1072,729.8L1075.5,729.7L1079,729.7L1082.5,729.7L1086,729.6L1089.5,729.6L1093,729.6L1096.5,729.6L1100,729.5L1103.5,729.5L1107,729.5L1110.5,729.5L1114,729.5L1117.5,729.5L1121,729.5L1124.5,729.5L1128,729.5L1131.5,729.5L1135,729.5L1138.5,729.4L1142,729.4L1145.5,729.4L1149,729.4L1152.5,729.4L1156,729.4L1159.5,729.4L1163,729.4L1166.5,729.4L1170,729.4L1173.5,729.4L1177,729.4L1180.5,729.4L1184,729.4L1187.5,729.4L1191,729.4L1194.5,729.4L1198,729.4L1201.5,729.4L1205,729.4L1208.5,729.4L1212,729.4L1215.5,729.4L1219,729.5L1222.5,729.5L1226,729.5L1229.5,729.5L1233,729.5L1236.5,729.5L1240,729.6L1243.5,729.6L1247,729.6L1250.5,729.6L1254,729.7L1257.5,729.7L1261,729.7L1264.5,729.8L1268,729.8L1271.5,729.9L1275,729.9L1278.5,730L1282,730L1285.5,730L1289,730.1L1292.5,730.1L1296,730.1L1299.5,730.1L1303,730.1L1306.5,730.1L1310,730.1L1313.5,730.1L1317,730L1320.5,729.9L1324,729.8L1327.5,729.7L1331,729.5L1334.5,729.3L1338,728.9L1341.5,728.9L1345,728.8L1348.5,728.6L1352,728.2L1355.5,728.2L1359,728.1L1362.5,727.9L1366,727.8L1369.5,727.7L1373,727.7L1376.5,727.7L1380,727.7L1383.5,727.8L1387,727.8L1390.5,727.8L1394,727.9L1397.5,727.9L1401,727.9L1404.5,728L1408,728L1411.5,728L1415,728.1L1418.5,728.1L1422,728.1L1425.5,728.2L1429,728.2L1432.5,728.2L1436,728.3L1439.5,728.3L1443,728.3L1446.5,728.3L1450,728.3L1453.5,728.4L1457,728.4L1460.5,728.4L1464,728.4L1467.5,728.4L1471,728.4L1474.5,728.4L1478,728.4L1481.5,728.4L1485,728.4L1488.5,728.4L1492,728.4L1495.5,728.4L1499,728.4L1502.5,728.4L1506,728.5L1509.5,728.5L1513,728.5L1516.5,728.6L1520,728.6L1523.5,728.7L1527,726.8L1527,726L1523.5,724.1L1520,724.1L1516.5,724L1513,724L1509.5,723.9L1506,723.9L1502.5,723.9L1499,723.9L1495.5,723.9L1492,723.9L1488.5,723.9L1485,723.9L1481.5,723.9L1478,723.9L1474.5,723.8L1471,723.8L1467.5,723.8L1464,723.8L1460.5,723.8L1457,723.7L1453.5,723.7L1450,723.7L1446.5,723.6L1443,723.6L1439.5,723.6L1436,723.5L1432.5,723.5L1429,723.4L1425.5,723.4L1422,723.4L1418.5,723.3L1415,723.3L1411.5,723.2L1408,723.2L1404.5,723.1L1401,723.1L1397.5,723L1394,723L1390.5,722.9L1387,722.9L1383.5,722.9L1380,722.8L1376.5,722.8L1373,722.8L1369.5,722.8L1366,722.8L1362.5,722.9L1359,723L1355.5,723.1L1352,723.3L1348.5,723.3L1345,723.4L1341.5,723.5L1338,723.9L1334.5,723.7L1331,723.8L1327.5,723.9L1324,724L1320.5,724.1L1317,724.2L1313.5,724.2L1310,724.2L1306.5,724.2L1303,724.3L1299.5,724.3L1296,724.2L1292.5,724.2L1289,724.2L1285.5,724.2L1282,724.2L1278.5,724.1L1275,724L1271.5,724L1268,723.9L1264.5,723.9L1261,723.9L1257.5,723.8L1254,723.8L1250.5,723.8L1247,723.7L1243.5,723.7L1240,723.7L1236.5,723.7L1233,723.7L1229.5,723.6L1226,723.6L1222.5,723.6L1219,723.6L1215.5,723.6L1212,723.6L1208.5,723.6L1205,723.6L1201.5,723.6L1198,723.6L1194.5,723.6L1191,723.6L1187.5,723.6L1184,723.6L1180.5,723.6L1177,723.6L1173.5,723.6L1170,723.6L1166.5,723.6L1163,723.6L1159.5,723.6L1156,723.6L1152.5,723.6L1149,723.6L1145.5,723.6L1142,723.7L1138.5,723.7L1135,723.7L1131.5,723.7L1128,723.7L1124.5,723.7L1121,723.7L1117.5,723.7L1114,723.7L1110.5,723.7L1107,723.7L1103.5,723.8L1100,723.8L1096.5,723.8L1093,723.8L1089.5,723.9L1086,723.9L1082.5,724L1079,724L1075.5,724L1072,724.1L1068.5,724.1L1065,724.2L1061.5,724.2L1058,724.3L1054.5,724.3L1051,724.3L1047.5,724.4L1044,724.4L1040.5,724.5L1037,724.5L1033.5,724.6L1030,724.6L1026.5,724.7L1023,724.7L1019.5,724.8L1016,724.8L1012.5,724.9L1009,724.6L1005.5,723.7L1002,722.2L998.5,720.4L995,718.8L991.5,717.9L988,717.8L984.5,717.8L981,717.8L977.5,717.9L974,717.8L970.5,717.9L967,718.6L963.5,719.1L960,719L956.5,718.8L953,718.2L949.5,717.7L946,717.7L942.5,717.6L939,717.6L935.5,717.6L932,717.6L928.5,717.6L925,717.6L921.5,717.6L918,717.6L914.5,717.7L911,717.7L907.5,717.7L904,717.8L900.5,717.8L897,717.8L893.5,717.8L890,717.8L886.5,717.9L883,717.9L879.5,717.9L876,717.9L872.5,717.9L869,717.9L865.5,717.9L862,718L858.5,718L855,718L851.5,718L848,718L844.5,718L841,718L837.5,718L834,718L830.5,718L827,718.1L823.5,718.1L820,718.1L816.5,718.2L813,718.2L809.5,718.3L806,718.4L802.5,718.5L799,718.5L795.5,718.6L792,718.7L788.5,718.8L785,718.9L781.5,719L778,719.5L774.5,719.2L771,719.3L767.5,719.4L764,719.5L760.5,719.6L757,719.6L753.5,719.7L750,719.7L746.5,719.8L743,719.8L739.5,719.8L736,719.8L732.5,719.9L729,720.1L725.5,719L722,719.4L718.5,719.8L715,720.3L711.5,720.8L708,721.3L704.5,721.9L701,722.4L697.5,722.8L694,723.2L690.5,723.6L687,723.8L683.5,723.9ZM1541,728.5L1544.5,728.9L1548,728.3L1551.5,728.1L1555,727.5L1555,726L1551.5,725.4L1548,725L1544.5,724.4L1541,724.7ZM1565.5,727.8L1569,729.1L1572.5,729.1L1576,729.1L1579.5,729.1L1583,729L1586.5,729L1590,729L1593.5,728.9L1597,728.9L1600.5,728.9L1604,728.8L1607.5,728.8L1611,728.8L1614.5,728.8L1618,728.7L1621.5,728.7L1625,728.7L1628.5,728.7L1632,728.6L1635.5,728.6L1639,728.6L1642.5,728.6L1646,728.6L1649.5,728.5L1653,728.5L1656.5,728.5L1660,728.4L1663.5,728.4L1667,728.4L1670.5,728.3L1674,728.3L1677.5,728.2L1681,728.1L1684.5,728L1688,727.8L1691.5,727.7L1695,727.5L1698.5,727.3L1702,727.1L1705.5,726.9L1709,726.6L1712.5,726.4L1716,726.2L1719.5,726.1L1723,725.9L1726.5,725.7L1730,725.6L1733.5,725.5L1737,725.4L1740.5,724.8L1744,723.8L1747.5,724.5L1751,725.1L1754.5,724.9L1758,724.6L1761.5,724.4L1765,724.1L1768.5,723.9L1772,723.7L1775.5,723.5L1779,723.4L1782.5,723.3L1786,723.2L1789.5,723L1793,722.6L1796.5,722L1800,721.4L1803.5,720.9L1807,720.6L1810.5,720.5L1814,720L1817.5,719.2L1821,718.3L1824.5,718.5L1828,717.2L1831.5,716L1835,715L1838.5,714.3L1842,714.1L1845.5,714L1849,713.8L1852.5,713.6L1856,713.3L1859.5,712.9L1863,712.5L1866.5,712.2L1870,711.9L1873.5,711.7L1873.5,711.5L1870,711.6L1866.5,711.7L1863,711.8L1859.5,712L1856,712.1L1852.5,712.2L1849,712.3L1845.5,712.3L1842,712.3L1838.5,712.5L1835,712.8L1831.5,713.4L1828,714L1824.5,714.8L1821,716.9L1817.5,717.7L1814,718.4L1810.5,718.8L1807,718.9L1803.5,719.1L1800,719.4L1796.5,719.9L1793,720.3L1789.5,720.6L1786,720.7L1782.5,720.8L1779,720.8L1775.5,720.9L1772,721L1768.5,721.1L1765,721.2L1761.5,721.3L1758,721.4L1754.5,721.6L1751,721.7L1747.5,722.5L1744,723.3L1740.5,722.5L1737,721.9L1733.5,721.9L1730,722L1726.5,722.1L1723,722.2L1719.5,722.4L1716,722.5L1712.5,722.7L1709,722.8L1705.5,723L1702,723.1L1698.5,723.3L1695,723.5L1691.5,723.6L1688,723.7L1684.5,723.9L1681,724L1677.5,724.1L1674,724.1L1670.5,724.2L1667,724.2L1663.5,724.2L1660,724.3L1656.5,724.3L1653,724.3L1649.5,724.3L1646,724.3L1642.5,724.3L1639,724.3L1635.5,724.3L1632,724.3L1628.5,724.3L1625,724.3L1621.5,724.3L1618,724.3L1614.5,724.3L1611,724.3L1607.5,724.3L1604,724.4L1600.5,724.4L1597,724.4L1593.5,724.4L1590,724.4L1586.5,724.4L1583,724.5L1579.5,724.5L1576,724.5L1572.5,724.5L1569,724.5L1565.5,725.8ZM683.5,724.2L687,724.5L690.5,724.9L694,725.2L697.5,725.3L701,724.9L704.5,724.5L708,724.1L711.5,723.7L715,723.4L718.5,723.2L722,723L725.5,722.8L729,721.3L732.5,721.2L736,721.1L739.5,721.1L743,721.1L746.5,721.1L750,721.1L753.5,721.1L757,721.1L760.5,721.1L764,721L767.5,721L771,721L774.5,721L778,721L781.5,721L785,721L788.5,721L792,721L795.5,721L799,721L802.5,721L806,721L809.5,721L813,721L816.5,721L820,721L823.5,721L827,721L830.5,721L834,721L837.5,721L841,721.1L844.5,721.1L848,721.1L851.5,721.2L855,721.2L858.5,721.3L862,721.3L865.5,721.4L869,721.4L872.5,721.5L876,721.5L879.5,721.6L883,721.6L886.5,721.7L890,721.7L893.5,721.8L897,721.8L900.5,721.9L904,721.9L907.5,721.9L911,722L914.5,722L918,722L921.5,722.1L925,722.1L928.5,722.2L932,721.4L935.5,722.3L939,722.5L942.5,722.6L946,722.7L949.5,722.8L953,722.9L956.5,723.1L960,723.2L963.5,723.3L967,723.4L970.5,723.5L974,723.6L977.5,723.7L981,723.8L984.5,723.9L988,723.9L991.5,724.1L995,725.7L998.5,728.2L1002,730.9L1005.5,733.2L1009,734.4L1012.5,734.7L1016,734.7L1019.5,734.8L1023,734.8L1026.5,734.9L1030,734.9L1033.5,735L1037,735L1040.5,735L1044,735.1L1047.5,735.1L1051,735.2L1054.5,735.2L1058,735.2L1061.5,735.3L1065,735.3L1068.5,735.4L1072,735.4L1075.5,735.4L1079,735.5L1082.5,735.5L1086,735.5L1089.5,735.6L1093,735.6L1096.5,735.6L1100,735.7L1103.5,735.7L1107,735.7L1110.5,735.7L1114,735.8L1117.5,735.8L1121,735.8L1124.5,735.8L1128,735.8L1131.5,735.8L1135,735.9L1138.5,735.9L1142,735.9L1145.5,735.9L1149,735.9L1152.5,735.9L1156,735.9L1159.5,735.9L1163,735.8L1166.5,735.8L1170,735.8L1173.5,735.8L1177,735.8L1180.5,735.8L1184,735.7L1187.5,735.7L1191,735.7L1194.5,735.7L1198,735.6L1201.5,735.6L1205,735.6L1208.5,735.6L1212,735.5L1215.5,735.5L1219,735.4L1222.5,735.4L1226,735.4L1229.5,735.3L1233,735.3L1236.5,735.3L1240,735.2L1243.5,735.2L1247,735.1L1250.5,735.1L1254,735L1257.5,735L1261,735L1264.5,734.9L1268,734.9L1271.5,734.8L1275,734.8L1278.5,734.8L1282,734.7L1285.5,734.7L1289,734.6L1292.5,734.6L1296,734.5L1299.5,734.4L1303,734.3L1306.5,734.2L1310,734.1L1313.5,734L1317,733.8L1320.5,733.6L1324,733.4L1327.5,733.1L1331,732.8L1334.5,732.5L1338,732.2L1341.5,731.9L1345,731.6L1348.5,731.3L1352,731L1355.5,730.7L1359,730.4L1362.5,730.2L1366,730L1369.5,729.8L1373,729.7L1376.5,729.6L1380,729.5L1383.5,729.5L1387,729.5L1390.5,729.4L1394,729.4L1397.5,729.4L1401,729.3L1404.5,729.3L1408,729.3L1411.5,729.2L1415,729.2L1418.5,729.2L1422,729.1L1425.5,729.1L1429,729.1L1432.5,729L1436,729L1439.5,729L1443,729L1446.5,728.9L1450,728.9L1453.5,728.9L1457,728.9L1460.5,728.8L1464,728.8L1467.5,728.8L1471,728.8L1474.5,728.7L1478,728.7L1481.5,728.7L1485,728.7L1488.5,728.6L1492,728.6L1495.5,728.6L1499,728.6L1502.5,728.6L1506,728.6L1509.5,728.6L1513,728.6L1516.5,728.7L1520,728.7L1523.5,728.7L1527,728.8L1530.5,728.8L1534,728.9L1537.5,728.9L1541,729L1544.5,729L1548,729.1L1551.5,729.1L1555,729.2L1558.5,729.2L1562,729.3L1565.5,729.3L1569,729.3L1572.5,729.3L1576,729.4L1579.5,729.4L1583,729.4L1586.5,729.4L1590,729.4L1593.5,729.4L1597,729.4L1600.5,729.4L1604,729.4L1607.5,729.4L1611,729.4L1614.5,729.4L1618,729.4L1621.5,729.5L1625,729.5L1628.5,729.5L1632,729.5L1635.5,729.5L1639,729.6L1642.5,729.6L1646,729.6L1649.5,729.6L1653,729.7L1656.5,729.7L1660,729.7L1663.5,729.7L1667,729.7L1670.5,729.8L1674,729.8L1677.5,729.7L1681,729.7L1684.5,729.6L1688,729.5L1691.5,729.3L1695,729.2L1698.5,729L1702,728.9L1705.5,728.7L1709,728.5L1712.5,728.3L1716,728.2L1719.5,728L1723,727.9L1726.5,727.7L1730,727.6L1733.5,727.6L1737,727.6L1740.5,727.6L1744,727.5L1747.5,727.4L1751,727.2L1754.5,727L1758,726.8L1761.5,726.5L1765,726.2L1768.5,725.9L1772,725.6L1775.5,725.4L1779,725.2L1782.5,725.1L1786,725.1L1789.5,724.9L1793,724.4L1796.5,723.7L1800,722.9L1803.5,722.3L1807,722L1810.5,721.9L1814,721.3L1817.5,720.5L1821,719.4L1824.5,719.5L1828,718L1831.5,716.7L1835,715.6L1838.5,714.8L1842,714.6L1845.5,714.5L1849,714.3L1852.5,714L1856,713.6L1859.5,713.2L1863,712.7L1866.5,712.3L1870,712L1873.5,711.8L1873.5,711.5L1870,711.7L1866.5,711.9L1863,712L1859.5,712.2L1856,712.4L1852.5,712.6L1849,712.7L1845.5,712.8L1842,712.8L1838.5,713L1835,713.4L1831.5,714.1L1828,714.9L1824.5,715.7L1821,718.1L1817.5,719L1814,719.7L1810.5,720.2L1807,720.3L1803.5,720.5L1800,721L1796.5,721.5L1793,722.1L1789.5,722.5L1786,722.6L1782.5,722.6L1779,722.7L1775.5,722.8L1772,722.9L1768.5,723.1L1765,723.2L1761.5,723.4L1758,723.6L1754.5,723.7L1751,723.8L1747.5,723.9L1744,724L1740.5,724L1737,724L1733.5,724L1730,724.1L1726.5,724.1L1723,724.2L1719.5,724.3L1716,724.4L1712.5,724.5L1709,724.7L1705.5,724.8L1702,724.9L1698.5,725.1L1695,725.2L1691.5,725.3L1688,725.4L1684.5,725.5L1681,725.5L1677.5,725.6L1674,725.6L1670.5,725.6L1667,725.6L1663.5,725.5L1660,725.5L1656.5,725.5L1653,725.4L1649.5,725.4L1646,725.4L1642.5,725.3L1639,725.3L1635.5,725.2L1632,725.2L1628.5,725.2L1625,725.1L1621.5,725.1L1618,725L1614.5,725L1611,725L1607.5,724.9L1604,724.9L1600.5,724.9L1597,724.9L1593.5,724.8L1590,724.8L1586.5,724.8L1583,724.8L1579.5,724.8L1576,724.8L1572.5,724.8L1569,724.8L1565.5,724.8L1562,724.7L1558.5,724.7L1555,724.6L1551.5,724.6L1548,724.5L1544.5,724.5L1541,724.4L1537.5,724.4L1534,724.3L1530.5,724.3L1527,724.2L1523.5,724.2L1520,724.1L1516.5,724.1L1513,724.1L1509.5,724.1L1506,724L1502.5,724L1499,724L1495.5,724L1492,724L1488.5,724.1L1485,724.1L1481.5,724.1L1478,724.1L1474.5,724.1L1471,724.2L1467.5,724.2L1464,724.2L1460.5,724.2L1457,724.2L1453.5,724.2L1450,724.2L1446.5,724.3L1443,724.3L1439.5,724.3L1436,724.3L1432.5,724.3L1429,724.3L1425.5,724.3L1422,724.3L1418.5,724.4L1415,724.4L1411.5,724.4L1408,724.4L1404.5,724.4L1401,724.5L1397.5,724.5L1394,724.5L1390.5,724.5L1387,724.6L1383.5,724.6L1380,724.6L1376.5,724.7L1373,724.7L1369.5,724.8L1366,725L1362.5,725.1L1359,725.3L1355.5,725.5L1352,725.7L1348.5,726L1345,726.2L1341.5,726.4L1338,726.7L1334.5,726.9L1331,727.2L1327.5,727.4L1324,727.6L1320.5,727.8L1317,728L1313.5,728.1L1310,728.3L1306.5,728.4L1303,728.5L1299.5,728.5L1296,728.6L1292.5,728.7L1289,728.8L1285.5,728.8L1282,728.9L1278.5,728.9L1275,728.9L1271.5,729L1268,729L1264.5,729L1261,729.1L1257.5,729.1L1254,729.2L1250.5,729.2L1247,729.3L1243.5,729.3L1240,729.3L1236.5,729.4L1233,729.4L1229.5,729.5L1226,729.5L1222.5,729.5L1219,729.6L1215.5,729.6L1212,729.7L1208.5,729.7L1205,729.7L1201.5,729.8L1198,729.8L1194.5,729.8L1191,729.9L1187.5,729.9L1184,729.9L1180.5,729.9L1177,730L1173.5,730L1170,730L1166.5,730L1163,730L1159.5,730.1L1156,730.1L1152.5,730.1L1149,730.1L1145.5,730.1L1142,730.1L1138.5,730.1L1135,730.1L1131.5,730.1L1128,730L1124.5,730L1121,730L1117.5,730L1114,730L1110.5,730L1107,729.9L1103.5,729.9L1100,729.9L1096.5,729.9L1093,729.9L1089.5,729.8L1086,729.8L1082.5,729.8L1079,729.8L1075.5,729.7L1072,729.7L1068.5,729.7L1065,729.7L1061.5,729.6L1058,729.6L1054.5,729.6L1051,729.5L1047.5,729.5L1044,729.5L1040.5,729.4L1037,729.4L1033.5,729.4L1030,729.3L1026.5,729.3L1023,729.3L1019.5,729.2L1016,729.2L1012.5,729.1L1009,728.8L1005.5,727.7L1002,725.8L998.5,723.6L995,721.6L991.5,720.4L988,720.2L984.5,720.2L981,720.1L977.5,720.1L974,720L970.5,719.9L967,719.8L963.5,719.7L960,719.6L956.5,719.5L953,719.4L949.5,719.3L946,719.2L942.5,719.1L939,719L935.5,719L932,719.7L928.5,718.8L925,718.8L921.5,718.7L918,718.7L914.5,718.7L911,718.7L907.5,718.6L904,718.6L900.5,718.6L897,718.5L893.5,718.5L890,718.5L886.5,718.4L883,718.4L879.5,718.4L876,718.4L872.5,718.3L869,718.3L865.5,718.3L862,718.2L858.5,718.2L855,718.2L851.5,718.2L848,718.2L844.5,718.1L841,718.1L837.5,718.1L834,718.1L830.5,718.1L827,718.1L823.5,718.1L820,718.1L816.5,718.1L813,718.2L809.5,718.2L806,718.3L802.5,718.4L799,718.4L795.5,718.5L792,718.6L788.5,718.7L785,718.8L781.5,718.9L778,719L774.5,719.1L771,719.2L767.5,719.3L764,719.4L760.5,719.5L757,719.6L753.5,719.6L750,719.7L746.5,719.7L743,719.8L739.5,719.8L736,719.8L732.5,719.9L729,720.1L725.5,719L722,719.4L718.5,719.8L715,720.3L711.5,720.8L708,721.4L704.5,721.9L701,722.4L697.5,722.9L694,723.3L690.5,723.6L687,723.8L683.5,723.9ZM687,724.5L690.5,725.3L694,725.7L697.5,725.9L701,725.5L704.5,725.1L708,724.8L711.5,724.5L715,724.2L718.5,724.1L722,723.9L725.5,723.8L729,722.4L732.5,722L736,722L736,721.3L732.5,721.4L729,721.2L725.5,720L722,720.3L718.5,720.7L715,721.1L711.5,721.6L708,722.1L704.5,722.5L701,723L697.5,723.5L694,723.7L690.5,723.9L687,724.2ZM750,721.8L753.5,722.2L757,722.5L760.5,722.3L764,722.2L767.5,722.7L771,722.8L774.5,722.9L778,723L781.5,723.1L785,723.2L788.5,723.3L792,723.4L795.5,723.5L799,723.6L802.5,723.7L806,723.8L809.5,723.9L813,723.9L816.5,724L820,723.4L820,721.8L816.5,721.1L813,721.1L809.5,721.1L806,721.1L802.5,721.1L799,721.1L795.5,721.1L792,721.1L788.5,721.1L785,721.1L781.5,721L778,721L774.5,721L771,721L767.5,721L764,721.5L760.5,721.3L757,721L753.5,721.2L750,721.6ZM855,723.6L858.5,724.4L862,724.5L865.5,724.5L869,724.6L872.5,724.7L876,724.7L879.5,724.8L883,724.8L886.5,724.9L890,724.9L893.5,725L897,725L900.5,725L904,725.1L907.5,725.1L911,725.1L914.5,725.1L918,725.1L921.5,725.1L921.5,721.7L918,721.8L914.5,721.8L911,721.8L907.5,721.8L904,721.8L900.5,721.7L897,721.7L893.5,721.7L890,721.7L886.5,721.7L883,721.6L879.5,721.6L876,721.6L872.5,721.5L869,721.5L865.5,721.5L862,721.4L858.5,721.4L855,722.1ZM939,725.3L942.5,725.4L946,725.5L949.5,725.6L953,725.7L956.5,725.8L960,725.9L963.5,726L967,726.1L970.5,726.2L974,726.2L977.5,726.3L981,726.3L984.5,726.3L988,724.9L991.5,726L995,728.1L998.5,730.9L1002,733.8L1005.5,736.3L1009,737.4L1012.5,737.6L1016,737.6L1019.5,736.4L1023,735.6L1026.5,735.2L1026.5,734.2L1023,733.8L1019.5,733.2L1016,732L1012.5,732.1L1009,731.8L1005.5,730.8L1002,728.7L998.5,726.3L995,724.1L991.5,723.3L988,724L984.5,722.6L981,722.6L977.5,722.6L974,722.6L970.5,722.5L967,722.5L963.5,722.4L960,722.3L956.5,722.3L953,722.2L949.5,722.1L946,722L942.5,722L939,722ZM1065,735.4L1068.5,736.9L1072,736.9L1075.5,736.8L1079,736.8L1082.5,736.7L1086,736.7L1089.5,736.7L1093,736.6L1096.5,736.6L1100,736.5L1103.5,736.5L1107,736.4L1110.5,736.4L1114,736.3L1117.5,734.5L1117.5,732.3L1114,730.6L1110.5,730.6L1107,730.7L1103.5,730.7L1100,730.8L1096.5,730.8L1093,730.9L1089.5,730.9L1086,731L1082.5,731L1079,731.1L1075.5,731.1L1072,731.2L1068.5,731.2L1065,732.9ZM1135,736.1L1138.5,736.1L1142,736L1145.5,736L1149,735.9L1152.5,735.9L1156,735.8L1159.5,735.8L1163,735.8L1166.5,735.7L1170,735.7L1173.5,735.6L1177,735.6L1180.5,735.6L1184,735.5L1187.5,735.5L1191,735.4L1194.5,735.4L1198,735.4L1201.5,735.3L1205,735.3L1205,729.5L1201.5,729.5L1198,729.5L1194.5,729.6L1191,729.6L1187.5,729.7L1184,729.7L1180.5,729.7L1177,729.8L1173.5,729.8L1170,729.9L1166.5,729.9L1163,730L1159.5,730L1156,730L1152.5,730.1L1149,730.1L1145.5,730.2L1142,730.2L1138.5,730.3L1135,730.3ZM1222.5,733.1L1226,734.9L1229.5,735.1L1233,735.1L1236.5,735.1L1240,735.1L1243.5,735.1L1247,735.1L1250.5,735.1L1254,735.1L1257.5,735.1L1261,735.1L1264.5,735.1L1268,735.1L1271.5,733.3L1275,732.3L1275,732.1L1271.5,731L1268,729.2L1264.5,729.2L1261,729.2L1257.5,729.2L1254,729.2L1250.5,729.2L1247,729.2L1243.5,729.2L1240,729.2L1236.5,729.2L1233,729.3L1229.5,729.3L1226,729.6L1222.5,731.4ZM1285.5,732.4L1289,734.7L1292.5,735.2L1296,735.2L1299.5,735.2L1303,734.1L1303,730.4L1299.5,729.3L1296,729.4L1292.5,729.4L1289,729.9L1285.5,732.2ZM1313.5,734.2L1317,735L1320.5,734.9L1324,734.4L1327.5,733.8L1331,732.8L1334.5,732.7L1338,733.1L1341.5,731.6L1341.5,730.1L1338,729L1334.5,729.8L1331,730.1L1327.5,729.5L1324,729.2L1320.5,729.1L1317,729.2L1313.5,730.1ZM1352,730.3L1355.5,730.2L1359,731.1L1362.5,732.2L1366,732L1369.5,731.9L1373,731.9L1376.5,731.9L1380,731.9L1383.5,732L1387,732L1390.5,730.3L1390.5,728.9L1387,727.1L1383.5,727.1L1380,727L1376.5,727L1373,727L1369.5,727L1366,727.1L1362.5,727.2L1359,728.5L1355.5,729.8L1352,730.1ZM1401,731.9L1404.5,732.2L1408,732.3L1411.5,732.3L1415,732.3L1418.5,732.4L1422,732.4L1425.5,732.5L1429,732.5L1432.5,732.5L1436,732.6L1439.5,732.6L1443,732.6L1446.5,732.7L1450,732.7L1453.5,732.7L1457,732.8L1460.5,732.8L1464,732.8L1467.5,732.9L1471,732.9L1474.5,732.9L1478,732.9L1481.5,733L1485,733L1488.5,733L1492,732L1495.5,731.2L1499,731.1L1502.5,732.5L1506,733.2L1509.5,733.3L1513,733L1516.5,732.4L1520,731.8L1520,730.6L1516.5,729.9L1513,729.1L1509.5,728.7L1506,728.7L1502.5,729.3L1499,730.6L1495.5,730.4L1492,729.5L1488.5,728.5L1485,728.4L1481.5,728.4L1478,728.4L1474.5,728.3L1471,728.3L1467.5,728.3L1464,728.2L1460.5,728.2L1457,728.1L1453.5,728.1L1450,728L1446.5,728L1443,728L1439.5,727.9L1436,727.9L1432.5,727.8L1429,727.7L1425.5,727.7L1422,727.6L1418.5,727.6L1415,727.5L1411.5,727.5L1408,727.4L1404.5,727.4L1401,727.6ZM1530.5,732.4L1534,733.8L1537.5,733.9L1541,733.9L1544.5,734L1548,734.1L1551.5,734.2L1555,734.2L1558.5,734.3L1562,734.3L1565.5,734.4L1569,734.4L1572.5,734.4L1576,734.4L1579.5,734.4L1583,734.4L1586.5,734.4L1590,734.4L1593.5,734.4L1597,734.4L1600.5,734.4L1604,734.3L1607.5,734.3L1611,734.3L1614.5,734.3L1618,734.2L1621.5,734.2L1625,734.2L1628.5,734.1L1632,734.1L1635.5,734.1L1639,734L1642.5,734L1646,734L1649.5,733.9L1653,733.9L1656.5,733.9L1660,733.8L1663.5,733.8L1667,733.8L1670.5,733.7L1674,733.7L1677.5,733.6L1681,733.5L1684.5,733.3L1688,733.1L1691.5,732.9L1695,732.6L1698.5,732.4L1702,732.1L1705.5,731.8L1709,731.6L1712.5,731.3L1716,731L1719.5,730.8L1723,730.6L1726.5,730.4L1730,730.2L1733.5,730.1L1737,729.7L1740.5,729L1744,728.4L1747.5,728.8L1751,729.3L1754.5,729L1758,728.4L1761.5,727.3L1761.5,726.1L1758,725.7L1754.5,725.7L1751,725.9L1747.5,727L1744,727.7L1740.5,727.3L1737,726.7L1733.5,726.5L1730,726.6L1726.5,726.8L1723,726.9L1719.5,727.1L1716,727.3L1712.5,727.5L1709,727.7L1705.5,728L1702,728.2L1698.5,728.4L1695,728.6L1691.5,728.8L1688,729L1684.5,729.2L1681,729.3L1677.5,729.4L1674,729.5L1670.5,729.5L1667,729.6L1663.5,729.6L1660,729.6L1656.5,729.7L1653,729.7L1649.5,729.7L1646,729.7L1642.5,729.7L1639,729.7L1635.5,729.8L1632,729.8L1628.5,729.8L1625,729.8L1621.5,729.8L1618,729.8L1614.5,729.8L1611,729.8L1607.5,729.8L1604,729.8L1600.5,729.9L1597,729.9L1593.5,729.9L1590,729.9L1586.5,729.9L1583,729.9L1579.5,729.9L1576,729.9L1572.5,729.9L1569,729.8L1565.5,729.8L1562,729.8L1558.5,729.7L1555,729.7L1551.5,729.6L1548,729.5L1544.5,729.5L1541,729.4L1537.5,729.3L1534,729.2L1530.5,730.5ZM1768.5,726.3L1772,726.9L1775.5,726.6L1779,726.3L1782.5,726L1786,726L1789.5,725.2L1793,724.6L1796.5,724.4L1800,723.7L1803.5,723L1807,722.2L1807,721.3L1803.5,721.2L1800,721.7L1796.5,722.5L1793,723.8L1789.5,724.3L1786,724L1782.5,724.1L1779,724.1L1775.5,724.3L1772,724.5L1768.5,725.7ZM1817.5,720.8L1821,719.8L1824.5,719.8L1828,718.3L1831.5,716.9L1835,715.8L1838.5,715L1842,714.7L1845.5,714.6L1849,714.4L1852.5,714.1L1856,713.7L1859.5,713.2L1863,712.8L1866.5,712.3L1870,712L1873.5,711.8L1873.5,711.5L1870,711.7L1866.5,711.9L1863,712.1L1859.5,712.3L1856,712.5L1852.5,712.7L1849,712.8L1845.5,712.9L1842,712.9L1838.5,713.1L1835,713.6L1831.5,714.3L1828,715.2L1824.5,716.1L1821,718.5L1817.5,719.6Z" fill="#482d8f"/>
<path d="M1271.9,207.5L1271.7,211L1271.8,214.5L1272.1,218L1272.4,221.5L1272.7,225L1271.5,228.5L1271.6,232L1271.6,235.5L1271.6,239L1271.6,242.5L1271.6,246L1271.5,249.5L1271.5,253L1268.7,253L1268.8,249.5L1269,246L1269.3,242.5L1269.5,239L1269.8,235.5L1270,232L1270.1,228.5L1268.9,225L1269,221.5L1269,218L1268.8,214.5L1269.6,211L1271.2,207.5ZM1270.4,267L1270.7,270.5L1271.3,274L1271.4,277.5L1271.4,281L1271.3,284.5L1271.3,288L1271.3,291.5L1271.2,295L1271.2,298.5L1271.2,302L1271.1,305.5L1271.1,309L1271.1,312.5L1271,316L1271,319.5L1270.9,323L1270.9,326.5L1270.9,330L1270.8,333.5L1270.8,337L1270.8,340.5L1270.7,344L1270.7,347.5L1270.7,351L1270.7,354.5L1270.7,358L1270.6,361.5L1270.6,365L1270.6,368.5L1270.6,372L1270.5,375.5L1270.5,379L1270.5,382.5L1270.5,386L1270.4,389.5L1270.4,393L1270.3,396.5L1269.7,400L1270.1,403.5L1270.1,407L1270,410.5L1269.9,414L1269.7,417.5L1269.6,421L1269.4,424.5L1269.3,428L1269.1,431.5L1268.9,435L1267.2,438.5L1265.8,438.5L1264.4,435L1264.6,431.5L1264.8,428L1265,424.5L1265.2,421L1265.4,417.5L1265.5,414L1265.7,410.5L1265.8,407L1266,403.5L1266.6,400L1266,396.5L1266.1,393L1266.1,389.5L1266.2,386L1266.2,382.5L1266.2,379L1266.3,375.5L1266.3,372L1266.4,368.5L1266.4,365L1266.5,361.5L1266.5,358L1266.6,354.5L1266.6,351L1266.6,347.5L1266.7,344L1266.7,340.5L1266.8,337L1266.8,333.5L1266.8,330L1266.9,326.5L1266.9,323L1267,319.5L1267.1,316L1267.2,312.5L1267.3,309L1267.4,305.5L1267.5,302L1267.6,298.5L1267.7,295L1267.9,291.5L1268,288L1268.1,284.5L1268.2,281L1268.2,277.5L1268.4,274L1269.1,270.5L1269.5,267ZM1266.3,445.5L1266.1,449L1266.7,452.5L1267.2,456L1267.9,459.5L1267.9,463L1267.8,466.5L1267.8,470L1267.7,473.5L1267.7,477L1267.6,480.5L1266.5,484L1267.4,487.5L1267.3,491L1267.2,494.5L1267,498L1266.9,501.5L1266.8,505L1265,508.5L1263.7,508.5L1262.1,505L1262.2,501.5L1262.4,498L1262.5,494.5L1262.6,491L1262.7,487.5L1263.8,484L1262.9,480.5L1263,477L1263.1,473.5L1263.1,470L1263.2,466.5L1263.2,463L1263.3,459.5L1264.2,456L1265,452.5L1265.9,449L1266,445.5ZM1265.2,515.5L1266.4,519L1266.3,522.5L1266.3,526L1266.2,529.5L1266.2,533L1266.2,536.5L1266.2,540L1266.2,543.5L1266.2,547L1266.2,550.5L1266.2,554L1266.2,557.5L1266.1,561L1266.1,564.5L1266.1,568L1266.1,571.5L1266.1,575L1266.1,578.5L1266.1,582L1266.1,585.5L1266.1,589L1266.1,592.5L1266.1,596L1266.1,599.5L1266.1,603L1265.6,606.5L1264.1,610L1264.2,613.5L1264.5,617L1263.1,617L1263.3,613.5L1263.3,610L1261.7,606.5L1261.1,603L1261.1,599.5L1261.1,596L1261.1,592.5L1261.1,589L1261.1,585.5L1261.1,582L1261.1,578.5L1261.2,575L1261.2,571.5L1261.2,568L1261.3,564.5L1261.3,561L1261.3,557.5L1261.3,554L1261.4,550.5L1261.4,547L1261.4,543.5L1261.4,540L1261.4,536.5L1261.4,533L1261.4,529.5L1261.5,526L1261.6,522.5L1261.6,519L1263,515.5ZM1264.5,631L1264.5,634.5L1264.4,638L1265.4,641.5L1266.2,645L1265.6,648.5L1265.1,652L1263.8,652L1263.1,648.5L1262.3,645L1263.1,641.5L1263.9,638L1263.6,634.5L1263.6,631ZM1266.4,673L1267.8,676.5L1267.9,680L1268.1,683.5L1266.9,687L1265.9,690.5L1266.8,694L1268.5,697.5L1268.6,701L1268.7,704.5L1268.7,708L1268.7,711.5L1268.8,715L1268.8,718.5L1268.7,722L1268.7,725.5L1267.6,729L1266.6,732.5L1265.1,732.5L1264.2,729L1263.1,725.5L1263.1,722L1263.2,718.5L1263.2,715L1263.2,711.5L1263.2,708L1263.2,704.5L1263.2,701L1263.1,697.5L1264.7,694L1265.3,690.5L1264.1,687L1262.7,683.5L1262.5,680L1262.4,676.5L1263.6,673ZM1266,750L1268.7,753.5L1268.7,757L1268.7,760.5L1268.7,764L1268.8,767.5L1268.8,771L1268.8,774.5L1268.8,778L1268.8,781.5L1268.8,785L1268.8,788.5L1262.9,788.5L1262.9,785L1262.9,781.5L1262.9,778L1262.9,774.5L1262.9,771L1262.9,767.5L1262.9,764L1262.8,760.5L1262.8,757L1262.8,753.5L1265.4,750ZM1267.4,802.5L1268.7,806L1268.7,809.5L1267.9,813L1263.4,813L1262.7,809.5L1262.7,806L1264.1,802.5ZM1267.1,823.5L1268.5,827L1268.5,830.5L1268.4,834L1268.4,837.5L1268.4,841L1268.3,844.5L1268.3,848L1268.2,851.5L1268.2,855L1268.1,858.5L1268.1,862L1268.1,865.5L1268,869L1268,872.5L1267.9,876L1267.8,879.5L1267.7,883L1267.7,886.5L1267.6,890L1267.5,893.5L1267.3,897L1267.2,900.5L1265.2,904L1264.8,907.5L1265.2,911L1266.7,914.5L1266.6,918L1266.1,921.5L1260.9,921.5L1260.6,918L1260.8,914.5L1262.5,911L1263.2,907.5L1263,904L1261.2,900.5L1261.3,897L1261.4,893.5L1261.4,890L1261.5,886.5L1261.6,883L1261.7,879.5L1261.7,876L1261.8,872.5L1261.8,869L1261.9,865.5L1261.9,862L1262,858.5L1262,855L1262.1,851.5L1262.1,848L1262.2,844.5L1262.2,841L1262.3,837.5L1262.3,834L1262.4,830.5L1262.4,827L1263.9,823.5ZM1262.8,953L1266,956.5L1266.8,960L1267.7,963.5L1268.1,967L1269.1,970.5L1269.1,974L1268.7,977.5L1268.2,981L1267.7,984.5L1267.3,988L1266.8,991.5L1266.5,995L1266.3,998.5L1266.1,1002L1266.1,1005.5L1266.1,1009L1266.2,1012.5L1266.3,1016L1266.4,1019.5L1266.6,1023L1266.7,1026.5L1266.9,1030L1267.1,1033.5L1267.4,1037L1267.6,1040.5L1267.8,1044L1268,1047.5L1268.2,1051L1268.4,1054.5L1268.5,1058L1268.6,1061.5L1268.7,1065L1268.8,1068.5L1268.8,1072L1268.8,1075.5L1268.9,1079L1269,1082.5L1268.7,1086L1267.1,1086L1266.4,1082.5L1266,1079L1265.9,1075.5L1265.9,1072L1265.8,1068.5L1265.8,1065L1265.7,1061.5L1265.5,1058L1265.3,1054.5L1265.1,1051L1264.9,1047.5L1264.7,1044L1264.4,1040.5L1264.2,1037L1263.9,1033.5L1263.7,1030L1263.5,1026.5L1263.3,1023L1263.1,1019.5L1262.9,1016L1262.8,1012.5L1262.7,1009L1262.7,1005.5L1262.7,1002L1262.8,998.5L1263,995L1263.3,991.5L1263.7,988L1264.1,984.5L1264.5,981L1265,977.5L1265.4,974L1265.3,970.5L1264.9,967L1263.1,963.5L1261.7,960L1260.5,956.5L1262.5,953ZM1269.7,1100L1270.7,1103.5L1271.6,1107L1272,1110.5L1272.4,1114L1272.8,1117.5L1273.2,1121L1273.6,1124.5L1273.9,1128L1274.1,1131.5L1274.3,1135L1274.4,1138.5L1274.5,1142L1274.5,1145.5L1274.6,1149L1274.6,1152.5L1274.2,1156L1275,1159.5L1275.3,1163L1275.5,1166.5L1275.7,1170L1276,1173.5L1276.2,1177L1275.8,1180.5L1275.5,1180.5L1274.7,1177L1274.4,1173.5L1274.2,1170L1273.9,1166.5L1273.6,1163L1273.5,1159.5L1273.9,1156L1273.1,1152.5L1272.8,1149L1272.7,1145.5L1272.6,1142L1272.6,1138.5L1272.4,1135L1272.2,1131.5L1271.9,1128L1271.5,1124.5L1271.1,1121L1270.7,1117.5L1270.2,1114L1269.7,1110.5L1269.2,1107L1269.2,1103.5L1269.3,1100ZM1276.7,1191L1276.8,1194.5L1276.9,1198L1277.3,1201.5L1279.2,1205L1279.7,1208.5L1280.2,1212L1280.8,1215.5L1281.2,1219L1281.3,1222.5L1281.6,1226L1282.2,1229.5L1282.8,1233L1282.6,1233L1281.5,1229.5L1280.5,1226L1280.1,1222.5L1279.1,1219L1278.2,1215.5L1277.3,1212L1276.3,1208.5L1275.4,1205L1276.1,1201.5L1275.6,1198L1275.4,1194.5L1275.3,1191ZM1272,207.5L1272,211L1272.2,214.5L1272.5,218L1272.8,221.5L1273.2,225L1272.1,228.5L1272.2,232L1272.3,235.5L1272.4,239L1272.4,242.5L1271.7,246L1271.8,249.5L1271.7,253L1270.4,253L1270.5,249.5L1270.8,246L1270.1,242.5L1270.3,239L1270.5,235.5L1270.6,232L1270.7,228.5L1269.4,225L1269.5,221.5L1269.4,218L1269.2,214.5L1269.9,211L1271.3,207.5ZM1271.2,277.5L1272.2,281L1272.2,284.5L1272.2,288L1272.2,291.5L1272.2,295L1272.1,298.5L1272.1,302L1272.1,305.5L1272,309L1272,312.5L1272,316L1271.9,319.5L1271.9,323L1271.9,326.5L1271.8,330L1271.8,333.5L1271.8,337L1271.7,340.5L1271.7,344L1271.7,347.5L1271.7,351L1271.7,354.5L1271.7,358L1271.7,361.5L1271.7,365L1271.7,368.5L1271.7,372L1271.7,375.5L1271.7,379L1271.7,382.5L1271.7,386L1271.7,389.5L1271.7,393L1271.7,396.5L1271.7,400L1271.6,403.5L1271.6,407L1271.5,410.5L1271.4,414L1271.3,417.5L1271.2,421L1271.1,424.5L1271,428L1270.9,431.5L1270.8,435L1268.7,438.5L1268.1,438.5L1266.3,435L1266.4,431.5L1266.6,428L1266.7,424.5L1266.8,421L1266.9,417.5L1267.1,414L1267.2,410.5L1267.2,407L1267.3,403.5L1267.3,400L1267.4,396.5L1267.4,393L1267.4,389.5L1267.4,386L1267.4,382.5L1267.4,379L1267.5,375.5L1267.5,372L1267.5,368.5L1267.5,365L1267.5,361.5L1267.6,358L1267.6,354.5L1267.6,351L1267.6,347.5L1267.7,344L1267.7,340.5L1267.7,337L1267.8,333.5L1267.8,330L1267.8,326.5L1267.9,323L1268,319.5L1268.1,316L1268.1,312.5L1268.2,309L1268.3,305.5L1268.5,302L1268.6,298.5L1268.7,295L1268.8,291.5L1268.9,288L1269,284.5L1269.1,281L1270.3,277.5ZM1268.7,449L1270.3,452.5L1270.2,456L1270.2,459.5L1270.2,463L1270.2,466.5L1270.2,470L1270.2,473.5L1270.2,477L1270.2,480.5L1270.2,484L1270.1,487.5L1270.1,491L1270,494.5L1270,498L1269.9,501.5L1269.8,505L1269.8,508.5L1269.7,512L1269.7,515.5L1269.7,519L1269.6,522.5L1269.6,526L1269.6,529.5L1269.7,533L1269.7,536.5L1269.8,540L1269.8,543.5L1269.8,547L1269.9,550.5L1269.9,554L1269.9,557.5L1270,561L1270,564.5L1270,568L1270.1,571.5L1270.1,575L1270.1,578.5L1270.1,582L1270.2,585.5L1270.2,589L1270.2,592.5L1270.3,596L1270.3,599.5L1270.4,603L1270.4,606.5L1270.5,610L1270.5,613.5L1270.6,617L1270.7,620.5L1270.7,624L1270.8,627.5L1270.9,631L1270.9,634.5L1271,638L1271.1,641.5L1271.2,645L1271.3,648.5L1271.4,652L1271.5,655.5L1271.6,659L1271.6,662.5L1271.7,666L1271.8,669.5L1271.9,673L1272,676.5L1272.1,680L1272.2,683.5L1272.3,687L1272.4,690.5L1272.4,694L1272.5,697.5L1272.5,701L1272.6,704.5L1272.6,708L1272.6,711.5L1272.5,715L1272.5,718.5L1272.4,722L1272.4,725.5L1272.3,729L1272.2,732.5L1272.2,736L1272.1,739.5L1272.1,743L1272,746.5L1271.9,750L1271.9,753.5L1271.8,757L1271.8,760.5L1271.8,764L1271.7,767.5L1271.7,771L1271.6,774.5L1271.6,778L1271.5,781.5L1271.4,785L1271.4,788.5L1268.8,792L1267.8,792L1265.4,788.5L1265.5,785L1265.6,781.5L1265.7,778L1265.7,774.5L1265.8,771L1265.8,767.5L1265.9,764L1265.9,760.5L1266,757L1266,753.5L1266.1,750L1266.2,746.5L1266.3,743L1266.3,739.5L1266.4,736L1266.5,732.5L1266.6,729L1266.7,725.5L1266.8,722L1266.9,718.5L1267,715L1267,711.5L1267.1,708L1267.1,704.5L1267.1,701L1267.1,697.5L1267,694L1267,690.5L1266.9,687L1266.8,683.5L1266.7,680L1266.6,676.5L1266.6,673L1266.5,669.5L1266.4,666L1266.3,662.5L1266.3,659L1266.2,655.5L1266.1,652L1266.1,648.5L1266,645L1265.9,641.5L1265.9,638L1265.8,634.5L1265.8,631L1265.7,627.5L1265.7,624L1265.6,620.5L1265.5,617L1265.5,613.5L1265.4,610L1265.4,606.5L1265.3,603L1265.3,599.5L1265.3,596L1265.2,592.5L1265.2,589L1265.2,585.5L1265.2,582L1265.2,578.5L1265.2,575L1265.2,571.5L1265.1,568L1265.1,564.5L1265.1,561L1265.1,557.5L1265.1,554L1265.1,550.5L1265,547L1265,543.5L1265,540L1264.9,536.5L1264.9,533L1264.9,529.5L1264.9,526L1264.9,522.5L1264.9,519L1264.9,515.5L1265,512L1265.1,508.5L1265.1,505L1265.2,501.5L1265.3,498L1265.3,494.5L1265.4,491L1265.4,487.5L1265.5,484L1265.5,480.5L1265.6,477L1265.6,473.5L1265.6,470L1265.6,466.5L1265.6,463L1265.6,459.5L1265.6,456L1265.7,452.5L1267.5,449ZM1269.4,802.5L1271,806L1270.9,809.5L1270.8,813L1270.7,816.5L1270.6,820L1270.5,823.5L1270.4,827L1270.3,830.5L1270.3,834L1270.2,837.5L1270.1,841L1270,844.5L1269.9,848L1269.8,851.5L1269.7,855L1269.7,858.5L1269.6,862L1269.5,865.5L1269.4,869L1269.4,872.5L1269.3,876L1269.2,879.5L1269.1,883L1269,886.5L1268.8,890L1268.7,893.5L1268.6,897L1268.5,900.5L1268.4,904L1268.2,907.5L1268.1,911L1268,914.5L1267.9,918L1267.8,921.5L1267.6,925L1267.5,928.5L1267.4,932L1267.3,935.5L1267.2,939L1267.1,942.5L1267,946L1266.9,949.5L1267,953L1267.5,956.5L1268.2,960L1269,963.5L1269.8,967L1270.3,970.5L1270.3,974L1269.8,977.5L1269.4,981L1268.9,984.5L1268.5,988L1268.1,991.5L1267.8,995L1267.5,998.5L1267.4,1002L1267.5,1005.5L1267.5,1009L1267.6,1012.5L1267.7,1016L1267.9,1019.5L1268.1,1023L1268.3,1026.5L1268.5,1030L1268.7,1033.5L1269,1037L1269.2,1040.5L1269.4,1044L1269.7,1047.5L1269.9,1051L1270.1,1054.5L1270.3,1058L1270.4,1061.5L1270.5,1065L1270.6,1068.5L1270.7,1072L1270.7,1075.5L1270.9,1079L1271,1082.5L1271.3,1086L1271.4,1089.5L1271.5,1093L1272.2,1096.5L1272.6,1100L1273,1103.5L1273.4,1107L1273.8,1110.5L1274.2,1114L1274.5,1117.5L1274.9,1121L1275.2,1124.5L1275.4,1128L1275.7,1131.5L1275.9,1135L1276,1138.5L1276,1142L1276.1,1145.5L1276.2,1149L1276.3,1152.5L1276.4,1156L1276.6,1159.5L1276.8,1163L1277,1166.5L1277.1,1170L1277.3,1173.5L1277.5,1177L1277.7,1180.5L1277.8,1184L1277.9,1187.5L1278,1191L1278,1194.5L1278.1,1198L1278.4,1201.5L1280.2,1205L1280.6,1208.5L1281,1212L1281.4,1215.5L1281.9,1219L1282.2,1222.5L1282.5,1226L1282.8,1229.5L1283,1233L1282.6,1233L1281.5,1229.5L1280.6,1226L1280.2,1222.5L1279.6,1219L1278.9,1215.5L1278.1,1212L1277.2,1208.5L1276.4,1205L1277.2,1201.5L1276.8,1198L1276.6,1194.5L1276.6,1191L1276.5,1187.5L1276.3,1184L1276.2,1180.5L1276,1177L1275.8,1173.5L1275.5,1170L1275.3,1166.5L1275.1,1163L1274.9,1159.5L1274.6,1156L1274.5,1152.5L1274.3,1149L1274.2,1145.5L1274.2,1142L1274.1,1138.5L1274,1135L1273.8,1131.5L1273.5,1128L1273.1,1124.5L1272.8,1121L1272.4,1117.5L1271.9,1114L1271.5,1110.5L1271,1107L1270.5,1103.5L1270.1,1100L1269.6,1096.5L1269.6,1093L1269,1089.5L1268.5,1086L1268.2,1082.5L1267.9,1079L1267.8,1075.5L1267.7,1072L1267.7,1068.5L1267.6,1065L1267.4,1061.5L1267.3,1058L1267.1,1054.5L1266.8,1051L1266.6,1047.5L1266.3,1044L1266.1,1040.5L1265.8,1037L1265.5,1033.5L1265.3,1030L1265,1026.5L1264.8,1023L1264.6,1019.5L1264.4,1016L1264.2,1012.5L1264.1,1009L1264.1,1005.5L1264,1002L1264.1,998.5L1264.3,995L1264.6,991.5L1264.9,988L1265.3,984.5L1265.7,981L1266.1,977.5L1266.5,974L1266.4,970.5L1265.6,967L1264.4,963.5L1263.1,960L1262,956.5L1261.2,953L1261.1,949.5L1261.2,946L1261.2,942.5L1261.3,939L1261.4,935.5L1261.5,932L1261.6,928.5L1261.7,925L1261.8,921.5L1261.9,918L1262,914.5L1262.1,911L1262.2,907.5L1262.3,904L1262.4,900.5L1262.5,897L1262.6,893.5L1262.7,890L1262.8,886.5L1262.9,883L1263,879.5L1263.1,876L1263.2,872.5L1263.3,869L1263.3,865.5L1263.4,862L1263.5,858.5L1263.6,855L1263.7,851.5L1263.7,848L1263.8,844.5L1263.9,841L1264,837.5L1264.1,834L1264.2,830.5L1264.3,827L1264.4,823.5L1264.6,820L1264.7,816.5L1264.8,813L1264.9,809.5L1265,806L1266.7,802.5ZM1272.1,207.5L1272.4,211L1272.7,214.5L1273.1,218L1272.8,221.5L1272.5,225L1272.4,228.5L1272.6,232L1272.3,232L1272.2,228.5L1271.6,225L1270.8,221.5L1270,218L1269.8,214.5L1270.3,211L1271.4,207.5ZM1274.9,281L1274.9,284.5L1275,288L1275.1,291.5L1275.1,295L1275.2,298.5L1275.3,302L1275.3,305.5L1275.4,309L1275.4,312.5L1275.5,316L1275.5,319.5L1275.5,323L1275.5,326.5L1275.5,330L1275.5,333.5L1275.5,337L1275.5,340.5L1275.5,344L1275.5,347.5L1275.5,351L1275.6,354.5L1275.6,358L1275.6,361.5L1275.6,365L1275.7,368.5L1275.7,372L1275.7,375.5L1275.7,379L1275.7,382.5L1275.7,386L1275.7,389.5L1275.7,393L1275.7,396.5L1275.5,400L1275.2,403.5L1275.4,407L1275.4,410.5L1275.3,414L1275.2,417.5L1275.1,421L1274.9,424.5L1274.8,428L1274.7,431.5L1274.5,435L1274.4,438.5L1274.2,442L1274.1,445.5L1274,449L1273.9,452.5L1273.8,456L1273.7,459.5L1273.6,463L1273.5,466.5L1273.5,470L1273.4,473.5L1271.4,477L1270.7,477L1268.8,473.5L1268.9,470L1268.9,466.5L1269,463L1269,459.5L1269.1,456L1269.3,452.5L1269.4,449L1269.5,445.5L1269.7,442L1269.9,438.5L1270,435L1270.2,431.5L1270.3,428L1270.5,424.5L1270.7,421L1270.8,417.5L1270.9,414L1271,410.5L1271.2,407L1271.5,403.5L1271.4,400L1271.3,396.5L1271.4,393L1271.4,389.5L1271.4,386L1271.4,382.5L1271.4,379L1271.4,375.5L1271.4,372L1271.4,368.5L1271.4,365L1271.4,361.5L1271.4,358L1271.4,354.5L1271.4,351L1271.4,347.5L1271.4,344L1271.4,340.5L1271.5,337L1271.5,333.5L1271.5,330L1271.5,326.5L1271.5,323L1271.5,319.5L1271.6,316L1271.6,312.5L1271.6,309L1271.6,305.5L1271.6,302L1271.6,298.5L1271.6,295L1271.7,291.5L1271.7,288L1271.7,284.5L1271.7,281ZM1271.1,494.5L1272.7,498L1272.6,501.5L1272.5,505L1272.3,508.5L1272.2,512L1272.1,515.5L1272,519L1271.9,522.5L1271.8,526L1271.7,529.5L1271.7,533L1271.6,536.5L1271.6,540L1271.6,543.5L1271.5,547L1271.5,550.5L1271.5,554L1271.4,557.5L1271.4,561L1271.3,564.5L1271.3,568L1271.3,571.5L1271.2,575L1271.2,578.5L1271.1,582L1271.1,585.5L1271.1,589L1271,592.5L1271,596L1271,599.5L1271,603L1271,606.5L1271,610L1271,613.5L1271,617L1271,620.5L1271,624L1271.1,627.5L1271.1,631L1271.1,634.5L1271.2,638L1271.2,641.5L1271.3,645L1271.4,648.5L1271.4,652L1271.5,655.5L1271.6,659L1271.7,662.5L1271.7,666L1271.8,669.5L1271.9,673L1272,676.5L1272.1,680L1272.2,683.5L1272.3,687L1272.4,690.5L1272.5,694L1272.6,697.5L1272.6,701L1272.7,704.5L1272.7,708L1272.8,711.5L1272.8,715L1272.8,718.5L1272.8,722L1272.8,725.5L1272.8,729L1272.8,732.5L1272.8,736L1272.8,739.5L1272.8,743L1272.8,746.5L1272.8,750L1272.8,753.5L1272.9,757L1272.9,760.5L1273,764L1273,767.5L1273.1,771L1273.1,774.5L1273.2,778L1273.2,781.5L1273.2,785L1273.3,788.5L1273.3,792L1273.3,795.5L1273.4,799L1273.4,802.5L1273.5,806L1273.5,809.5L1273.5,813L1273.6,816.5L1273.6,820L1273.6,823.5L1273.7,827L1273.7,830.5L1273.8,834L1273.8,837.5L1273.8,841L1273.9,844.5L1273.9,848L1274,851.5L1274,855L1274.1,858.5L1274.1,862L1274.1,865.5L1274.2,869L1274.2,872.5L1274.2,876L1274.2,879.5L1274.2,883L1274.2,886.5L1274.2,890L1274.1,893.5L1274.1,897L1274.1,900.5L1274,904L1274,907.5L1273.9,911L1273.9,914.5L1273.8,918L1273.7,921.5L1273.7,925L1273.6,928.5L1273.6,932L1273.5,935.5L1273.4,939L1273.4,942.5L1273.3,946L1273.3,949.5L1273.3,953L1273.5,956.5L1273.8,960L1274.2,963.5L1274.5,967L1274.6,970.5L1274.4,974L1274,977.5L1273.5,981L1273,984.5L1272.5,988L1272,991.5L1271.6,995L1271.4,998.5L1271.2,1002L1271.2,1005.5L1271.3,1009L1271.3,1012.5L1271.4,1016L1271.5,1019.5L1271.7,1023L1271.8,1026.5L1272,1030L1272.1,1033.5L1272.3,1037L1272.5,1040.5L1272.6,1044L1272.8,1047.5L1272.9,1051L1273.1,1054.5L1273.2,1058L1273.3,1061.5L1273.3,1065L1273.4,1068.5L1273.4,1072L1273.4,1075.5L1273.4,1079L1273.6,1082.5L1273.7,1086L1273.7,1089.5L1273.5,1093L1273.9,1096.5L1274.6,1100L1274.9,1103.5L1275.2,1107L1275.5,1110.5L1275.8,1114L1276,1117.5L1276.3,1121L1276.5,1124.5L1276.7,1128L1276.9,1131.5L1277,1135L1277,1138.5L1277.1,1142L1276.6,1145.5L1276.4,1149L1277.2,1152.5L1277.3,1156L1277.4,1159.5L1277.5,1163L1277.6,1166.5L1277.3,1170L1277.9,1173.5L1278,1177L1278.1,1180.5L1278.2,1184L1278.3,1187.5L1278.4,1191L1278.4,1194.5L1278.5,1198L1278.7,1201.5L1280.5,1205L1280.8,1208.5L1281.2,1212L1281.6,1215.5L1282,1219L1282.3,1222.5L1282.6,1226L1282.8,1229.5L1283,1233L1282.6,1233L1281.6,1229.5L1280.7,1226L1280.3,1222.5L1279.7,1219L1279,1215.5L1278.2,1212L1277.4,1208.5L1276.7,1205L1277.5,1201.5L1277.1,1198L1277,1194.5L1277,1191L1276.9,1187.5L1276.8,1184L1276.7,1180.5L1276.5,1177L1276.4,1173.5L1276.7,1170L1276,1166.5L1275.8,1163L1275.6,1159.5L1275.5,1156L1275.4,1152.5L1275.9,1149L1275.7,1145.5L1275.2,1142L1275.2,1138.5L1275.1,1135L1274.9,1131.5L1274.7,1128L1274.5,1124.5L1274.2,1121L1273.9,1117.5L1273.5,1114L1273.2,1110.5L1272.8,1107L1272.4,1103.5L1272.1,1100L1272.2,1096.5L1272.1,1093L1271.4,1089.5L1270.9,1086L1270.7,1082.5L1270.5,1079L1270.5,1075.5L1270.4,1072L1270.4,1068.5L1270.4,1065L1270.3,1061.5L1270.2,1058L1270.1,1054.5L1269.9,1051L1269.7,1047.5L1269.5,1044L1269.3,1040.5L1269.1,1037L1268.9,1033.5L1268.7,1030L1268.5,1026.5L1268.4,1023L1268.2,1019.5L1268.1,1016L1268,1012.5L1267.9,1009L1267.8,1005.5L1267.8,1002L1268,998.5L1268.2,995L1268.5,991.5L1268.9,988L1269.4,984.5L1269.8,981L1270.3,977.5L1270.7,974L1270.7,970.5L1270.3,967L1269.5,963.5L1268.7,960L1268,956.5L1267.5,953L1267.4,949.5L1267.5,946L1267.5,942.5L1267.6,939L1267.6,935.5L1267.6,932L1267.7,928.5L1267.7,925L1267.8,921.5L1267.8,918L1267.9,914.5L1267.9,911L1267.9,907.5L1268,904L1268,900.5L1268,897L1268,893.5L1268.1,890L1268.1,886.5L1268.1,883L1268.1,879.5L1268.1,876L1268,872.5L1268,869L1268,865.5L1267.9,862L1267.9,858.5L1267.8,855L1267.8,851.5L1267.8,848L1267.7,844.5L1267.7,841L1267.7,837.5L1267.6,834L1267.6,830.5L1267.6,827L1267.6,823.5L1267.5,820L1267.5,816.5L1267.5,813L1267.5,809.5L1267.5,806L1267.4,802.5L1267.4,799L1267.4,795.5L1267.4,792L1267.3,788.5L1267.3,785L1267.3,781.5L1267.3,778L1267.2,774.5L1267.2,771L1267.1,767.5L1267.1,764L1267.1,760.5L1267,757L1267,753.5L1267,750L1267,746.5L1267,743L1267,739.5L1267,736L1267,732.5L1267.1,729L1267.1,725.5L1267.2,722L1267.2,718.5L1267.2,715L1267.2,711.5L1267.2,708L1267.2,704.5L1267.2,701L1267.1,697.5L1267.1,694L1267,690.5L1266.9,687L1266.8,683.5L1266.7,680L1266.6,676.5L1266.5,673L1266.5,669.5L1266.4,666L1266.3,662.5L1266.3,659L1266.2,655.5L1266.2,652L1266.2,648.5L1266.1,645L1266.1,641.5L1266.1,638L1266,634.5L1266,631L1266,627.5L1266,624L1266,620.5L1266,617L1266,613.5L1266,610L1266,606.5L1266,603L1266,599.5L1266,596L1266.1,592.5L1266.1,589L1266.1,585.5L1266.2,582L1266.2,578.5L1266.3,575L1266.4,571.5L1266.4,568L1266.5,564.5L1266.5,561L1266.6,557.5L1266.6,554L1266.7,550.5L1266.7,547L1266.8,543.5L1266.8,540L1266.8,536.5L1266.9,533L1267,529.5L1267,526L1267.1,522.5L1267.2,519L1267.3,515.5L1267.5,512L1267.6,508.5L1267.7,505L1267.9,501.5L1268,498L1269.9,494.5ZM1272.2,207.5L1272.8,211L1273.2,214.5L1273.6,218L1274,221.5L1270.8,221.5L1270.5,218L1270.3,214.5L1270.7,211L1271.5,207.5ZM1275.2,288L1276.5,291.5L1276.7,295L1276.8,298.5L1276.9,302L1277,305.5L1277,309L1277.1,312.5L1277.1,316L1277.1,319.5L1276.2,323L1274,323L1273.2,319.5L1273.2,316L1273.2,312.5L1273.2,309L1273.2,305.5L1273.2,302L1273.2,298.5L1273.2,295L1273.4,291.5L1274.6,288ZM1275.6,340.5L1276.2,344L1276.9,347.5L1276.9,351L1276.9,354.5L1277,358L1277,361.5L1277,365L1277,368.5L1277,372L1276.5,375.5L1275.3,379L1274.4,379L1273.2,375.5L1272.7,372L1272.8,368.5L1272.8,365L1272.8,361.5L1272.8,358L1272.8,354.5L1272.9,351L1272.9,347.5L1273.6,344L1274.3,340.5ZM1276.6,410.5L1276.5,414L1276.4,417.5L1276.2,421L1276.1,424.5L1276,428L1275.9,431.5L1275.8,435L1275.6,438.5L1275.5,442L1274.8,445.5L1274.2,449L1275.2,452.5L1275.1,456L1275.1,459.5L1275,463L1274.4,466.5L1273.1,470L1272.3,470L1270.9,466.5L1270.4,463L1270.5,459.5L1270.5,456L1270.6,452.5L1271.9,449L1271.5,445.5L1271,442L1271.1,438.5L1271.3,435L1271.4,431.5L1271.6,428L1271.7,424.5L1271.8,421L1272,417.5L1272.1,414L1272.2,410.5ZM1273,498L1274.5,501.5L1274.5,505L1274.4,508.5L1274.3,512L1274.3,515.5L1274.3,519L1274.2,522.5L1274.2,526L1274.2,529.5L1274.2,533L1274.3,536.5L1274.3,540L1273,543.5L1272.6,547L1273.9,550.5L1274.5,554L1274.5,557.5L1273.7,561L1270.6,561L1269.7,557.5L1269.7,554L1270.1,550.5L1271.4,547L1270.9,543.5L1269.5,540L1269.5,536.5L1269.4,533L1269.4,529.5L1269.4,526L1269.5,522.5L1269.5,519L1269.5,515.5L1269.6,512L1269.7,508.5L1269.7,505L1269.8,501.5L1271.5,498ZM1272.9,575L1273.3,578.5L1272.8,582L1273.5,585.5L1273.7,589L1271.3,589L1271.4,585.5L1272,582L1271.4,578.5L1271.8,575ZM1273.8,599.5L1275.2,603L1275.3,606.5L1275.4,610L1275.4,613.5L1275.5,617L1275.6,620.5L1275,624L1275.1,627.5L1275.9,631L1276.1,634.5L1276.2,638L1276.3,641.5L1275.6,645L1274.7,648.5L1275.6,652L1275.9,655.5L1277,659L1277.1,662.5L1277.2,666L1277.4,669.5L1277.5,673L1277.6,676.5L1277.7,680L1277.8,683.5L1278,687L1278.1,690.5L1278.1,694L1278.2,697.5L1278.3,701L1278.4,704.5L1278.4,708L1278.4,711.5L1278.5,715L1278.5,718.5L1278.5,722L1278.4,725.5L1278.4,729L1278.4,732.5L1278.4,736L1278.4,739.5L1277.7,743L1278,746.5L1278.3,750L1278.2,753.5L1278.2,757L1278.2,760.5L1278.1,764L1278.1,767.5L1278,771L1278,774.5L1277.9,778L1277.9,781.5L1277.8,785L1277.8,788.5L1277.7,792L1277.6,795.5L1277.5,799L1277.5,802.5L1277.4,806L1277.3,809.5L1277.2,813L1277.2,816.5L1277.1,820L1277,823.5L1276.9,827L1275,830.5L1272.5,830.5L1270.8,827L1270.9,823.5L1271,820L1271.1,816.5L1271.2,813L1271.3,809.5L1271.4,806L1271.5,802.5L1271.6,799L1271.7,795.5L1271.7,792L1271.8,788.5L1271.9,785L1272,781.5L1272,778L1272.1,774.5L1272.2,771L1272.2,767.5L1272.3,764L1272.3,760.5L1272.3,757L1272.4,753.5L1272.4,750L1272.8,746.5L1273.2,743L1272.6,739.5L1272.6,736L1272.7,732.5L1272.7,729L1272.8,725.5L1272.8,722L1272.9,718.5L1272.9,715L1272.9,711.5L1272.9,708L1272.9,704.5L1272.9,701L1272.8,697.5L1272.7,694L1272.6,690.5L1272.5,687L1272.4,683.5L1272.3,680L1272.2,676.5L1272.1,673L1272,669.5L1271.9,666L1271.8,662.5L1271.7,659L1272.5,655.5L1272.5,652L1273.2,648.5L1272.1,645L1271.1,641.5L1271,638L1270.9,634.5L1270.8,631L1271.4,627.5L1271.4,624L1270.6,620.5L1270.5,617L1270.4,613.5L1270.3,610L1270.3,606.5L1270.2,603L1271.5,599.5ZM1273.2,879.5L1275.4,883L1275.3,886.5L1275.2,890L1275,893.5L1274.9,897L1273.2,900.5L1270.3,900.5L1268.8,897L1268.9,893.5L1269.1,890L1269.2,886.5L1269.3,883L1271.8,879.5ZM1272.6,925L1272.4,928.5L1271.7,932L1273.2,935.5L1273.3,939L1273.3,942.5L1273.2,946L1273.1,949.5L1272.5,953L1272.9,956.5L1273.6,960L1273.8,963.5L1273.8,967L1274.4,970.5L1274.2,974L1273.8,977.5L1271.6,981L1271.4,981L1270.1,977.5L1270.5,974L1270.5,970.5L1270.6,967L1269.5,963.5L1268.5,960L1268.2,956.5L1267.9,953L1267.2,949.5L1267.3,946L1267.4,942.5L1267.5,939L1267.8,935.5L1269.5,932L1269.1,928.5L1269.1,925ZM1270.8,995L1270.7,998.5L1270.3,1002L1270.7,1005.5L1271.3,1009L1271.4,1012.5L1271.5,1016L1271.6,1019.5L1271.4,1023L1272,1026.5L1272.2,1030L1272.4,1033.5L1271.9,1037L1270.1,1037L1269.2,1033.5L1268.9,1030L1268.7,1026.5L1268.9,1023L1268.3,1019.5L1268.1,1016L1268,1012.5L1267.9,1009L1268.3,1005.5L1268.6,1002L1268.5,998.5L1268.8,995ZM1273.9,1082.5L1274.6,1086L1274.2,1089.5L1272.9,1089.5L1271.9,1086L1272.2,1082.5ZM1276.2,1117.5L1277.4,1121L1277.6,1124.5L1277.8,1128L1277.4,1131.5L1276.7,1131.5L1275.9,1128L1275.6,1124.5L1275.3,1121L1275.9,1117.5ZM1279.2,1198L1279.6,1201.5L1281,1205L1281.3,1208.5L1281.4,1212L1281.5,1215.5L1280.6,1215.5L1279.7,1212L1278.9,1208.5L1278.3,1205L1279,1201.5L1278.8,1198ZM1282,1222.5L1282.7,1226L1282.8,1229.5L1283,1233L1282.8,1233L1282.3,1229.5L1281.8,1226L1281.8,1222.5ZM1272.4,207.5L1273.1,211L1273.7,214.5L1274.1,218L1274.6,221.5L1274.2,225L1272.4,225L1271.2,221.5L1271,218L1270.8,214.5L1271,211L1271.6,207.5ZM1277.3,295L1278.7,298.5L1278.8,302L1279,305.5L1279,309L1275.4,309L1275.2,305.5L1275.2,302L1275.1,298.5L1276.3,295ZM1277.5,354.5L1277.8,358L1277.6,361.5L1277.2,361.5L1276.9,358L1277.2,354.5ZM1277.6,389.5L1278.1,393L1279.6,396.5L1279.6,400L1279.5,403.5L1279.5,407L1279.4,410.5L1279.3,414L1279.2,417.5L1279.1,421L1279,424.5L1278.9,428L1278.8,431.5L1278.7,435L1278.6,438.5L1278.5,442L1278.4,445.5L1278.3,449L1278.2,452.5L1278.1,456L1278,459.5L1278,463L1277.9,466.5L1277.9,470L1277.8,473.5L1277.8,477L1277.7,480.5L1277.6,484L1277.6,487.5L1277.5,491L1277.4,494.5L1277.3,498L1277.2,501.5L1277.1,505L1277,508.5L1276.9,512L1276.8,515.5L1276.7,519L1276.6,522.5L1276.6,526L1276.5,529.5L1276.5,533L1276.5,536.5L1276.5,540L1276.4,543.5L1276.4,547L1276.4,550.5L1276.4,554L1276.4,557.5L1276.4,561L1276.4,564.5L1276.4,568L1276.4,571.5L1276.4,575L1276.4,578.5L1276.4,582L1276.4,585.5L1276.4,589L1276.4,592.5L1276.4,596L1276,599.5L1271.8,599.5L1271.4,596L1271.4,592.5L1271.4,589L1271.4,585.5L1271.4,582L1271.4,578.5L1271.5,575L1271.5,571.5L1271.5,568L1271.5,564.5L1271.6,561L1271.6,557.5L1271.6,554L1271.6,550.5L1271.6,547L1271.7,543.5L1271.7,540L1271.7,536.5L1271.7,533L1271.7,529.5L1271.8,526L1271.9,522.5L1271.9,519L1272,515.5L1272.1,512L1272.2,508.5L1272.3,505L1272.5,501.5L1272.6,498L1272.7,494.5L1272.8,491L1272.9,487.5L1273,484L1273.1,480.5L1273.1,477L1273.2,473.5L1273.2,470L1273.3,466.5L1273.3,463L1273.4,459.5L1273.5,456L1273.6,452.5L1273.7,449L1273.8,445.5L1273.9,442L1274.1,438.5L1274.2,435L1274.3,431.5L1274.5,428L1274.6,424.5L1274.7,421L1274.8,417.5L1275,414L1275.1,410.5L1275.1,407L1275.2,403.5L1275.3,400L1275.3,396.5L1276.9,393L1277.4,389.5ZM1275.6,659L1277.5,662.5L1277.8,666L1277.9,669.5L1278.1,673L1278.2,676.5L1278.3,680L1278.4,683.5L1278.5,687L1278.7,690.5L1278.8,694L1278.9,697.5L1279,701L1279.1,704.5L1279.1,708L1279.2,711.5L1279.3,715L1279.3,718.5L1279.4,722L1279.4,725.5L1279.4,729L1279.5,732.5L1278.7,736L1277.3,739.5L1276.9,743L1279.7,746.5L1279.7,750L1279.8,753.5L1279.8,757L1279.9,760.5L1279.9,764L1280,767.5L1280,771L1280.1,774.5L1280.1,778L1280.2,781.5L1280.2,785L1280.3,788.5L1280.3,792L1280.4,795.5L1280.4,799L1280.5,802.5L1280.5,806L1280.6,809.5L1280.6,813L1280.7,816.5L1280.7,820L1280.7,823.5L1280.8,827L1280.8,830.5L1280.9,834L1280.9,837.5L1281,841L1281,844.5L1279.1,848L1276.8,848L1274.9,844.5L1274.8,841L1274.8,837.5L1274.8,834L1274.7,830.5L1274.7,827L1274.7,823.5L1274.6,820L1274.6,816.5L1274.6,813L1274.5,809.5L1274.5,806L1274.5,802.5L1274.4,799L1274.4,795.5L1274.4,792L1274.3,788.5L1274.3,785L1274.3,781.5L1274.2,778L1274.2,774.5L1274.1,771L1274.1,767.5L1274,764L1274,760.5L1274,757L1273.9,753.5L1273.9,750L1273.8,746.5L1276.5,743L1276.1,739.5L1274.6,736L1273.8,732.5L1273.8,729L1273.8,725.5L1273.7,722L1273.7,718.5L1273.7,715L1273.7,711.5L1273.6,708L1273.6,704.5L1273.5,701L1273.4,697.5L1273.4,694L1273.3,690.5L1273.1,687L1273,683.5L1272.9,680L1272.8,676.5L1272.7,673L1272.6,669.5L1272.5,666L1272.6,662.5L1274.3,659ZM1278.3,883L1280.6,886.5L1281.1,890L1281,893.5L1280.9,897L1280.9,900.5L1280.8,904L1280.7,907.5L1280.6,911L1280.5,914.5L1280.4,918L1280.3,921.5L1280.2,925L1280.1,928.5L1280,932L1279.9,935.5L1279.9,939L1279.8,942.5L1279.7,946L1278.4,949.5L1275.1,949.5L1273.8,946L1273.9,942.5L1274,939L1274,935.5L1274.1,932L1274.2,928.5L1274.3,925L1274.4,921.5L1274.4,918L1274.5,914.5L1274.6,911L1274.7,907.5L1274.7,904L1274.8,900.5L1274.9,897L1274.9,893.5L1275,890L1275.5,886.5L1277.9,883ZM1277.2,970.5L1278.4,974L1277.5,977.5L1276.6,981L1276.8,984.5L1276.2,988L1275.7,991.5L1275.3,995L1274.9,998.5L1274.5,1002L1274.7,1005.5L1274.8,1009L1274.8,1012.5L1274.9,1016L1275,1019.5L1275.1,1023L1275.2,1026.5L1275.3,1030L1275.4,1033.5L1275.5,1037L1275.7,1040.5L1275.8,1044L1275.9,1047.5L1276,1051L1276.1,1054.5L1276.2,1058L1276.3,1061.5L1276.3,1065L1276.3,1068.5L1276.3,1072L1276.3,1075.5L1276.4,1079L1276.4,1082.5L1276.5,1086L1276.7,1089.5L1276.8,1093L1277,1096.5L1277.2,1100L1277.4,1103.5L1277.6,1107L1277.8,1110.5L1278,1114L1278.2,1117.5L1278.3,1121L1278.5,1124.5L1278.6,1128L1278.8,1131.5L1276.8,1131.5L1276.7,1128L1276.5,1124.5L1276.3,1121L1276,1117.5L1275.7,1114L1275.5,1110.5L1275.2,1107L1274.9,1103.5L1274.6,1100L1274.4,1096.5L1274.1,1093L1273.9,1089.5L1273.7,1086L1273.6,1082.5L1273.5,1079L1273.4,1075.5L1273.4,1072L1273.4,1068.5L1273.4,1065L1273.3,1061.5L1273.2,1058L1273.1,1054.5L1273,1051L1272.8,1047.5L1272.7,1044L1272.5,1040.5L1272.4,1037L1272.2,1033.5L1272,1030L1271.9,1026.5L1271.8,1023L1271.6,1019.5L1271.5,1016L1271.4,1012.5L1271.4,1009L1271.4,1005.5L1271.6,1002L1271.5,998.5L1271.8,995L1272.2,991.5L1272.7,988L1273.2,984.5L1274.5,981L1274.6,977.5L1274.6,974L1276.5,970.5ZM1279.3,1198L1280,1201.5L1281.6,1205L1281.8,1208.5L1282.1,1212L1282.4,1215.5L1282.7,1219L1283,1222.5L1283.2,1226L1283.2,1229.5L1282,1229.5L1281.3,1226L1280.9,1222.5L1280.4,1219L1279.8,1215.5L1279.2,1212L1278.5,1208.5L1277.8,1205L1278.8,1201.5L1279,1198ZM1280.5,407L1282.3,410.5L1282.2,414L1282.1,417.5L1282,421L1281.9,424.5L1281.8,428L1281.7,431.5L1280.5,435L1278.2,435L1277.2,431.5L1277.4,428L1277.5,424.5L1277.6,421L1277.7,417.5L1277.9,414L1278,410.5L1279.9,407ZM1278.8,473.5L1280,477L1280.5,480.5L1280.4,484L1280.3,487.5L1280.2,491L1280.1,494.5L1279.6,498L1277.7,501.5L1277.4,501.5L1275.7,498L1275.4,494.5L1275.5,491L1275.7,487.5L1275.8,484L1275.9,480.5L1276.5,477L1277.9,473.5ZM1278.2,547L1279,550.5L1279,554L1279,557.5L1277.6,561L1275.5,561L1274.2,557.5L1274.2,554L1274.2,550.5L1275.1,547ZM1278.1,634.5L1279.6,638L1279.9,641.5L1280,645L1280.1,648.5L1280.3,652L1280.4,655.5L1280.5,659L1280.7,662.5L1280.8,666L1281,669.5L1281.1,673L1281.3,676.5L1281.4,680L1281.5,683.5L1281.7,687L1281.8,690.5L1281.9,694L1282.1,697.5L1282.2,701L1281.1,704.5L1280.1,708L1280.7,711.5L1281.5,715L1281.6,718.5L1281.9,722L1282.8,725.5L1282.9,729L1283,732.5L1283.1,736L1283.2,739.5L1283.2,743L1283.3,746.5L1283.4,750L1283.5,753.5L1283.5,757L1283.6,760.5L1283.6,764L1283.7,767.5L1283.8,771L1283.8,774.5L1283.9,778L1283.9,781.5L1284,785L1284.1,788.5L1284.1,792L1278.2,792L1278.1,788.5L1278.1,785L1278,781.5L1278,778L1277.9,774.5L1277.9,771L1277.8,767.5L1277.8,764L1277.7,760.5L1277.6,757L1277.6,753.5L1277.5,750L1277.5,746.5L1277.4,743L1277.4,739.5L1277.3,736L1277.3,732.5L1277.2,729L1277.2,725.5L1278,722L1278.2,718.5L1278.2,715L1278.7,711.5L1279.2,708L1278,704.5L1276.7,701L1276.6,697.5L1276.5,694L1276.4,690.5L1276.3,687L1276.1,683.5L1276,680L1275.9,676.5L1275.8,673L1275.6,669.5L1275.5,666L1275.4,662.5L1275.2,659L1275.1,655.5L1275,652L1274.9,648.5L1274.8,645L1274.7,641.5L1274.8,638L1276,634.5ZM1282.1,834L1282.5,837.5L1282.2,841L1281.2,841L1280.8,837.5L1281.2,834ZM1281.7,883L1282.9,886.5L1284,890L1284.4,893.5L1284.3,897L1284.1,900.5L1284,904L1283.9,907.5L1283.7,911L1283.6,914.5L1283.4,918L1283.3,921.5L1283.2,925L1283,928.5L1282.9,932L1282.7,935.5L1282.6,939L1281.8,942.5L1277.3,942.5L1276.7,939L1276.8,935.5L1277,932L1277.1,928.5L1277.2,925L1277.3,921.5L1277.5,918L1277.6,914.5L1277.7,911L1277.9,907.5L1278,904L1278.1,900.5L1278.2,897L1278.3,893.5L1278.9,890L1280.2,886.5L1281.5,883ZM1277,984.5L1277.5,988L1276.1,991.5L1274.3,991.5L1274,988L1275.7,984.5ZM1274.3,1002L1274.4,1005.5L1274.6,1009L1275.1,1012.5L1275.7,1016L1276,1019.5L1276.1,1023L1276.1,1026.5L1276.2,1030L1276.3,1033.5L1276.4,1037L1276.5,1040.5L1276.6,1044L1276.7,1047.5L1275.8,1051L1274.7,1051L1273.7,1047.5L1273.5,1044L1273.4,1040.5L1273.2,1037L1273.1,1033.5L1273,1030L1272.9,1026.5L1272.7,1023L1272.6,1019.5L1272.8,1016L1273.3,1012.5L1273.8,1009L1274,1005.5L1274.1,1002ZM1278.1,1107L1278.3,1110.5L1278.5,1114L1278.7,1117.5L1278.3,1121L1278.1,1124.5L1277.9,1124.5L1277.3,1121L1276.6,1117.5L1276.3,1114L1276,1110.5L1275.8,1107ZM1278.9,1152.5L1279.1,1156L1279,1159.5L1278.6,1159.5L1278.3,1156L1278.3,1152.5ZM1279.6,1180.5L1279.9,1184L1279.8,1187.5L1279.7,1191L1279.7,1194.5L1280,1198L1280.6,1201.5L1282.1,1205L1282.3,1208.5L1282.5,1212L1282.7,1215.5L1283,1219L1283.3,1222.5L1283.5,1226L1281.6,1226L1281.2,1222.5L1280.7,1219L1280.2,1215.5L1279.6,1212L1278.9,1208.5L1278.3,1205L1279.3,1201.5L1279.4,1198L1279.5,1194.5L1279.5,1191L1279.3,1187.5L1279.1,1184L1279.3,1180.5ZM1272.6,207.5L1273.8,211L1274.7,214.5L1275.1,218L1275.7,221.5L1276.5,225L1275.9,228.5L1276.6,232L1277.4,235.5L1278.2,239L1278.9,242.5L1279.5,246L1280,249.5L1280.1,253L1280.1,256.5L1279.7,260L1278.6,260L1278.2,256.5L1277.9,253L1277.3,249.5L1277,246L1276.6,242.5L1276.1,239L1275.6,235.5L1275,232L1274.5,228.5L1272.7,225L1272.4,221.5L1272,218L1271.7,214.5L1271.7,211L1271.9,207.5ZM1282.1,319.5L1282.8,323L1283.2,326.5L1283.1,330L1283.1,333.5L1283.1,337L1281.4,340.5L1280.7,340.5L1279,337L1279.1,333.5L1279.1,330L1279.1,326.5L1279.5,323L1280.2,319.5ZM1281.8,407L1283.4,410.5L1283.3,414L1283.2,417.5L1283.2,421L1283.1,424.5L1283,428L1282.9,431.5L1282.6,435L1278.6,435L1278.5,431.5L1278.6,428L1278.7,424.5L1278.8,421L1278.9,417.5L1278.9,414L1279,410.5L1280.7,407ZM1280.4,449L1280.6,452.5L1280.5,456L1279.9,456L1279.9,452.5L1280.2,449ZM1280.1,484L1280.3,487.5L1280.5,491L1280.9,494.5L1280.3,498L1279.4,498L1278.8,494.5L1279.3,491L1279.6,487.5L1279.9,484ZM1281.1,543.5L1282.2,547L1282.2,550.5L1281.6,554L1280.3,557.5L1279.5,557.5L1278.2,554L1277.4,550.5L1277.4,547L1278.4,543.5ZM1282.8,606.5L1283.4,610L1283.5,613.5L1283.6,617L1283.7,620.5L1283.8,624L1283.9,627.5L1284,631L1284.2,634.5L1284.3,638L1284.5,641.5L1284.7,645L1284.8,648.5L1285,652L1285.2,655.5L1285.3,659L1285.5,662.5L1285.2,666L1280.8,666L1280.2,662.5L1280.1,659L1279.9,655.5L1279.8,652L1279.6,648.5L1279.5,645L1279.3,641.5L1279.2,638L1279.1,634.5L1278.9,631L1278.8,627.5L1278.7,624L1278.6,620.5L1278.5,617L1278.4,613.5L1278.4,610L1278.8,606.5ZM1287.3,715L1287.4,718.5L1287.4,722L1287.5,725.5L1287.5,729L1287.6,732.5L1287.6,736L1287.7,739.5L1287.7,743L1287.7,746.5L1287.7,750L1287.8,753.5L1287.7,757L1287.7,760.5L1287.7,764L1287.7,767.5L1287.7,771L1287.7,774.5L1287.6,778L1287.6,781.5L1287.6,785L1287.6,788.5L1287.5,792L1287.5,795.5L1287.5,799L1287.5,802.5L1287.4,806L1287.4,809.5L1286.1,813L1286.3,816.5L1287.3,820L1286.2,823.5L1284.7,827L1285.7,830.5L1286.9,834L1286.5,837.5L1285.9,841L1285.4,844.5L1284.7,848L1284.6,851.5L1285.3,855L1286.2,858.5L1286.5,862L1284,865.5L1282.8,865.5L1280.5,862L1281,858.5L1282,855L1282.8,851.5L1282.9,848L1282.3,844.5L1281.9,841L1281.4,837.5L1281.1,834L1282.4,830.5L1283.5,827L1282.1,823.5L1281.2,820L1282.3,816.5L1282.6,813L1281.4,809.5L1281.4,806L1281.5,802.5L1281.5,799L1281.6,795.5L1281.6,792L1281.6,788.5L1281.7,785L1281.7,781.5L1281.7,778L1281.8,774.5L1281.8,771L1281.8,767.5L1281.8,764L1281.9,760.5L1281.9,757L1281.9,753.5L1281.9,750L1281.9,746.5L1281.9,743L1281.9,739.5L1281.9,736L1281.9,732.5L1281.9,729L1281.8,725.5L1281.8,722L1281.8,718.5L1281.8,715ZM1284.3,879.5L1285.9,883L1285.8,886.5L1285.6,890L1285.4,893.5L1285.3,897L1285.1,900.5L1284.9,904L1284.7,907.5L1284.5,911L1284.4,914.5L1284.2,918L1284,921.5L1283.8,925L1283.7,928.5L1283.5,932L1283.3,935.5L1283.2,939L1283.1,942.5L1282.1,946L1280.2,949.5L1279.6,949.5L1277.9,946L1277.2,942.5L1277.3,939L1277.4,935.5L1277.6,932L1277.7,928.5L1277.9,925L1278,921.5L1278.2,918L1278.4,914.5L1278.5,911L1278.7,907.5L1278.9,904L1279,900.5L1279.2,897L1279.3,893.5L1279.5,890L1279.6,886.5L1279.8,883L1281.7,879.5ZM1279.2,970.5L1279.4,974L1279.8,977.5L1279.2,981L1278.4,984.5L1277.7,988L1276.7,991.5L1276.3,995L1276.7,998.5L1276.5,1002L1276.5,1005.5L1276.6,1009L1276.6,1012.5L1276.7,1016L1276.8,1019.5L1276.9,1023L1277,1026.5L1277.1,1030L1277.2,1033.5L1277.4,1037L1277.5,1040.5L1277.7,1044L1276.9,1047.5L1275.6,1047.5L1274.6,1044L1274.4,1040.5L1274.2,1037L1274,1033.5L1273.9,1030L1273.7,1026.5L1273.6,1023L1273.4,1019.5L1273.3,1016L1273.2,1012.5L1273.2,1009L1273.1,1005.5L1273.1,1002L1273.3,998.5L1274.3,995L1274.7,991.5L1274.8,988L1275.3,984.5L1275.6,981L1276.1,977.5L1277.5,974L1278.4,970.5ZM1276.8,1058L1276.9,1061.5L1277.2,1065L1276.4,1065L1276.6,1061.5L1276.5,1058ZM1278.7,1103.5L1279.7,1107L1279.9,1110.5L1280,1114L1280.2,1117.5L1280.4,1121L1280.5,1124.5L1280.6,1128L1280.7,1131.5L1280.8,1135L1280.9,1138.5L1280.9,1142L1280.9,1145.5L1281,1149L1281,1152.5L1281.1,1156L1281.2,1159.5L1281.2,1163L1281.3,1166.5L1281.4,1170L1281.4,1173.5L1281.5,1177L1281.5,1180.5L1281.6,1184L1281.6,1187.5L1281.6,1191L1281.7,1194.5L1281.7,1198L1281.6,1201.5L1280.8,1201.5L1280.4,1198L1280.3,1194.5L1280.3,1191L1280.2,1187.5L1280.1,1184L1280.1,1180.5L1280,1177L1279.9,1173.5L1279.8,1170L1279.6,1166.5L1279.5,1163L1279.4,1159.5L1279.3,1156L1279.2,1152.5L1279.1,1149L1279.1,1145.5L1279.1,1142L1279,1138.5L1278.9,1135L1278.8,1131.5L1278.7,1128L1278.5,1124.5L1278.3,1121L1278,1117.5L1277.8,1114L1277.6,1110.5L1277.3,1107L1277.9,1103.5ZM1282.7,1219L1283.2,1222.5L1283.4,1226L1282.9,1226L1282.5,1222.5L1282.5,1219ZM1272.7,207.5L1274.1,211L1275.1,214.5L1275.5,218L1276.1,221.5L1277,225L1276.4,228.5L1277.2,232L1278.1,235.5L1278.9,239L1279.7,242.5L1280.4,246L1280.6,249.5L1280.2,253L1280.6,256.5L1280.9,260L1279.5,260L1279.7,256.5L1279.8,253L1278.6,249.5L1277.9,246L1277.4,242.5L1276.9,239L1276.3,235.5L1275.6,232L1275,228.5L1273.1,225L1272.8,221.5L1272.4,218L1272.1,214.5L1272,211L1272,207.5ZM1284.2,312.5L1284.4,316L1284.5,319.5L1284.5,323L1284.6,326.5L1284.6,330L1284.5,333.5L1284.5,337L1284.6,340.5L1284.6,344L1284.6,347.5L1282.8,351L1282.5,351L1280.6,347.5L1280.5,344L1280.5,340.5L1280.5,337L1280.5,333.5L1280.5,330L1280.6,326.5L1280.6,323L1280.5,319.5L1280.5,316L1280.4,312.5ZM1283.9,382.5L1285.5,386L1284.9,389.5L1283.5,393L1283.5,396.5L1283.5,400L1283.7,403.5L1284.4,407L1284.7,410.5L1284.6,414L1284.6,417.5L1283.9,421L1282.4,421L1281.9,417.5L1281.9,414L1281.9,410.5L1282.3,407L1283,403.5L1283.2,400L1283.2,396.5L1283.2,393L1281.8,389.5L1281.1,386L1282.6,382.5ZM1283.8,438.5L1285.2,442L1285.2,445.5L1285.1,449L1285.1,452.5L1285.1,456L1285.1,459.5L1285.1,463L1285.2,466.5L1285.2,470L1285.2,473.5L1284.5,477L1281.3,477L1280.6,473.5L1280.5,470L1280.5,466.5L1280.5,463L1280.5,459.5L1280.5,456L1280.5,452.5L1280.6,449L1280.6,445.5L1280.6,442L1282.1,438.5ZM1283.6,547L1284.3,550.5L1285.1,554L1284.5,557.5L1284.1,561L1284.7,564.5L1285.2,568L1285.3,571.5L1285,575L1284.6,578.5L1284.5,582L1284.6,585.5L1285,589L1285.9,592.5L1286.5,596L1286.2,599.5L1286.1,603L1286.7,606.5L1286.7,610L1286.8,613.5L1286.9,617L1287,620.5L1287.1,624L1287.2,627.5L1287.3,631L1287.5,634.5L1287.6,638L1287.8,641.5L1287,645L1285.9,648.5L1285,648.5L1283.7,645L1282.6,641.5L1282.5,638L1282.4,634.5L1282.2,631L1282.1,627.5L1282,624L1281.9,620.5L1281.8,617L1281.8,613.5L1281.7,610L1281.6,606.5L1282.1,603L1281.9,599.5L1281.5,596L1281.9,592.5L1282.7,589L1282.9,585.5L1283,582L1282.7,578.5L1282.1,575L1281.7,571.5L1281.6,568L1282,564.5L1282.5,561L1281.9,557.5L1281.2,554L1281.8,550.5L1282.5,547ZM1288.6,694L1289.9,697.5L1290,701L1290.1,704.5L1290.2,708L1290.2,711.5L1290.3,715L1290.4,718.5L1290.4,722L1290.5,725.5L1290.5,729L1290.5,732.5L1290.6,736L1290.6,739.5L1290.6,743L1290.6,746.5L1290.6,750L1290.6,753.5L1290.6,757L1284.7,757L1284.8,753.5L1284.8,750L1284.8,746.5L1284.8,743L1284.8,739.5L1284.8,736L1284.8,732.5L1284.8,729L1284.8,725.5L1284.8,722L1284.8,718.5L1284.8,715L1284.7,711.5L1284.7,708L1284.6,704.5L1284.5,701L1284.5,697.5L1285.6,694ZM1288.7,795.5L1290.2,799L1290.2,802.5L1290.1,806L1290.1,809.5L1290.1,813L1290,816.5L1290,820L1289.9,823.5L1289.9,827L1289.9,830.5L1289.8,834L1289.8,837.5L1289.7,841L1289.7,844.5L1289.6,848L1289.5,851.5L1289.5,855L1289.4,858.5L1289.4,862L1289.3,865.5L1288.3,869L1289.1,872.5L1289,876L1288.9,879.5L1288.7,883L1288.6,886.5L1288.4,890L1288.3,893.5L1288.1,897L1287.9,900.5L1287.7,904L1287.5,907.5L1287.4,911L1286,914.5L1282.4,914.5L1281.4,911L1281.5,907.5L1281.7,904L1281.8,900.5L1282,897L1282.2,893.5L1282.3,890L1282.4,886.5L1282.6,883L1282.7,879.5L1282.8,876L1282.9,872.5L1284,869L1283.1,865.5L1283.2,862L1283.2,858.5L1283.3,855L1283.4,851.5L1283.4,848L1283.5,844.5L1283.6,841L1283.6,837.5L1283.7,834L1283.8,830.5L1283.8,827L1283.9,823.5L1283.9,820L1284,816.5L1284,813L1284.1,809.5L1284.1,806L1284.2,802.5L1284.2,799L1285.9,795.5ZM1284.2,949.5L1285.6,953L1285.2,956.5L1284.6,960L1284,963.5L1283.4,967L1282.8,970.5L1282.2,974L1281.7,977.5L1281.2,981L1280.5,984.5L1279.9,988L1279.4,991.5L1278.9,995L1278.5,998.5L1278.4,1002L1278.4,1005.5L1278.4,1009L1278.4,1012.5L1278.5,1016L1278.6,1019.5L1278.7,1023L1278.8,1026.5L1278.9,1030L1279,1033.5L1279.1,1037L1279.3,1040.5L1279.4,1044L1279.5,1047.5L1279.5,1051L1279.7,1054.5L1279.8,1058L1279.9,1061.5L1280,1065L1280,1068.5L1280.1,1072L1280.1,1075.5L1280.2,1079L1279.6,1082.5L1278,1082.5L1277.3,1079L1277.2,1075.5L1277.1,1072L1277.1,1068.5L1277,1065L1276.9,1061.5L1276.8,1058L1276.7,1054.5L1276.7,1051L1276.4,1047.5L1276.3,1044L1276.1,1040.5L1276,1037L1275.8,1033.5L1275.7,1030L1275.5,1026.5L1275.4,1023L1275.3,1019.5L1275.2,1016L1275.1,1012.5L1275,1009L1275,1005.5L1275,1002L1275.1,998.5L1275.4,995L1275.8,991.5L1276.4,988L1276.9,984.5L1277.5,981L1278,977.5L1278.5,974L1278.9,970.5L1279.2,967L1279.3,963.5L1279.5,960L1279.7,956.5L1279.8,953L1281.5,949.5ZM1279.5,1089.5L1280.5,1093L1280.7,1096.5L1280.8,1100L1280.9,1103.5L1281.1,1107L1281.2,1110.5L1281.3,1114L1281.4,1117.5L1281.5,1121L1281.6,1124.5L1281.7,1128L1281.8,1131.5L1281.9,1135L1281.1,1138.5L1280.9,1138.5L1280,1135L1279.9,1131.5L1279.8,1128L1279.6,1124.5L1279.5,1121L1279.3,1117.5L1279.1,1114L1278.9,1110.5L1278.7,1107L1278.4,1103.5L1278.2,1100L1278,1096.5L1277.8,1093L1278.6,1089.5ZM1282,1149L1282,1152.5L1282.1,1156L1282.1,1159.5L1282.2,1163L1282.2,1166.5L1282.2,1170L1282.3,1173.5L1282.3,1177L1282.3,1180.5L1282.4,1184L1282.4,1187.5L1282.4,1191L1282.4,1194.5L1282.5,1198L1282.3,1201.5L1281.5,1201.5L1281.1,1198L1281,1194.5L1281,1191L1281,1187.5L1280.9,1184L1280.9,1180.5L1280.8,1177L1280.7,1173.5L1280.6,1170L1280.6,1166.5L1280.5,1163L1280.4,1159.5L1280.3,1156L1280.2,1152.5L1280.2,1149ZM1272.8,207.5L1274.3,211L1275.4,214.5L1275.8,218L1276.4,221.5L1277.3,225L1276.8,228.5L1277.2,232L1278.2,235.5L1279.5,239L1280.3,242.5L1281.1,246L1281.7,249.5L1282.2,253L1282.5,256.5L1282.5,260L1282.5,263.5L1282.6,267L1282.7,270.5L1282.9,274L1283.1,277.5L1283.3,281L1283.6,284.5L1283.8,288L1284.1,291.5L1284.4,295L1284.7,298.5L1285,302L1285.2,305.5L1285.5,309L1285.7,312.5L1285.9,316L1286.1,319.5L1286.2,323L1286.3,326.5L1286.3,330L1286.4,333.5L1286.4,337L1286.5,340.5L1286.6,344L1286.7,347.5L1286.9,351L1287,354.5L1286.6,358L1287.2,361.5L1287.5,365L1287.6,368.5L1287.8,372L1287.9,375.5L1288.1,379L1288.2,382.5L1288.4,386L1288.5,389.5L1288.6,393L1288.7,396.5L1288.7,400L1288.8,403.5L1288.8,407L1288.9,410.5L1288.9,414L1289,417.5L1288.6,421L1285,421L1284.6,417.5L1284.5,414L1284.5,410.5L1284.5,407L1284.4,403.5L1284.4,400L1284.3,396.5L1284.3,393L1284.2,389.5L1284.1,386L1284,382.5L1283.8,379L1283.7,375.5L1283.6,372L1283.4,368.5L1283.3,365L1283.3,361.5L1283.5,358L1282.9,354.5L1282.8,351L1282.7,347.5L1282.6,344L1282.5,340.5L1282.4,337L1282.3,333.5L1282.3,330L1282.3,326.5L1282.2,323L1282.1,319.5L1282,316L1281.9,312.5L1281.7,309L1281.5,305.5L1281.3,302L1281.1,298.5L1280.9,295L1280.7,291.5L1280.5,288L1280.3,284.5L1280.1,281L1280,277.5L1279.8,274L1279.7,270.5L1279.6,267L1279.6,263.5L1279.6,260L1279.5,256.5L1279.4,253L1279,249.5L1278.6,246L1278,242.5L1277.4,239L1277.2,235.5L1276.6,232L1275.4,228.5L1273.5,225L1273.1,221.5L1272.7,218L1272.4,214.5L1272.2,211L1272,207.5ZM1288.1,435L1289.2,438.5L1289.2,442L1289.3,445.5L1289.3,449L1289.3,452.5L1289.4,456L1289.4,459.5L1289.5,463L1289.5,466.5L1289.6,470L1289.6,473.5L1289.6,477L1289.7,480.5L1289.7,484L1289.7,487.5L1289.7,491L1289.7,494.5L1289.7,498L1289.7,501.5L1289.6,505L1289.6,508.5L1289.6,512L1289.6,515.5L1289.6,519L1289.5,522.5L1289.5,526L1289.5,529.5L1289.5,533L1289.5,536.5L1289.5,540L1289.5,543.5L1289.5,547L1289.5,550.5L1289.5,554L1289.6,557.5L1289.6,561L1289.6,564.5L1289.6,568L1289.6,571.5L1289.6,575L1289.6,578.5L1289.6,582L1289.6,585.5L1289.6,589L1289.6,592.5L1289.6,596L1289.5,599.5L1289.5,603L1289.4,606.5L1289.4,610L1289.4,613.5L1289.3,617L1289.3,620.5L1289.4,624L1288.6,627.5L1287.5,631L1288.9,634.5L1289.5,638L1284.4,638L1284.9,634.5L1286.2,631L1285.1,627.5L1284.3,624L1284.3,620.5L1284.3,617L1284.3,613.5L1284.4,610L1284.4,606.5L1284.5,603L1284.5,599.5L1284.6,596L1284.6,592.5L1284.6,589L1284.7,585.5L1284.7,582L1284.7,578.5L1284.7,575L1284.7,571.5L1284.7,568L1284.7,564.5L1284.7,561L1284.7,557.5L1284.7,554L1284.7,550.5L1284.7,547L1284.7,543.5L1284.7,540L1284.7,536.5L1284.7,533L1284.7,529.5L1284.7,526L1284.8,522.5L1284.8,519L1284.8,515.5L1284.8,512L1284.9,508.5L1284.9,505L1284.9,501.5L1285,498L1285,494.5L1285,491L1285,487.5L1285,484L1285,480.5L1285,477L1285,473.5L1284.9,470L1284.9,466.5L1284.8,463L1284.8,459.5L1284.8,456L1284.7,452.5L1284.7,449L1284.7,445.5L1284.7,442L1284.7,438.5L1285.7,435ZM1287.6,669.5L1290.1,673L1290.2,676.5L1290.2,680L1290.2,683.5L1290.3,687L1290.3,690.5L1290.3,694L1290.3,697.5L1290.3,701L1290.3,704.5L1290.4,708L1290.4,711.5L1290.4,715L1290.5,718.5L1290.5,722L1290.5,725.5L1290.5,729L1290.5,732.5L1290.6,736L1290.6,739.5L1290.6,743L1290.6,746.5L1290.6,750L1290.6,753.5L1290.6,757L1290.6,760.5L1290.6,764L1290.6,767.5L1290.6,771L1290.7,774.5L1288.5,778L1287.9,781.5L1287.6,781.5L1287,778L1284.8,774.5L1284.8,771L1284.8,767.5L1284.8,764L1284.8,760.5L1284.8,757L1284.8,753.5L1284.8,750L1284.8,746.5L1284.8,743L1284.8,739.5L1284.8,736L1284.8,732.5L1284.8,729L1284.8,725.5L1284.9,722L1284.9,718.5L1284.9,715L1284.9,711.5L1284.9,708L1284.9,704.5L1284.9,701L1284.9,697.5L1284.9,694L1284.9,690.5L1284.8,687L1284.8,683.5L1284.8,680L1284.8,676.5L1284.7,673L1287.1,669.5ZM1288.3,806L1290.6,809.5L1291.2,813L1291.3,816.5L1291.4,820L1291.5,823.5L1291.6,827L1291.7,830.5L1291.8,834L1291.9,837.5L1291.9,841L1292,844.5L1292.1,848L1292.2,851.5L1292.3,855L1292.4,858.5L1292.5,862L1292.6,865.5L1292.6,869L1292.7,872.5L1292.7,876L1292.7,879.5L1292.7,883L1292.7,886.5L1292.1,890L1291.3,893.5L1291.3,897L1292.6,900.5L1292.5,904L1292.5,907.5L1292.4,911L1292.3,914.5L1292.3,918L1292.2,921.5L1292.1,925L1292.1,928.5L1292,932L1292,935.5L1291.9,939L1291.9,942.5L1291.9,946L1291.8,949.5L1291.6,953L1291,956.5L1290.1,960L1289,963.5L1288,967L1287,970.5L1286.3,974L1285.8,977.5L1285.2,981L1284.6,984.5L1283.9,988L1283.3,991.5L1282.8,995L1282.4,998.5L1282.2,1002L1282.2,1005.5L1282.2,1009L1282.2,1012.5L1282.2,1016L1282.2,1019.5L1282.3,1023L1282.3,1026.5L1282.4,1030L1282.4,1033.5L1282.5,1037L1282.5,1040.5L1282.6,1044L1282.6,1047.5L1282.6,1051L1282.7,1054.5L1282.7,1058L1282.7,1061.5L1282.7,1065L1282.7,1068.5L1282.6,1072L1282.6,1075.5L1282.6,1079L1282.6,1082.5L1282,1086L1282.6,1089.5L1282.6,1093L1282.6,1096.5L1282.6,1100L1282.6,1103.5L1282.6,1107L1282.6,1110.5L1282.6,1114L1282.7,1117.5L1282.7,1121L1282.7,1124.5L1282.7,1128L1282.7,1131.5L1282.7,1135L1282.7,1138.5L1282.7,1142L1282.7,1145.5L1282.7,1149L1282.6,1152.5L1282.6,1156L1282.6,1159.5L1282.6,1163L1282.6,1166.5L1282.6,1170L1282.6,1173.5L1282.6,1177L1282.6,1180.5L1282.6,1184L1282.6,1187.5L1282.6,1191L1282.6,1194.5L1282.6,1198L1282.6,1201.5L1284,1205L1284,1208.5L1284,1212L1284,1215.5L1284.1,1219L1284.3,1222.5L1284.5,1226L1284,1229.5L1283.3,1233L1283,1233L1282.8,1229.5L1282.5,1226L1282.2,1222.5L1281.8,1219L1281.4,1215.5L1281,1212L1280.6,1208.5L1280.2,1205L1281.3,1201.5L1281.2,1198L1281.2,1194.5L1281.2,1191L1281.2,1187.5L1281.1,1184L1281.1,1180.5L1281.1,1177L1281,1173.5L1281,1170L1281,1166.5L1280.9,1163L1280.9,1159.5L1280.8,1156L1280.8,1152.5L1280.8,1149L1280.8,1145.5L1280.8,1142L1280.9,1138.5L1280.8,1135L1280.8,1131.5L1280.7,1128L1280.7,1124.5L1280.6,1121L1280.5,1117.5L1280.4,1114L1280.3,1110.5L1280.2,1107L1280.1,1103.5L1280,1100L1279.9,1096.5L1279.9,1093L1279.8,1089.5L1280.3,1086L1279.7,1082.5L1279.7,1079L1279.7,1075.5L1279.7,1072L1279.7,1068.5L1279.7,1065L1279.7,1061.5L1279.7,1058L1279.6,1054.5L1279.6,1051L1279.5,1047.5L1279.4,1044L1279.4,1040.5L1279.3,1037L1279.2,1033.5L1279.1,1030L1279,1026.5L1279,1023L1278.9,1019.5L1278.9,1016L1278.8,1012.5L1278.8,1009L1278.8,1005.5L1278.8,1002L1278.9,998.5L1279.3,995L1279.8,991.5L1280.4,988L1281,984.5L1281.6,981L1282.1,977.5L1282.6,974L1283.1,970.5L1283.8,967L1284.4,963.5L1285,960L1285.5,956.5L1285.9,953L1286,949.5L1286,946L1286,942.5L1286,939L1286.1,935.5L1286.1,932L1286.1,928.5L1286.2,925L1286.2,921.5L1286.3,918L1286.3,914.5L1286.4,911L1286.4,907.5L1286.5,904L1286.5,900.5L1287.8,897L1288,893.5L1287.2,890L1286.6,886.5L1286.6,883L1286.6,879.5L1286.6,876L1286.5,872.5L1286.5,869L1286.4,865.5L1286.3,862L1286.2,858.5L1286.1,855L1286.1,851.5L1286,848L1285.9,844.5L1285.8,841L1285.7,837.5L1285.6,834L1285.6,830.5L1285.5,827L1285.4,823.5L1285.3,820L1285.3,816.5L1285.2,813L1285.7,809.5L1287.9,806ZM1273,207.5L1274.8,211L1276.2,214.5L1276.7,218L1277.4,221.5L1278.4,225L1278.1,228.5L1279.2,232L1280.4,235.5L1281.5,239L1282.6,242.5L1283.6,246L1284.4,249.5L1285,253L1285.3,256.5L1285.4,260L1285.4,263.5L1285.5,267L1285.7,270.5L1285.9,274L1286.1,277.5L1286.4,281L1286.7,284.5L1287,288L1287.3,291.5L1287.7,295L1288,298.5L1288.3,302L1288.6,305.5L1288.9,309L1289.1,312.5L1289.3,316L1289.5,319.5L1289.5,323L1289.6,326.5L1289.5,330L1289.5,333.5L1289.5,337L1289.5,340.5L1289.5,344L1289.6,347.5L1289.6,351L1289.7,354.5L1289.8,358L1289.9,361.5L1290,365L1290.1,368.5L1290.1,372L1290.2,375.5L1290.3,379L1290.3,382.5L1290.4,386L1290.4,389.5L1290.4,393L1290.4,396.5L1290.4,400L1290.3,403.5L1290.3,407L1290.3,410.5L1290.2,414L1290.2,417.5L1290.1,421L1290.1,424.5L1290.1,428L1290,431.5L1290,435L1290,438.5L1290,442L1289.9,445.5L1289.3,449L1286,449L1285.4,445.5L1285.4,442L1285.5,438.5L1285.5,435L1285.6,431.5L1285.6,428L1285.7,424.5L1285.7,421L1285.8,417.5L1285.9,414L1285.9,410.5L1286,407L1286,403.5L1286,400L1286.1,396.5L1286.1,393L1286.1,389.5L1286.1,386L1286,382.5L1286,379L1286,375.5L1285.9,372L1285.8,368.5L1285.8,365L1285.7,361.5L1285.7,358L1285.6,354.5L1285.6,351L1285.5,347.5L1285.5,344L1285.5,340.5L1285.5,337L1285.5,333.5L1285.5,330L1285.6,326.5L1285.5,323L1285.5,319.5L1285.4,316L1285.2,312.5L1285.1,309L1284.9,305.5L1284.7,302L1284.4,298.5L1284.2,295L1283.9,291.5L1283.7,288L1283.4,284.5L1283.2,281L1283,277.5L1282.8,274L1282.7,270.5L1282.6,267L1282.5,263.5L1282.5,260L1282.4,256.5L1282.2,253L1281.7,249.5L1281.1,246L1280.3,242.5L1279.4,239L1278.5,235.5L1277.6,232L1276.7,228.5L1274.6,225L1274,221.5L1273.6,218L1273.2,214.5L1272.8,211L1272.2,207.5ZM1288.3,459.5L1289.9,463L1289.9,466.5L1289.9,470L1289.9,473.5L1290,477L1290,480.5L1289.9,484L1289.9,487.5L1289.9,491L1289.9,494.5L1289.9,498L1289.9,501.5L1289.9,505L1289.9,508.5L1289.9,512L1289.9,515.5L1289.9,519L1289.9,522.5L1290,526L1290,529.5L1290,533L1290.1,536.5L1290.2,540L1290.2,543.5L1290.3,547L1290.4,550.5L1290.5,554L1290.6,557.5L1290.7,561L1290.8,564.5L1290.9,568L1291,571.5L1291.1,575L1291.3,578.5L1291.4,582L1291.5,585.5L1291.6,589L1291.7,592.5L1291.8,596L1291.8,599.5L1291.9,603L1292,606.5L1292,610L1292.1,613.5L1292.2,617L1292.4,620.5L1292.5,624L1292.6,627.5L1292.8,631L1291.4,634.5L1289.4,634.5L1287.7,631L1287.6,627.5L1287.4,624L1287.3,620.5L1287.2,617L1287.1,613.5L1287,610L1287,606.5L1286.9,603L1286.8,599.5L1286.8,596L1286.7,592.5L1286.6,589L1286.5,585.5L1286.4,582L1286.3,578.5L1286.2,575L1286.1,571.5L1286,568L1285.9,564.5L1285.8,561L1285.8,557.5L1285.7,554L1285.6,550.5L1285.5,547L1285.4,543.5L1285.4,540L1285.3,536.5L1285.3,533L1285.2,529.5L1285.2,526L1285.2,522.5L1285.2,519L1285.2,515.5L1285.2,512L1285.2,508.5L1285.2,505L1285.2,501.5L1285.2,498L1285.2,494.5L1285.3,491L1285.3,487.5L1285.3,484L1285.3,480.5L1285.3,477L1285.3,473.5L1285.3,470L1285.3,466.5L1285.3,463L1286.9,459.5ZM1292.6,652L1293.4,655.5L1294.2,659L1294.5,662.5L1294.6,666L1294.8,669.5L1295,673L1295.1,676.5L1295.2,680L1295.4,683.5L1295.4,687L1295.5,690.5L1295.6,694L1295.7,697.5L1295.8,701L1295.9,704.5L1296,708L1296.1,711.5L1296.1,715L1296.2,718.5L1296.3,722L1296.4,725.5L1296.4,729L1296.5,732.5L1296.5,736L1296.6,739.5L1296.6,743L1296.6,746.5L1296.6,750L1296.6,753.5L1296.6,757L1296.5,760.5L1296.4,764L1296.4,767.5L1296.3,771L1296.3,774.5L1296.2,778L1296.2,781.5L1296.1,785L1296.1,788.5L1296,792L1296,795.5L1296,799L1295.9,802.5L1295.9,806L1295.8,809.5L1295.8,813L1295.8,816.5L1295.7,820L1295.7,823.5L1295.6,827L1295.6,830.5L1295.6,834L1295.5,837.5L1295.5,841L1295.4,844.5L1295.4,848L1295.3,851.5L1295.3,855L1292.8,858.5L1291.5,858.5L1289.1,855L1289.1,851.5L1289.2,848L1289.3,844.5L1289.3,841L1289.4,837.5L1289.4,834L1289.5,830.5L1289.5,827L1289.6,823.5L1289.7,820L1289.7,816.5L1289.8,813L1289.8,809.5L1289.9,806L1289.9,802.5L1290,799L1290,795.5L1290.1,792L1290.2,788.5L1290.2,785L1290.3,781.5L1290.3,778L1290.4,774.5L1290.4,771L1290.5,767.5L1290.6,764L1290.6,760.5L1290.7,757L1290.7,753.5L1290.8,750L1290.8,746.5L1290.8,743L1290.8,739.5L1290.8,736L1290.8,732.5L1290.7,729L1290.7,725.5L1290.7,722L1290.6,718.5L1290.6,715L1290.5,711.5L1290.5,708L1290.4,704.5L1290.3,701L1290.3,697.5L1290.2,694L1290.1,690.5L1290,687L1290,683.5L1289.8,680L1289.7,676.5L1289.6,673L1289.5,669.5L1289.3,666L1289.2,662.5L1289.1,659L1289.5,655.5L1290,652ZM1292.4,876L1294.7,879.5L1294.5,883L1294.4,886.5L1294.2,890L1294.1,893.5L1293.9,897L1293.7,900.5L1293.6,904L1293.4,907.5L1293.2,911L1293.1,914.5L1292.9,918L1292.8,921.5L1292.6,925L1292.5,928.5L1292.4,932L1292.2,935.5L1292.1,939L1292.1,942.5L1292,946L1292,949.5L1291.7,953L1291.1,956.5L1290.1,960L1289.1,963.5L1288,967L1287.1,970.5L1286.3,974L1285.9,977.5L1285.3,981L1284.7,984.5L1284,988L1283.4,991.5L1282.9,995L1282.6,998.5L1282.4,1002L1282.4,1005.5L1282.5,1009L1282.6,1012.5L1282.6,1016L1282.7,1019.5L1282.8,1023L1282.9,1026.5L1283,1030L1283.1,1033.5L1283.2,1037L1283.3,1040.5L1283.4,1044L1283.5,1047.5L1283.6,1051L1283.7,1054.5L1283.8,1058L1283.8,1061.5L1283.9,1065L1284,1068.5L1284,1072L1284,1075.5L1284.1,1079L1284.1,1082.5L1284.1,1086L1284.2,1089.5L1284.2,1093L1284.2,1096.5L1284.3,1100L1284.3,1103.5L1284.3,1107L1284.3,1110.5L1284.3,1114L1284.3,1117.5L1284.4,1121L1284.4,1124.5L1284.4,1128L1284.4,1131.5L1284.4,1135L1284.4,1138.5L1284.4,1142L1284.4,1145.5L1284.4,1149L1284.4,1152.5L1284.4,1156L1284.3,1159.5L1284.3,1163L1284.3,1166.5L1284.2,1170L1284.2,1173.5L1284.2,1177L1284.1,1180.5L1284.1,1184L1284.1,1187.5L1284.1,1191L1284.1,1194.5L1284,1198L1284,1201.5L1285.3,1205L1285.1,1208.5L1284.9,1212L1284.8,1215.5L1284.8,1219L1284.9,1222.5L1285.1,1226L1284.5,1229.5L1283.4,1233L1283.1,1233L1283.2,1229.5L1283.1,1226L1282.9,1222.5L1282.6,1219L1282.3,1215.5L1282,1212L1281.7,1208.5L1281.5,1205L1282.7,1201.5L1282.7,1198L1282.7,1194.5L1282.7,1191L1282.7,1187.5L1282.7,1184L1282.7,1180.5L1282.7,1177L1282.7,1173.5L1282.6,1170L1282.6,1166.5L1282.6,1163L1282.6,1159.5L1282.6,1156L1282.6,1152.5L1282.6,1149L1282.6,1145.5L1282.5,1142L1282.5,1138.5L1282.5,1135L1282.5,1131.5L1282.4,1128L1282.3,1124.5L1282.3,1121L1282.2,1117.5L1282.1,1114L1282,1110.5L1281.9,1107L1281.8,1103.5L1281.7,1100L1281.6,1096.5L1281.5,1093L1281.4,1089.5L1281.3,1086L1281.2,1082.5L1281.2,1079L1281.1,1075.5L1281.1,1072L1281,1068.5L1281,1065L1280.9,1061.5L1280.8,1058L1280.7,1054.5L1280.6,1051L1280.4,1047.5L1280.3,1044L1280.2,1040.5L1280,1037L1279.9,1033.5L1279.8,1030L1279.6,1026.5L1279.5,1023L1279.4,1019.5L1279.3,1016L1279.2,1012.5L1279.1,1009L1279,1005.5L1279,1002L1279.1,998.5L1279.5,995L1279.9,991.5L1280.5,988L1281.1,984.5L1281.6,981L1282.2,977.5L1282.6,974L1283.2,970.5L1283.8,967L1284.4,963.5L1285,960L1285.6,956.5L1285.9,953L1286.1,949.5L1286.1,946L1286.2,942.5L1286.3,939L1286.3,935.5L1286.4,932L1286.6,928.5L1286.7,925L1286.8,921.5L1286.9,918L1287.1,914.5L1287.2,911L1287.4,907.5L1287.5,904L1287.7,900.5L1287.8,897L1288,893.5L1288.1,890L1288.3,886.5L1288.4,883L1288.5,879.5L1291.1,876ZM1273.1,207.5L1275.2,211L1276.7,214.5L1277.2,218L1278,221.5L1279.1,225L1278.9,228.5L1280.1,232L1281.4,235.5L1282.7,239L1283.9,242.5L1285,246L1286,249.5L1286.7,253L1287.1,256.5L1287.2,260L1287.2,263.5L1287.4,267L1287.6,270.5L1286.8,274L1288.1,277.5L1288.5,281L1288.8,284.5L1285.6,284.5L1285.3,281L1285,277.5L1285.7,274L1284.5,270.5L1284.4,267L1284.3,263.5L1284.2,260L1284.2,256.5L1283.8,253L1283.3,249.5L1282.5,246L1281.6,242.5L1280.6,239L1279.6,235.5L1278.5,232L1277.5,228.5L1275.2,225L1274.6,221.5L1274.1,218L1273.7,214.5L1273.1,211L1272.4,207.5ZM1288.9,291.5L1290,295L1289.5,298.5L1287.8,298.5L1286.5,295L1286.9,291.5ZM1290.3,312.5L1291.8,316L1291.6,319.5L1291.6,323L1291.6,326.5L1291.4,330L1292.2,333.5L1292.5,337L1291.9,340.5L1292.3,344L1292.6,347.5L1292.7,351L1292.8,354.5L1292.9,358L1293,361.5L1293.1,365L1293.3,368.5L1293.4,372L1293.4,375.5L1293.5,379L1293.6,382.5L1293.6,386L1293.7,389.5L1293.7,393L1293.7,396.5L1293.6,400L1293.6,403.5L1293.5,407L1293.4,410.5L1289.3,410.5L1289.2,407L1289.2,403.5L1289.3,400L1289.3,396.5L1289.4,393L1289.4,389.5L1289.3,386L1289.3,382.5L1289.3,379L1289.2,375.5L1289.1,372L1289,368.5L1289,365L1288.9,361.5L1288.8,358L1288.7,354.5L1288.6,351L1288.6,347.5L1288.7,344L1289.1,340.5L1288.4,337L1288.6,333.5L1289.5,330L1289.3,326.5L1289.2,323L1289,319.5L1288.5,316L1289.5,312.5ZM1290.6,463L1292.6,466.5L1292.7,470L1292.7,473.5L1292.6,477L1292.6,480.5L1292.5,484L1292.5,487.5L1292.4,491L1292.3,494.5L1292.3,498L1292.2,501.5L1292.1,505L1292.1,508.5L1292,512L1292,515.5L1291.9,519L1291.9,522.5L1291.9,526L1291.8,529.5L1291.8,533L1290.5,536.5L1288.3,536.5L1287,533L1287,529.5L1287.1,526L1287.1,522.5L1287.2,519L1287.2,515.5L1287.3,512L1287.4,508.5L1287.4,505L1287.5,501.5L1287.6,498L1287.6,494.5L1287.7,491L1287.8,487.5L1287.9,484L1287.9,480.5L1288,477L1288,473.5L1288.1,470L1288.2,466.5L1290.3,463ZM1290.4,557.5L1291.1,561L1289.8,564.5L1289.5,564.5L1288.1,561L1288.7,557.5ZM1291,571.5L1292.3,575L1292.3,578.5L1292.4,582L1292.5,585.5L1292.5,589L1292.6,592.5L1292.7,596L1292.7,599.5L1292.8,603L1292.8,606.5L1292.8,610L1292.9,613.5L1293,617L1293.1,620.5L1293.2,624L1293.4,627.5L1293.5,631L1293.7,634.5L1292.4,638L1293.3,641.5L1294.3,645L1294.5,648.5L1294.7,652L1294.9,655.5L1295.1,659L1295.4,662.5L1295.6,666L1295.8,669.5L1296,673L1296.2,676.5L1296.3,680L1296.5,683.5L1296.7,687L1296.8,690.5L1296.9,694L1297.1,697.5L1297.3,701L1297.4,704.5L1297.6,708L1297.8,711.5L1298,715L1298.2,718.5L1298.3,722L1298.5,725.5L1298.7,729L1298.8,732.5L1299,736L1299.1,739.5L1299.3,743L1299.4,746.5L1299.5,750L1299.6,753.5L1299.7,757L1299.8,760.5L1299.8,764L1299.9,767.5L1299.9,771L1300,774.5L1300.1,778L1300.1,781.5L1300.2,785L1300.3,788.5L1300.4,792L1300.5,795.5L1300.5,799L1300.6,802.5L1300.7,806L1300.8,809.5L1300.8,813L1300.9,816.5L1301,820L1301,823.5L1301.1,827L1301.2,830.5L1301.2,834L1301.3,837.5L1301.3,841L1301.3,844.5L1301.4,848L1301.4,851.5L1300.6,855L1296,855L1295.2,851.5L1295.2,848L1295.2,844.5L1295.2,841L1295.1,837.5L1295.1,834L1295.1,830.5L1295,827L1295,823.5L1294.9,820L1294.9,816.5L1294.8,813L1294.7,809.5L1294.7,806L1294.6,802.5L1294.6,799L1294.5,795.5L1294.4,792L1294.4,788.5L1294.3,785L1294.2,781.5L1294.2,778L1294.1,774.5L1294.1,771L1294,767.5L1294,764L1293.9,760.5L1293.8,757L1293.8,753.5L1293.7,750L1293.6,746.5L1293.5,743L1293.4,739.5L1293.2,736L1293.1,732.5L1293,729L1292.8,725.5L1292.7,722L1292.6,718.5L1292.4,715L1292.3,711.5L1292.1,708L1292,704.5L1291.8,701L1291.7,697.5L1291.5,694L1291.4,690.5L1291.3,687L1291.1,683.5L1291,680L1290.8,676.5L1290.6,673L1290.4,669.5L1290.2,666L1290,662.5L1289.9,659L1289.7,655.5L1289.5,652L1289.3,648.5L1289.1,645L1289.7,641.5L1290.2,638L1288.6,634.5L1288.4,631L1288.3,627.5L1288.2,624L1288,620.5L1288,617L1287.9,613.5L1287.8,610L1287.8,606.5L1287.7,603L1287.7,599.5L1287.6,596L1287.6,592.5L1287.5,589L1287.5,585.5L1287.4,582L1287.4,578.5L1287.3,575L1288.5,571.5ZM1299,876L1299.2,879.5L1300.6,883L1300.8,886.5L1300.7,890L1300.5,893.5L1298.9,897L1295.6,897L1294.4,893.5L1294.5,890L1294.7,886.5L1295.2,883L1296.8,879.5L1297.2,876ZM1296.8,907.5L1298.7,911L1299.3,914.5L1299.1,918L1298.9,921.5L1298.7,925L1298.5,928.5L1298.3,932L1298.1,935.5L1297.9,939L1297.8,942.5L1297.6,946L1297.5,949.5L1297.1,953L1296.1,956.5L1294.7,960L1293.2,963.5L1291.7,967L1290.4,970.5L1289.4,974L1288.9,977.5L1288.3,981L1287.5,984.5L1285.1,988L1284.8,988L1283.9,984.5L1284.6,981L1285.2,977.5L1285.7,974L1286.5,970.5L1287.5,967L1288.5,963.5L1289.6,960L1290.6,956.5L1291.3,953L1291.6,949.5L1291.8,946L1291.9,942.5L1292,939L1292.2,935.5L1292.4,932L1292.5,928.5L1292.7,925L1292.9,921.5L1293.1,918L1293.3,914.5L1294.3,911L1296.6,907.5ZM1284.7,1005.5L1284.6,1009L1284.6,1012.5L1284.6,1016L1284.6,1019.5L1284.6,1023L1284.6,1026.5L1284.6,1030L1284.6,1033.5L1284.6,1037L1284.6,1040.5L1284.7,1044L1284.7,1047.5L1284.7,1051L1284.7,1054.5L1284.7,1058L1284.7,1061.5L1284.7,1065L1284.7,1068.5L1284.7,1072L1284.7,1075.5L1284.6,1079L1284.6,1082.5L1284.6,1086L1284.6,1089.5L1284.5,1093L1284.4,1096.5L1282,1096.5L1281.8,1093L1281.8,1089.5L1281.8,1086L1281.7,1082.5L1281.7,1079L1281.7,1075.5L1281.7,1072L1281.8,1068.5L1281.8,1065L1281.7,1061.5L1281.7,1058L1281.7,1054.5L1281.6,1051L1281.6,1047.5L1281.6,1044L1281.5,1040.5L1281.5,1037L1281.4,1033.5L1281.4,1030L1281.3,1026.5L1281.3,1023L1281.3,1019.5L1281.2,1016L1281.2,1012.5L1281.2,1009L1281.3,1005.5ZM1283.7,1103.5L1284.4,1107L1284.4,1110.5L1284.4,1114L1284.4,1117.5L1284.4,1121L1284.4,1124.5L1284.4,1128L1284.4,1131.5L1284.3,1135L1284.3,1138.5L1284.3,1142L1284.3,1145.5L1284.3,1149L1284.3,1152.5L1284.3,1156L1284.3,1159.5L1284.2,1163L1284.2,1166.5L1284.2,1170L1284.1,1173.5L1284.1,1177L1284.1,1180.5L1284.1,1184L1284.1,1187.5L1284.1,1191L1284.1,1194.5L1284.1,1198L1284,1201.5L1285.3,1205L1285.1,1208.5L1285,1212L1284.9,1215.5L1284.9,1219L1284.4,1222.5L1283.5,1222.5L1282.6,1219L1282.3,1215.5L1282,1212L1281.8,1208.5L1281.5,1205L1282.7,1201.5L1282.7,1198L1282.7,1194.5L1282.7,1191L1282.7,1187.5L1282.6,1184L1282.6,1180.5L1282.6,1177L1282.6,1173.5L1282.6,1170L1282.6,1166.5L1282.5,1163L1282.5,1159.5L1282.5,1156L1282.5,1152.5L1282.5,1149L1282.5,1145.5L1282.5,1142L1282.5,1138.5L1282.5,1135L1282.4,1131.5L1282.4,1128L1282.3,1124.5L1282.3,1121L1282.2,1117.5L1282.2,1114L1282.1,1110.5L1282.1,1107L1282.7,1103.5Z" fill="#482d8f"/>
<path d="M1260.5,625 L1260.5,686 Q1260,700 1240,701 L1195,701 L1195,735 L1225,735 C1250,738 1261,760 1263,795 L1263,820 L1298,820 L1298,782 C1300,755 1320,738 1375,732 L1375,702 L1365,702 C1315,695 1293,672 1291,625 Z" fill="#482d8f"/>
<path d="M1287.3,560L1285.9,566L1286.4,572L1286.1,578L1286.6,584L1286.6,590L1286.9,590L1288.1,584L1288.1,578L1288.5,572L1287.5,566L1287.6,560ZM1298.2,670.1L1298.6,673.5L1300,676.2L1302.1,678.4L1305.4,679.6L1305.7,679.3L1304,676.8L1302.2,674.5L1300.7,672.1L1298.6,669.9ZM1344.6,702.4L1348.4,703L1352,705L1356.1,705.2L1360.1,706.2L1364.7,707L1371,706.5L1371,706.2L1364.8,705.8L1360.4,704.4L1356.4,703.5L1352.4,703.3L1348.7,701.9L1344.7,702.2ZM1283,584L1281.9,590L1281.7,596L1282.1,602L1281.7,608L1282,614L1283.1,620L1283.4,620L1283.3,614L1283.7,608L1284.1,602L1283.7,596L1283.3,590L1283.3,584ZM1282.6,630.2L1282.8,634.1L1282.9,637.7L1282.9,641.4L1284.7,644.6L1285,644.6L1284.2,641.2L1284.4,637.6L1284.1,634L1282.8,630.2ZM1290.9,667.1L1292.8,669.7L1293.9,672.8L1295,675.9L1297.3,678.2L1299.5,680.6L1302.5,682.2L1302.7,682L1300.5,679.8L1298.9,677L1296.6,674.8L1295.5,671.8L1293.9,669.1L1291.2,666.9ZM1306.8,686.9L1308.5,689.9L1311.6,691.3L1313.7,694.1L1316.9,695.3L1317,695.1L1314.5,692.8L1312.5,690L1309.4,688.8L1307,686.7ZM1326.2,699.9L1329.4,701.4L1332.5,703.5L1336.2,704.4L1339.5,706.5L1343.6,706.3L1347.3,707.4L1347.4,707.1L1344,704.8L1340.1,704.2L1336.9,702.1L1333.4,701.2L1330,700L1326.3,699.6ZM1389,710.6L1395,711.1L1401,710.8L1407,711.7L1413,710.5L1419,710L1419,709.7L1413,708.6L1407,709.2L1401,708.3L1395,709.2L1389,710.3ZM1280.4,645.4L1280.7,649L1280.6,652.7L1282,656L1283.2,659.3L1284.7,662.5L1286.7,665.4L1287,665.2L1286,661.9L1285.3,658.6L1284.1,655.4L1282.7,652.2L1282.1,648.7L1280.7,645.3ZM1315.3,698L1317.9,700.5L1321.2,702.1L1324.5,703.5L1327.7,705.5L1331.6,705.9L1331.7,705.7L1328.1,704.5L1325.1,702.2L1321.8,700.8L1318.4,699.6L1315.4,697.8ZM1274.9,596L1274.2,602L1274.6,608L1274.3,614L1274.2,620L1274.5,626L1274.7,626L1275.5,620L1276,614L1276.4,608L1275.5,602L1275.1,596ZM1279,656.9L1279.4,660.6L1281,663.9L1282.8,667L1283.1,666.9L1282.9,663.1L1281.4,659.9L1279.3,656.8ZM1296.6,687.7L1298.4,690.9L1300.5,693.9L1303.4,696.2L1306,698.9L1309.8,699.9L1312.9,701.8L1313.1,701.5L1310.7,698.5L1307.6,696.7L1305.1,694.1L1302.3,691.9L1299.6,689.6L1296.8,687.4ZM1316.4,703.2L1319.4,705.6L1322.7,707.6L1325.9,709.7L1329.9,710.6L1329.9,710.3L1326.6,708.3L1323.4,706L1320.1,704.2L1316.5,703ZM1341.6,713.4L1345.3,715.9L1349.7,715.7L1349.8,715.4L1345.8,713.9L1341.7,713.1ZM1371,717.7L1377,718.7L1383,718.8L1389,717.6L1389,717.3L1383,717.2L1377,717.1L1371,717.5ZM1413,718.2L1419,719.4L1425,719.7L1431,717.7L1431,717.3L1425,716.7L1419,716.4L1413,717.8ZM1369.9,727.9L1365.5,728.4L1361.2,728.6L1357.2,730.5L1357.3,730.9L1361.6,731.3L1365.9,731L1370,728.3ZM1295.4,774.8L1293.8,776.9L1293.9,779.3L1293.7,781.9L1293.9,781.9L1295.5,779.5L1295.4,777.1L1295.6,774.8ZM1348.5,727.6L1344.5,727.5L1341.1,729.3L1337.4,729.5L1334.3,731.6L1334.4,731.9L1337.9,731.2L1341.6,731.2L1345,729.3L1348.6,727.9ZM1328.1,734.2L1325.1,735.4L1321.8,735.6L1319.4,737.7L1316.7,739.1L1314.5,741L1312,742.5L1312.2,742.6L1315,741.8L1317.5,740.4L1320.1,739L1322.4,736.9L1325.5,736.3L1328.2,734.4ZM1298.8,755.5L1297,757.4L1295.5,759.5L1294.1,761.6L1292.7,763.8L1292.4,766.4L1292.6,769.1L1292.8,769.2L1293.5,766.8L1294.3,764.4L1295.7,762.4L1297,760.3L1298,757.9L1299,755.6ZM1290.7,773.8L1289.5,776.2L1289.4,778.8L1288.5,781.8L1288.5,788L1289.7,794L1290.1,800L1290.4,800L1290.9,794L1290.4,788L1290.5,781.8L1291.3,779L1290.7,776.4L1291,773.9ZM1289.7,812L1289,818L1288.5,824L1289.2,830L1289.6,830L1290.8,824L1291.3,818L1290,812ZM1343.8,724.6L1340,725.2L1336.5,726.5L1332.8,726.8L1329.8,729.1L1326.8,730.8L1326.9,731L1330.3,730.4L1333.3,728.6L1337,728.2L1340.3,726.5L1343.9,724.9ZM1285.2,806L1284.7,812L1284.7,818L1284.5,824L1285.5,830L1285.9,830L1287.2,824L1287.7,818L1287.3,812L1285.7,806ZM1267.1,860L1268.5,854L1268.1,848L1268,842L1267.1,836L1266.8,836L1266.1,842L1266,848L1266.6,854L1266.8,860ZM1266.3,784.4L1267.1,780.9L1266.6,777.7L1264.6,774.8L1264.3,774.9L1264.4,778.1L1264.9,781.2L1266,784.4ZM1250.2,742.7L1248.6,740.7L1246.6,739.3L1244.9,737.4L1242.6,736.4L1240.7,734.6L1238.2,733.9L1238.1,734.1L1240.2,735.5L1241.7,737.8L1244,738.7L1245.6,740.6L1247.9,741.5L1250,742.9ZM1201,730.3L1195,729.6L1189,729.3L1183,730.7L1183,731L1189,731.7L1195,732L1201,730.6ZM1177,730.6L1171,729.7L1165,730.6L1159,730.9L1159,731.2L1165,732.2L1171,731.3L1177,730.8ZM1269.6,777.2L1268.7,774L1268.7,770.8L1268.1,767.6L1267.3,764.6L1265.4,762L1264.5,759.2L1264.3,759.3L1264.5,762.3L1265.9,765L1266.7,768L1267.2,771.1L1267.7,774.2L1269.4,777.2ZM1263.2,756.5L1263.2,753.4L1262.1,750.7L1260.8,748.1L1258.6,746.1L1256.7,744.1L1256.5,744.3L1257.4,746.9L1259.1,749.1L1260.4,751.6L1261.9,754L1263,756.7ZM1248.8,736.6L1247.1,734.3L1244.9,732.7L1242.5,731.3L1240.1,729.7L1236.9,730.1L1236.8,730.4L1239.5,731L1241.6,733L1243.8,734.3L1246.2,735.5L1248.6,736.8ZM1228.8,727.7L1225.4,726.8L1219,726L1213,726.6L1207,725.8L1201,726.6L1195,726.4L1195,726.7L1201,727.9L1207,727.7L1213,728.6L1219,728L1225.3,728.1L1228.8,728ZM1264.8,749.3L1264.3,746L1262.6,743.5L1260.9,740.9L1257.5,739.8L1257.2,740.1L1258.9,742.4L1260.3,745L1262.1,747.3L1264.4,749.5ZM1251.3,733.5L1249.8,730.5L1247.1,729L1244.2,728.1L1244,728.5L1245.6,731.5L1248.2,732.8L1251,733.9ZM1224,705.4L1230,706.5L1236,706.7L1240.8,706.3L1251.7,703.1L1260.7,697L1260.4,696.7L1250.9,701.3L1240.4,703.8L1236,704.1L1230,704.5L1224,705ZM1268.6,680L1269.3,674L1270,668L1270,662L1270.1,656L1268.9,650L1268.8,644L1268.3,644L1267,650L1267.1,656L1267,662L1267,668L1267.4,674L1268.2,680Z" fill="#200e44"/>
</g>
<path d="M1280,670.5 Q1293.4,706.6 1329.5,720 Q1293.4,733.4 1280,769.5 Q1266.6,733.4 1230.5,720 Q1266.6,706.6 1280,670.5Z" fill="url(#gstar)"/>
<path d="M506,852 Q515,876.5 539.5,885.5 Q515,894.5 506,919 Q497,894.5 472.5,885.5 Q497,876.5 506,852Z" fill="#fdb82b"/>
<path d="M559,907 Q563.2,918.3 574.5,922.5 Q563.2,926.7 559,938 Q554.8,926.7 543.5,922.5 Q554.8,918.3 559,907Z" fill="#fdb82b"/>
<path d="M413.6,942.1 Q419.4,957.7 435,963.5 Q419.4,969.3 413.6,984.9 Q407.8,969.3 392.2,963.5 Q407.8,957.7 413.6,942.1Z" fill="none" stroke="url(#gspk)" stroke-width="3.6" stroke-linejoin="round"/>
<ellipse cx="2023" cy="1106.5" rx="25.5" ry="10.5" fill="#2d1752"/>
<g fill="none" stroke="#482d8f" stroke-width="6.2" stroke-linecap="round" stroke-linejoin="round"><path d="M2012.8,1061.1C2012.2,1059.7 2009.7,1056 2009.3,1052.8C2009,1049.5 2009.4,1045.4 2010.7,1041.7C2012,1038 2014.6,1034.3 2016.9,1030.6C2019.3,1026.9 2026.4,1023.8 2024.6,1019.4C2022.7,1015 2012.4,1009 2005.8,1004.2C1999.2,999.3 1991.9,994.3 1985,990.3C1978.1,986.2 1971.1,982.6 1964.2,979.9C1957.2,977.1 1949.6,974.9 1943.3,973.6C1937.1,972.3 1931.3,971.9 1926.7,972.2C1922,972.6 1918.3,974 1915.6,975.7C1912.8,977.4 1911,980 1910,982.6C1909,985.3 1908.7,988.5 1909.3,991.7C1909.9,994.8 1914.7,999.3 1913.5,1001.4C1912.2,1003.5 1905.9,1002.8 1901.7,1004.2C1897.4,1005.6 1891.5,1007.4 1887.8,1009.7C1884.1,1012 1881.2,1015 1879.4,1018.1C1877.7,1021.1 1877.1,1024.3 1877.4,1027.8C1877.6,1031.2 1878.9,1035.4 1880.8,1038.9C1882.8,1042.4 1888.7,1045.6 1889.2,1048.9C1889.6,1052.1 1884.8,1054.9 1883.6,1058.3C1882.5,1061.8 1881.8,1065.7 1882.2,1069.4C1882.7,1073.1 1884.1,1077.3 1886.4,1080.6C1888.7,1083.8 1891.2,1086.3 1896.1,1088.9C1901,1091.4 1907.7,1093.3 1915.6,1095.8C1923.4,1098.4 1934.1,1100.9 1943.3,1104.2C1952.6,1107.4 1963,1112 1971.1,1115.3C1979.2,1118.5 1985,1121.4 1991.9,1123.6C1998.9,1125.8 2005.8,1127.8 2012.8,1128.5C2019.7,1129.2 2026.7,1129.1 2033.6,1127.8C2040.6,1126.5 2048.7,1124.3 2054.4,1120.8C2060.2,1117.4 2064.9,1112.3 2068.3,1106.9C2071.8,1101.6 2073.5,1095.4 2075.3,1088.9C2077,1082.4 2078.5,1075 2078.8,1068.1C2079,1061.1 2077.9,1053.5 2076.7,1047.2C2075.4,1041 2072,1035.9 2071.1,1030.6C2070.2,1025.2 2070.2,1019.9 2071.1,1015.3C2072,1010.6 2075.3,1006.7 2076.7,1002.8C2078.1,998.8 2079.6,994.9 2079.4,991.7C2079.3,988.4 2078.1,985.5 2076,983.3C2073.9,981.1 2070.1,979.2 2066.9,978.5C2063.8,977.8 2060.7,977.9 2057.2,979.2C2053.8,980.4 2049.6,983.1 2046.1,986.1C2042.6,989.1 2039.1,993.5 2036.4,997.2C2033.7,1000.9 2031.8,1005.1 2030.1,1008.3C2028.5,1011.6 2027.6,1014.8 2026.7,1016.7C2025.7,1018.5 2024.9,1019 2024.6,1019.4"/><path d="M1913.5,1001.7C1916.1,1002.8 1923.3,1005.6 1929.4,1008.3C1935.6,1011.1 1943.8,1014.8 1950.3,1018.1C1956.8,1021.3 1963.8,1025.3 1968.3,1027.8C1972.8,1030.2 1975.9,1031.8 1977.4,1032.6" stroke-width="5"/><path d="M1889.4,1049.7C1893.8,1050.2 1907.7,1051.5 1915.6,1052.8C1923.4,1054.1 1929.4,1055.8 1936.4,1057.6C1943.3,1059.5 1952,1062.3 1957.2,1063.9C1962.4,1065.5 1965.9,1066.8 1967.6,1067.4" stroke-width="5"/></g>
<circle cx="2193" cy="1091.3" r="89" fill="url(#gsun)"/>
<path d="M2176.7,940.4C2175.9,940.8 2175.2,941.8 2174.9,942.9C2174.7,943.9 2174.6,945.2 2174.9,946.6C2175.2,948 2175.8,949.6 2176.5,951.3C2177.2,952.9 2178.2,954.7 2179.2,956.5C2180.2,958.3 2181.3,960.1 2182.5,962C2183.7,964 2185.2,966.2 2186.5,968.2C2187.8,970.3 2189.1,972.4 2190.4,974.5C2191.7,976.6 2193.2,979.3 2194.1,980.9C2195.1,982.4 2195.4,983.2 2195.9,983.8C2196.4,984.5 2196.9,985 2197.1,984.9C2197.3,984.8 2197.3,984.1 2197.1,983.3C2196.9,982.5 2196.6,981.7 2196,980C2195.4,978.3 2194.4,975.4 2193.6,973C2192.8,970.7 2192.1,968.3 2191.4,966C2190.7,963.6 2190,961.1 2189.3,958.9C2188.6,956.7 2187.9,954.7 2187.2,952.8C2186.5,950.9 2185.8,949 2185,947.4C2184.2,945.8 2183.4,944.2 2182.5,943.1C2181.6,942 2180.6,941.2 2179.6,940.7C2178.6,940.3 2177.4,940.1 2176.7,940.4ZM2252.9,915.6C2251.2,915.1 2249,915.5 2247.4,916.3C2245.7,917.1 2244.2,918.6 2243,920.3C2241.8,922.1 2241,924.5 2240.3,927C2239.6,929.5 2239.1,932.4 2238.6,935.4C2238.2,938.3 2237.9,941.3 2237.7,944.7C2237.4,948 2237.2,951.9 2237,955.5C2236.7,959.1 2236.5,962.8 2236.1,966.3C2235.8,969.9 2235.2,974.4 2234.9,977C2234.6,979.7 2234.3,980.8 2234.4,982.1C2234.4,983.3 2234.7,984.3 2235.1,984.4C2235.5,984.6 2236.3,983.8 2236.9,982.7C2237.5,981.6 2237.9,980.5 2238.9,978.1C2239.9,975.6 2241.6,971.4 2243,968.1C2244.4,964.8 2245.9,961.5 2247.5,958.2C2249,955 2250.7,951.5 2252.1,948.4C2253.5,945.4 2254.7,942.6 2255.8,939.8C2256.8,937 2257.8,934.2 2258.4,931.7C2258.9,929.1 2259.4,926.7 2259.2,924.5C2259.1,922.4 2258.4,920.4 2257.3,918.9C2256.3,917.4 2254.5,916 2252.9,915.6ZM2335.1,950C2333.7,948.7 2331.3,948 2329.2,948C2327.1,948.1 2324.7,948.8 2322.5,950C2320.2,951.3 2318,953.4 2315.8,955.7C2313.5,957.9 2311.2,960.7 2309,963.6C2306.7,966.5 2304.7,969.5 2302.4,972.9C2300,976.3 2297.5,980.3 2295.1,983.9C2292.6,987.6 2290.1,991.3 2287.6,994.8C2285.1,998.4 2281.8,1002.9 2279.9,1005.5C2278,1008.1 2277,1009.1 2276.3,1010.5C2275.6,1011.8 2275.2,1013 2275.6,1013.3C2275.9,1013.7 2277.1,1013.2 2278.4,1012.4C2279.7,1011.6 2280.7,1010.6 2283.1,1008.5C2285.6,1006.5 2289.8,1002.9 2293.3,1000.2C2296.7,997.4 2300.2,994.7 2303.7,992.1C2307.2,989.4 2311,986.6 2314.3,984.1C2317.5,981.6 2320.4,979.3 2323.1,976.9C2325.9,974.5 2328.5,972 2330.6,969.7C2332.8,967.3 2334.7,965 2335.9,962.6C2337,960.3 2337.5,957.9 2337.4,955.8C2337.3,953.6 2336.5,951.3 2335.1,950ZM2371.6,1042.2C2371.2,1040.7 2369.9,1039.1 2368.4,1038.1C2367,1037.1 2365,1036.5 2362.8,1036.3C2360.6,1036.1 2358,1036.5 2355.4,1036.9C2352.7,1037.4 2349.7,1038.2 2346.8,1039.1C2343.8,1040 2340.9,1041.1 2337.6,1042.3C2334.3,1043.5 2330.6,1045 2327.1,1046.4C2323.6,1047.7 2320.1,1049 2316.6,1050.2C2313.1,1051.5 2308.6,1052.9 2306,1053.8C2303.4,1054.7 2302.2,1055 2301,1055.5C2299.9,1056.1 2299,1056.7 2299.1,1057.1C2299.2,1057.5 2300.3,1057.8 2301.5,1057.8C2302.8,1057.9 2304,1057.7 2306.7,1057.4C2309.5,1057.2 2314.1,1056.8 2317.9,1056.5C2321.6,1056.3 2325.3,1056.1 2329.1,1056C2332.8,1055.8 2336.8,1055.7 2340.3,1055.5C2343.8,1055.4 2346.9,1055.2 2350,1054.8C2353.1,1054.5 2356.1,1054.1 2358.8,1053.5C2361.4,1052.9 2363.9,1052.2 2365.8,1051.2C2367.8,1050.1 2369.4,1048.7 2370.3,1047.2C2371.3,1045.7 2371.9,1043.7 2371.6,1042.2ZM2362.2,1115.6C2362.5,1114.2 2362,1112.5 2361.2,1111.2C2360.4,1109.9 2358.9,1108.6 2357.2,1107.6C2355.5,1106.7 2353.3,1106 2350.9,1105.4C2348.5,1104.8 2345.8,1104.3 2343,1103.9C2340.3,1103.5 2337.5,1103.3 2334.4,1103C2331.2,1102.8 2327.6,1102.6 2324.3,1102.3C2320.9,1102.1 2317.5,1101.8 2314.2,1101.5C2310.8,1101.2 2306.6,1100.7 2304.2,1100.4C2301.7,1100.1 2300.7,1099.9 2299.5,1099.9C2298.4,1099.9 2297.4,1100.1 2297.3,1100.4C2297.3,1100.8 2298,1101.4 2299,1101.9C2300.1,1102.4 2301.1,1102.7 2303.5,1103.5C2305.8,1104.4 2309.8,1105.8 2312.9,1106.9C2316.1,1108.1 2319.2,1109.4 2322.3,1110.6C2325.5,1111.9 2328.8,1113.3 2331.7,1114.5C2334.6,1115.6 2337.2,1116.6 2339.9,1117.5C2342.5,1118.4 2345.2,1119.2 2347.6,1119.7C2350,1120.2 2352.3,1120.6 2354.2,1120.5C2356.2,1120.4 2358,1119.8 2359.4,1119C2360.7,1118.2 2361.9,1116.9 2362.2,1115.6Z" fill="#fba650"/>
<g fill="none" stroke="#200e44" stroke-width="3" stroke-linecap="round"><path d="M2141.6,1036 Q2151.1,1027.1 2160.9,1040.9"/><path d="M2191.1,1052.9 Q2201.1,1044 2210.9,1058.2"/><path d="M2150,1058.2 C2156.7,1073.8 2173.3,1081.1 2192.2,1070.7"/></g>
<g font-family="Liberation Serif, serif" font-weight="700" fill="#faa61a" stroke="#faa61a" stroke-width="6.6" stroke-linejoin="round" stroke-linecap="round" paint-order="stroke"><text y="164.6" font-size="86" x="111.5 182.5 263 341 381.5 453.5">THRIVE</text><text transform="translate(0,270) scale(1.2,1)" y="0" font-size="84.5" x="92.9 127.9 165 214.2 291.2 334.2 405 455 493.3">framework</text></g>
</svg>

<div class="q" style="left:806px;top:419px">Getting<br>advice</div>
<div class="q" style="left:1256px;top:419px">Getting<br>help</div>
<div class="q" style="left:806px;top:830px">Getting<br>risk<br>support</div>
<div class="q" style="left:1256px;top:830px">Getting<br>more<br>help</div>
</body></html>
